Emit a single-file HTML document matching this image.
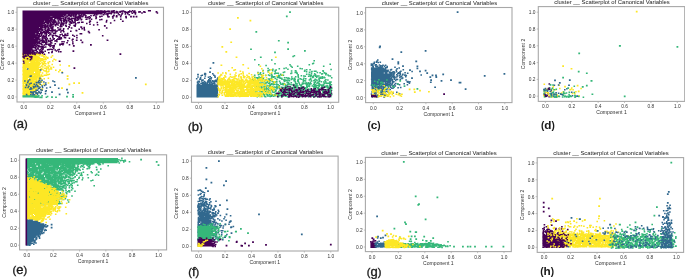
<!DOCTYPE html>
<html><head><meta charset="utf-8"><style>
html,body{margin:0;padding:0;background:#fff;width:685px;height:279px;overflow:hidden}
svg{display:block}
text{font-family:"Liberation Sans",sans-serif;fill:#333}
.wrap{will-change:transform;width:685px;height:279px}
.tk{font-size:4.8px}
.al{font-size:5.1px}
.tt{font-size:5.9px;fill:#222}
.lb{font-size:11px;fill:#1a1a1a;stroke:#1a1a1a;stroke-width:0.35px}
.lt{font-size:13px}
.lbb{font-size:10px;font-weight:bold;fill:#1a1a1a}
.lbb .lt{font-size:11.8px}
</style></head><body>
<div class="wrap"><svg width="685" height="279" viewBox="0 0 685 279">
<rect width="685" height="279" fill="#fff"/>
<defs><clipPath id="ca"><rect x="17" y="7.3" width="146.5" height="94.7"/></clipPath><clipPath id="cb"><rect x="191.5" y="7.2" width="147.2" height="95.1"/></clipPath><clipPath id="cc"><rect x="365.6" y="7.5" width="146.39999999999998" height="95.1"/></clipPath><clipPath id="cd"><rect x="538.3" y="6.6" width="146.4000000000001" height="94.80000000000001"/></clipPath><clipPath id="ce"><rect x="19.6" y="154.8" width="147.0" height="95.1"/></clipPath><clipPath id="cf"><rect x="191.5" y="156.1" width="146.60000000000002" height="94.9"/></clipPath><clipPath id="cg"><rect x="365.4" y="157.4" width="145.90000000000003" height="94.19999999999999"/></clipPath><clipPath id="ch"><rect x="537.2" y="157.6" width="146.39999999999998" height="94.80000000000001"/></clipPath></defs>
<g clip-path="url(#ca)"><path fill="#fde725" d="M22.4 52.8h1.6v1.5h-1.6zM23.7 52.6h1.6v1.5h-1.6zM25.1 52.8h1.6v1.5h-1.6zM26.1 52.6h1.6v1.5h-1.6zM27.5 52.6h1.6v1.5h-1.6zM28.6 52.6h1.6v1.5h-1.6zM30.2 52.8h1.6v1.5h-1.6zM31.3 52.6h1.6v1.5h-1.6zM32.5 52.6h1.6v1.5h-1.6zM33.7 52.6h1.6v1.5h-1.6zM34.8 53.0h1.6v1.5h-1.6zM36.3 52.6h1.6v1.5h-1.6zM38.4 53.1h1.6v1.5h-1.6zM22.4 54.2h1.6v1.5h-1.6zM23.8 53.8h1.6v1.5h-1.6zM25.1 54.1h1.6v1.5h-1.6zM26.3 54.0h1.6v1.5h-1.6zM27.6 53.9h1.6v1.5h-1.6zM28.7 54.1h1.6v1.5h-1.6zM30.1 54.2h1.6v1.5h-1.6zM31.3 54.1h1.6v1.5h-1.6zM32.5 53.9h1.6v1.5h-1.6zM33.9 54.2h1.6v1.5h-1.6zM34.8 53.8h1.6v1.5h-1.6zM36.2 53.8h1.6v1.5h-1.6zM37.7 53.6h1.6v1.5h-1.6zM38.5 54.0h1.6v1.5h-1.6zM39.6 53.6h1.6v1.5h-1.6zM41.5 54.1h1.6v1.5h-1.6zM44.5 54.3h1.6v1.5h-1.6zM22.7 55.4h1.6v1.5h-1.6zM23.9 55.3h1.6v1.5h-1.6zM25.1 55.3h1.6v1.5h-1.6zM26.4 55.2h1.6v1.5h-1.6zM28.6 55.2h1.6v1.5h-1.6zM30.0 55.1h1.6v1.5h-1.6zM31.1 55.2h1.6v1.5h-1.6zM32.6 55.2h1.6v1.5h-1.6zM33.9 55.3h1.6v1.5h-1.6zM34.9 55.3h1.6v1.5h-1.6zM36.1 55.5h1.6v1.5h-1.6zM37.3 55.5h1.6v1.5h-1.6zM39.0 54.9h1.6v1.5h-1.6zM41.2 55.2h1.6v1.5h-1.6zM42.2 54.8h1.6v1.5h-1.6zM51.7 55.1h1.6v1.5h-1.6zM22.4 56.3h1.6v1.5h-1.6zM23.8 56.5h1.6v1.5h-1.6zM25.1 56.5h1.6v1.5h-1.6zM26.4 56.4h1.6v1.5h-1.6zM27.4 56.5h1.6v1.5h-1.6zM28.6 56.6h1.6v1.5h-1.6zM29.9 56.6h1.6v1.5h-1.6zM31.4 56.6h1.6v1.5h-1.6zM32.6 56.7h1.6v1.5h-1.6zM33.9 56.7h1.6v1.5h-1.6zM35.2 56.7h1.6v1.5h-1.6zM36.0 56.4h1.6v1.5h-1.6zM37.6 56.7h1.6v1.5h-1.6zM38.4 56.9h1.6v1.5h-1.6zM43.0 56.3h1.6v1.5h-1.6zM43.6 56.1h1.6v1.5h-1.6zM45.4 56.3h1.6v1.5h-1.6zM46.9 56.7h1.6v1.5h-1.6zM50.5 56.5h1.6v1.5h-1.6zM22.6 57.9h1.6v1.5h-1.6zM23.6 57.9h1.6v1.5h-1.6zM24.8 57.7h1.6v1.5h-1.6zM26.1 57.9h1.6v1.5h-1.6zM27.6 57.7h1.6v1.5h-1.6zM28.6 57.7h1.6v1.5h-1.6zM29.9 57.8h1.6v1.5h-1.6zM31.3 57.7h1.6v1.5h-1.6zM32.4 57.6h1.6v1.5h-1.6zM33.7 57.6h1.6v1.5h-1.6zM35.1 57.6h1.6v1.5h-1.6zM36.3 57.7h1.6v1.5h-1.6zM37.8 57.7h1.6v1.5h-1.6zM38.9 57.6h1.6v1.5h-1.6zM40.3 57.9h1.6v1.5h-1.6zM41.9 57.9h1.6v1.5h-1.6zM44.5 57.7h1.6v1.5h-1.6zM46.6 57.5h1.6v1.5h-1.6zM47.1 57.2h1.6v1.5h-1.6zM22.4 58.9h1.6v1.5h-1.6zM23.8 59.0h1.6v1.5h-1.6zM24.9 59.1h1.6v1.5h-1.6zM26.3 59.1h1.6v1.5h-1.6zM27.5 58.9h1.6v1.5h-1.6zM28.7 58.9h1.6v1.5h-1.6zM29.9 59.2h1.6v1.5h-1.6zM31.1 58.8h1.6v1.5h-1.6zM32.6 58.9h1.6v1.5h-1.6zM33.6 59.1h1.6v1.5h-1.6zM35.1 59.0h1.6v1.5h-1.6zM36.2 59.0h1.6v1.5h-1.6zM37.6 59.0h1.6v1.5h-1.6zM39.1 59.3h1.6v1.5h-1.6zM40.2 59.3h1.6v1.5h-1.6zM41.8 59.5h1.6v1.5h-1.6zM43.1 58.8h1.6v1.5h-1.6zM44.3 58.6h1.6v1.5h-1.6zM45.2 58.7h1.6v1.5h-1.6zM53.3 58.4h1.6v1.5h-1.6zM54.9 59.3h1.6v1.5h-1.6zM22.6 60.1h1.6v1.5h-1.6zM23.8 60.4h1.6v1.5h-1.6zM25.0 60.1h1.6v1.5h-1.6zM26.1 60.4h1.6v1.5h-1.6zM27.4 60.1h1.6v1.5h-1.6zM28.9 60.4h1.6v1.5h-1.6zM30.1 60.1h1.6v1.5h-1.6zM31.2 60.2h1.6v1.5h-1.6zM32.7 60.1h1.6v1.5h-1.6zM33.9 60.2h1.6v1.5h-1.6zM35.1 60.1h1.6v1.5h-1.6zM36.4 60.4h1.6v1.5h-1.6zM37.3 60.4h1.6v1.5h-1.6zM39.1 60.0h1.6v1.5h-1.6zM39.5 60.6h1.6v1.5h-1.6zM40.7 60.0h1.6v1.5h-1.6zM42.7 60.4h1.6v1.5h-1.6zM44.3 60.8h1.6v1.5h-1.6zM52.0 60.3h1.6v1.5h-1.6zM23.9 61.4h1.6v1.5h-1.6zM25.0 61.6h1.6v1.5h-1.6zM26.2 61.6h1.6v1.5h-1.6zM27.3 61.4h1.6v1.5h-1.6zM30.2 61.6h1.6v1.5h-1.6zM31.2 61.5h1.6v1.5h-1.6zM32.3 61.4h1.6v1.5h-1.6zM33.7 61.5h1.6v1.5h-1.6zM35.1 61.7h1.6v1.5h-1.6zM36.1 61.4h1.6v1.5h-1.6zM37.3 61.7h1.6v1.5h-1.6zM38.8 61.7h1.6v1.5h-1.6zM41.2 61.9h1.6v1.5h-1.6zM43.7 60.9h1.6v1.5h-1.6zM47.3 61.7h1.6v1.5h-1.6zM48.8 61.1h1.6v1.5h-1.6zM22.3 62.7h1.6v1.5h-1.6zM23.9 62.9h1.6v1.5h-1.6zM25.1 62.9h1.6v1.5h-1.6zM26.1 62.7h1.6v1.5h-1.6zM27.4 62.8h1.6v1.5h-1.6zM28.6 62.8h1.6v1.5h-1.6zM30.2 62.8h1.6v1.5h-1.6zM31.4 62.9h1.6v1.5h-1.6zM32.6 62.7h1.6v1.5h-1.6zM33.9 62.7h1.6v1.5h-1.6zM34.9 62.7h1.6v1.5h-1.6zM36.1 62.8h1.6v1.5h-1.6zM37.6 62.8h1.6v1.5h-1.6zM38.8 63.1h1.6v1.5h-1.6zM39.5 62.9h1.6v1.5h-1.6zM41.9 63.3h1.6v1.5h-1.6zM42.9 62.4h1.6v1.5h-1.6zM43.6 62.6h1.6v1.5h-1.6zM45.0 62.9h1.6v1.5h-1.6zM47.6 62.9h1.6v1.5h-1.6zM22.6 63.9h1.6v1.5h-1.6zM23.9 63.9h1.6v1.5h-1.6zM24.9 63.9h1.6v1.5h-1.6zM26.4 63.9h1.6v1.5h-1.6zM27.4 64.1h1.6v1.5h-1.6zM28.9 63.9h1.6v1.5h-1.6zM30.2 63.9h1.6v1.5h-1.6zM31.3 64.0h1.6v1.5h-1.6zM32.6 63.9h1.6v1.5h-1.6zM33.6 64.0h1.6v1.5h-1.6zM35.1 63.9h1.6v1.5h-1.6zM36.2 64.0h1.6v1.5h-1.6zM37.5 64.0h1.6v1.5h-1.6zM38.4 64.3h1.6v1.5h-1.6zM41.8 63.9h1.6v1.5h-1.6zM43.0 63.7h1.6v1.5h-1.6zM51.4 63.8h1.6v1.5h-1.6zM59.4 64.2h1.6v1.5h-1.6zM22.7 65.1h1.6v1.5h-1.6zM23.9 65.4h1.6v1.5h-1.6zM25.1 65.2h1.6v1.5h-1.6zM26.2 65.3h1.6v1.5h-1.6zM27.7 65.4h1.6v1.5h-1.6zM28.6 65.2h1.6v1.5h-1.6zM30.1 65.2h1.6v1.5h-1.6zM31.2 65.2h1.6v1.5h-1.6zM32.5 65.4h1.6v1.5h-1.6zM33.9 65.3h1.6v1.5h-1.6zM34.8 65.3h1.6v1.5h-1.6zM36.2 65.3h1.6v1.5h-1.6zM37.3 65.5h1.6v1.5h-1.6zM40.8 65.3h1.6v1.5h-1.6zM44.1 65.1h1.6v1.5h-1.6zM44.5 65.1h1.6v1.5h-1.6zM47.6 65.2h1.6v1.5h-1.6zM48.7 65.3h1.6v1.5h-1.6zM22.3 66.6h1.6v1.5h-1.6zM23.8 66.7h1.6v1.5h-1.6zM24.9 66.6h1.6v1.5h-1.6zM26.2 66.4h1.6v1.5h-1.6zM27.7 66.7h1.6v1.5h-1.6zM28.9 66.4h1.6v1.5h-1.6zM30.1 66.4h1.6v1.5h-1.6zM31.2 66.7h1.6v1.5h-1.6zM32.4 66.4h1.6v1.5h-1.6zM33.9 66.4h1.6v1.5h-1.6zM34.9 66.6h1.6v1.5h-1.6zM36.4 66.5h1.6v1.5h-1.6zM37.5 66.7h1.6v1.5h-1.6zM39.0 66.5h1.6v1.5h-1.6zM39.8 66.2h1.6v1.5h-1.6zM42.1 66.3h1.6v1.5h-1.6zM46.0 66.2h1.6v1.5h-1.6zM47.6 67.1h1.6v1.5h-1.6zM50.2 66.8h1.6v1.5h-1.6zM52.7 66.5h1.6v1.5h-1.6zM22.5 67.7h1.6v1.5h-1.6zM23.6 67.8h1.6v1.5h-1.6zM25.0 67.6h1.6v1.5h-1.6zM27.7 67.7h1.6v1.5h-1.6zM28.7 67.9h1.6v1.5h-1.6zM30.1 67.9h1.6v1.5h-1.6zM31.3 67.6h1.6v1.5h-1.6zM32.5 67.7h1.6v1.5h-1.6zM33.8 67.6h1.6v1.5h-1.6zM34.8 67.9h1.6v1.5h-1.6zM36.4 67.8h1.6v1.5h-1.6zM37.3 68.0h1.6v1.5h-1.6zM40.5 68.0h1.6v1.5h-1.6zM44.1 67.4h1.6v1.5h-1.6zM44.5 67.5h1.6v1.5h-1.6zM46.0 68.1h1.6v1.5h-1.6zM50.1 68.3h1.6v1.5h-1.6zM50.7 68.2h1.6v1.5h-1.6zM22.5 68.8h1.6v1.5h-1.6zM23.6 69.2h1.6v1.5h-1.6zM25.0 69.1h1.6v1.5h-1.6zM26.2 69.1h1.6v1.5h-1.6zM28.9 69.2h1.6v1.5h-1.6zM29.8 69.0h1.6v1.5h-1.6zM31.4 68.9h1.6v1.5h-1.6zM32.7 69.0h1.6v1.5h-1.6zM33.6 69.0h1.6v1.5h-1.6zM35.0 68.9h1.6v1.5h-1.6zM36.2 69.2h1.6v1.5h-1.6zM37.7 68.8h1.6v1.5h-1.6zM39.2 69.1h1.6v1.5h-1.6zM40.9 68.5h1.6v1.5h-1.6zM42.0 68.5h1.6v1.5h-1.6zM45.6 69.6h1.6v1.5h-1.6zM48.2 68.5h1.6v1.5h-1.6zM55.0 69.4h1.6v1.5h-1.6zM22.3 70.2h1.6v1.5h-1.6zM23.9 70.3h1.6v1.5h-1.6zM24.9 70.2h1.6v1.5h-1.6zM26.1 70.3h1.6v1.5h-1.6zM27.3 70.1h1.6v1.5h-1.6zM28.6 70.3h1.6v1.5h-1.6zM30.0 70.4h1.6v1.5h-1.6zM31.4 70.4h1.6v1.5h-1.6zM32.3 70.2h1.6v1.5h-1.6zM33.7 70.3h1.6v1.5h-1.6zM35.1 70.3h1.6v1.5h-1.6zM36.3 70.1h1.6v1.5h-1.6zM37.5 70.5h1.6v1.5h-1.6zM38.6 70.2h1.6v1.5h-1.6zM42.8 69.8h1.6v1.5h-1.6zM44.2 70.3h1.6v1.5h-1.6zM45.5 70.5h1.6v1.5h-1.6zM48.1 70.3h1.6v1.5h-1.6zM22.6 71.4h1.6v1.5h-1.6zM23.8 71.4h1.6v1.5h-1.6zM25.1 71.5h1.6v1.5h-1.6zM26.3 71.7h1.6v1.5h-1.6zM27.4 71.5h1.6v1.5h-1.6zM28.6 71.5h1.6v1.5h-1.6zM30.0 71.6h1.6v1.5h-1.6zM31.4 71.4h1.6v1.5h-1.6zM32.3 71.6h1.6v1.5h-1.6zM35.1 71.7h1.6v1.5h-1.6zM36.3 71.4h1.6v1.5h-1.6zM37.3 71.2h1.6v1.5h-1.6zM39.0 71.6h1.6v1.5h-1.6zM39.5 71.1h1.6v1.5h-1.6zM47.3 71.0h1.6v1.5h-1.6zM58.0 71.0h1.6v1.5h-1.6zM61.4 71.3h1.6v1.5h-1.6zM22.5 72.9h1.6v1.5h-1.6zM23.7 72.7h1.6v1.5h-1.6zM25.1 72.7h1.6v1.5h-1.6zM26.3 72.9h1.6v1.5h-1.6zM27.4 72.8h1.6v1.5h-1.6zM28.6 72.7h1.6v1.5h-1.6zM29.8 72.7h1.6v1.5h-1.6zM31.3 72.7h1.6v1.5h-1.6zM32.5 72.8h1.6v1.5h-1.6zM33.9 72.9h1.6v1.5h-1.6zM35.0 72.7h1.6v1.5h-1.6zM36.4 73.0h1.6v1.5h-1.6zM37.8 72.5h1.6v1.5h-1.6zM38.6 72.9h1.6v1.5h-1.6zM41.7 72.3h1.6v1.5h-1.6zM45.8 72.2h1.6v1.5h-1.6zM22.3 74.0h1.6v1.5h-1.6zM23.7 74.0h1.6v1.5h-1.6zM25.2 73.8h1.6v1.5h-1.6zM26.4 73.9h1.6v1.5h-1.6zM27.5 73.8h1.6v1.5h-1.6zM28.8 73.9h1.6v1.5h-1.6zM29.9 74.1h1.6v1.5h-1.6zM31.1 74.1h1.6v1.5h-1.6zM32.7 73.8h1.6v1.5h-1.6zM33.7 74.0h1.6v1.5h-1.6zM34.8 74.1h1.6v1.5h-1.6zM36.4 73.8h1.6v1.5h-1.6zM37.5 73.6h1.6v1.5h-1.6zM38.7 73.9h1.6v1.5h-1.6zM40.8 74.3h1.6v1.5h-1.6zM43.6 74.6h1.6v1.5h-1.6zM45.2 74.4h1.6v1.5h-1.6zM45.7 74.2h1.6v1.5h-1.6zM47.1 74.0h1.6v1.5h-1.6zM48.5 73.6h1.6v1.5h-1.6zM22.7 75.3h1.6v1.5h-1.6zM23.6 75.2h1.6v1.5h-1.6zM25.1 75.2h1.6v1.5h-1.6zM26.2 75.2h1.6v1.5h-1.6zM27.5 75.3h1.6v1.5h-1.6zM28.6 75.3h1.6v1.5h-1.6zM30.0 75.3h1.6v1.5h-1.6zM31.4 75.4h1.6v1.5h-1.6zM32.5 75.4h1.6v1.5h-1.6zM33.7 75.2h1.6v1.5h-1.6zM34.8 75.3h1.6v1.5h-1.6zM36.5 75.3h1.6v1.5h-1.6zM37.4 74.8h1.6v1.5h-1.6zM38.8 75.4h1.6v1.5h-1.6zM40.6 75.0h1.6v1.5h-1.6zM41.9 75.6h1.6v1.5h-1.6zM22.5 76.4h1.6v1.5h-1.6zM23.8 76.5h1.6v1.5h-1.6zM25.1 76.7h1.6v1.5h-1.6zM26.1 76.6h1.6v1.5h-1.6zM27.5 76.5h1.6v1.5h-1.6zM28.8 76.5h1.6v1.5h-1.6zM30.2 76.6h1.6v1.5h-1.6zM31.3 76.4h1.6v1.5h-1.6zM32.3 76.5h1.6v1.5h-1.6zM33.9 76.5h1.6v1.5h-1.6zM35.0 76.6h1.6v1.5h-1.6zM36.3 76.3h1.6v1.5h-1.6zM37.1 76.2h1.6v1.5h-1.6zM38.3 76.9h1.6v1.5h-1.6zM39.9 76.1h1.6v1.5h-1.6zM22.5 77.6h1.6v1.5h-1.6zM23.7 77.7h1.6v1.5h-1.6zM24.8 77.6h1.6v1.5h-1.6zM26.3 77.6h1.6v1.5h-1.6zM28.9 77.9h1.6v1.5h-1.6zM30.1 77.7h1.6v1.5h-1.6zM31.1 77.6h1.6v1.5h-1.6zM32.6 77.7h1.6v1.5h-1.6zM33.6 77.9h1.6v1.5h-1.6zM34.8 77.9h1.6v1.5h-1.6zM36.2 77.7h1.6v1.5h-1.6zM38.0 78.1h1.6v1.5h-1.6zM38.7 77.3h1.6v1.5h-1.6zM40.5 77.9h1.6v1.5h-1.6zM43.4 77.9h1.6v1.5h-1.6zM47.6 77.5h1.6v1.5h-1.6zM22.5 79.0h1.6v1.5h-1.6zM23.7 78.9h1.6v1.5h-1.6zM24.9 78.9h1.6v1.5h-1.6zM26.1 79.1h1.6v1.5h-1.6zM27.7 78.9h1.6v1.5h-1.6zM28.9 79.0h1.6v1.5h-1.6zM30.1 79.0h1.6v1.5h-1.6zM31.1 79.1h1.6v1.5h-1.6zM32.6 79.2h1.6v1.5h-1.6zM33.8 78.8h1.6v1.5h-1.6zM35.0 78.8h1.6v1.5h-1.6zM36.1 78.9h1.6v1.5h-1.6zM38.1 79.5h1.6v1.5h-1.6zM39.2 78.9h1.6v1.5h-1.6zM22.3 80.3h1.6v1.5h-1.6zM23.7 80.3h1.6v1.5h-1.6zM25.1 80.1h1.6v1.5h-1.6zM26.4 80.2h1.6v1.5h-1.6zM27.5 80.4h1.6v1.5h-1.6zM28.9 80.2h1.6v1.5h-1.6zM30.2 80.1h1.6v1.5h-1.6zM31.2 80.2h1.6v1.5h-1.6zM32.6 80.4h1.6v1.5h-1.6zM33.9 80.4h1.6v1.5h-1.6zM35.1 80.5h1.6v1.5h-1.6zM35.8 80.2h1.6v1.5h-1.6zM22.5 81.6h1.6v1.5h-1.6zM23.9 81.6h1.6v1.5h-1.6zM24.9 81.7h1.6v1.5h-1.6zM26.1 81.6h1.6v1.5h-1.6zM27.6 81.5h1.6v1.5h-1.6zM28.7 81.4h1.6v1.5h-1.6zM30.0 81.4h1.6v1.5h-1.6zM31.3 81.6h1.6v1.5h-1.6zM32.5 81.3h1.6v1.5h-1.6zM33.7 81.7h1.6v1.5h-1.6zM35.2 81.6h1.6v1.5h-1.6zM36.4 81.0h1.6v1.5h-1.6zM37.8 80.9h1.6v1.5h-1.6zM40.4 81.3h1.6v1.5h-1.6zM41.0 81.0h1.6v1.5h-1.6zM22.4 82.7h1.6v1.5h-1.6zM23.8 82.7h1.6v1.5h-1.6zM25.0 82.8h1.6v1.5h-1.6zM26.2 82.6h1.6v1.5h-1.6zM27.4 82.7h1.6v1.5h-1.6zM28.7 82.6h1.6v1.5h-1.6zM30.0 82.7h1.6v1.5h-1.6zM31.3 82.9h1.6v1.5h-1.6zM32.6 82.9h1.6v1.5h-1.6zM33.5 82.6h1.6v1.5h-1.6zM35.3 82.7h1.6v1.5h-1.6zM37.6 82.4h1.6v1.5h-1.6zM38.8 82.4h1.6v1.5h-1.6zM43.2 83.2h1.6v1.5h-1.6zM47.7 82.3h1.6v1.5h-1.6zM22.6 83.9h1.6v1.5h-1.6zM24.9 84.1h1.6v1.5h-1.6zM26.3 84.1h1.6v1.5h-1.6zM27.4 84.0h1.6v1.5h-1.6zM28.6 83.9h1.6v1.5h-1.6zM30.0 84.0h1.6v1.5h-1.6zM31.4 84.1h1.6v1.5h-1.6zM32.3 83.9h1.6v1.5h-1.6zM33.7 84.1h1.6v1.5h-1.6zM34.7 84.2h1.6v1.5h-1.6zM36.0 84.1h1.6v1.5h-1.6zM37.2 84.0h1.6v1.5h-1.6zM40.5 83.9h1.6v1.5h-1.6zM41.0 84.5h1.6v1.5h-1.6zM22.4 85.2h1.6v1.5h-1.6zM23.8 85.3h1.6v1.5h-1.6zM24.9 85.3h1.6v1.5h-1.6zM26.2 85.4h1.6v1.5h-1.6zM27.6 85.1h1.6v1.5h-1.6zM28.9 85.1h1.6v1.5h-1.6zM30.0 85.3h1.6v1.5h-1.6zM31.1 85.1h1.6v1.5h-1.6zM32.4 85.3h1.6v1.5h-1.6zM34.0 85.3h1.6v1.5h-1.6zM34.8 84.9h1.6v1.5h-1.6zM37.9 84.7h1.6v1.5h-1.6zM22.6 86.5h1.6v1.5h-1.6zM23.9 86.6h1.6v1.5h-1.6zM24.8 86.7h1.6v1.5h-1.6zM26.4 86.6h1.6v1.5h-1.6zM27.7 86.6h1.6v1.5h-1.6zM28.7 86.5h1.6v1.5h-1.6zM30.1 86.6h1.6v1.5h-1.6zM31.4 86.3h1.6v1.5h-1.6zM32.4 86.4h1.6v1.5h-1.6zM33.7 86.4h1.6v1.5h-1.6zM35.3 86.5h1.6v1.5h-1.6zM37.7 86.3h1.6v1.5h-1.6zM38.5 86.1h1.6v1.5h-1.6zM22.4 87.7h1.6v1.5h-1.6zM23.9 87.7h1.6v1.5h-1.6zM24.9 87.6h1.6v1.5h-1.6zM26.2 87.9h1.6v1.5h-1.6zM27.5 87.9h1.6v1.5h-1.6zM28.8 87.6h1.6v1.5h-1.6zM30.0 87.6h1.6v1.5h-1.6zM31.2 87.7h1.6v1.5h-1.6zM32.6 87.7h1.6v1.5h-1.6zM34.2 87.8h1.6v1.5h-1.6zM35.3 87.2h1.6v1.5h-1.6zM35.9 87.8h1.6v1.5h-1.6zM41.5 88.2h1.6v1.5h-1.6zM22.4 88.8h1.6v1.5h-1.6zM23.6 89.0h1.6v1.5h-1.6zM25.1 89.1h1.6v1.5h-1.6zM26.2 88.9h1.6v1.5h-1.6zM27.5 88.8h1.6v1.5h-1.6zM28.7 89.1h1.6v1.5h-1.6zM29.9 88.9h1.6v1.5h-1.6zM31.4 88.8h1.6v1.5h-1.6zM32.6 89.3h1.6v1.5h-1.6zM34.4 89.6h1.6v1.5h-1.6zM35.0 88.5h1.6v1.5h-1.6zM35.7 89.1h1.6v1.5h-1.6zM40.5 88.7h1.6v1.5h-1.6zM41.5 88.8h1.6v1.5h-1.6zM22.6 90.3h1.6v1.5h-1.6zM23.6 90.4h1.6v1.5h-1.6zM25.1 90.4h1.6v1.5h-1.6zM26.1 90.4h1.6v1.5h-1.6zM27.5 90.1h1.6v1.5h-1.6zM28.6 90.4h1.6v1.5h-1.6zM29.9 90.2h1.6v1.5h-1.6zM31.0 90.1h1.6v1.5h-1.6zM32.3 90.4h1.6v1.5h-1.6zM34.0 89.9h1.6v1.5h-1.6zM34.8 90.8h1.6v1.5h-1.6zM22.5 91.5h1.6v1.5h-1.6zM23.7 91.6h1.6v1.5h-1.6zM25.0 91.3h1.6v1.5h-1.6zM26.3 91.6h1.6v1.5h-1.6zM27.7 91.5h1.6v1.5h-1.6zM28.7 91.6h1.6v1.5h-1.6zM29.9 91.6h1.6v1.5h-1.6zM32.8 91.2h1.6v1.5h-1.6zM35.0 91.5h1.6v1.5h-1.6zM22.3 92.8h1.6v1.5h-1.6zM23.9 92.7h1.6v1.5h-1.6zM25.1 92.9h1.6v1.5h-1.6zM26.1 92.6h1.6v1.5h-1.6zM27.4 92.7h1.6v1.5h-1.6zM28.7 92.8h1.6v1.5h-1.6zM29.9 92.5h1.6v1.5h-1.6zM31.4 92.5h1.6v1.5h-1.6zM32.7 92.3h1.6v1.5h-1.6zM36.8 92.2h1.6v1.5h-1.6zM22.6 93.9h1.6v1.5h-1.6zM23.6 94.0h1.6v1.5h-1.6zM25.0 94.1h1.6v1.5h-1.6zM26.1 93.8h1.6v1.5h-1.6zM27.4 93.9h1.6v1.5h-1.6zM28.9 93.9h1.6v1.5h-1.6zM29.7 94.3h1.6v1.5h-1.6zM31.3 94.3h1.6v1.5h-1.6zM33.9 94.4h1.6v1.5h-1.6zM22.6 95.3h1.6v1.5h-1.6zM23.6 95.1h1.6v1.5h-1.6zM24.8 95.4h1.6v1.5h-1.6zM26.4 95.2h1.6v1.5h-1.6zM27.3 95.1h1.6v1.5h-1.6zM28.8 95.1h1.6v1.5h-1.6zM30.5 95.3h1.6v1.5h-1.6zM31.3 95.7h1.6v1.5h-1.6zM33.4 95.0h1.6v1.5h-1.6zM35.3 94.6h1.6v1.5h-1.6z"/>
<path fill="#440154" d="M22.5 10.4h72.8v1.35h-72.8zM22.5 11.6h72.8v1.35h-72.8zM22.5 12.9h72.8v1.35h-72.8zM22.5 14.1h40.4v1.35h-40.4zM22.5 15.4h30.3v1.35h-30.3zM22.5 16.6h22.8v1.35h-22.8zM22.5 17.9h21.6v1.35h-21.6zM22.5 19.1h20.3v1.35h-20.3zM22.5 20.4h17.8v1.35h-17.8zM22.5 21.6h16.6v1.35h-16.6zM22.5 22.9h14.1v1.35h-14.1zM22.5 24.1h12.8v1.35h-12.8zM22.5 25.4h11.6v1.35h-11.6zM22.5 26.6h11.6v1.35h-11.6zM22.5 27.9h10.3v1.35h-10.3zM22.5 29.1h10.3v1.35h-10.3zM22.5 30.4h10.3v1.35h-10.3zM22.5 31.7h10.3v1.35h-10.3zM22.5 32.9h9.1v1.35h-9.1zM22.5 34.2h9.1v1.35h-9.1zM22.5 35.4h9.1v1.35h-9.1zM22.5 36.7h9.1v1.35h-9.1zM22.5 37.9h7.8v1.35h-7.8zM22.5 39.2h7.8v1.35h-7.8zM22.5 40.4h7.8v1.35h-7.8zM22.5 41.7h6.6v1.35h-6.6zM22.5 42.9h6.6v1.35h-6.6zM22.5 44.2h6.6v1.35h-6.6zM22.5 45.4h6.6v1.35h-6.6zM22.5 46.7h5.3v1.35h-5.3zM22.5 47.9h5.3v1.35h-5.3zM22.5 49.2h5.3v1.35h-5.3zM22.5 50.4h5.3v1.35h-5.3zM22.5 51.7h4.1v1.35h-4.1zM22.5 52.9h4.1v1.35h-4.1zM95.1 10.5h1.6v1.5h-1.6zM96.2 10.3h1.6v1.5h-1.6zM97.5 10.3h1.6v1.5h-1.6zM98.7 10.4h1.6v1.5h-1.6zM100.2 10.2h1.6v1.5h-1.6zM101.1 10.3h1.6v1.5h-1.6zM102.3 10.7h1.6v1.5h-1.6zM103.9 10.2h1.6v1.5h-1.6zM105.1 10.7h1.6v1.5h-1.6zM106.2 10.8h1.6v1.5h-1.6zM107.2 10.5h1.6v1.5h-1.6zM108.6 10.6h1.6v1.5h-1.6zM110.6 10.5h1.6v1.5h-1.6zM111.1 10.7h1.6v1.5h-1.6zM112.5 10.3h1.6v1.5h-1.6zM113.3 10.1h1.6v1.5h-1.6zM116.0 11.0h1.6v1.5h-1.6zM121.1 10.6h1.6v1.5h-1.6zM122.4 10.3h1.6v1.5h-1.6zM123.6 10.8h1.6v1.5h-1.6zM128.0 10.9h1.6v1.5h-1.6zM129.0 10.2h1.6v1.5h-1.6zM130.5 10.9h1.6v1.5h-1.6zM131.7 9.9h1.6v1.5h-1.6zM131.9 10.0h1.6v1.5h-1.6zM134.0 10.2h1.6v1.5h-1.6zM147.9 10.0h1.6v1.5h-1.6zM148.3 9.9h1.6v1.5h-1.6zM149.4 10.1h1.6v1.5h-1.6zM95.1 11.7h1.6v1.5h-1.6zM96.3 11.8h1.6v1.5h-1.6zM97.4 11.7h1.6v1.5h-1.6zM98.7 11.7h1.6v1.5h-1.6zM100.1 11.8h1.6v1.5h-1.6zM101.1 11.8h1.6v1.5h-1.6zM102.3 11.4h1.6v1.5h-1.6zM103.6 11.4h1.6v1.5h-1.6zM104.9 11.6h1.6v1.5h-1.6zM108.5 12.2h1.6v1.5h-1.6zM109.8 12.2h1.6v1.5h-1.6zM111.5 11.3h1.6v1.5h-1.6zM113.1 11.2h1.6v1.5h-1.6zM113.7 12.1h1.6v1.5h-1.6zM115.6 12.0h1.6v1.5h-1.6zM116.8 11.5h1.6v1.5h-1.6zM118.7 11.3h1.6v1.5h-1.6zM119.5 11.2h1.6v1.5h-1.6zM121.7 12.2h1.6v1.5h-1.6zM125.2 11.8h1.6v1.5h-1.6zM126.2 11.6h1.6v1.5h-1.6zM127.1 11.6h1.6v1.5h-1.6zM133.3 11.8h1.6v1.5h-1.6zM134.8 11.8h1.6v1.5h-1.6zM138.0 11.3h1.6v1.5h-1.6zM141.2 12.2h1.6v1.5h-1.6zM144.2 11.4h1.6v1.5h-1.6zM156.6 12.2h1.6v1.5h-1.6zM94.9 13.1h1.6v1.5h-1.6zM96.2 13.0h1.6v1.5h-1.6zM97.5 13.0h1.6v1.5h-1.6zM98.6 12.8h1.6v1.5h-1.6zM99.8 13.0h1.6v1.5h-1.6zM101.1 13.0h1.6v1.5h-1.6zM103.5 12.9h1.6v1.5h-1.6zM105.2 13.3h1.6v1.5h-1.6zM106.4 13.0h1.6v1.5h-1.6zM107.6 12.9h1.6v1.5h-1.6zM108.6 12.5h1.6v1.5h-1.6zM110.4 12.9h1.6v1.5h-1.6zM110.7 12.6h1.6v1.5h-1.6zM113.5 12.3h1.6v1.5h-1.6zM117.5 13.1h1.6v1.5h-1.6zM121.2 13.2h1.6v1.5h-1.6zM124.6 13.3h1.6v1.5h-1.6zM127.0 12.9h1.6v1.5h-1.6zM131.5 12.5h1.6v1.5h-1.6zM134.6 13.2h1.6v1.5h-1.6zM62.5 14.1h1.6v1.5h-1.6zM63.8 14.2h1.6v1.5h-1.6zM65.0 14.3h1.6v1.5h-1.6zM67.5 14.3h1.6v1.5h-1.6zM68.9 14.1h1.6v1.5h-1.6zM70.3 14.5h1.6v1.5h-1.6zM71.1 14.1h1.6v1.5h-1.6zM72.8 14.3h1.6v1.5h-1.6zM73.3 14.3h1.6v1.5h-1.6zM75.0 13.9h1.6v1.5h-1.6zM75.8 14.0h1.6v1.5h-1.6zM78.2 14.1h1.6v1.5h-1.6zM80.7 14.2h1.6v1.5h-1.6zM82.6 14.2h1.6v1.5h-1.6zM84.1 14.2h1.6v1.5h-1.6zM92.8 14.7h1.6v1.5h-1.6zM94.0 14.3h1.6v1.5h-1.6zM96.0 14.0h1.6v1.5h-1.6zM102.8 14.0h1.6v1.5h-1.6zM106.8 14.5h1.6v1.5h-1.6zM113.2 14.6h1.6v1.5h-1.6zM118.4 13.9h1.6v1.5h-1.6zM120.3 14.6h1.6v1.5h-1.6zM128.5 14.0h1.6v1.5h-1.6zM52.6 15.4h1.6v1.5h-1.6zM53.7 15.3h1.6v1.5h-1.6zM55.0 15.5h1.6v1.5h-1.6zM56.1 15.4h1.6v1.5h-1.6zM57.5 15.6h1.6v1.5h-1.6zM58.7 15.2h1.6v1.5h-1.6zM60.2 15.6h1.6v1.5h-1.6zM61.3 15.6h1.6v1.5h-1.6zM62.4 15.7h1.6v1.5h-1.6zM63.8 15.1h1.6v1.5h-1.6zM66.3 15.4h1.6v1.5h-1.6zM67.6 15.0h1.6v1.5h-1.6zM68.5 15.1h1.6v1.5h-1.6zM70.1 15.6h1.6v1.5h-1.6zM71.1 15.0h1.6v1.5h-1.6zM73.1 15.7h1.6v1.5h-1.6zM75.0 15.0h1.6v1.5h-1.6zM77.8 15.7h1.6v1.5h-1.6zM78.8 14.8h1.6v1.5h-1.6zM80.1 14.8h1.6v1.5h-1.6zM81.1 15.9h1.6v1.5h-1.6zM82.1 15.7h1.6v1.5h-1.6zM85.1 15.1h1.6v1.5h-1.6zM88.5 15.9h1.6v1.5h-1.6zM90.2 14.9h1.6v1.5h-1.6zM95.2 15.7h1.6v1.5h-1.6zM101.1 15.5h1.6v1.5h-1.6zM108.2 16.0h1.6v1.5h-1.6zM113.0 14.9h1.6v1.5h-1.6zM115.9 14.9h1.6v1.5h-1.6zM119.9 15.9h1.6v1.5h-1.6zM45.1 16.7h1.6v1.5h-1.6zM46.4 16.7h1.6v1.5h-1.6zM47.6 16.6h1.6v1.5h-1.6zM48.6 16.6h1.6v1.5h-1.6zM49.8 16.9h1.6v1.5h-1.6zM51.4 16.9h1.6v1.5h-1.6zM52.4 16.5h1.6v1.5h-1.6zM53.9 16.6h1.6v1.5h-1.6zM55.3 16.6h1.6v1.5h-1.6zM56.0 16.9h1.6v1.5h-1.6zM57.3 16.9h1.6v1.5h-1.6zM58.9 16.4h1.6v1.5h-1.6zM59.6 16.3h1.6v1.5h-1.6zM64.3 17.1h1.6v1.5h-1.6zM64.7 16.6h1.6v1.5h-1.6zM66.2 17.2h1.6v1.5h-1.6zM68.0 17.3h1.6v1.5h-1.6zM68.5 17.3h1.6v1.5h-1.6zM74.4 16.6h1.6v1.5h-1.6zM75.6 16.8h1.6v1.5h-1.6zM76.3 16.2h1.6v1.5h-1.6zM78.0 17.0h1.6v1.5h-1.6zM79.3 16.3h1.6v1.5h-1.6zM79.4 16.7h1.6v1.5h-1.6zM84.8 16.6h1.6v1.5h-1.6zM86.5 16.7h1.6v1.5h-1.6zM87.2 16.5h1.6v1.5h-1.6zM89.4 16.9h1.6v1.5h-1.6zM95.5 17.0h1.6v1.5h-1.6zM112.1 17.2h1.6v1.5h-1.6zM125.4 16.9h1.6v1.5h-1.6zM43.7 17.8h1.6v1.5h-1.6zM44.9 17.9h1.6v1.5h-1.6zM46.3 18.0h1.6v1.5h-1.6zM47.5 17.8h1.6v1.5h-1.6zM48.8 17.8h1.6v1.5h-1.6zM50.2 18.0h1.6v1.5h-1.6zM51.1 17.8h1.6v1.5h-1.6zM53.9 18.2h1.6v1.5h-1.6zM54.7 17.6h1.6v1.5h-1.6zM56.6 18.3h1.6v1.5h-1.6zM57.5 17.5h1.6v1.5h-1.6zM59.1 17.9h1.6v1.5h-1.6zM59.6 18.3h1.6v1.5h-1.6zM60.7 17.6h1.6v1.5h-1.6zM62.4 17.5h1.6v1.5h-1.6zM64.4 18.2h1.6v1.5h-1.6zM67.4 18.2h1.6v1.5h-1.6zM69.0 17.7h1.6v1.5h-1.6zM70.9 17.6h1.6v1.5h-1.6zM72.4 17.8h1.6v1.5h-1.6zM73.9 17.9h1.6v1.5h-1.6zM74.5 18.1h1.6v1.5h-1.6zM76.4 17.5h1.6v1.5h-1.6zM77.3 18.4h1.6v1.5h-1.6zM79.2 17.7h1.6v1.5h-1.6zM80.8 18.5h1.6v1.5h-1.6zM85.4 18.4h1.6v1.5h-1.6zM88.4 18.1h1.6v1.5h-1.6zM90.7 18.5h1.6v1.5h-1.6zM95.2 17.7h1.6v1.5h-1.6zM42.5 19.2h1.6v1.5h-1.6zM43.8 19.3h1.6v1.5h-1.6zM45.1 19.2h1.6v1.5h-1.6zM46.3 19.4h1.6v1.5h-1.6zM47.7 19.1h1.6v1.5h-1.6zM48.8 19.4h1.6v1.5h-1.6zM49.9 19.0h1.6v1.5h-1.6zM51.2 19.1h1.6v1.5h-1.6zM52.6 19.3h1.6v1.5h-1.6zM53.4 19.4h1.6v1.5h-1.6zM58.3 18.9h1.6v1.5h-1.6zM59.7 19.5h1.6v1.5h-1.6zM60.8 19.3h1.6v1.5h-1.6zM62.8 19.4h1.6v1.5h-1.6zM63.2 19.1h1.6v1.5h-1.6zM64.9 19.0h1.6v1.5h-1.6zM66.0 19.8h1.6v1.5h-1.6zM68.6 19.1h1.6v1.5h-1.6zM70.2 18.9h1.6v1.5h-1.6zM71.0 19.2h1.6v1.5h-1.6zM74.1 19.5h1.6v1.5h-1.6zM75.6 19.3h1.6v1.5h-1.6zM76.4 19.5h1.6v1.5h-1.6zM77.7 19.0h1.6v1.5h-1.6zM80.5 19.1h1.6v1.5h-1.6zM86.0 18.6h1.6v1.5h-1.6zM99.2 19.0h1.6v1.5h-1.6zM101.0 18.7h1.6v1.5h-1.6zM105.9 19.8h1.6v1.5h-1.6zM113.7 19.8h1.6v1.5h-1.6zM120.0 18.6h1.6v1.5h-1.6zM40.0 20.3h1.6v1.5h-1.6zM41.1 20.4h1.6v1.5h-1.6zM42.6 20.4h1.6v1.5h-1.6zM44.8 20.3h1.6v1.5h-1.6zM46.3 20.3h1.6v1.5h-1.6zM47.6 20.3h1.6v1.5h-1.6zM48.5 20.7h1.6v1.5h-1.6zM50.3 20.4h1.6v1.5h-1.6zM52.2 20.8h1.6v1.5h-1.6zM53.4 20.9h1.6v1.5h-1.6zM54.7 20.2h1.6v1.5h-1.6zM57.4 20.3h1.6v1.5h-1.6zM60.5 19.9h1.6v1.5h-1.6zM60.7 20.2h1.6v1.5h-1.6zM63.0 20.4h1.6v1.5h-1.6zM63.5 20.6h1.6v1.5h-1.6zM64.5 20.0h1.6v1.5h-1.6zM66.0 20.3h1.6v1.5h-1.6zM67.9 20.1h1.6v1.5h-1.6zM69.7 20.9h1.6v1.5h-1.6zM71.5 20.1h1.6v1.5h-1.6zM72.0 21.0h1.6v1.5h-1.6zM74.3 21.0h1.6v1.5h-1.6zM89.2 20.3h1.6v1.5h-1.6zM89.6 20.5h1.6v1.5h-1.6zM38.8 21.7h1.6v1.5h-1.6zM39.9 21.8h1.6v1.5h-1.6zM41.2 21.7h1.6v1.5h-1.6zM42.3 21.8h1.6v1.5h-1.6zM44.0 21.8h1.6v1.5h-1.6zM44.9 21.6h1.6v1.5h-1.6zM46.3 21.7h1.6v1.5h-1.6zM47.7 21.7h1.6v1.5h-1.6zM48.5 21.3h1.6v1.5h-1.6zM49.7 21.5h1.6v1.5h-1.6zM51.6 21.6h1.6v1.5h-1.6zM53.0 22.1h1.6v1.5h-1.6zM54.3 21.4h1.6v1.5h-1.6zM55.0 21.1h1.6v1.5h-1.6zM56.3 22.2h1.6v1.5h-1.6zM58.2 21.4h1.6v1.5h-1.6zM60.5 21.7h1.6v1.5h-1.6zM62.2 22.2h1.6v1.5h-1.6zM63.3 22.2h1.6v1.5h-1.6zM65.2 22.0h1.6v1.5h-1.6zM65.8 21.5h1.6v1.5h-1.6zM68.8 21.2h1.6v1.5h-1.6zM70.0 22.2h1.6v1.5h-1.6zM70.7 21.7h1.6v1.5h-1.6zM73.0 22.0h1.6v1.5h-1.6zM74.2 21.6h1.6v1.5h-1.6zM77.2 21.9h1.6v1.5h-1.6zM78.4 21.7h1.6v1.5h-1.6zM80.9 21.4h1.6v1.5h-1.6zM82.0 21.4h1.6v1.5h-1.6zM88.8 21.6h1.6v1.5h-1.6zM96.5 21.7h1.6v1.5h-1.6zM105.6 21.3h1.6v1.5h-1.6zM109.9 22.2h1.6v1.5h-1.6zM36.3 22.9h1.6v1.5h-1.6zM37.4 23.0h1.6v1.5h-1.6zM38.7 22.8h1.6v1.5h-1.6zM40.0 23.0h1.6v1.5h-1.6zM41.2 22.9h1.6v1.5h-1.6zM42.5 22.8h1.6v1.5h-1.6zM43.7 22.7h1.6v1.5h-1.6zM46.3 22.8h1.6v1.5h-1.6zM47.8 23.2h1.6v1.5h-1.6zM49.8 22.9h1.6v1.5h-1.6zM51.6 23.2h1.6v1.5h-1.6zM53.2 22.8h1.6v1.5h-1.6zM55.5 22.9h1.6v1.5h-1.6zM56.1 22.5h1.6v1.5h-1.6zM58.1 22.5h1.6v1.5h-1.6zM60.2 23.3h1.6v1.5h-1.6zM61.4 23.1h1.6v1.5h-1.6zM62.7 23.5h1.6v1.5h-1.6zM65.3 22.7h1.6v1.5h-1.6zM68.6 23.4h1.6v1.5h-1.6zM71.0 22.4h1.6v1.5h-1.6zM74.9 22.9h1.6v1.5h-1.6zM86.0 22.8h1.6v1.5h-1.6zM89.2 23.4h1.6v1.5h-1.6zM35.0 24.2h1.6v1.5h-1.6zM36.3 24.2h1.6v1.5h-1.6zM37.5 24.1h1.6v1.5h-1.6zM38.8 24.3h1.6v1.5h-1.6zM39.8 24.2h1.6v1.5h-1.6zM41.2 24.0h1.6v1.5h-1.6zM42.4 24.5h1.6v1.5h-1.6zM43.5 24.4h1.6v1.5h-1.6zM44.6 24.1h1.6v1.5h-1.6zM46.5 24.6h1.6v1.5h-1.6zM49.3 24.5h1.6v1.5h-1.6zM50.1 23.6h1.6v1.5h-1.6zM50.8 23.6h1.6v1.5h-1.6zM52.3 23.9h1.6v1.5h-1.6zM54.3 23.9h1.6v1.5h-1.6zM55.4 23.8h1.6v1.5h-1.6zM56.0 23.6h1.6v1.5h-1.6zM57.3 24.3h1.6v1.5h-1.6zM59.9 24.3h1.6v1.5h-1.6zM60.8 24.0h1.6v1.5h-1.6zM62.6 24.3h1.6v1.5h-1.6zM65.0 24.7h1.6v1.5h-1.6zM69.2 24.3h1.6v1.5h-1.6zM73.3 24.8h1.6v1.5h-1.6zM74.5 24.5h1.6v1.5h-1.6zM92.9 24.3h1.6v1.5h-1.6zM96.8 24.0h1.6v1.5h-1.6zM33.6 25.3h1.6v1.5h-1.6zM35.1 25.5h1.6v1.5h-1.6zM36.2 25.6h1.6v1.5h-1.6zM37.6 25.4h1.6v1.5h-1.6zM39.0 25.4h1.6v1.5h-1.6zM40.1 25.4h1.6v1.5h-1.6zM41.6 25.5h1.6v1.5h-1.6zM42.7 25.2h1.6v1.5h-1.6zM44.0 25.2h1.6v1.5h-1.6zM45.3 25.5h1.6v1.5h-1.6zM46.7 25.0h1.6v1.5h-1.6zM48.1 25.2h1.6v1.5h-1.6zM49.4 26.0h1.6v1.5h-1.6zM50.9 25.0h1.6v1.5h-1.6zM52.2 25.9h1.6v1.5h-1.6zM54.8 25.0h1.6v1.5h-1.6zM59.4 25.7h1.6v1.5h-1.6zM59.8 25.9h1.6v1.5h-1.6zM61.0 25.8h1.6v1.5h-1.6zM65.5 25.4h1.6v1.5h-1.6zM68.2 26.1h1.6v1.5h-1.6zM74.3 25.6h1.6v1.5h-1.6zM33.8 26.8h1.6v1.5h-1.6zM35.1 26.6h1.6v1.5h-1.6zM36.2 26.6h1.6v1.5h-1.6zM37.5 26.6h1.6v1.5h-1.6zM39.8 26.7h1.6v1.5h-1.6zM41.1 27.1h1.6v1.5h-1.6zM42.2 27.1h1.6v1.5h-1.6zM43.9 26.4h1.6v1.5h-1.6zM44.9 26.7h1.6v1.5h-1.6zM46.6 26.3h1.6v1.5h-1.6zM47.6 27.0h1.6v1.5h-1.6zM50.1 26.2h1.6v1.5h-1.6zM51.8 27.1h1.6v1.5h-1.6zM57.1 26.9h1.6v1.5h-1.6zM68.5 26.5h1.6v1.5h-1.6zM70.8 27.2h1.6v1.5h-1.6zM80.2 26.3h1.6v1.5h-1.6zM80.7 26.4h1.6v1.5h-1.6zM83.4 26.7h1.6v1.5h-1.6zM105.9 27.2h1.6v1.5h-1.6zM32.5 27.9h1.6v1.5h-1.6zM33.9 27.9h1.6v1.5h-1.6zM35.0 27.9h1.6v1.5h-1.6zM36.2 28.1h1.6v1.5h-1.6zM37.3 27.8h1.6v1.5h-1.6zM38.9 27.7h1.6v1.5h-1.6zM40.1 27.8h1.6v1.5h-1.6zM40.9 27.9h1.6v1.5h-1.6zM44.1 28.3h1.6v1.5h-1.6zM44.9 27.8h1.6v1.5h-1.6zM47.3 28.3h1.6v1.5h-1.6zM48.2 28.1h1.6v1.5h-1.6zM50.3 27.4h1.6v1.5h-1.6zM51.0 27.8h1.6v1.5h-1.6zM52.0 28.4h1.6v1.5h-1.6zM58.6 28.4h1.6v1.5h-1.6zM59.8 28.2h1.6v1.5h-1.6zM62.9 28.1h1.6v1.5h-1.6zM67.3 28.1h1.6v1.5h-1.6zM78.4 28.4h1.6v1.5h-1.6zM81.3 28.1h1.6v1.5h-1.6zM83.4 28.0h1.6v1.5h-1.6zM32.4 29.2h1.6v1.5h-1.6zM33.8 29.3h1.6v1.5h-1.6zM35.0 29.3h1.6v1.5h-1.6zM36.4 29.3h1.6v1.5h-1.6zM37.8 29.1h1.6v1.5h-1.6zM38.9 29.0h1.6v1.5h-1.6zM40.3 29.0h1.6v1.5h-1.6zM41.4 29.6h1.6v1.5h-1.6zM42.0 29.1h1.6v1.5h-1.6zM44.5 29.7h1.6v1.5h-1.6zM46.3 29.4h1.6v1.5h-1.6zM47.0 28.7h1.6v1.5h-1.6zM48.3 29.4h1.6v1.5h-1.6zM50.5 29.5h1.6v1.5h-1.6zM51.7 28.9h1.6v1.5h-1.6zM52.5 29.4h1.6v1.5h-1.6zM54.3 29.2h1.6v1.5h-1.6zM57.7 29.3h1.6v1.5h-1.6zM59.3 29.2h1.6v1.5h-1.6zM62.5 29.4h1.6v1.5h-1.6zM75.4 29.7h1.6v1.5h-1.6zM83.7 29.2h1.6v1.5h-1.6zM98.3 28.9h1.6v1.5h-1.6zM32.6 30.4h1.6v1.5h-1.6zM33.7 30.5h1.6v1.5h-1.6zM35.0 30.4h1.6v1.5h-1.6zM36.4 30.2h1.6v1.5h-1.6zM37.6 30.7h1.6v1.5h-1.6zM38.5 30.2h1.6v1.5h-1.6zM40.2 30.7h1.6v1.5h-1.6zM42.6 30.7h1.6v1.5h-1.6zM43.5 31.0h1.6v1.5h-1.6zM45.6 30.4h1.6v1.5h-1.6zM46.5 30.2h1.6v1.5h-1.6zM47.6 30.5h1.6v1.5h-1.6zM49.7 30.1h1.6v1.5h-1.6zM51.9 30.1h1.6v1.5h-1.6zM52.7 30.1h1.6v1.5h-1.6zM54.3 30.0h1.6v1.5h-1.6zM55.1 30.7h1.6v1.5h-1.6zM56.2 30.3h1.6v1.5h-1.6zM61.1 30.0h1.6v1.5h-1.6zM63.0 30.9h1.6v1.5h-1.6zM70.0 30.6h1.6v1.5h-1.6zM75.8 30.0h1.6v1.5h-1.6zM32.6 31.6h1.6v1.5h-1.6zM33.9 31.7h1.6v1.5h-1.6zM34.9 31.8h1.6v1.5h-1.6zM36.4 31.8h1.6v1.5h-1.6zM37.3 31.7h1.6v1.5h-1.6zM40.0 31.5h1.6v1.5h-1.6zM41.3 31.8h1.6v1.5h-1.6zM42.0 32.0h1.6v1.5h-1.6zM43.5 31.5h1.6v1.5h-1.6zM44.8 31.4h1.6v1.5h-1.6zM45.7 31.2h1.6v1.5h-1.6zM47.2 31.6h1.6v1.5h-1.6zM49.0 32.0h1.6v1.5h-1.6zM51.2 31.2h1.6v1.5h-1.6zM54.7 32.3h1.6v1.5h-1.6zM60.0 31.3h1.6v1.5h-1.6zM88.6 32.0h1.6v1.5h-1.6zM31.2 32.9h1.6v1.5h-1.6zM32.6 32.8h1.6v1.5h-1.6zM33.9 33.0h1.6v1.5h-1.6zM36.2 33.2h1.6v1.5h-1.6zM37.3 32.6h1.6v1.5h-1.6zM38.8 33.1h1.6v1.5h-1.6zM39.9 32.8h1.6v1.5h-1.6zM41.2 33.1h1.6v1.5h-1.6zM44.1 32.9h1.6v1.5h-1.6zM45.7 32.6h1.6v1.5h-1.6zM47.9 32.4h1.6v1.5h-1.6zM50.0 33.3h1.6v1.5h-1.6zM52.8 32.6h1.6v1.5h-1.6zM53.9 32.5h1.6v1.5h-1.6zM61.3 33.6h1.6v1.5h-1.6zM64.2 33.5h1.6v1.5h-1.6zM64.8 33.4h1.6v1.5h-1.6zM66.9 32.8h1.6v1.5h-1.6zM79.5 33.1h1.6v1.5h-1.6zM80.7 33.0h1.6v1.5h-1.6zM31.2 34.2h1.6v1.5h-1.6zM32.5 34.1h1.6v1.5h-1.6zM33.6 34.4h1.6v1.5h-1.6zM35.0 34.2h1.6v1.5h-1.6zM36.5 34.0h1.6v1.5h-1.6zM37.8 34.4h1.6v1.5h-1.6zM38.5 34.4h1.6v1.5h-1.6zM40.7 33.7h1.6v1.5h-1.6zM42.9 34.8h1.6v1.5h-1.6zM45.4 34.6h1.6v1.5h-1.6zM45.8 33.6h1.6v1.5h-1.6zM49.1 33.9h1.6v1.5h-1.6zM51.5 34.8h1.6v1.5h-1.6zM52.5 34.5h1.6v1.5h-1.6zM54.5 34.6h1.6v1.5h-1.6zM59.5 34.0h1.6v1.5h-1.6zM64.4 34.8h1.6v1.5h-1.6zM65.8 34.8h1.6v1.5h-1.6zM66.9 34.5h1.6v1.5h-1.6zM72.0 34.4h1.6v1.5h-1.6zM76.1 34.7h1.6v1.5h-1.6zM31.4 35.4h1.6v1.5h-1.6zM32.6 35.5h1.6v1.5h-1.6zM33.8 35.5h1.6v1.5h-1.6zM35.2 35.4h1.6v1.5h-1.6zM36.1 35.2h1.6v1.5h-1.6zM37.5 35.6h1.6v1.5h-1.6zM38.6 35.6h1.6v1.5h-1.6zM39.7 35.5h1.6v1.5h-1.6zM40.8 34.9h1.6v1.5h-1.6zM42.1 35.8h1.6v1.5h-1.6zM43.7 35.7h1.6v1.5h-1.6zM45.2 35.2h1.6v1.5h-1.6zM47.9 35.1h1.6v1.5h-1.6zM51.8 35.2h1.6v1.5h-1.6zM55.3 35.0h1.6v1.5h-1.6zM56.5 35.6h1.6v1.5h-1.6zM58.8 35.7h1.6v1.5h-1.6zM62.1 35.0h1.6v1.5h-1.6zM63.5 35.0h1.6v1.5h-1.6zM73.6 35.5h1.6v1.5h-1.6zM101.9 35.1h1.6v1.5h-1.6zM31.3 36.8h1.6v1.5h-1.6zM32.6 36.8h1.6v1.5h-1.6zM33.8 36.6h1.6v1.5h-1.6zM35.2 36.5h1.6v1.5h-1.6zM36.1 37.0h1.6v1.5h-1.6zM37.4 36.9h1.6v1.5h-1.6zM38.4 36.3h1.6v1.5h-1.6zM41.4 37.2h1.6v1.5h-1.6zM44.2 36.2h1.6v1.5h-1.6zM45.6 36.9h1.6v1.5h-1.6zM45.7 36.7h1.6v1.5h-1.6zM52.1 36.8h1.6v1.5h-1.6zM58.0 36.3h1.6v1.5h-1.6zM58.7 37.2h1.6v1.5h-1.6zM60.4 37.0h1.6v1.5h-1.6zM63.7 36.8h1.6v1.5h-1.6zM64.7 37.0h1.6v1.5h-1.6zM76.1 37.1h1.6v1.5h-1.6zM30.1 37.9h1.6v1.5h-1.6zM31.1 37.9h1.6v1.5h-1.6zM32.6 38.0h1.6v1.5h-1.6zM33.7 38.2h1.6v1.5h-1.6zM35.1 38.0h1.6v1.5h-1.6zM36.1 37.9h1.6v1.5h-1.6zM37.5 37.7h1.6v1.5h-1.6zM39.0 38.3h1.6v1.5h-1.6zM41.7 38.1h1.6v1.5h-1.6zM43.1 37.3h1.6v1.5h-1.6zM44.4 37.9h1.6v1.5h-1.6zM46.5 38.1h1.6v1.5h-1.6zM49.5 37.7h1.6v1.5h-1.6zM52.6 38.5h1.6v1.5h-1.6zM53.4 38.1h1.6v1.5h-1.6zM57.0 38.2h1.6v1.5h-1.6zM59.8 38.2h1.6v1.5h-1.6zM60.6 37.8h1.6v1.5h-1.6zM68.6 37.4h1.6v1.5h-1.6zM30.0 39.1h1.6v1.5h-1.6zM31.4 39.4h1.6v1.5h-1.6zM32.7 39.2h1.6v1.5h-1.6zM34.0 39.0h1.6v1.5h-1.6zM35.1 39.1h1.6v1.5h-1.6zM36.5 38.9h1.6v1.5h-1.6zM37.3 38.8h1.6v1.5h-1.6zM39.0 38.8h1.6v1.5h-1.6zM40.9 39.4h1.6v1.5h-1.6zM42.4 39.4h1.6v1.5h-1.6zM44.9 39.0h1.6v1.5h-1.6zM45.8 39.3h1.6v1.5h-1.6zM47.9 39.7h1.6v1.5h-1.6zM50.2 39.5h1.6v1.5h-1.6zM51.3 39.8h1.6v1.5h-1.6zM52.5 38.6h1.6v1.5h-1.6zM56.1 39.1h1.6v1.5h-1.6zM58.2 38.6h1.6v1.5h-1.6zM71.5 39.3h1.6v1.5h-1.6zM80.2 39.6h1.6v1.5h-1.6zM30.1 40.3h1.6v1.5h-1.6zM31.3 40.4h1.6v1.5h-1.6zM32.4 40.5h1.6v1.5h-1.6zM33.7 40.6h1.6v1.5h-1.6zM34.9 40.4h1.6v1.5h-1.6zM36.3 40.5h1.6v1.5h-1.6zM38.3 40.4h1.6v1.5h-1.6zM39.9 40.2h1.6v1.5h-1.6zM41.8 40.5h1.6v1.5h-1.6zM42.9 40.2h1.6v1.5h-1.6zM44.0 40.6h1.6v1.5h-1.6zM45.9 40.4h1.6v1.5h-1.6zM48.1 40.8h1.6v1.5h-1.6zM49.8 40.4h1.6v1.5h-1.6zM54.2 40.2h1.6v1.5h-1.6zM55.2 40.0h1.6v1.5h-1.6zM56.1 40.8h1.6v1.5h-1.6zM61.3 41.0h1.6v1.5h-1.6zM63.2 41.1h1.6v1.5h-1.6zM67.0 39.9h1.6v1.5h-1.6zM28.7 41.6h1.6v1.5h-1.6zM30.0 41.6h1.6v1.5h-1.6zM31.1 41.5h1.6v1.5h-1.6zM32.4 41.8h1.6v1.5h-1.6zM33.9 41.5h1.6v1.5h-1.6zM35.3 41.5h1.6v1.5h-1.6zM35.9 41.7h1.6v1.5h-1.6zM37.3 41.5h1.6v1.5h-1.6zM38.4 41.3h1.6v1.5h-1.6zM41.6 41.6h1.6v1.5h-1.6zM42.7 41.8h1.6v1.5h-1.6zM44.0 41.6h1.6v1.5h-1.6zM45.6 41.7h1.6v1.5h-1.6zM46.0 41.4h1.6v1.5h-1.6zM50.1 42.1h1.6v1.5h-1.6zM50.9 42.3h1.6v1.5h-1.6zM66.3 42.1h1.6v1.5h-1.6zM72.0 41.3h1.6v1.5h-1.6zM28.8 43.0h1.6v1.5h-1.6zM29.9 42.9h1.6v1.5h-1.6zM31.1 43.0h1.6v1.5h-1.6zM32.4 43.0h1.6v1.5h-1.6zM33.8 43.0h1.6v1.5h-1.6zM34.8 42.6h1.6v1.5h-1.6zM36.0 43.4h1.6v1.5h-1.6zM37.0 42.8h1.6v1.5h-1.6zM38.7 42.7h1.6v1.5h-1.6zM40.3 42.6h1.6v1.5h-1.6zM45.0 42.4h1.6v1.5h-1.6zM45.7 43.4h1.6v1.5h-1.6zM47.5 43.5h1.6v1.5h-1.6zM49.2 43.3h1.6v1.5h-1.6zM54.5 42.9h1.6v1.5h-1.6zM59.1 43.5h1.6v1.5h-1.6zM61.3 43.1h1.6v1.5h-1.6zM62.6 43.1h1.6v1.5h-1.6zM72.1 43.0h1.6v1.5h-1.6zM28.6 44.1h1.6v1.5h-1.6zM30.0 44.2h1.6v1.5h-1.6zM31.1 44.4h1.6v1.5h-1.6zM32.3 44.0h1.6v1.5h-1.6zM34.0 44.1h1.6v1.5h-1.6zM34.8 44.3h1.6v1.5h-1.6zM37.0 44.8h1.6v1.5h-1.6zM38.2 44.7h1.6v1.5h-1.6zM40.6 44.1h1.6v1.5h-1.6zM41.2 43.7h1.6v1.5h-1.6zM43.6 44.2h1.6v1.5h-1.6zM45.3 43.8h1.6v1.5h-1.6zM48.0 44.2h1.6v1.5h-1.6zM48.9 44.7h1.6v1.5h-1.6zM49.9 44.0h1.6v1.5h-1.6zM53.4 44.7h1.6v1.5h-1.6zM59.2 44.2h1.6v1.5h-1.6zM60.5 43.6h1.6v1.5h-1.6zM62.1 43.9h1.6v1.5h-1.6zM68.7 44.0h1.6v1.5h-1.6zM28.7 45.5h1.6v1.5h-1.6zM30.0 45.3h1.6v1.5h-1.6zM31.5 45.6h1.6v1.5h-1.6zM32.4 45.4h1.6v1.5h-1.6zM33.6 45.1h1.6v1.5h-1.6zM35.2 45.5h1.6v1.5h-1.6zM36.1 45.3h1.6v1.5h-1.6zM37.9 46.0h1.6v1.5h-1.6zM39.1 46.0h1.6v1.5h-1.6zM40.9 45.9h1.6v1.5h-1.6zM42.2 45.5h1.6v1.5h-1.6zM49.5 45.7h1.6v1.5h-1.6zM51.2 45.1h1.6v1.5h-1.6zM52.9 45.1h1.6v1.5h-1.6zM53.2 45.9h1.6v1.5h-1.6zM27.5 46.6h1.6v1.5h-1.6zM28.7 46.7h1.6v1.5h-1.6zM29.9 46.7h1.6v1.5h-1.6zM31.3 46.7h1.6v1.5h-1.6zM32.7 46.7h1.6v1.5h-1.6zM33.9 46.7h1.6v1.5h-1.6zM35.1 46.8h1.6v1.5h-1.6zM37.0 47.3h1.6v1.5h-1.6zM40.6 46.2h1.6v1.5h-1.6zM41.4 46.7h1.6v1.5h-1.6zM42.4 47.2h1.6v1.5h-1.6zM43.2 46.4h1.6v1.5h-1.6zM44.9 46.2h1.6v1.5h-1.6zM52.1 46.7h1.6v1.5h-1.6zM27.6 48.0h1.6v1.5h-1.6zM28.9 48.0h1.6v1.5h-1.6zM30.2 48.1h1.6v1.5h-1.6zM31.0 48.1h1.6v1.5h-1.6zM34.7 47.6h1.6v1.5h-1.6zM37.4 48.3h1.6v1.5h-1.6zM40.6 48.0h1.6v1.5h-1.6zM50.1 48.4h1.6v1.5h-1.6zM52.9 47.7h1.6v1.5h-1.6zM27.5 49.3h1.6v1.5h-1.6zM28.7 49.1h1.6v1.5h-1.6zM29.8 49.4h1.6v1.5h-1.6zM31.1 49.1h1.6v1.5h-1.6zM32.3 49.5h1.6v1.5h-1.6zM34.2 49.5h1.6v1.5h-1.6zM35.5 48.7h1.6v1.5h-1.6zM35.6 48.8h1.6v1.5h-1.6zM39.3 48.9h1.6v1.5h-1.6zM41.1 49.7h1.6v1.5h-1.6zM42.1 48.7h1.6v1.5h-1.6zM46.9 49.0h1.6v1.5h-1.6zM48.4 48.7h1.6v1.5h-1.6zM51.7 49.1h1.6v1.5h-1.6zM54.4 49.3h1.6v1.5h-1.6zM57.1 49.3h1.6v1.5h-1.6zM58.5 48.7h1.6v1.5h-1.6zM27.4 50.5h1.6v1.5h-1.6zM28.9 50.4h1.6v1.5h-1.6zM29.8 50.4h1.6v1.5h-1.6zM31.6 50.5h1.6v1.5h-1.6zM32.9 50.8h1.6v1.5h-1.6zM35.5 50.0h1.6v1.5h-1.6zM38.8 50.2h1.6v1.5h-1.6zM40.0 50.8h1.6v1.5h-1.6zM44.4 50.5h1.6v1.5h-1.6zM51.4 50.9h1.6v1.5h-1.6zM55.6 50.3h1.6v1.5h-1.6zM58.0 50.9h1.6v1.5h-1.6zM60.0 50.9h1.6v1.5h-1.6zM26.2 51.8h1.6v1.5h-1.6zM27.4 51.8h1.6v1.5h-1.6zM28.6 51.8h1.6v1.5h-1.6zM29.7 51.8h1.6v1.5h-1.6zM30.9 51.7h1.6v1.5h-1.6zM32.1 51.5h1.6v1.5h-1.6zM33.8 51.8h1.6v1.5h-1.6zM35.3 52.2h1.6v1.5h-1.6zM36.4 51.1h1.6v1.5h-1.6zM37.4 52.2h1.6v1.5h-1.6zM38.5 51.9h1.6v1.5h-1.6zM40.3 51.4h1.6v1.5h-1.6zM41.7 51.3h1.6v1.5h-1.6zM42.5 51.6h1.6v1.5h-1.6zM48.0 52.0h1.6v1.5h-1.6zM51.1 51.7h1.6v1.5h-1.6zM26.3 53.0h1.6v1.5h-1.6zM27.5 53.0h1.6v1.5h-1.6zM28.8 53.1h1.6v1.5h-1.6zM29.7 53.3h1.6v1.5h-1.6zM31.5 52.6h1.6v1.5h-1.6zM31.9 53.2h1.6v1.5h-1.6zM33.4 53.1h1.6v1.5h-1.6zM39.3 52.7h1.6v1.5h-1.6zM41.6 52.6h1.6v1.5h-1.6zM43.5 53.6h1.6v1.5h-1.6zM22.5 53.9h1.6v1.5h-1.6zM24.7 54.6h1.6v1.5h-1.6zM27.1 53.8h1.6v1.5h-1.6zM34.3 53.7h1.6v1.5h-1.6zM22.4 56.0h1.6v1.5h-1.6zM23.4 55.4h1.6v1.5h-1.6zM24.9 55.4h1.6v1.5h-1.6zM25.7 55.3h1.6v1.5h-1.6zM27.6 55.1h1.6v1.5h-1.6zM29.0 55.9h1.6v1.5h-1.6zM30.5 55.7h1.6v1.5h-1.6zM31.1 56.1h1.6v1.5h-1.6zM22.8 56.4h1.6v1.5h-1.6zM23.5 57.2h1.6v1.5h-1.6zM30.1 56.8h1.6v1.5h-1.6zM30.8 57.1h1.6v1.5h-1.6zM26.7 58.1h1.6v1.5h-1.6zM30.7 58.0h1.6v1.5h-1.6zM29.6 59.1h1.6v1.5h-1.6zM22.8 60.5h1.6v1.5h-1.6zM23.1 62.3h1.6v1.5h-1.6z"/>
<path fill="#440154" d="M99.1 10.8h1.8v1.7h-1.8zM103.2 10.8h1.8v1.7h-1.8zM107.3 10.8h1.8v1.7h-1.8zM111.4 10.8h1.8v1.7h-1.8zM115.5 10.8h1.8v1.7h-1.8zM119.6 10.8h1.8v1.7h-1.8zM124.1 11.0h1.8v1.7h-1.8zM128.1 11.0h1.8v1.7h-1.8zM133.1 11.0h1.8v1.7h-1.8zM139.1 11.0h1.8v1.7h-1.8zM143.1 11.0h1.8v1.7h-1.8zM155.6 11.0h1.8v1.7h-1.8zM99.1 15.7h1.8v1.7h-1.8zM107.1 15.7h1.8v1.7h-1.8zM111.9 15.7h1.8v1.7h-1.8zM115.7 15.7h1.8v1.7h-1.8zM125.1 15.7h1.8v1.7h-1.8zM130.1 15.7h1.8v1.7h-1.8zM132.8 15.7h1.8v1.7h-1.8zM135.6 15.7h1.8v1.7h-1.8zM103.9 25.1h1.8v1.7h-1.8zM121.9 20.4h1.8v1.7h-1.8zM106.6 39.4h1.8v1.7h-1.8zM119.5 53.2h1.8v1.7h-1.8zM87.7 30.8h1.8v1.7h-1.8zM90.0 44.1h1.8v1.7h-1.8zM81.5 41.6h1.8v1.7h-1.8zM75.8 39.4h1.8v1.7h-1.8zM72.9 45.1h1.8v1.7h-1.8zM72.5 50.2h1.8v1.7h-1.8zM72.0 38.4h1.8v1.7h-1.8zM73.5 67.2h1.8v1.7h-1.8zM58.7 60.4h1.8v1.7h-1.8z"/>
<path fill="#fde725" d="M144.9 83.6h1.8v1.7h-1.8zM68.3 65.0h1.8v1.7h-1.8zM66.7 75.2h1.8v1.7h-1.8zM66.7 78.1h1.8v1.7h-1.8zM68.5 83.6h1.8v1.7h-1.8zM73.2 82.2h1.8v1.7h-1.8zM78.2 82.2h1.8v1.7h-1.8zM81.6 92.0h1.8v1.7h-1.8zM59.1 69.2h1.8v1.7h-1.8zM61.1 87.2h1.8v1.7h-1.8z"/>
<path fill="#31688e" d="M26.9 68.3h1.6v1.5h-1.6zM39.9 69.3h1.6v1.5h-1.6zM30.3 75.2h1.6v1.5h-1.6zM29.5 75.5h1.6v1.5h-1.6zM39.2 77.6h1.6v1.5h-1.6zM28.9 79.1h1.6v1.5h-1.6zM24.1 80.3h1.6v1.5h-1.6zM27.4 80.2h1.6v1.5h-1.6zM38.9 79.4h1.6v1.5h-1.6zM41.2 79.4h1.6v1.5h-1.6zM52.1 80.2h1.6v1.5h-1.6zM37.8 80.6h1.6v1.5h-1.6zM39.9 81.3h1.6v1.5h-1.6zM43.1 81.3h1.6v1.5h-1.6zM53.7 81.0h1.6v1.5h-1.6zM26.9 81.7h1.6v1.5h-1.6zM30.3 82.6h1.6v1.5h-1.6zM35.6 81.7h1.6v1.5h-1.6zM37.3 82.1h1.6v1.5h-1.6zM38.4 81.8h1.6v1.5h-1.6zM45.0 82.3h1.6v1.5h-1.6zM25.7 83.7h1.6v1.5h-1.6zM28.8 83.2h1.6v1.5h-1.6zM33.5 83.4h1.6v1.5h-1.6zM35.7 83.8h1.6v1.5h-1.6zM39.4 83.5h1.6v1.5h-1.6zM45.1 83.9h1.6v1.5h-1.6zM25.8 84.7h1.6v1.5h-1.6zM34.7 85.2h1.6v1.5h-1.6zM36.7 85.0h1.6v1.5h-1.6zM41.4 85.3h1.6v1.5h-1.6zM43.7 84.8h1.6v1.5h-1.6zM28.0 85.4h1.6v1.5h-1.6zM32.6 85.7h1.6v1.5h-1.6zM34.3 86.0h1.6v1.5h-1.6zM34.7 85.7h1.6v1.5h-1.6zM36.6 86.1h1.6v1.5h-1.6zM37.3 86.1h1.6v1.5h-1.6zM39.2 86.6h1.6v1.5h-1.6zM49.5 86.5h1.6v1.5h-1.6zM24.8 86.8h1.6v1.5h-1.6zM27.3 86.7h1.6v1.5h-1.6zM30.1 87.1h1.6v1.5h-1.6zM33.0 86.9h1.6v1.5h-1.6zM38.7 87.4h1.6v1.5h-1.6zM41.8 86.8h1.6v1.5h-1.6zM45.9 87.3h1.6v1.5h-1.6zM57.9 87.5h1.6v1.5h-1.6zM29.2 88.6h1.6v1.5h-1.6zM30.6 88.3h1.6v1.5h-1.6zM30.9 88.0h1.6v1.5h-1.6zM37.7 88.0h1.6v1.5h-1.6zM40.0 88.9h1.6v1.5h-1.6zM35.4 89.6h1.6v1.5h-1.6zM36.6 89.5h1.6v1.5h-1.6zM41.3 89.6h1.6v1.5h-1.6zM45.4 90.1h1.6v1.5h-1.6zM30.2 91.0h1.6v1.5h-1.6zM32.2 91.3h1.6v1.5h-1.6zM33.8 91.1h1.6v1.5h-1.6zM35.1 91.2h1.6v1.5h-1.6zM38.1 90.8h1.6v1.5h-1.6zM40.4 91.5h1.6v1.5h-1.6zM44.8 90.7h1.6v1.5h-1.6zM30.1 91.7h1.6v1.5h-1.6zM30.9 92.1h1.6v1.5h-1.6zM32.5 92.6h1.6v1.5h-1.6zM35.2 92.6h1.6v1.5h-1.6zM36.1 92.3h1.6v1.5h-1.6zM36.9 92.2h1.6v1.5h-1.6zM38.6 91.8h1.6v1.5h-1.6zM39.7 92.8h1.6v1.5h-1.6zM44.7 92.9h1.6v1.5h-1.6zM25.8 93.8h1.6v1.5h-1.6zM30.0 93.9h1.6v1.5h-1.6zM32.2 93.8h1.6v1.5h-1.6zM33.8 93.9h1.6v1.5h-1.6zM36.7 93.7h1.6v1.5h-1.6zM26.2 95.3h1.6v1.5h-1.6zM31.7 94.4h1.6v1.5h-1.6zM32.9 95.2h1.6v1.5h-1.6z"/>
<path fill="#31688e" d="M135.0 77.1h1.8v1.7h-1.8zM61.4 71.9h1.8v1.7h-1.8zM66.1 88.7h1.8v1.7h-1.8zM67.0 91.7h1.8v1.7h-1.8zM58.7 93.5h1.8v1.7h-1.8zM54.1 84.2h1.8v1.7h-1.8zM51.1 91.2h1.8v1.7h-1.8z"/>
<path fill="#35b779" d="M22.5 95.3h11.6v1.10h-11.6zM22.5 96.3h11.6v1.10h-11.6zM33.6 95.3h1.6v1.5h-1.6zM34.5 95.4h1.6v1.5h-1.6zM35.7 95.5h1.6v1.5h-1.6zM36.2 95.5h1.6v1.5h-1.6zM37.7 95.3h1.6v1.5h-1.6zM38.0 95.0h1.6v1.5h-1.6zM41.3 95.0h1.6v1.5h-1.6zM46.8 95.8h1.6v1.5h-1.6zM33.4 96.3h1.6v1.5h-1.6zM34.5 96.5h1.6v1.5h-1.6zM35.3 96.5h1.6v1.5h-1.6zM36.6 96.0h1.6v1.5h-1.6zM37.2 96.6h1.6v1.5h-1.6zM39.2 96.7h1.6v1.5h-1.6zM40.1 96.5h1.6v1.5h-1.6zM41.0 96.7h1.6v1.5h-1.6zM45.6 96.6h1.6v1.5h-1.6z"/>
<path fill="#35b779" d="M66.1 95.8h1.8v1.7h-1.8zM72.2 93.9h1.8v1.7h-1.8zM72.2 96.1h1.8v1.7h-1.8zM51.1 96.2h1.8v1.7h-1.8zM55.1 96.4h1.8v1.7h-1.8z"/></g><rect x="17" y="7.3" width="146.50" height="94.70" fill="none" stroke="#a8a8a8" stroke-width="1.1"/>
<line x1="23.80" y1="102" x2="23.80" y2="103.60" stroke="#a8a8a8" stroke-width="0.7"/>
<line x1="17" y1="97.00" x2="15.40" y2="97.00" stroke="#a8a8a8" stroke-width="0.7"/>
<text x="23.80" y="109.00" class="tk" text-anchor="middle">0.0</text>
<text x="14.20" y="98.90" class="tk" text-anchor="end">0.0</text>
<line x1="50.30" y1="102" x2="50.30" y2="103.60" stroke="#a8a8a8" stroke-width="0.7"/>
<line x1="17" y1="80.06" x2="15.40" y2="80.06" stroke="#a8a8a8" stroke-width="0.7"/>
<text x="50.30" y="109.00" class="tk" text-anchor="middle">0.2</text>
<text x="14.20" y="81.96" class="tk" text-anchor="end">0.2</text>
<line x1="76.80" y1="102" x2="76.80" y2="103.60" stroke="#a8a8a8" stroke-width="0.7"/>
<line x1="17" y1="63.12" x2="15.40" y2="63.12" stroke="#a8a8a8" stroke-width="0.7"/>
<text x="76.80" y="109.00" class="tk" text-anchor="middle">0.4</text>
<text x="14.20" y="65.02" class="tk" text-anchor="end">0.4</text>
<line x1="103.30" y1="102" x2="103.30" y2="103.60" stroke="#a8a8a8" stroke-width="0.7"/>
<line x1="17" y1="46.18" x2="15.40" y2="46.18" stroke="#a8a8a8" stroke-width="0.7"/>
<text x="103.30" y="109.00" class="tk" text-anchor="middle">0.6</text>
<text x="14.20" y="48.08" class="tk" text-anchor="end">0.6</text>
<line x1="129.80" y1="102" x2="129.80" y2="103.60" stroke="#a8a8a8" stroke-width="0.7"/>
<line x1="17" y1="29.24" x2="15.40" y2="29.24" stroke="#a8a8a8" stroke-width="0.7"/>
<text x="129.80" y="109.00" class="tk" text-anchor="middle">0.8</text>
<text x="14.20" y="31.14" class="tk" text-anchor="end">0.8</text>
<line x1="156.30" y1="102" x2="156.30" y2="103.60" stroke="#a8a8a8" stroke-width="0.7"/>
<line x1="17" y1="12.30" x2="15.40" y2="12.30" stroke="#a8a8a8" stroke-width="0.7"/>
<text x="156.30" y="109.00" class="tk" text-anchor="middle">1.0</text>
<text x="14.20" y="14.20" class="tk" text-anchor="end">1.0</text>
<text x="90.25" y="114.90" class="al" text-anchor="middle">Component  1</text>
<text transform="translate(3.80,54.65) rotate(-90)" class="al" text-anchor="middle">Component  2</text>
<text x="90.85" y="4.70" class="tt" text-anchor="middle">cluster __ Scatterplot of Canonical Variables</text>
<text x="13.2" y="128" class="lb">(<tspan class="lt">a</tspan>)</text><g clip-path="url(#cb)"><path fill="#31688e" d="M196.5 85.0h21.6v1.35h-21.6zM196.5 86.2h21.6v1.35h-21.6zM196.5 87.5h21.6v1.35h-21.6zM196.5 88.7h21.6v1.35h-21.6zM196.5 90.0h21.6v1.35h-21.6zM196.5 91.2h21.6v1.35h-21.6zM196.5 92.5h21.6v1.35h-21.6zM196.5 93.7h21.6v1.35h-21.6zM196.5 95.0h21.6v1.35h-21.6zM196.5 96.2h21.6v1.35h-21.6zM209.7 67.5h1.6v1.5h-1.6zM212.0 72.9h1.6v1.5h-1.6zM203.9 73.6h1.6v1.5h-1.6zM204.8 73.3h1.6v1.5h-1.6zM200.4 74.9h1.6v1.5h-1.6zM201.5 74.4h1.6v1.5h-1.6zM204.5 75.3h1.6v1.5h-1.6zM213.1 74.4h1.6v1.5h-1.6zM214.1 75.3h1.6v1.5h-1.6zM197.2 76.3h1.6v1.5h-1.6zM207.7 76.6h1.6v1.5h-1.6zM209.4 76.0h1.6v1.5h-1.6zM214.3 76.6h1.6v1.5h-1.6zM195.9 78.0h1.6v1.5h-1.6zM199.8 76.9h1.6v1.5h-1.6zM204.0 77.5h1.6v1.5h-1.6zM210.6 77.0h1.6v1.5h-1.6zM217.0 77.2h1.6v1.5h-1.6zM199.1 78.4h1.6v1.5h-1.6zM199.8 78.4h1.6v1.5h-1.6zM202.3 79.2h1.6v1.5h-1.6zM208.0 79.1h1.6v1.5h-1.6zM208.9 78.1h1.6v1.5h-1.6zM210.2 78.3h1.6v1.5h-1.6zM216.6 78.2h1.6v1.5h-1.6zM197.4 80.6h1.6v1.5h-1.6zM198.5 80.4h1.6v1.5h-1.6zM200.9 80.2h1.6v1.5h-1.6zM201.4 79.5h1.6v1.5h-1.6zM207.1 80.2h1.6v1.5h-1.6zM208.2 79.6h1.6v1.5h-1.6zM209.8 79.9h1.6v1.5h-1.6zM211.9 79.9h1.6v1.5h-1.6zM213.7 80.3h1.6v1.5h-1.6zM214.8 79.5h1.6v1.5h-1.6zM216.3 79.7h1.6v1.5h-1.6zM196.7 81.5h1.6v1.5h-1.6zM198.5 81.3h1.6v1.5h-1.6zM202.5 81.8h1.6v1.5h-1.6zM203.6 80.7h1.6v1.5h-1.6zM204.6 81.6h1.6v1.5h-1.6zM206.9 81.6h1.6v1.5h-1.6zM208.3 81.1h1.6v1.5h-1.6zM210.1 80.9h1.6v1.5h-1.6zM212.1 81.1h1.6v1.5h-1.6zM213.4 81.7h1.6v1.5h-1.6zM214.1 80.7h1.6v1.5h-1.6zM215.3 80.9h1.6v1.5h-1.6zM216.1 80.7h1.6v1.5h-1.6zM197.3 82.8h1.6v1.5h-1.6zM200.3 82.7h1.6v1.5h-1.6zM201.5 81.9h1.6v1.5h-1.6zM203.2 82.5h1.6v1.5h-1.6zM204.4 82.9h1.6v1.5h-1.6zM205.1 82.3h1.6v1.5h-1.6zM206.4 82.7h1.6v1.5h-1.6zM208.7 82.5h1.6v1.5h-1.6zM210.4 82.1h1.6v1.5h-1.6zM211.5 82.8h1.6v1.5h-1.6zM212.7 83.1h1.6v1.5h-1.6zM213.9 82.9h1.6v1.5h-1.6zM217.0 82.4h1.6v1.5h-1.6zM196.7 83.6h1.6v1.5h-1.6zM197.9 83.6h1.6v1.5h-1.6zM198.9 83.7h1.6v1.5h-1.6zM201.6 83.5h1.6v1.5h-1.6zM202.6 83.9h1.6v1.5h-1.6zM204.1 83.8h1.6v1.5h-1.6zM205.3 83.9h1.6v1.5h-1.6zM206.7 84.0h1.6v1.5h-1.6zM207.7 83.8h1.6v1.5h-1.6zM209.0 83.5h1.6v1.5h-1.6zM210.3 83.7h1.6v1.5h-1.6zM211.7 83.6h1.6v1.5h-1.6zM214.2 83.8h1.6v1.5h-1.6zM216.3 83.8h1.6v1.5h-1.6z"/>
<path fill="#31688e" d="M212.5 62.0h1.8v1.7h-1.8zM197.1 73.7h1.8v1.7h-1.8zM209.1 71.2h1.8v1.7h-1.8zM204.1 72.7h1.8v1.7h-1.8z"/>
<path fill="#35b779" d="M292.3 55.8h1.6v1.5h-1.6zM293.6 54.9h1.6v1.5h-1.6zM254.0 58.9h1.6v1.5h-1.6zM271.0 59.3h1.6v1.5h-1.6zM313.4 59.9h1.6v1.5h-1.6zM274.2 63.1h1.6v1.5h-1.6zM311.9 63.0h1.6v1.5h-1.6zM312.7 62.6h1.6v1.5h-1.6zM329.4 63.4h1.6v1.5h-1.6zM258.0 64.1h1.6v1.5h-1.6zM265.3 64.8h1.6v1.5h-1.6zM289.2 64.0h1.6v1.5h-1.6zM308.5 64.1h1.6v1.5h-1.6zM290.3 65.5h1.6v1.5h-1.6zM296.9 65.6h1.6v1.5h-1.6zM322.9 65.5h1.6v1.5h-1.6zM285.3 67.2h1.6v1.5h-1.6zM291.4 66.5h1.6v1.5h-1.6zM267.3 67.7h1.6v1.5h-1.6zM272.1 68.6h1.6v1.5h-1.6zM278.5 68.0h1.6v1.5h-1.6zM283.3 67.7h1.6v1.5h-1.6zM287.1 68.5h1.6v1.5h-1.6zM299.4 67.7h1.6v1.5h-1.6zM301.3 68.0h1.6v1.5h-1.6zM262.3 69.7h1.6v1.5h-1.6zM268.7 69.3h1.6v1.5h-1.6zM274.5 69.8h1.6v1.5h-1.6zM275.4 69.3h1.6v1.5h-1.6zM304.1 69.4h1.6v1.5h-1.6zM305.9 68.9h1.6v1.5h-1.6zM309.3 69.1h1.6v1.5h-1.6zM330.3 68.8h1.6v1.5h-1.6zM267.3 70.1h1.6v1.5h-1.6zM271.9 70.0h1.6v1.5h-1.6zM274.3 70.9h1.6v1.5h-1.6zM290.8 70.2h1.6v1.5h-1.6zM294.6 70.0h1.6v1.5h-1.6zM295.0 70.0h1.6v1.5h-1.6zM303.8 70.5h1.6v1.5h-1.6zM305.8 71.1h1.6v1.5h-1.6zM311.2 70.7h1.6v1.5h-1.6zM313.6 70.6h1.6v1.5h-1.6zM315.1 70.6h1.6v1.5h-1.6zM322.2 69.9h1.6v1.5h-1.6zM322.5 70.6h1.6v1.5h-1.6zM257.2 71.8h1.6v1.5h-1.6zM259.7 72.0h1.6v1.5h-1.6zM267.5 71.3h1.6v1.5h-1.6zM276.2 72.4h1.6v1.5h-1.6zM282.6 71.8h1.6v1.5h-1.6zM283.8 71.3h1.6v1.5h-1.6zM290.9 72.3h1.6v1.5h-1.6zM294.5 71.7h1.6v1.5h-1.6zM295.6 71.4h1.6v1.5h-1.6zM296.1 72.3h1.6v1.5h-1.6zM308.7 71.5h1.6v1.5h-1.6zM310.7 71.2h1.6v1.5h-1.6zM316.6 71.8h1.6v1.5h-1.6zM319.3 72.0h1.6v1.5h-1.6zM323.5 72.0h1.6v1.5h-1.6zM259.3 73.3h1.6v1.5h-1.6zM262.6 72.6h1.6v1.5h-1.6zM270.6 73.3h1.6v1.5h-1.6zM273.9 73.0h1.6v1.5h-1.6zM275.1 72.5h1.6v1.5h-1.6zM277.5 72.5h1.6v1.5h-1.6zM279.9 73.5h1.6v1.5h-1.6zM290.1 72.7h1.6v1.5h-1.6zM296.4 72.7h1.6v1.5h-1.6zM305.9 73.5h1.6v1.5h-1.6zM308.3 73.5h1.6v1.5h-1.6zM310.7 72.9h1.6v1.5h-1.6zM313.9 73.1h1.6v1.5h-1.6zM321.0 73.3h1.6v1.5h-1.6zM321.6 72.9h1.6v1.5h-1.6zM324.4 72.6h1.6v1.5h-1.6zM325.5 72.8h1.6v1.5h-1.6zM253.9 74.6h1.6v1.5h-1.6zM257.7 73.9h1.6v1.5h-1.6zM260.6 73.9h1.6v1.5h-1.6zM264.9 74.7h1.6v1.5h-1.6zM267.8 74.2h1.6v1.5h-1.6zM268.9 74.7h1.6v1.5h-1.6zM271.2 74.6h1.6v1.5h-1.6zM277.9 74.6h1.6v1.5h-1.6zM281.0 74.5h1.6v1.5h-1.6zM282.6 74.4h1.6v1.5h-1.6zM297.3 74.0h1.6v1.5h-1.6zM309.5 74.5h1.6v1.5h-1.6zM310.5 74.8h1.6v1.5h-1.6zM313.2 74.7h1.6v1.5h-1.6zM314.7 73.9h1.6v1.5h-1.6zM325.1 74.1h1.6v1.5h-1.6zM327.2 74.3h1.6v1.5h-1.6zM327.9 74.9h1.6v1.5h-1.6zM261.4 75.4h1.6v1.5h-1.6zM270.9 75.4h1.6v1.5h-1.6zM271.4 75.7h1.6v1.5h-1.6zM272.8 76.1h1.6v1.5h-1.6zM273.9 76.0h1.6v1.5h-1.6zM276.6 75.9h1.6v1.5h-1.6zM278.2 75.6h1.6v1.5h-1.6zM279.0 74.9h1.6v1.5h-1.6zM294.9 76.0h1.6v1.5h-1.6zM297.4 75.4h1.6v1.5h-1.6zM300.6 74.9h1.6v1.5h-1.6zM303.0 75.3h1.6v1.5h-1.6zM304.5 75.6h1.6v1.5h-1.6zM307.9 75.4h1.6v1.5h-1.6zM309.7 75.4h1.6v1.5h-1.6zM311.7 75.7h1.6v1.5h-1.6zM312.3 75.8h1.6v1.5h-1.6zM315.0 75.4h1.6v1.5h-1.6zM316.5 75.2h1.6v1.5h-1.6zM318.1 75.2h1.6v1.5h-1.6zM321.6 76.0h1.6v1.5h-1.6zM329.6 75.2h1.6v1.5h-1.6zM254.0 76.5h1.6v1.5h-1.6zM255.4 77.0h1.6v1.5h-1.6zM256.5 77.0h1.6v1.5h-1.6zM258.3 76.2h1.6v1.5h-1.6zM259.8 76.9h1.6v1.5h-1.6zM260.6 76.8h1.6v1.5h-1.6zM261.9 76.9h1.6v1.5h-1.6zM262.7 76.9h1.6v1.5h-1.6zM270.8 77.2h1.6v1.5h-1.6zM272.6 76.5h1.6v1.5h-1.6zM276.8 76.4h1.6v1.5h-1.6zM278.0 76.7h1.6v1.5h-1.6zM279.0 76.9h1.6v1.5h-1.6zM283.8 77.1h1.6v1.5h-1.6zM285.7 76.9h1.6v1.5h-1.6zM287.9 77.3h1.6v1.5h-1.6zM291.0 76.3h1.6v1.5h-1.6zM293.7 77.4h1.6v1.5h-1.6zM297.6 76.7h1.6v1.5h-1.6zM312.0 76.7h1.6v1.5h-1.6zM312.6 76.2h1.6v1.5h-1.6zM315.9 76.5h1.6v1.5h-1.6zM318.3 77.2h1.6v1.5h-1.6zM319.6 77.1h1.6v1.5h-1.6zM319.9 76.6h1.6v1.5h-1.6zM323.4 76.6h1.6v1.5h-1.6zM324.0 77.0h1.6v1.5h-1.6zM330.9 77.0h1.6v1.5h-1.6zM251.8 78.6h1.6v1.5h-1.6zM256.9 78.3h1.6v1.5h-1.6zM257.9 77.7h1.6v1.5h-1.6zM259.0 78.3h1.6v1.5h-1.6zM260.4 77.5h1.6v1.5h-1.6zM262.4 78.3h1.6v1.5h-1.6zM267.6 78.3h1.6v1.5h-1.6zM269.1 78.2h1.6v1.5h-1.6zM270.7 78.3h1.6v1.5h-1.6zM274.4 77.7h1.6v1.5h-1.6zM276.1 78.4h1.6v1.5h-1.6zM279.5 77.4h1.6v1.5h-1.6zM280.9 77.5h1.6v1.5h-1.6zM281.2 78.6h1.6v1.5h-1.6zM287.2 77.5h1.6v1.5h-1.6zM287.3 78.3h1.6v1.5h-1.6zM288.6 77.9h1.6v1.5h-1.6zM290.8 78.2h1.6v1.5h-1.6zM291.7 77.9h1.6v1.5h-1.6zM294.3 78.5h1.6v1.5h-1.6zM299.4 78.1h1.6v1.5h-1.6zM300.6 78.4h1.6v1.5h-1.6zM303.1 77.6h1.6v1.5h-1.6zM305.0 78.0h1.6v1.5h-1.6zM309.5 78.6h1.6v1.5h-1.6zM309.9 77.5h1.6v1.5h-1.6zM314.4 78.4h1.6v1.5h-1.6zM318.2 78.5h1.6v1.5h-1.6zM319.5 77.6h1.6v1.5h-1.6zM320.2 77.4h1.6v1.5h-1.6zM321.9 77.4h1.6v1.5h-1.6zM254.2 79.2h1.6v1.5h-1.6zM258.0 79.4h1.6v1.5h-1.6zM258.9 78.8h1.6v1.5h-1.6zM260.0 79.7h1.6v1.5h-1.6zM261.3 79.6h1.6v1.5h-1.6zM264.2 79.5h1.6v1.5h-1.6zM265.4 79.3h1.6v1.5h-1.6zM268.6 78.9h1.6v1.5h-1.6zM269.5 79.8h1.6v1.5h-1.6zM283.2 78.9h1.6v1.5h-1.6zM284.4 79.3h1.6v1.5h-1.6zM285.8 79.4h1.6v1.5h-1.6zM286.3 79.9h1.6v1.5h-1.6zM288.6 79.9h1.6v1.5h-1.6zM290.6 78.7h1.6v1.5h-1.6zM293.4 78.8h1.6v1.5h-1.6zM293.9 78.7h1.6v1.5h-1.6zM297.0 79.5h1.6v1.5h-1.6zM297.6 78.8h1.6v1.5h-1.6zM302.5 79.0h1.6v1.5h-1.6zM304.1 79.8h1.6v1.5h-1.6zM308.6 79.2h1.6v1.5h-1.6zM310.1 78.8h1.6v1.5h-1.6zM313.8 79.4h1.6v1.5h-1.6zM315.0 78.7h1.6v1.5h-1.6zM316.2 79.5h1.6v1.5h-1.6zM318.5 79.6h1.6v1.5h-1.6zM324.2 79.7h1.6v1.5h-1.6zM325.1 78.9h1.6v1.5h-1.6zM327.1 79.2h1.6v1.5h-1.6zM252.7 80.0h1.6v1.5h-1.6zM253.7 80.9h1.6v1.5h-1.6zM255.0 81.1h1.6v1.5h-1.6zM261.4 80.0h1.6v1.5h-1.6zM263.6 80.4h1.6v1.5h-1.6zM266.8 80.5h1.6v1.5h-1.6zM268.7 80.8h1.6v1.5h-1.6zM271.5 80.8h1.6v1.5h-1.6zM276.0 80.6h1.6v1.5h-1.6zM278.8 80.4h1.6v1.5h-1.6zM283.3 79.9h1.6v1.5h-1.6zM284.0 80.6h1.6v1.5h-1.6zM288.1 80.0h1.6v1.5h-1.6zM293.3 79.9h1.6v1.5h-1.6zM294.4 80.5h1.6v1.5h-1.6zM297.1 80.4h1.6v1.5h-1.6zM297.3 80.1h1.6v1.5h-1.6zM302.6 80.6h1.6v1.5h-1.6zM304.7 80.3h1.6v1.5h-1.6zM310.8 80.2h1.6v1.5h-1.6zM313.1 80.1h1.6v1.5h-1.6zM314.8 80.7h1.6v1.5h-1.6zM318.4 80.4h1.6v1.5h-1.6zM318.8 80.0h1.6v1.5h-1.6zM320.6 81.0h1.6v1.5h-1.6zM324.9 80.9h1.6v1.5h-1.6zM251.0 81.8h1.6v1.5h-1.6zM253.0 81.9h1.6v1.5h-1.6zM255.7 82.0h1.6v1.5h-1.6zM256.7 81.7h1.6v1.5h-1.6zM258.5 82.2h1.6v1.5h-1.6zM260.7 81.3h1.6v1.5h-1.6zM262.2 82.2h1.6v1.5h-1.6zM264.4 81.8h1.6v1.5h-1.6zM265.6 82.3h1.6v1.5h-1.6zM266.3 81.4h1.6v1.5h-1.6zM268.9 82.3h1.6v1.5h-1.6zM272.8 81.3h1.6v1.5h-1.6zM274.4 81.3h1.6v1.5h-1.6zM276.0 82.2h1.6v1.5h-1.6zM279.5 81.9h1.6v1.5h-1.6zM286.4 81.8h1.6v1.5h-1.6zM287.7 81.9h1.6v1.5h-1.6zM290.5 82.0h1.6v1.5h-1.6zM294.6 81.3h1.6v1.5h-1.6zM297.7 81.2h1.6v1.5h-1.6zM301.7 82.3h1.6v1.5h-1.6zM303.0 82.3h1.6v1.5h-1.6zM305.3 81.9h1.6v1.5h-1.6zM307.4 82.0h1.6v1.5h-1.6zM309.6 81.6h1.6v1.5h-1.6zM313.5 82.1h1.6v1.5h-1.6zM314.3 81.7h1.6v1.5h-1.6zM317.0 81.4h1.6v1.5h-1.6zM318.0 82.3h1.6v1.5h-1.6zM323.0 81.3h1.6v1.5h-1.6zM328.9 81.2h1.6v1.5h-1.6zM330.2 81.3h1.6v1.5h-1.6zM254.6 83.1h1.6v1.5h-1.6zM256.4 82.7h1.6v1.5h-1.6zM258.2 82.8h1.6v1.5h-1.6zM259.3 82.5h1.6v1.5h-1.6zM260.5 83.3h1.6v1.5h-1.6zM261.7 82.9h1.6v1.5h-1.6zM264.3 82.5h1.6v1.5h-1.6zM267.8 82.6h1.6v1.5h-1.6zM268.8 83.1h1.6v1.5h-1.6zM270.9 82.9h1.6v1.5h-1.6zM272.7 82.7h1.6v1.5h-1.6zM274.0 83.5h1.6v1.5h-1.6zM279.8 82.7h1.6v1.5h-1.6zM280.2 83.4h1.6v1.5h-1.6zM282.0 82.7h1.6v1.5h-1.6zM283.3 82.8h1.6v1.5h-1.6zM287.2 83.5h1.6v1.5h-1.6zM288.7 83.2h1.6v1.5h-1.6zM294.9 82.4h1.6v1.5h-1.6zM296.2 82.9h1.6v1.5h-1.6zM298.5 82.4h1.6v1.5h-1.6zM302.4 83.1h1.6v1.5h-1.6zM304.6 83.1h1.6v1.5h-1.6zM305.6 83.0h1.6v1.5h-1.6zM307.3 83.0h1.6v1.5h-1.6zM307.6 83.2h1.6v1.5h-1.6zM308.9 82.7h1.6v1.5h-1.6zM310.2 83.0h1.6v1.5h-1.6zM313.6 83.5h1.6v1.5h-1.6zM316.2 82.4h1.6v1.5h-1.6zM318.3 83.3h1.6v1.5h-1.6zM318.6 83.0h1.6v1.5h-1.6zM323.5 83.1h1.6v1.5h-1.6zM323.9 82.4h1.6v1.5h-1.6zM325.7 82.5h1.6v1.5h-1.6zM327.2 82.6h1.6v1.5h-1.6zM327.9 82.5h1.6v1.5h-1.6zM329.3 82.9h1.6v1.5h-1.6zM254.5 84.0h1.6v1.5h-1.6zM255.7 84.5h1.6v1.5h-1.6zM257.5 84.5h1.6v1.5h-1.6zM260.3 84.2h1.6v1.5h-1.6zM261.2 84.6h1.6v1.5h-1.6zM263.4 84.0h1.6v1.5h-1.6zM264.8 84.2h1.6v1.5h-1.6zM266.7 84.8h1.6v1.5h-1.6zM269.5 83.9h1.6v1.5h-1.6zM271.0 83.8h1.6v1.5h-1.6zM272.7 84.0h1.6v1.5h-1.6zM275.8 83.9h1.6v1.5h-1.6zM277.3 83.9h1.6v1.5h-1.6zM281.8 83.8h1.6v1.5h-1.6zM282.7 84.1h1.6v1.5h-1.6zM284.6 83.7h1.6v1.5h-1.6zM286.0 84.7h1.6v1.5h-1.6zM286.9 84.1h1.6v1.5h-1.6zM289.3 84.0h1.6v1.5h-1.6zM291.1 83.9h1.6v1.5h-1.6zM292.9 83.7h1.6v1.5h-1.6zM294.2 84.3h1.6v1.5h-1.6zM295.0 84.4h1.6v1.5h-1.6zM296.1 84.5h1.6v1.5h-1.6zM298.9 83.9h1.6v1.5h-1.6zM300.1 84.4h1.6v1.5h-1.6zM301.2 83.7h1.6v1.5h-1.6zM305.9 84.5h1.6v1.5h-1.6zM306.3 83.8h1.6v1.5h-1.6zM308.9 84.1h1.6v1.5h-1.6zM312.8 84.1h1.6v1.5h-1.6zM314.5 83.9h1.6v1.5h-1.6zM315.3 84.5h1.6v1.5h-1.6zM316.3 84.8h1.6v1.5h-1.6zM317.4 84.7h1.6v1.5h-1.6zM318.9 84.0h1.6v1.5h-1.6zM320.3 84.2h1.6v1.5h-1.6zM321.2 84.6h1.6v1.5h-1.6zM322.5 83.7h1.6v1.5h-1.6zM326.3 84.8h1.6v1.5h-1.6zM328.9 84.2h1.6v1.5h-1.6zM330.6 84.0h1.6v1.5h-1.6zM255.7 85.3h1.6v1.5h-1.6zM257.7 85.7h1.6v1.5h-1.6zM260.6 85.7h1.6v1.5h-1.6zM263.4 85.7h1.6v1.5h-1.6zM264.7 84.9h1.6v1.5h-1.6zM266.8 85.2h1.6v1.5h-1.6zM268.0 85.2h1.6v1.5h-1.6zM269.4 85.0h1.6v1.5h-1.6zM270.2 86.0h1.6v1.5h-1.6zM271.8 86.1h1.6v1.5h-1.6zM276.0 85.8h1.6v1.5h-1.6zM277.9 86.1h1.6v1.5h-1.6zM278.6 84.9h1.6v1.5h-1.6zM284.7 85.5h1.6v1.5h-1.6zM285.0 85.1h1.6v1.5h-1.6zM293.1 85.6h1.6v1.5h-1.6zM294.4 85.7h1.6v1.5h-1.6zM295.8 86.0h1.6v1.5h-1.6zM297.0 85.3h1.6v1.5h-1.6zM300.4 85.3h1.6v1.5h-1.6zM302.7 86.1h1.6v1.5h-1.6zM307.0 85.4h1.6v1.5h-1.6zM308.2 85.1h1.6v1.5h-1.6zM308.7 85.8h1.6v1.5h-1.6zM311.5 85.2h1.6v1.5h-1.6zM313.1 85.9h1.6v1.5h-1.6zM313.8 85.1h1.6v1.5h-1.6zM315.3 84.9h1.6v1.5h-1.6zM318.4 85.6h1.6v1.5h-1.6zM321.1 85.5h1.6v1.5h-1.6zM322.2 85.0h1.6v1.5h-1.6zM322.4 84.9h1.6v1.5h-1.6zM323.9 85.5h1.6v1.5h-1.6zM325.4 85.6h1.6v1.5h-1.6zM327.0 85.5h1.6v1.5h-1.6zM329.3 85.1h1.6v1.5h-1.6zM251.3 86.3h1.6v1.5h-1.6zM255.5 86.6h1.6v1.5h-1.6zM257.5 86.8h1.6v1.5h-1.6zM258.8 86.6h1.6v1.5h-1.6zM261.0 86.2h1.6v1.5h-1.6zM262.4 86.8h1.6v1.5h-1.6zM264.0 87.1h1.6v1.5h-1.6zM265.3 86.6h1.6v1.5h-1.6zM268.2 86.7h1.6v1.5h-1.6zM269.1 87.2h1.6v1.5h-1.6zM272.5 86.7h1.6v1.5h-1.6zM274.1 86.3h1.6v1.5h-1.6zM275.3 86.9h1.6v1.5h-1.6zM276.3 87.1h1.6v1.5h-1.6zM277.5 86.4h1.6v1.5h-1.6zM278.7 86.6h1.6v1.5h-1.6zM280.9 86.4h1.6v1.5h-1.6zM282.5 86.8h1.6v1.5h-1.6zM283.8 86.7h1.6v1.5h-1.6zM285.2 86.8h1.6v1.5h-1.6zM286.5 86.2h1.6v1.5h-1.6zM287.5 87.2h1.6v1.5h-1.6zM289.4 86.9h1.6v1.5h-1.6zM289.9 86.5h1.6v1.5h-1.6zM291.7 86.9h1.6v1.5h-1.6zM292.7 86.5h1.6v1.5h-1.6zM294.2 87.3h1.6v1.5h-1.6zM295.3 86.5h1.6v1.5h-1.6zM297.1 87.3h1.6v1.5h-1.6zM297.9 86.9h1.6v1.5h-1.6zM299.1 86.9h1.6v1.5h-1.6zM300.5 86.8h1.6v1.5h-1.6zM301.2 86.3h1.6v1.5h-1.6zM303.4 86.7h1.6v1.5h-1.6zM304.7 86.9h1.6v1.5h-1.6zM306.0 86.1h1.6v1.5h-1.6zM306.4 86.5h1.6v1.5h-1.6zM313.3 86.5h1.6v1.5h-1.6zM314.6 86.5h1.6v1.5h-1.6zM315.2 86.6h1.6v1.5h-1.6zM316.4 86.9h1.6v1.5h-1.6zM317.7 86.8h1.6v1.5h-1.6zM320.6 86.9h1.6v1.5h-1.6zM321.7 86.3h1.6v1.5h-1.6zM324.0 86.4h1.6v1.5h-1.6zM324.9 86.1h1.6v1.5h-1.6zM326.6 87.0h1.6v1.5h-1.6zM328.2 86.7h1.6v1.5h-1.6zM329.3 87.3h1.6v1.5h-1.6zM330.7 86.7h1.6v1.5h-1.6zM255.4 88.4h1.6v1.5h-1.6zM258.5 88.4h1.6v1.5h-1.6zM258.9 87.9h1.6v1.5h-1.6zM260.2 87.7h1.6v1.5h-1.6zM262.2 88.4h1.6v1.5h-1.6zM262.9 88.3h1.6v1.5h-1.6zM264.6 87.8h1.6v1.5h-1.6zM265.2 88.6h1.6v1.5h-1.6zM266.2 87.6h1.6v1.5h-1.6zM267.3 88.5h1.6v1.5h-1.6zM269.6 87.6h1.6v1.5h-1.6zM271.4 88.5h1.6v1.5h-1.6zM276.2 88.1h1.6v1.5h-1.6zM278.5 87.7h1.6v1.5h-1.6zM278.8 87.7h1.6v1.5h-1.6zM282.0 88.0h1.6v1.5h-1.6zM284.5 87.8h1.6v1.5h-1.6zM285.3 88.4h1.6v1.5h-1.6zM286.6 88.0h1.6v1.5h-1.6zM288.0 88.2h1.6v1.5h-1.6zM289.0 87.9h1.6v1.5h-1.6zM291.1 88.4h1.6v1.5h-1.6zM293.2 88.6h1.6v1.5h-1.6zM293.6 88.1h1.6v1.5h-1.6zM297.6 87.6h1.6v1.5h-1.6zM298.7 88.0h1.6v1.5h-1.6zM300.3 87.9h1.6v1.5h-1.6zM301.6 87.5h1.6v1.5h-1.6zM303.9 88.0h1.6v1.5h-1.6zM305.3 88.3h1.6v1.5h-1.6zM307.5 88.5h1.6v1.5h-1.6zM308.7 88.5h1.6v1.5h-1.6zM309.9 88.5h1.6v1.5h-1.6zM313.2 87.6h1.6v1.5h-1.6zM314.2 88.3h1.6v1.5h-1.6zM317.1 88.3h1.6v1.5h-1.6zM317.7 88.1h1.6v1.5h-1.6zM319.1 88.4h1.6v1.5h-1.6zM321.0 87.9h1.6v1.5h-1.6zM322.0 87.4h1.6v1.5h-1.6zM323.1 88.6h1.6v1.5h-1.6zM327.6 88.3h1.6v1.5h-1.6zM329.3 88.0h1.6v1.5h-1.6zM330.9 87.4h1.6v1.5h-1.6zM254.8 89.3h1.6v1.5h-1.6zM256.8 89.2h1.6v1.5h-1.6zM257.3 89.1h1.6v1.5h-1.6zM259.2 89.6h1.6v1.5h-1.6zM260.5 88.6h1.6v1.5h-1.6zM263.1 89.8h1.6v1.5h-1.6zM263.9 88.9h1.6v1.5h-1.6zM265.4 88.9h1.6v1.5h-1.6zM268.0 89.5h1.6v1.5h-1.6zM268.7 89.8h1.6v1.5h-1.6zM270.9 89.0h1.6v1.5h-1.6zM271.9 89.3h1.6v1.5h-1.6zM273.3 88.6h1.6v1.5h-1.6zM274.7 89.3h1.6v1.5h-1.6zM275.1 89.7h1.6v1.5h-1.6zM280.8 89.3h1.6v1.5h-1.6zM281.8 88.8h1.6v1.5h-1.6zM282.3 89.0h1.6v1.5h-1.6zM283.8 89.6h1.6v1.5h-1.6zM286.1 89.7h1.6v1.5h-1.6zM287.0 88.7h1.6v1.5h-1.6zM287.6 89.2h1.6v1.5h-1.6zM289.7 89.2h1.6v1.5h-1.6zM293.1 88.7h1.6v1.5h-1.6zM296.2 88.9h1.6v1.5h-1.6zM298.5 89.3h1.6v1.5h-1.6zM299.6 89.6h1.6v1.5h-1.6zM300.1 89.6h1.6v1.5h-1.6zM301.6 89.6h1.6v1.5h-1.6zM304.3 89.7h1.6v1.5h-1.6zM306.0 89.4h1.6v1.5h-1.6zM307.2 89.5h1.6v1.5h-1.6zM307.5 89.3h1.6v1.5h-1.6zM309.6 89.5h1.6v1.5h-1.6zM310.1 89.4h1.6v1.5h-1.6zM312.9 89.8h1.6v1.5h-1.6zM315.0 88.9h1.6v1.5h-1.6zM318.7 89.1h1.6v1.5h-1.6zM322.0 88.7h1.6v1.5h-1.6zM325.2 89.6h1.6v1.5h-1.6zM326.1 89.5h1.6v1.5h-1.6zM328.1 88.9h1.6v1.5h-1.6zM330.8 89.5h1.6v1.5h-1.6zM253.1 90.3h1.6v1.5h-1.6zM256.0 90.5h1.6v1.5h-1.6zM259.7 90.8h1.6v1.5h-1.6zM260.8 90.9h1.6v1.5h-1.6zM262.3 90.8h1.6v1.5h-1.6zM264.4 90.0h1.6v1.5h-1.6zM266.5 90.5h1.6v1.5h-1.6zM269.3 90.3h1.6v1.5h-1.6zM271.7 90.5h1.6v1.5h-1.6zM274.6 90.7h1.6v1.5h-1.6zM275.3 90.1h1.6v1.5h-1.6zM278.1 90.8h1.6v1.5h-1.6zM278.9 89.9h1.6v1.5h-1.6zM280.5 89.9h1.6v1.5h-1.6zM282.2 90.2h1.6v1.5h-1.6zM286.8 90.1h1.6v1.5h-1.6zM287.6 90.1h1.6v1.5h-1.6zM288.9 90.5h1.6v1.5h-1.6zM291.8 91.0h1.6v1.5h-1.6zM292.6 90.3h1.6v1.5h-1.6zM293.7 90.3h1.6v1.5h-1.6zM298.0 90.1h1.6v1.5h-1.6zM298.7 90.6h1.6v1.5h-1.6zM300.5 89.9h1.6v1.5h-1.6zM301.9 90.1h1.6v1.5h-1.6zM302.5 90.7h1.6v1.5h-1.6zM304.5 90.1h1.6v1.5h-1.6zM305.8 91.0h1.6v1.5h-1.6zM306.9 90.7h1.6v1.5h-1.6zM307.6 90.9h1.6v1.5h-1.6zM310.1 90.5h1.6v1.5h-1.6zM314.0 90.6h1.6v1.5h-1.6zM316.0 90.1h1.6v1.5h-1.6zM316.4 89.9h1.6v1.5h-1.6zM317.4 90.3h1.6v1.5h-1.6zM318.7 89.9h1.6v1.5h-1.6zM322.0 90.0h1.6v1.5h-1.6zM322.9 90.6h1.6v1.5h-1.6zM324.8 90.5h1.6v1.5h-1.6zM326.3 89.9h1.6v1.5h-1.6zM328.4 89.9h1.6v1.5h-1.6zM328.8 90.5h1.6v1.5h-1.6zM252.3 91.2h1.6v1.5h-1.6zM254.8 91.3h1.6v1.5h-1.6zM255.1 92.0h1.6v1.5h-1.6zM257.3 92.3h1.6v1.5h-1.6zM258.4 91.5h1.6v1.5h-1.6zM258.8 92.1h1.6v1.5h-1.6zM265.0 91.4h1.6v1.5h-1.6zM266.6 91.3h1.6v1.5h-1.6zM267.6 91.2h1.6v1.5h-1.6zM269.5 92.0h1.6v1.5h-1.6zM271.6 91.3h1.6v1.5h-1.6zM273.2 91.5h1.6v1.5h-1.6zM277.9 91.1h1.6v1.5h-1.6zM279.5 92.1h1.6v1.5h-1.6zM280.3 92.3h1.6v1.5h-1.6zM281.5 91.3h1.6v1.5h-1.6zM282.6 92.0h1.6v1.5h-1.6zM284.4 92.2h1.6v1.5h-1.6zM285.2 91.9h1.6v1.5h-1.6zM286.9 91.9h1.6v1.5h-1.6zM288.3 91.6h1.6v1.5h-1.6zM289.4 91.7h1.6v1.5h-1.6zM290.7 91.2h1.6v1.5h-1.6zM294.0 91.9h1.6v1.5h-1.6zM295.4 91.9h1.6v1.5h-1.6zM296.9 91.6h1.6v1.5h-1.6zM297.9 91.3h1.6v1.5h-1.6zM299.8 91.2h1.6v1.5h-1.6zM302.6 91.2h1.6v1.5h-1.6zM304.7 92.2h1.6v1.5h-1.6zM305.1 91.3h1.6v1.5h-1.6zM306.1 91.5h1.6v1.5h-1.6zM308.1 92.2h1.6v1.5h-1.6zM314.3 92.4h1.6v1.5h-1.6zM317.1 92.3h1.6v1.5h-1.6zM318.0 92.1h1.6v1.5h-1.6zM319.1 92.2h1.6v1.5h-1.6zM321.8 91.2h1.6v1.5h-1.6zM322.4 91.9h1.6v1.5h-1.6zM324.7 91.9h1.6v1.5h-1.6zM326.8 91.9h1.6v1.5h-1.6zM327.8 91.6h1.6v1.5h-1.6zM254.1 92.8h1.6v1.5h-1.6zM255.3 92.4h1.6v1.5h-1.6zM258.1 92.9h1.6v1.5h-1.6zM261.6 92.8h1.6v1.5h-1.6zM262.4 93.1h1.6v1.5h-1.6zM264.8 93.1h1.6v1.5h-1.6zM265.1 92.5h1.6v1.5h-1.6zM268.8 93.4h1.6v1.5h-1.6zM270.6 93.3h1.6v1.5h-1.6zM274.7 92.8h1.6v1.5h-1.6zM275.1 92.7h1.6v1.5h-1.6zM276.4 92.9h1.6v1.5h-1.6zM277.5 93.1h1.6v1.5h-1.6zM278.8 92.8h1.6v1.5h-1.6zM280.6 93.6h1.6v1.5h-1.6zM283.3 92.6h1.6v1.5h-1.6zM284.1 93.4h1.6v1.5h-1.6zM285.2 92.8h1.6v1.5h-1.6zM287.3 92.5h1.6v1.5h-1.6zM288.4 92.9h1.6v1.5h-1.6zM288.9 92.6h1.6v1.5h-1.6zM290.5 93.1h1.6v1.5h-1.6zM293.3 92.7h1.6v1.5h-1.6zM296.0 92.8h1.6v1.5h-1.6zM297.5 92.7h1.6v1.5h-1.6zM299.3 92.8h1.6v1.5h-1.6zM301.1 93.3h1.6v1.5h-1.6zM303.3 92.8h1.6v1.5h-1.6zM308.2 93.2h1.6v1.5h-1.6zM309.0 93.5h1.6v1.5h-1.6zM315.4 92.7h1.6v1.5h-1.6zM317.4 92.5h1.6v1.5h-1.6zM321.5 93.4h1.6v1.5h-1.6zM323.5 93.4h1.6v1.5h-1.6zM323.9 93.5h1.6v1.5h-1.6zM326.0 93.0h1.6v1.5h-1.6zM327.1 92.7h1.6v1.5h-1.6zM327.6 93.4h1.6v1.5h-1.6zM328.9 92.8h1.6v1.5h-1.6zM330.2 93.2h1.6v1.5h-1.6zM250.0 93.7h1.6v1.5h-1.6zM251.4 94.3h1.6v1.5h-1.6zM256.4 94.0h1.6v1.5h-1.6zM258.4 94.3h1.6v1.5h-1.6zM259.8 94.7h1.6v1.5h-1.6zM259.8 94.0h1.6v1.5h-1.6zM262.6 93.7h1.6v1.5h-1.6zM263.6 93.9h1.6v1.5h-1.6zM265.9 94.0h1.6v1.5h-1.6zM266.8 93.7h1.6v1.5h-1.6zM269.5 93.9h1.6v1.5h-1.6zM270.2 94.1h1.6v1.5h-1.6zM271.4 94.3h1.6v1.5h-1.6zM272.4 94.6h1.6v1.5h-1.6zM274.1 94.0h1.6v1.5h-1.6zM275.5 94.7h1.6v1.5h-1.6zM277.2 94.8h1.6v1.5h-1.6zM278.1 94.4h1.6v1.5h-1.6zM279.5 94.7h1.6v1.5h-1.6zM281.1 94.1h1.6v1.5h-1.6zM283.2 93.7h1.6v1.5h-1.6zM285.1 94.3h1.6v1.5h-1.6zM287.2 93.7h1.6v1.5h-1.6zM290.2 94.7h1.6v1.5h-1.6zM291.2 93.8h1.6v1.5h-1.6zM292.8 94.1h1.6v1.5h-1.6zM294.3 94.1h1.6v1.5h-1.6zM297.2 94.1h1.6v1.5h-1.6zM297.4 94.8h1.6v1.5h-1.6zM299.7 94.4h1.6v1.5h-1.6zM300.9 94.6h1.6v1.5h-1.6zM301.9 94.0h1.6v1.5h-1.6zM302.5 94.4h1.6v1.5h-1.6zM307.5 94.2h1.6v1.5h-1.6zM309.8 94.5h1.6v1.5h-1.6zM310.8 93.6h1.6v1.5h-1.6zM312.5 93.8h1.6v1.5h-1.6zM313.8 94.0h1.6v1.5h-1.6zM315.4 93.9h1.6v1.5h-1.6zM316.3 94.0h1.6v1.5h-1.6zM317.7 93.8h1.6v1.5h-1.6zM323.4 94.1h1.6v1.5h-1.6zM327.3 93.8h1.6v1.5h-1.6zM328.1 93.9h1.6v1.5h-1.6zM329.8 93.7h1.6v1.5h-1.6zM330.9 93.7h1.6v1.5h-1.6zM250.4 95.2h1.6v1.5h-1.6zM256.5 95.9h1.6v1.5h-1.6zM257.9 95.2h1.6v1.5h-1.6zM261.1 95.7h1.6v1.5h-1.6zM263.6 95.2h1.6v1.5h-1.6zM264.0 95.8h1.6v1.5h-1.6zM264.9 96.1h1.6v1.5h-1.6zM267.0 95.2h1.6v1.5h-1.6zM267.9 95.3h1.6v1.5h-1.6zM269.5 95.7h1.6v1.5h-1.6zM270.8 95.6h1.6v1.5h-1.6zM272.8 95.4h1.6v1.5h-1.6zM274.3 94.9h1.6v1.5h-1.6zM276.9 96.0h1.6v1.5h-1.6zM277.7 96.1h1.6v1.5h-1.6zM278.6 95.1h1.6v1.5h-1.6zM280.7 95.9h1.6v1.5h-1.6zM282.2 95.4h1.6v1.5h-1.6zM282.4 95.5h1.6v1.5h-1.6zM284.3 95.2h1.6v1.5h-1.6zM285.0 95.5h1.6v1.5h-1.6zM286.8 95.9h1.6v1.5h-1.6zM290.6 95.1h1.6v1.5h-1.6zM293.1 95.5h1.6v1.5h-1.6zM294.9 95.0h1.6v1.5h-1.6zM296.8 95.0h1.6v1.5h-1.6zM298.1 95.9h1.6v1.5h-1.6zM299.5 95.8h1.6v1.5h-1.6zM300.9 95.0h1.6v1.5h-1.6zM302.0 95.2h1.6v1.5h-1.6zM303.1 95.8h1.6v1.5h-1.6zM304.9 95.4h1.6v1.5h-1.6zM306.5 95.0h1.6v1.5h-1.6zM307.6 95.9h1.6v1.5h-1.6zM308.7 95.1h1.6v1.5h-1.6zM310.9 95.2h1.6v1.5h-1.6zM312.3 95.4h1.6v1.5h-1.6zM313.2 96.0h1.6v1.5h-1.6zM314.1 95.9h1.6v1.5h-1.6zM315.3 94.9h1.6v1.5h-1.6zM316.7 96.0h1.6v1.5h-1.6zM321.1 95.8h1.6v1.5h-1.6zM323.1 95.8h1.6v1.5h-1.6zM324.2 95.5h1.6v1.5h-1.6zM324.9 95.6h1.6v1.5h-1.6zM327.2 94.9h1.6v1.5h-1.6zM328.4 95.9h1.6v1.5h-1.6zM328.7 95.5h1.6v1.5h-1.6zM329.9 95.9h1.6v1.5h-1.6z"/>
<path fill="#fde725" d="M259.6 65.4h1.6v1.5h-1.6zM231.4 67.0h1.6v1.5h-1.6zM247.5 67.6h1.6v1.5h-1.6zM261.0 67.9h1.6v1.5h-1.6zM233.2 69.6h1.6v1.5h-1.6zM234.5 68.9h1.6v1.5h-1.6zM270.3 69.0h1.6v1.5h-1.6zM228.0 69.9h1.6v1.5h-1.6zM239.6 70.6h1.6v1.5h-1.6zM262.0 70.6h1.6v1.5h-1.6zM217.3 72.2h1.6v1.5h-1.6zM222.0 72.2h1.6v1.5h-1.6zM225.0 72.0h1.6v1.5h-1.6zM235.1 72.3h1.6v1.5h-1.6zM242.1 71.2h1.6v1.5h-1.6zM257.2 72.4h1.6v1.5h-1.6zM267.8 71.3h1.6v1.5h-1.6zM271.1 72.0h1.6v1.5h-1.6zM225.3 73.1h1.6v1.5h-1.6zM229.5 73.6h1.6v1.5h-1.6zM240.4 73.0h1.6v1.5h-1.6zM242.4 72.7h1.6v1.5h-1.6zM248.3 72.7h1.6v1.5h-1.6zM269.0 72.7h1.6v1.5h-1.6zM220.2 73.8h1.6v1.5h-1.6zM220.8 74.3h1.6v1.5h-1.6zM234.3 74.3h1.6v1.5h-1.6zM238.0 74.8h1.6v1.5h-1.6zM238.6 73.7h1.6v1.5h-1.6zM242.5 74.5h1.6v1.5h-1.6zM246.2 74.6h1.6v1.5h-1.6zM250.8 74.0h1.6v1.5h-1.6zM260.8 74.5h1.6v1.5h-1.6zM262.5 74.6h1.6v1.5h-1.6zM264.9 74.3h1.6v1.5h-1.6zM281.5 74.3h1.6v1.5h-1.6zM218.4 76.1h1.6v1.5h-1.6zM219.5 75.1h1.6v1.5h-1.6zM224.1 74.9h1.6v1.5h-1.6zM224.5 76.0h1.6v1.5h-1.6zM229.6 75.7h1.6v1.5h-1.6zM235.3 75.1h1.6v1.5h-1.6zM238.0 75.9h1.6v1.5h-1.6zM240.2 76.0h1.6v1.5h-1.6zM242.8 75.2h1.6v1.5h-1.6zM244.1 75.9h1.6v1.5h-1.6zM247.2 75.8h1.6v1.5h-1.6zM248.3 76.1h1.6v1.5h-1.6zM252.7 75.8h1.6v1.5h-1.6zM261.4 75.7h1.6v1.5h-1.6zM276.3 74.9h1.6v1.5h-1.6zM217.8 77.2h1.6v1.5h-1.6zM218.8 76.6h1.6v1.5h-1.6zM222.9 77.0h1.6v1.5h-1.6zM224.9 76.3h1.6v1.5h-1.6zM228.7 77.2h1.6v1.5h-1.6zM231.1 76.4h1.6v1.5h-1.6zM232.7 76.2h1.6v1.5h-1.6zM234.2 76.1h1.6v1.5h-1.6zM240.1 76.7h1.6v1.5h-1.6zM240.7 77.3h1.6v1.5h-1.6zM242.9 76.5h1.6v1.5h-1.6zM243.3 77.0h1.6v1.5h-1.6zM246.2 76.8h1.6v1.5h-1.6zM248.4 77.4h1.6v1.5h-1.6zM251.3 76.2h1.6v1.5h-1.6zM262.4 76.4h1.6v1.5h-1.6zM265.7 77.0h1.6v1.5h-1.6zM217.8 78.0h1.6v1.5h-1.6zM219.0 78.6h1.6v1.5h-1.6zM220.5 77.8h1.6v1.5h-1.6zM221.5 77.9h1.6v1.5h-1.6zM223.3 77.7h1.6v1.5h-1.6zM227.6 78.4h1.6v1.5h-1.6zM228.1 77.8h1.6v1.5h-1.6zM232.8 78.3h1.6v1.5h-1.6zM234.0 77.7h1.6v1.5h-1.6zM235.3 78.1h1.6v1.5h-1.6zM236.5 78.4h1.6v1.5h-1.6zM237.9 78.2h1.6v1.5h-1.6zM240.5 78.0h1.6v1.5h-1.6zM245.3 78.5h1.6v1.5h-1.6zM249.2 77.6h1.6v1.5h-1.6zM249.4 78.3h1.6v1.5h-1.6zM251.7 77.6h1.6v1.5h-1.6zM252.8 78.2h1.6v1.5h-1.6zM254.4 77.5h1.6v1.5h-1.6zM257.8 78.5h1.6v1.5h-1.6zM259.4 77.8h1.6v1.5h-1.6zM261.0 77.4h1.6v1.5h-1.6zM270.1 78.6h1.6v1.5h-1.6zM217.7 79.5h1.6v1.5h-1.6zM218.9 79.7h1.6v1.5h-1.6zM219.8 79.6h1.6v1.5h-1.6zM221.2 79.4h1.6v1.5h-1.6zM222.3 78.7h1.6v1.5h-1.6zM224.1 78.9h1.6v1.5h-1.6zM224.4 79.7h1.6v1.5h-1.6zM227.0 79.3h1.6v1.5h-1.6zM228.9 79.0h1.6v1.5h-1.6zM229.6 79.6h1.6v1.5h-1.6zM231.5 79.0h1.6v1.5h-1.6zM231.9 79.6h1.6v1.5h-1.6zM233.3 79.8h1.6v1.5h-1.6zM236.3 79.0h1.6v1.5h-1.6zM238.9 79.7h1.6v1.5h-1.6zM240.4 79.7h1.6v1.5h-1.6zM241.0 79.6h1.6v1.5h-1.6zM241.9 78.9h1.6v1.5h-1.6zM244.8 79.4h1.6v1.5h-1.6zM246.4 79.4h1.6v1.5h-1.6zM246.9 79.7h1.6v1.5h-1.6zM249.0 79.7h1.6v1.5h-1.6zM250.3 79.1h1.6v1.5h-1.6zM250.7 79.4h1.6v1.5h-1.6zM252.0 79.4h1.6v1.5h-1.6zM253.9 79.7h1.6v1.5h-1.6zM254.6 79.0h1.6v1.5h-1.6zM255.8 79.8h1.6v1.5h-1.6zM256.9 79.3h1.6v1.5h-1.6zM259.0 79.2h1.6v1.5h-1.6zM260.3 79.0h1.6v1.5h-1.6zM262.2 79.1h1.6v1.5h-1.6zM263.9 79.5h1.6v1.5h-1.6zM265.7 79.4h1.6v1.5h-1.6zM267.1 79.7h1.6v1.5h-1.6zM270.9 79.8h1.6v1.5h-1.6zM272.0 78.8h1.6v1.5h-1.6zM217.4 80.2h1.6v1.5h-1.6zM218.4 80.7h1.6v1.5h-1.6zM220.0 80.3h1.6v1.5h-1.6zM221.0 80.5h1.6v1.5h-1.6zM222.3 80.4h1.6v1.5h-1.6zM223.6 80.5h1.6v1.5h-1.6zM224.9 80.6h1.6v1.5h-1.6zM226.0 80.3h1.6v1.5h-1.6zM227.3 80.6h1.6v1.5h-1.6zM228.8 80.7h1.6v1.5h-1.6zM230.1 80.3h1.6v1.5h-1.6zM231.3 80.7h1.6v1.5h-1.6zM232.2 80.3h1.6v1.5h-1.6zM233.6 80.4h1.6v1.5h-1.6zM234.7 80.4h1.6v1.5h-1.6zM236.2 80.7h1.6v1.5h-1.6zM237.4 80.3h1.6v1.5h-1.6zM238.4 80.5h1.6v1.5h-1.6zM240.1 80.5h1.6v1.5h-1.6zM241.2 80.3h1.6v1.5h-1.6zM242.2 80.3h1.6v1.5h-1.6zM243.5 80.5h1.6v1.5h-1.6zM245.2 80.2h1.6v1.5h-1.6zM246.3 80.3h1.6v1.5h-1.6zM247.4 80.4h1.6v1.5h-1.6zM248.6 80.6h1.6v1.5h-1.6zM250.1 80.6h1.6v1.5h-1.6zM251.2 80.6h1.6v1.5h-1.6zM252.3 80.7h1.6v1.5h-1.6zM253.9 80.3h1.6v1.5h-1.6zM254.8 80.7h1.6v1.5h-1.6zM256.2 80.6h1.6v1.5h-1.6zM257.7 80.3h1.6v1.5h-1.6zM258.1 80.9h1.6v1.5h-1.6zM260.4 80.1h1.6v1.5h-1.6zM260.7 80.6h1.6v1.5h-1.6zM262.0 80.6h1.6v1.5h-1.6zM268.1 80.8h1.6v1.5h-1.6zM273.9 81.1h1.6v1.5h-1.6zM217.4 81.9h1.6v1.5h-1.6zM218.7 81.7h1.6v1.5h-1.6zM220.0 81.8h1.6v1.5h-1.6zM221.1 81.9h1.6v1.5h-1.6zM222.3 81.8h1.6v1.5h-1.6zM223.7 81.9h1.6v1.5h-1.6zM224.9 81.5h1.6v1.5h-1.6zM226.3 81.8h1.6v1.5h-1.6zM227.5 81.7h1.6v1.5h-1.6zM228.7 81.7h1.6v1.5h-1.6zM229.8 81.7h1.6v1.5h-1.6zM231.4 81.9h1.6v1.5h-1.6zM232.2 81.8h1.6v1.5h-1.6zM233.9 81.6h1.6v1.5h-1.6zM234.7 81.5h1.6v1.5h-1.6zM236.0 82.0h1.6v1.5h-1.6zM237.5 81.9h1.6v1.5h-1.6zM238.4 82.0h1.6v1.5h-1.6zM240.0 82.0h1.6v1.5h-1.6zM240.9 81.5h1.6v1.5h-1.6zM242.7 81.6h1.6v1.5h-1.6zM244.6 82.0h1.6v1.5h-1.6zM246.3 81.6h1.6v1.5h-1.6zM247.4 81.6h1.6v1.5h-1.6zM248.6 81.8h1.6v1.5h-1.6zM249.9 81.9h1.6v1.5h-1.6zM251.1 81.6h1.6v1.5h-1.6zM252.2 81.6h1.6v1.5h-1.6zM253.8 81.5h1.6v1.5h-1.6zM254.9 81.9h1.6v1.5h-1.6zM256.0 81.9h1.6v1.5h-1.6zM257.5 81.5h1.6v1.5h-1.6zM264.0 81.3h1.6v1.5h-1.6zM273.4 82.2h1.6v1.5h-1.6zM217.2 82.9h1.6v1.5h-1.6zM218.7 82.8h1.6v1.5h-1.6zM220.0 82.8h1.6v1.5h-1.6zM221.1 83.2h1.6v1.5h-1.6zM222.5 83.2h1.6v1.5h-1.6zM223.7 82.8h1.6v1.5h-1.6zM225.1 82.9h1.6v1.5h-1.6zM226.1 83.2h1.6v1.5h-1.6zM227.1 83.2h1.6v1.5h-1.6zM228.7 82.9h1.6v1.5h-1.6zM231.0 83.3h1.6v1.5h-1.6zM232.3 82.9h1.6v1.5h-1.6zM233.8 82.9h1.6v1.5h-1.6zM234.9 83.2h1.6v1.5h-1.6zM236.4 82.8h1.6v1.5h-1.6zM237.4 83.0h1.6v1.5h-1.6zM238.7 82.8h1.6v1.5h-1.6zM240.0 83.2h1.6v1.5h-1.6zM240.9 83.1h1.6v1.5h-1.6zM242.3 83.3h1.6v1.5h-1.6zM243.5 83.0h1.6v1.5h-1.6zM244.7 82.8h1.6v1.5h-1.6zM247.2 83.1h1.6v1.5h-1.6zM248.6 83.0h1.6v1.5h-1.6zM249.9 83.1h1.6v1.5h-1.6zM251.2 82.7h1.6v1.5h-1.6zM252.5 82.7h1.6v1.5h-1.6zM253.4 83.1h1.6v1.5h-1.6zM254.7 83.1h1.6v1.5h-1.6zM256.3 83.3h1.6v1.5h-1.6zM257.6 82.8h1.6v1.5h-1.6zM259.0 83.2h1.6v1.5h-1.6zM259.7 83.2h1.6v1.5h-1.6zM261.4 83.0h1.6v1.5h-1.6zM262.6 83.5h1.6v1.5h-1.6zM283.8 83.6h1.6v1.5h-1.6zM217.5 84.1h1.6v1.5h-1.6zM218.7 84.0h1.6v1.5h-1.6zM220.0 84.0h1.6v1.5h-1.6zM221.2 84.1h1.6v1.5h-1.6zM222.5 84.2h1.6v1.5h-1.6zM223.8 84.1h1.6v1.5h-1.6zM225.2 84.3h1.6v1.5h-1.6zM226.1 84.1h1.6v1.5h-1.6zM227.7 84.0h1.6v1.5h-1.6zM228.6 84.3h1.6v1.5h-1.6zM229.9 84.3h1.6v1.5h-1.6zM231.2 84.0h1.6v1.5h-1.6zM232.6 84.2h1.6v1.5h-1.6zM233.6 84.4h1.6v1.5h-1.6zM235.1 84.5h1.6v1.5h-1.6zM236.0 84.0h1.6v1.5h-1.6zM237.3 84.4h1.6v1.5h-1.6zM238.4 84.2h1.6v1.5h-1.6zM240.0 84.3h1.6v1.5h-1.6zM241.2 84.1h1.6v1.5h-1.6zM242.6 84.4h1.6v1.5h-1.6zM243.4 84.1h1.6v1.5h-1.6zM246.4 84.2h1.6v1.5h-1.6zM247.3 84.0h1.6v1.5h-1.6zM248.7 84.0h1.6v1.5h-1.6zM249.7 84.0h1.6v1.5h-1.6zM251.4 84.5h1.6v1.5h-1.6zM252.2 84.4h1.6v1.5h-1.6zM253.8 84.1h1.6v1.5h-1.6zM254.8 84.1h1.6v1.5h-1.6zM256.3 84.3h1.6v1.5h-1.6zM257.4 84.3h1.6v1.5h-1.6zM258.8 84.3h1.6v1.5h-1.6zM260.2 84.5h1.6v1.5h-1.6zM261.3 84.3h1.6v1.5h-1.6zM264.0 84.4h1.6v1.5h-1.6zM264.7 83.7h1.6v1.5h-1.6zM220.2 85.2h1.6v1.5h-1.6zM220.7 85.1h1.6v1.5h-1.6zM221.8 85.0h1.6v1.5h-1.6zM224.9 85.3h1.6v1.5h-1.6zM226.1 85.7h1.6v1.5h-1.6zM227.2 85.6h1.6v1.5h-1.6zM228.4 85.4h1.6v1.5h-1.6zM230.0 85.7h1.6v1.5h-1.6zM231.0 85.3h1.6v1.5h-1.6zM232.2 85.7h1.6v1.5h-1.6zM233.4 85.6h1.6v1.5h-1.6zM234.9 85.4h1.6v1.5h-1.6zM236.1 85.7h1.6v1.5h-1.6zM237.2 85.7h1.6v1.5h-1.6zM238.8 85.7h1.6v1.5h-1.6zM240.0 85.8h1.6v1.5h-1.6zM241.3 85.5h1.6v1.5h-1.6zM242.4 85.7h1.6v1.5h-1.6zM243.5 85.4h1.6v1.5h-1.6zM244.6 85.5h1.6v1.5h-1.6zM246.1 85.4h1.6v1.5h-1.6zM247.6 85.5h1.6v1.5h-1.6zM248.4 85.3h1.6v1.5h-1.6zM250.1 85.5h1.6v1.5h-1.6zM251.0 85.7h1.6v1.5h-1.6zM252.3 85.4h1.6v1.5h-1.6zM253.7 85.2h1.6v1.5h-1.6zM254.7 85.3h1.6v1.5h-1.6zM256.0 85.2h1.6v1.5h-1.6zM257.6 85.2h1.6v1.5h-1.6zM258.8 85.3h1.6v1.5h-1.6zM261.4 85.0h1.6v1.5h-1.6zM264.5 84.9h1.6v1.5h-1.6zM267.2 85.5h1.6v1.5h-1.6zM270.3 86.1h1.6v1.5h-1.6zM217.4 86.7h1.6v1.5h-1.6zM220.5 87.3h1.6v1.5h-1.6zM220.7 87.0h1.6v1.5h-1.6zM222.7 86.3h1.6v1.5h-1.6zM223.7 86.9h1.6v1.5h-1.6zM224.9 86.5h1.6v1.5h-1.6zM225.9 86.5h1.6v1.5h-1.6zM227.1 86.8h1.6v1.5h-1.6zM228.6 86.7h1.6v1.5h-1.6zM229.7 86.7h1.6v1.5h-1.6zM231.0 87.0h1.6v1.5h-1.6zM232.3 86.9h1.6v1.5h-1.6zM233.9 86.5h1.6v1.5h-1.6zM235.1 86.7h1.6v1.5h-1.6zM235.9 86.9h1.6v1.5h-1.6zM238.6 86.7h1.6v1.5h-1.6zM239.9 86.9h1.6v1.5h-1.6zM241.0 86.5h1.6v1.5h-1.6zM242.6 87.0h1.6v1.5h-1.6zM243.4 86.8h1.6v1.5h-1.6zM244.6 86.6h1.6v1.5h-1.6zM246.2 86.8h1.6v1.5h-1.6zM247.4 86.6h1.6v1.5h-1.6zM248.7 86.5h1.6v1.5h-1.6zM250.1 87.0h1.6v1.5h-1.6zM251.3 86.6h1.6v1.5h-1.6zM253.7 86.6h1.6v1.5h-1.6zM255.1 86.9h1.6v1.5h-1.6zM256.3 87.0h1.6v1.5h-1.6zM257.0 86.4h1.6v1.5h-1.6zM258.1 87.1h1.6v1.5h-1.6zM259.4 87.4h1.6v1.5h-1.6zM262.5 87.3h1.6v1.5h-1.6zM264.5 87.0h1.6v1.5h-1.6zM269.0 86.9h1.6v1.5h-1.6zM271.1 86.9h1.6v1.5h-1.6zM272.0 86.4h1.6v1.5h-1.6zM278.2 86.3h1.6v1.5h-1.6zM217.9 88.6h1.6v1.5h-1.6zM218.1 88.1h1.6v1.5h-1.6zM220.3 88.0h1.6v1.5h-1.6zM222.6 87.8h1.6v1.5h-1.6zM225.0 87.9h1.6v1.5h-1.6zM226.1 87.8h1.6v1.5h-1.6zM228.6 88.0h1.6v1.5h-1.6zM230.1 88.1h1.6v1.5h-1.6zM231.3 88.2h1.6v1.5h-1.6zM232.6 88.2h1.6v1.5h-1.6zM233.4 87.8h1.6v1.5h-1.6zM235.0 87.8h1.6v1.5h-1.6zM237.4 87.8h1.6v1.5h-1.6zM238.8 87.9h1.6v1.5h-1.6zM239.9 88.1h1.6v1.5h-1.6zM241.1 88.1h1.6v1.5h-1.6zM242.3 87.8h1.6v1.5h-1.6zM246.0 88.2h1.6v1.5h-1.6zM247.3 88.3h1.6v1.5h-1.6zM248.4 88.3h1.6v1.5h-1.6zM250.0 88.2h1.6v1.5h-1.6zM251.4 88.0h1.6v1.5h-1.6zM252.4 88.1h1.6v1.5h-1.6zM253.5 88.2h1.6v1.5h-1.6zM254.7 88.1h1.6v1.5h-1.6zM256.0 88.1h1.6v1.5h-1.6zM257.6 88.0h1.6v1.5h-1.6zM258.9 88.5h1.6v1.5h-1.6zM260.4 88.4h1.6v1.5h-1.6zM262.2 88.5h1.6v1.5h-1.6zM270.5 87.6h1.6v1.5h-1.6zM272.2 87.9h1.6v1.5h-1.6zM273.6 88.1h1.6v1.5h-1.6zM280.4 88.0h1.6v1.5h-1.6zM218.1 89.6h1.6v1.5h-1.6zM219.4 89.4h1.6v1.5h-1.6zM221.6 89.7h1.6v1.5h-1.6zM222.2 89.5h1.6v1.5h-1.6zM224.0 89.2h1.6v1.5h-1.6zM225.1 89.1h1.6v1.5h-1.6zM226.0 89.1h1.6v1.5h-1.6zM227.7 89.1h1.6v1.5h-1.6zM228.7 89.4h1.6v1.5h-1.6zM229.8 89.4h1.6v1.5h-1.6zM231.4 89.3h1.6v1.5h-1.6zM232.1 89.4h1.6v1.5h-1.6zM233.5 89.4h1.6v1.5h-1.6zM235.1 89.1h1.6v1.5h-1.6zM236.0 89.4h1.6v1.5h-1.6zM237.3 89.4h1.6v1.5h-1.6zM239.9 89.1h1.6v1.5h-1.6zM240.9 89.1h1.6v1.5h-1.6zM242.6 89.2h1.6v1.5h-1.6zM243.9 89.3h1.6v1.5h-1.6zM245.0 89.1h1.6v1.5h-1.6zM246.2 89.1h1.6v1.5h-1.6zM247.6 89.2h1.6v1.5h-1.6zM248.7 89.1h1.6v1.5h-1.6zM250.1 89.4h1.6v1.5h-1.6zM251.2 89.5h1.6v1.5h-1.6zM252.3 89.0h1.6v1.5h-1.6zM253.5 89.2h1.6v1.5h-1.6zM255.1 89.5h1.6v1.5h-1.6zM256.3 89.5h1.6v1.5h-1.6zM257.6 89.3h1.6v1.5h-1.6zM258.9 88.9h1.6v1.5h-1.6zM259.4 89.8h1.6v1.5h-1.6zM261.4 89.4h1.6v1.5h-1.6zM262.6 89.7h1.6v1.5h-1.6zM264.8 89.5h1.6v1.5h-1.6zM269.8 88.8h1.6v1.5h-1.6zM272.0 88.8h1.6v1.5h-1.6zM278.9 89.7h1.6v1.5h-1.6zM218.9 91.0h1.6v1.5h-1.6zM221.5 90.6h1.6v1.5h-1.6zM225.1 90.5h1.6v1.5h-1.6zM226.4 90.4h1.6v1.5h-1.6zM227.3 90.5h1.6v1.5h-1.6zM228.6 90.5h1.6v1.5h-1.6zM230.1 90.3h1.6v1.5h-1.6zM231.3 90.6h1.6v1.5h-1.6zM232.7 90.5h1.6v1.5h-1.6zM233.5 90.3h1.6v1.5h-1.6zM236.3 90.5h1.6v1.5h-1.6zM237.5 90.3h1.6v1.5h-1.6zM238.8 90.7h1.6v1.5h-1.6zM240.2 90.5h1.6v1.5h-1.6zM241.3 90.6h1.6v1.5h-1.6zM242.3 90.7h1.6v1.5h-1.6zM243.4 90.4h1.6v1.5h-1.6zM246.4 90.4h1.6v1.5h-1.6zM247.5 90.4h1.6v1.5h-1.6zM248.7 90.7h1.6v1.5h-1.6zM249.7 90.4h1.6v1.5h-1.6zM251.3 90.7h1.6v1.5h-1.6zM252.1 90.8h1.6v1.5h-1.6zM253.7 90.4h1.6v1.5h-1.6zM256.1 90.3h1.6v1.5h-1.6zM259.6 90.1h1.6v1.5h-1.6zM262.7 90.7h1.6v1.5h-1.6zM263.1 90.6h1.6v1.5h-1.6zM267.2 90.3h1.6v1.5h-1.6zM269.3 90.4h1.6v1.5h-1.6zM272.8 90.1h1.6v1.5h-1.6zM219.0 91.4h1.6v1.5h-1.6zM221.3 91.3h1.6v1.5h-1.6zM221.9 91.9h1.6v1.5h-1.6zM223.9 91.5h1.6v1.5h-1.6zM225.1 91.5h1.6v1.5h-1.6zM226.3 91.6h1.6v1.5h-1.6zM227.3 91.9h1.6v1.5h-1.6zM228.8 91.6h1.6v1.5h-1.6zM230.0 91.8h1.6v1.5h-1.6zM231.1 91.9h1.6v1.5h-1.6zM232.4 91.5h1.6v1.5h-1.6zM233.6 92.0h1.6v1.5h-1.6zM234.9 91.7h1.6v1.5h-1.6zM236.4 91.7h1.6v1.5h-1.6zM237.6 92.0h1.6v1.5h-1.6zM238.8 92.0h1.6v1.5h-1.6zM240.0 91.8h1.6v1.5h-1.6zM240.9 91.7h1.6v1.5h-1.6zM242.2 92.0h1.6v1.5h-1.6zM243.9 91.6h1.6v1.5h-1.6zM244.6 91.9h1.6v1.5h-1.6zM246.0 91.9h1.6v1.5h-1.6zM247.6 91.5h1.6v1.5h-1.6zM248.9 91.5h1.6v1.5h-1.6zM249.7 91.6h1.6v1.5h-1.6zM251.2 91.6h1.6v1.5h-1.6zM252.3 91.6h1.6v1.5h-1.6zM253.4 91.9h1.6v1.5h-1.6zM255.1 91.9h1.6v1.5h-1.6zM256.4 91.9h1.6v1.5h-1.6zM257.6 91.9h1.6v1.5h-1.6zM258.3 92.2h1.6v1.5h-1.6zM259.5 92.0h1.6v1.5h-1.6zM263.0 91.3h1.6v1.5h-1.6zM264.1 91.9h1.6v1.5h-1.6zM264.4 92.2h1.6v1.5h-1.6zM265.8 91.4h1.6v1.5h-1.6zM269.1 91.2h1.6v1.5h-1.6zM218.5 93.4h1.6v1.5h-1.6zM220.5 92.8h1.6v1.5h-1.6zM223.8 92.9h1.6v1.5h-1.6zM226.0 92.9h1.6v1.5h-1.6zM227.5 93.3h1.6v1.5h-1.6zM228.7 93.1h1.6v1.5h-1.6zM229.9 93.0h1.6v1.5h-1.6zM231.0 93.2h1.6v1.5h-1.6zM232.3 93.3h1.6v1.5h-1.6zM233.9 93.1h1.6v1.5h-1.6zM235.0 93.2h1.6v1.5h-1.6zM236.2 93.0h1.6v1.5h-1.6zM237.5 93.2h1.6v1.5h-1.6zM238.6 93.1h1.6v1.5h-1.6zM239.8 92.7h1.6v1.5h-1.6zM241.4 93.0h1.6v1.5h-1.6zM242.5 93.2h1.6v1.5h-1.6zM243.5 93.1h1.6v1.5h-1.6zM244.7 93.2h1.6v1.5h-1.6zM246.0 92.8h1.6v1.5h-1.6zM247.2 93.2h1.6v1.5h-1.6zM248.8 93.0h1.6v1.5h-1.6zM249.9 93.0h1.6v1.5h-1.6zM251.1 93.1h1.6v1.5h-1.6zM252.1 92.7h1.6v1.5h-1.6zM253.6 93.1h1.6v1.5h-1.6zM255.0 93.1h1.6v1.5h-1.6zM255.9 93.0h1.6v1.5h-1.6zM257.3 92.8h1.6v1.5h-1.6zM258.1 92.7h1.6v1.5h-1.6zM259.3 92.9h1.6v1.5h-1.6zM260.9 92.7h1.6v1.5h-1.6zM261.8 93.0h1.6v1.5h-1.6zM264.8 93.3h1.6v1.5h-1.6zM267.2 92.6h1.6v1.5h-1.6zM269.1 92.5h1.6v1.5h-1.6zM270.2 93.3h1.6v1.5h-1.6zM217.7 93.7h1.6v1.5h-1.6zM218.4 94.2h1.6v1.5h-1.6zM221.5 94.4h1.6v1.5h-1.6zM223.7 94.1h1.6v1.5h-1.6zM224.9 94.5h1.6v1.5h-1.6zM226.3 94.4h1.6v1.5h-1.6zM227.5 94.1h1.6v1.5h-1.6zM228.9 94.5h1.6v1.5h-1.6zM229.7 94.1h1.6v1.5h-1.6zM231.1 94.1h1.6v1.5h-1.6zM232.4 94.4h1.6v1.5h-1.6zM233.6 94.2h1.6v1.5h-1.6zM235.1 94.1h1.6v1.5h-1.6zM237.2 94.5h1.6v1.5h-1.6zM238.9 94.0h1.6v1.5h-1.6zM239.7 94.3h1.6v1.5h-1.6zM241.2 94.0h1.6v1.5h-1.6zM242.4 94.1h1.6v1.5h-1.6zM243.5 94.5h1.6v1.5h-1.6zM244.8 94.5h1.6v1.5h-1.6zM245.9 94.3h1.6v1.5h-1.6zM247.5 94.4h1.6v1.5h-1.6zM248.5 94.2h1.6v1.5h-1.6zM249.9 94.4h1.6v1.5h-1.6zM251.3 94.5h1.6v1.5h-1.6zM252.4 94.0h1.6v1.5h-1.6zM253.9 94.2h1.6v1.5h-1.6zM255.1 94.4h1.6v1.5h-1.6zM256.4 94.4h1.6v1.5h-1.6zM257.3 94.4h1.6v1.5h-1.6zM259.2 94.3h1.6v1.5h-1.6zM259.3 94.0h1.6v1.5h-1.6zM260.9 93.7h1.6v1.5h-1.6zM272.8 94.3h1.6v1.5h-1.6zM275.6 94.6h1.6v1.5h-1.6zM217.4 95.9h1.6v1.5h-1.6zM224.7 95.4h1.6v1.5h-1.6zM226.2 95.4h1.6v1.5h-1.6zM227.5 95.6h1.6v1.5h-1.6zM228.6 95.3h1.6v1.5h-1.6zM229.9 95.4h1.6v1.5h-1.6zM231.2 95.6h1.6v1.5h-1.6zM232.5 95.4h1.6v1.5h-1.6zM233.4 95.3h1.6v1.5h-1.6zM234.9 95.3h1.6v1.5h-1.6zM235.9 95.6h1.6v1.5h-1.6zM237.7 95.3h1.6v1.5h-1.6zM238.9 95.7h1.6v1.5h-1.6zM239.7 95.5h1.6v1.5h-1.6zM240.9 95.4h1.6v1.5h-1.6zM242.3 95.5h1.6v1.5h-1.6zM243.8 95.4h1.6v1.5h-1.6zM245.1 95.6h1.6v1.5h-1.6zM246.4 95.5h1.6v1.5h-1.6zM247.5 95.6h1.6v1.5h-1.6zM249.9 95.6h1.6v1.5h-1.6zM250.9 95.3h1.6v1.5h-1.6zM252.5 95.4h1.6v1.5h-1.6zM253.8 95.5h1.6v1.5h-1.6zM254.7 95.6h1.6v1.5h-1.6zM256.3 95.5h1.6v1.5h-1.6zM257.2 95.3h1.6v1.5h-1.6zM259.2 95.9h1.6v1.5h-1.6zM259.6 95.5h1.6v1.5h-1.6zM261.7 95.5h1.6v1.5h-1.6z"/>
<path fill="#440154" d="M292.8 84.4h1.6v1.5h-1.6zM287.2 85.8h1.6v1.5h-1.6zM289.2 85.9h1.6v1.5h-1.6zM329.6 85.7h1.6v1.5h-1.6zM281.6 87.4h1.6v1.5h-1.6zM285.0 86.8h1.6v1.5h-1.6zM291.3 87.5h1.6v1.5h-1.6zM294.3 86.4h1.6v1.5h-1.6zM298.1 87.1h1.6v1.5h-1.6zM301.0 87.3h1.6v1.5h-1.6zM302.3 86.5h1.6v1.5h-1.6zM320.9 87.5h1.6v1.5h-1.6zM321.9 87.3h1.6v1.5h-1.6zM323.5 86.4h1.6v1.5h-1.6zM330.0 86.7h1.6v1.5h-1.6zM279.7 88.8h1.6v1.5h-1.6zM283.2 88.7h1.6v1.5h-1.6zM284.3 88.2h1.6v1.5h-1.6zM286.4 88.7h1.6v1.5h-1.6zM288.3 88.1h1.6v1.5h-1.6zM289.4 88.2h1.6v1.5h-1.6zM291.5 87.8h1.6v1.5h-1.6zM295.6 88.6h1.6v1.5h-1.6zM298.5 88.3h1.6v1.5h-1.6zM298.9 88.6h1.6v1.5h-1.6zM300.4 87.8h1.6v1.5h-1.6zM303.4 87.8h1.6v1.5h-1.6zM307.0 88.8h1.6v1.5h-1.6zM310.6 87.9h1.6v1.5h-1.6zM313.1 88.5h1.6v1.5h-1.6zM314.5 88.1h1.6v1.5h-1.6zM318.2 88.8h1.6v1.5h-1.6zM319.7 88.7h1.6v1.5h-1.6zM321.7 88.5h1.6v1.5h-1.6zM328.8 87.7h1.6v1.5h-1.6zM279.6 89.6h1.6v1.5h-1.6zM280.6 89.3h1.6v1.5h-1.6zM283.7 90.0h1.6v1.5h-1.6zM285.8 89.1h1.6v1.5h-1.6zM288.3 89.4h1.6v1.5h-1.6zM288.6 89.3h1.6v1.5h-1.6zM289.8 89.3h1.6v1.5h-1.6zM291.1 89.8h1.6v1.5h-1.6zM294.5 89.2h1.6v1.5h-1.6zM296.0 89.7h1.6v1.5h-1.6zM296.9 89.2h1.6v1.5h-1.6zM299.8 89.9h1.6v1.5h-1.6zM302.5 89.1h1.6v1.5h-1.6zM304.9 89.9h1.6v1.5h-1.6zM310.8 89.1h1.6v1.5h-1.6zM312.2 89.4h1.6v1.5h-1.6zM312.6 90.1h1.6v1.5h-1.6zM313.7 89.9h1.6v1.5h-1.6zM318.3 89.6h1.6v1.5h-1.6zM318.9 89.0h1.6v1.5h-1.6zM320.8 89.2h1.6v1.5h-1.6zM323.2 88.9h1.6v1.5h-1.6zM324.9 89.1h1.6v1.5h-1.6zM327.4 89.1h1.6v1.5h-1.6zM329.5 89.6h1.6v1.5h-1.6zM330.2 89.9h1.6v1.5h-1.6zM280.5 90.6h1.6v1.5h-1.6zM282.8 91.0h1.6v1.5h-1.6zM284.3 90.2h1.6v1.5h-1.6zM291.0 90.4h1.6v1.5h-1.6zM291.9 91.2h1.6v1.5h-1.6zM293.2 90.5h1.6v1.5h-1.6zM294.0 90.4h1.6v1.5h-1.6zM296.2 90.8h1.6v1.5h-1.6zM299.3 91.2h1.6v1.5h-1.6zM299.9 90.3h1.6v1.5h-1.6zM302.0 90.9h1.6v1.5h-1.6zM303.2 91.0h1.6v1.5h-1.6zM305.6 90.5h1.6v1.5h-1.6zM307.0 90.3h1.6v1.5h-1.6zM308.4 90.8h1.6v1.5h-1.6zM309.8 91.2h1.6v1.5h-1.6zM310.9 90.6h1.6v1.5h-1.6zM313.3 91.0h1.6v1.5h-1.6zM314.7 90.4h1.6v1.5h-1.6zM315.9 90.9h1.6v1.5h-1.6zM317.4 90.7h1.6v1.5h-1.6zM318.9 91.1h1.6v1.5h-1.6zM324.2 90.8h1.6v1.5h-1.6zM325.3 90.9h1.6v1.5h-1.6zM326.1 91.2h1.6v1.5h-1.6zM327.9 90.4h1.6v1.5h-1.6zM328.6 90.4h1.6v1.5h-1.6zM329.9 91.1h1.6v1.5h-1.6zM276.7 92.5h1.6v1.5h-1.6zM278.0 92.5h1.6v1.5h-1.6zM281.9 92.1h1.6v1.5h-1.6zM282.6 92.0h1.6v1.5h-1.6zM284.5 91.7h1.6v1.5h-1.6zM286.1 91.4h1.6v1.5h-1.6zM288.4 91.5h1.6v1.5h-1.6zM288.9 92.5h1.6v1.5h-1.6zM291.1 92.2h1.6v1.5h-1.6zM293.4 92.4h1.6v1.5h-1.6zM295.0 92.0h1.6v1.5h-1.6zM297.2 91.8h1.6v1.5h-1.6zM298.9 92.2h1.6v1.5h-1.6zM300.5 91.6h1.6v1.5h-1.6zM301.3 91.5h1.6v1.5h-1.6zM302.4 91.4h1.6v1.5h-1.6zM305.8 91.5h1.6v1.5h-1.6zM307.9 92.4h1.6v1.5h-1.6zM309.8 91.9h1.6v1.5h-1.6zM310.8 91.5h1.6v1.5h-1.6zM312.2 91.8h1.6v1.5h-1.6zM313.0 92.1h1.6v1.5h-1.6zM314.2 91.9h1.6v1.5h-1.6zM315.9 92.1h1.6v1.5h-1.6zM318.3 92.3h1.6v1.5h-1.6zM319.4 91.5h1.6v1.5h-1.6zM323.0 91.5h1.6v1.5h-1.6zM323.9 92.2h1.6v1.5h-1.6zM325.9 92.5h1.6v1.5h-1.6zM327.2 91.9h1.6v1.5h-1.6zM328.7 91.6h1.6v1.5h-1.6zM330.6 92.5h1.6v1.5h-1.6zM276.1 92.7h1.6v1.5h-1.6zM277.9 92.8h1.6v1.5h-1.6zM283.4 93.6h1.6v1.5h-1.6zM287.0 93.8h1.6v1.5h-1.6zM289.0 93.8h1.6v1.5h-1.6zM290.2 93.3h1.6v1.5h-1.6zM292.3 93.6h1.6v1.5h-1.6zM297.3 93.7h1.6v1.5h-1.6zM297.5 93.2h1.6v1.5h-1.6zM298.7 93.8h1.6v1.5h-1.6zM300.7 93.8h1.6v1.5h-1.6zM302.0 93.6h1.6v1.5h-1.6zM302.4 93.4h1.6v1.5h-1.6zM304.5 93.5h1.6v1.5h-1.6zM305.8 93.1h1.6v1.5h-1.6zM306.7 93.1h1.6v1.5h-1.6zM307.8 93.1h1.6v1.5h-1.6zM309.5 92.9h1.6v1.5h-1.6zM311.8 93.9h1.6v1.5h-1.6zM312.7 93.8h1.6v1.5h-1.6zM315.0 93.1h1.6v1.5h-1.6zM316.2 93.8h1.6v1.5h-1.6zM318.3 93.2h1.6v1.5h-1.6zM318.9 93.6h1.6v1.5h-1.6zM320.1 92.9h1.6v1.5h-1.6zM322.0 93.8h1.6v1.5h-1.6zM322.5 93.6h1.6v1.5h-1.6zM324.5 93.1h1.6v1.5h-1.6zM326.6 92.7h1.6v1.5h-1.6zM329.3 93.8h1.6v1.5h-1.6zM280.9 94.7h1.6v1.5h-1.6zM282.1 94.2h1.6v1.5h-1.6zM283.5 94.2h1.6v1.5h-1.6zM283.8 94.2h1.6v1.5h-1.6zM285.1 94.4h1.6v1.5h-1.6zM288.2 94.7h1.6v1.5h-1.6zM289.4 95.1h1.6v1.5h-1.6zM290.5 94.8h1.6v1.5h-1.6zM293.0 93.9h1.6v1.5h-1.6zM294.7 95.1h1.6v1.5h-1.6zM296.4 94.1h1.6v1.5h-1.6zM299.3 94.0h1.6v1.5h-1.6zM300.8 94.9h1.6v1.5h-1.6zM301.5 95.0h1.6v1.5h-1.6zM303.5 94.9h1.6v1.5h-1.6zM304.3 95.0h1.6v1.5h-1.6zM305.8 94.9h1.6v1.5h-1.6zM306.3 95.0h1.6v1.5h-1.6zM307.5 94.0h1.6v1.5h-1.6zM309.1 94.7h1.6v1.5h-1.6zM310.7 94.4h1.6v1.5h-1.6zM312.1 94.2h1.6v1.5h-1.6zM315.6 94.8h1.6v1.5h-1.6zM318.5 94.3h1.6v1.5h-1.6zM319.3 94.4h1.6v1.5h-1.6zM321.3 94.4h1.6v1.5h-1.6zM323.2 94.3h1.6v1.5h-1.6zM327.3 94.2h1.6v1.5h-1.6zM328.7 94.1h1.6v1.5h-1.6zM330.0 94.8h1.6v1.5h-1.6zM276.9 95.8h1.6v1.5h-1.6zM281.1 96.0h1.6v1.5h-1.6zM288.0 96.3h1.6v1.5h-1.6zM288.9 96.1h1.6v1.5h-1.6zM290.9 95.8h1.6v1.5h-1.6zM291.5 95.6h1.6v1.5h-1.6zM292.8 96.1h1.6v1.5h-1.6zM294.5 95.6h1.6v1.5h-1.6zM295.8 96.3h1.6v1.5h-1.6zM296.1 96.1h1.6v1.5h-1.6zM297.9 96.4h1.6v1.5h-1.6zM298.6 95.4h1.6v1.5h-1.6zM301.6 96.0h1.6v1.5h-1.6zM302.7 95.5h1.6v1.5h-1.6zM304.7 96.0h1.6v1.5h-1.6zM306.1 95.3h1.6v1.5h-1.6zM308.3 95.8h1.6v1.5h-1.6zM309.9 95.9h1.6v1.5h-1.6zM313.1 96.3h1.6v1.5h-1.6zM314.7 95.3h1.6v1.5h-1.6zM315.0 95.2h1.6v1.5h-1.6zM317.1 96.1h1.6v1.5h-1.6zM318.4 95.3h1.6v1.5h-1.6zM318.8 96.2h1.6v1.5h-1.6zM320.3 96.1h1.6v1.5h-1.6zM322.2 95.5h1.6v1.5h-1.6zM323.1 95.8h1.6v1.5h-1.6zM323.8 95.8h1.6v1.5h-1.6zM325.1 96.1h1.6v1.5h-1.6zM327.3 95.9h1.6v1.5h-1.6zM328.5 96.0h1.6v1.5h-1.6zM329.4 95.5h1.6v1.5h-1.6z"/>
<path fill="#35b779" d="M329.5 82.1h1.6v1.5h-1.6zM329.8 88.7h1.6v1.5h-1.6zM329.6 89.9h1.6v1.5h-1.6zM329.6 91.2h1.6v1.5h-1.6zM329.9 92.1h1.6v1.5h-1.6z"/>
<path fill="#fde725" d="M237.0 17.0h1.8v1.7h-1.8zM249.5 19.8h1.8v1.7h-1.8zM229.2 28.2h1.8v1.7h-1.8zM230.3 41.4h1.8v1.7h-1.8zM221.4 46.0h1.8v1.7h-1.8zM225.4 51.0h1.8v1.7h-1.8zM235.6 56.4h1.8v1.7h-1.8zM274.9 56.4h1.8v1.7h-1.8zM242.3 63.9h1.8v1.7h-1.8zM220.5 64.4h1.8v1.7h-1.8z"/>
<path fill="#35b779" d="M255.4 31.0h1.8v1.7h-1.8zM250.1 48.4h1.8v1.7h-1.8zM259.9 56.4h1.8v1.7h-1.8zM289.1 11.2h1.8v1.7h-1.8zM285.9 15.5h1.8v1.7h-1.8zM277.9 39.9h1.8v1.7h-1.8zM287.2 41.8h1.8v1.7h-1.8zM287.2 48.2h1.8v1.7h-1.8zM304.0 50.1h1.8v1.7h-1.8zM274.1 51.6h1.8v1.7h-1.8z"/></g><rect x="191.5" y="7.2" width="147.20" height="95.10" fill="none" stroke="#a8a8a8" stroke-width="1.1"/>
<line x1="198.50" y1="102.3" x2="198.50" y2="103.90" stroke="#a8a8a8" stroke-width="0.7"/>
<line x1="191.5" y1="97.30" x2="189.90" y2="97.30" stroke="#a8a8a8" stroke-width="0.7"/>
<text x="198.50" y="109.30" class="tk" text-anchor="middle">0.0</text>
<text x="188.70" y="99.20" class="tk" text-anchor="end">0.0</text>
<line x1="224.94" y1="102.3" x2="224.94" y2="103.90" stroke="#a8a8a8" stroke-width="0.7"/>
<line x1="191.5" y1="80.34" x2="189.90" y2="80.34" stroke="#a8a8a8" stroke-width="0.7"/>
<text x="224.94" y="109.30" class="tk" text-anchor="middle">0.2</text>
<text x="188.70" y="82.24" class="tk" text-anchor="end">0.2</text>
<line x1="251.38" y1="102.3" x2="251.38" y2="103.90" stroke="#a8a8a8" stroke-width="0.7"/>
<line x1="191.5" y1="63.38" x2="189.90" y2="63.38" stroke="#a8a8a8" stroke-width="0.7"/>
<text x="251.38" y="109.30" class="tk" text-anchor="middle">0.4</text>
<text x="188.70" y="65.28" class="tk" text-anchor="end">0.4</text>
<line x1="277.82" y1="102.3" x2="277.82" y2="103.90" stroke="#a8a8a8" stroke-width="0.7"/>
<line x1="191.5" y1="46.42" x2="189.90" y2="46.42" stroke="#a8a8a8" stroke-width="0.7"/>
<text x="277.82" y="109.30" class="tk" text-anchor="middle">0.6</text>
<text x="188.70" y="48.32" class="tk" text-anchor="end">0.6</text>
<line x1="304.26" y1="102.3" x2="304.26" y2="103.90" stroke="#a8a8a8" stroke-width="0.7"/>
<line x1="191.5" y1="29.46" x2="189.90" y2="29.46" stroke="#a8a8a8" stroke-width="0.7"/>
<text x="304.26" y="109.30" class="tk" text-anchor="middle">0.8</text>
<text x="188.70" y="31.36" class="tk" text-anchor="end">0.8</text>
<line x1="330.70" y1="102.3" x2="330.70" y2="103.90" stroke="#a8a8a8" stroke-width="0.7"/>
<line x1="191.5" y1="12.50" x2="189.90" y2="12.50" stroke="#a8a8a8" stroke-width="0.7"/>
<text x="330.70" y="109.30" class="tk" text-anchor="middle">1.0</text>
<text x="188.70" y="14.40" class="tk" text-anchor="end">1.0</text>
<text x="265.10" y="115.20" class="al" text-anchor="middle">Component  1</text>
<text transform="translate(178.30,54.75) rotate(-90)" class="al" text-anchor="middle">Component  2</text>
<text x="265.70" y="4.60" class="tt" text-anchor="middle">cluster __ Scatterplot of Canonical Variables</text>
<text x="188.0" y="130.8" class="lb">(<tspan class="lt">b</tspan>)</text><g clip-path="url(#cc)"><path fill="#31688e" d="M377.0 59.3h1.6v1.5h-1.6zM373.6 61.5h1.6v1.5h-1.6zM376.0 60.4h1.6v1.5h-1.6zM379.5 61.4h1.6v1.5h-1.6zM372.6 62.8h1.6v1.5h-1.6zM373.4 62.8h1.6v1.5h-1.6zM377.4 61.7h1.6v1.5h-1.6zM370.6 63.2h1.6v1.5h-1.6zM372.0 63.7h1.6v1.5h-1.6zM374.8 63.9h1.6v1.5h-1.6zM375.5 64.1h1.6v1.5h-1.6zM370.6 64.8h1.6v1.5h-1.6zM372.0 65.3h1.6v1.5h-1.6zM374.5 64.4h1.6v1.5h-1.6zM378.7 64.2h1.6v1.5h-1.6zM379.9 65.0h1.6v1.5h-1.6zM381.4 65.2h1.6v1.5h-1.6zM382.2 64.5h1.6v1.5h-1.6zM384.8 64.4h1.6v1.5h-1.6zM372.4 65.8h1.6v1.5h-1.6zM375.1 65.7h1.6v1.5h-1.6zM376.7 65.6h1.6v1.5h-1.6zM378.7 66.3h1.6v1.5h-1.6zM379.6 66.5h1.6v1.5h-1.6zM381.5 65.5h1.6v1.5h-1.6zM383.8 65.5h1.6v1.5h-1.6zM386.4 65.7h1.6v1.5h-1.6zM394.2 66.6h1.6v1.5h-1.6zM370.9 67.2h1.6v1.5h-1.6zM372.3 67.3h1.6v1.5h-1.6zM373.6 67.4h1.6v1.5h-1.6zM374.8 67.4h1.6v1.5h-1.6zM376.2 67.2h1.6v1.5h-1.6zM377.4 67.1h1.6v1.5h-1.6zM378.4 67.1h1.6v1.5h-1.6zM379.9 67.3h1.6v1.5h-1.6zM381.2 67.1h1.6v1.5h-1.6zM382.6 67.4h1.6v1.5h-1.6zM384.7 67.0h1.6v1.5h-1.6zM386.3 66.8h1.6v1.5h-1.6zM398.4 67.2h1.6v1.5h-1.6zM370.9 68.5h1.6v1.5h-1.6zM372.2 68.4h1.6v1.5h-1.6zM373.4 68.7h1.6v1.5h-1.6zM374.8 68.6h1.6v1.5h-1.6zM375.9 68.6h1.6v1.5h-1.6zM377.2 68.5h1.6v1.5h-1.6zM378.6 68.6h1.6v1.5h-1.6zM379.8 68.6h1.6v1.5h-1.6zM381.2 68.5h1.6v1.5h-1.6zM382.2 68.4h1.6v1.5h-1.6zM383.5 68.6h1.6v1.5h-1.6zM384.9 68.6h1.6v1.5h-1.6zM390.7 68.8h1.6v1.5h-1.6zM396.3 68.1h1.6v1.5h-1.6zM402.5 68.9h1.6v1.5h-1.6zM371.1 69.8h1.6v1.5h-1.6zM372.2 69.8h1.6v1.5h-1.6zM373.4 69.9h1.6v1.5h-1.6zM374.7 69.8h1.6v1.5h-1.6zM376.0 69.8h1.6v1.5h-1.6zM377.4 69.8h1.6v1.5h-1.6zM378.5 69.6h1.6v1.5h-1.6zM379.6 69.9h1.6v1.5h-1.6zM381.1 69.9h1.6v1.5h-1.6zM382.4 69.6h1.6v1.5h-1.6zM383.6 69.7h1.6v1.5h-1.6zM384.8 69.8h1.6v1.5h-1.6zM385.7 69.8h1.6v1.5h-1.6zM387.3 69.6h1.6v1.5h-1.6zM389.7 69.2h1.6v1.5h-1.6zM390.5 69.1h1.6v1.5h-1.6zM395.5 69.5h1.6v1.5h-1.6zM371.1 71.1h1.6v1.5h-1.6zM372.3 71.0h1.6v1.5h-1.6zM373.6 71.1h1.6v1.5h-1.6zM374.8 71.1h1.6v1.5h-1.6zM375.8 71.0h1.6v1.5h-1.6zM377.4 71.0h1.6v1.5h-1.6zM378.6 71.0h1.6v1.5h-1.6zM379.7 70.8h1.6v1.5h-1.6zM381.1 71.1h1.6v1.5h-1.6zM382.2 70.9h1.6v1.5h-1.6zM383.6 71.1h1.6v1.5h-1.6zM384.9 70.9h1.6v1.5h-1.6zM385.9 71.1h1.6v1.5h-1.6zM387.1 70.8h1.6v1.5h-1.6zM388.8 71.3h1.6v1.5h-1.6zM389.4 71.6h1.6v1.5h-1.6zM391.6 71.6h1.6v1.5h-1.6zM392.6 70.9h1.6v1.5h-1.6zM393.5 71.2h1.6v1.5h-1.6zM395.8 70.9h1.6v1.5h-1.6zM400.1 70.6h1.6v1.5h-1.6zM411.3 70.8h1.6v1.5h-1.6zM371.0 72.3h1.6v1.5h-1.6zM372.1 72.2h1.6v1.5h-1.6zM373.4 72.3h1.6v1.5h-1.6zM374.8 72.2h1.6v1.5h-1.6zM375.9 72.1h1.6v1.5h-1.6zM377.3 72.2h1.6v1.5h-1.6zM378.3 72.4h1.6v1.5h-1.6zM379.7 72.2h1.6v1.5h-1.6zM380.9 72.2h1.6v1.5h-1.6zM382.2 72.4h1.6v1.5h-1.6zM384.7 72.1h1.6v1.5h-1.6zM385.9 72.4h1.6v1.5h-1.6zM388.8 71.9h1.6v1.5h-1.6zM389.6 72.2h1.6v1.5h-1.6zM390.5 72.0h1.6v1.5h-1.6zM392.4 72.8h1.6v1.5h-1.6zM393.8 72.0h1.6v1.5h-1.6zM397.8 72.0h1.6v1.5h-1.6zM398.5 72.4h1.6v1.5h-1.6zM399.5 72.8h1.6v1.5h-1.6zM404.3 72.1h1.6v1.5h-1.6zM406.9 72.4h1.6v1.5h-1.6zM371.0 73.4h1.6v1.5h-1.6zM372.1 73.5h1.6v1.5h-1.6zM373.4 73.4h1.6v1.5h-1.6zM374.6 73.5h1.6v1.5h-1.6zM376.2 73.6h1.6v1.5h-1.6zM377.4 73.6h1.6v1.5h-1.6zM378.4 73.6h1.6v1.5h-1.6zM379.8 73.6h1.6v1.5h-1.6zM381.0 73.4h1.6v1.5h-1.6zM382.2 73.5h1.6v1.5h-1.6zM383.6 73.6h1.6v1.5h-1.6zM384.9 73.6h1.6v1.5h-1.6zM385.9 73.4h1.6v1.5h-1.6zM387.3 73.5h1.6v1.5h-1.6zM388.4 73.7h1.6v1.5h-1.6zM389.8 73.8h1.6v1.5h-1.6zM390.9 73.4h1.6v1.5h-1.6zM392.3 73.0h1.6v1.5h-1.6zM393.3 73.3h1.6v1.5h-1.6zM396.0 73.9h1.6v1.5h-1.6zM397.0 73.0h1.6v1.5h-1.6zM399.5 73.6h1.6v1.5h-1.6zM402.1 73.5h1.6v1.5h-1.6zM371.0 74.8h1.6v1.5h-1.6zM372.2 74.6h1.6v1.5h-1.6zM373.6 74.9h1.6v1.5h-1.6zM374.8 74.7h1.6v1.5h-1.6zM375.8 74.6h1.6v1.5h-1.6zM377.3 74.9h1.6v1.5h-1.6zM378.6 74.8h1.6v1.5h-1.6zM379.7 74.7h1.6v1.5h-1.6zM380.9 74.7h1.6v1.5h-1.6zM382.3 74.7h1.6v1.5h-1.6zM383.4 74.7h1.6v1.5h-1.6zM384.7 74.6h1.6v1.5h-1.6zM385.9 74.7h1.6v1.5h-1.6zM387.3 74.9h1.6v1.5h-1.6zM388.7 74.7h1.6v1.5h-1.6zM389.9 74.5h1.6v1.5h-1.6zM390.9 74.4h1.6v1.5h-1.6zM392.7 74.6h1.6v1.5h-1.6zM396.8 75.2h1.6v1.5h-1.6zM398.8 74.7h1.6v1.5h-1.6zM401.8 74.3h1.6v1.5h-1.6zM405.5 74.7h1.6v1.5h-1.6zM420.4 74.2h1.6v1.5h-1.6zM371.0 76.0h1.6v1.5h-1.6zM372.3 75.9h1.6v1.5h-1.6zM373.4 76.0h1.6v1.5h-1.6zM374.7 75.9h1.6v1.5h-1.6zM375.8 76.1h1.6v1.5h-1.6zM377.2 75.9h1.6v1.5h-1.6zM378.6 76.1h1.6v1.5h-1.6zM379.6 76.2h1.6v1.5h-1.6zM381.2 75.9h1.6v1.5h-1.6zM382.2 76.1h1.6v1.5h-1.6zM383.5 75.9h1.6v1.5h-1.6zM384.6 76.0h1.6v1.5h-1.6zM386.0 76.0h1.6v1.5h-1.6zM387.1 76.1h1.6v1.5h-1.6zM388.3 76.0h1.6v1.5h-1.6zM389.7 75.8h1.6v1.5h-1.6zM391.4 76.0h1.6v1.5h-1.6zM392.4 75.5h1.6v1.5h-1.6zM393.7 75.5h1.6v1.5h-1.6zM395.9 76.2h1.6v1.5h-1.6zM399.1 76.6h1.6v1.5h-1.6zM400.3 75.4h1.6v1.5h-1.6zM400.8 76.0h1.6v1.5h-1.6zM404.9 76.1h1.6v1.5h-1.6zM371.1 77.4h1.6v1.5h-1.6zM372.4 77.3h1.6v1.5h-1.6zM373.5 77.1h1.6v1.5h-1.6zM374.6 77.2h1.6v1.5h-1.6zM376.0 77.1h1.6v1.5h-1.6zM377.2 77.2h1.6v1.5h-1.6zM378.5 77.3h1.6v1.5h-1.6zM379.6 77.4h1.6v1.5h-1.6zM381.0 77.2h1.6v1.5h-1.6zM382.3 77.3h1.6v1.5h-1.6zM383.5 77.4h1.6v1.5h-1.6zM384.7 77.4h1.6v1.5h-1.6zM386.1 77.2h1.6v1.5h-1.6zM387.3 77.3h1.6v1.5h-1.6zM388.6 77.4h1.6v1.5h-1.6zM390.0 77.4h1.6v1.5h-1.6zM390.6 77.2h1.6v1.5h-1.6zM392.7 77.0h1.6v1.5h-1.6zM393.4 76.9h1.6v1.5h-1.6zM394.2 76.7h1.6v1.5h-1.6zM401.2 77.8h1.6v1.5h-1.6zM401.9 77.2h1.6v1.5h-1.6zM370.9 78.4h1.6v1.5h-1.6zM372.3 78.4h1.6v1.5h-1.6zM373.4 78.4h1.6v1.5h-1.6zM374.6 78.6h1.6v1.5h-1.6zM376.1 78.4h1.6v1.5h-1.6zM377.3 78.6h1.6v1.5h-1.6zM378.5 78.4h1.6v1.5h-1.6zM379.9 78.5h1.6v1.5h-1.6zM381.1 78.4h1.6v1.5h-1.6zM382.3 78.5h1.6v1.5h-1.6zM383.6 78.4h1.6v1.5h-1.6zM384.6 78.4h1.6v1.5h-1.6zM386.0 78.5h1.6v1.5h-1.6zM387.2 78.6h1.6v1.5h-1.6zM388.7 78.6h1.6v1.5h-1.6zM389.9 78.6h1.6v1.5h-1.6zM390.7 78.2h1.6v1.5h-1.6zM391.7 78.9h1.6v1.5h-1.6zM393.8 78.4h1.6v1.5h-1.6zM395.8 78.6h1.6v1.5h-1.6zM396.7 78.7h1.6v1.5h-1.6zM399.5 78.6h1.6v1.5h-1.6zM371.1 79.9h1.6v1.5h-1.6zM372.4 79.6h1.6v1.5h-1.6zM373.6 79.7h1.6v1.5h-1.6zM374.6 79.8h1.6v1.5h-1.6zM376.1 79.9h1.6v1.5h-1.6zM377.2 79.7h1.6v1.5h-1.6zM378.4 79.7h1.6v1.5h-1.6zM379.9 79.8h1.6v1.5h-1.6zM381.0 79.7h1.6v1.5h-1.6zM382.3 79.9h1.6v1.5h-1.6zM383.6 79.8h1.6v1.5h-1.6zM384.8 79.7h1.6v1.5h-1.6zM385.9 79.9h1.6v1.5h-1.6zM387.4 79.6h1.6v1.5h-1.6zM388.5 79.7h1.6v1.5h-1.6zM389.7 79.4h1.6v1.5h-1.6zM391.4 80.1h1.6v1.5h-1.6zM391.7 80.3h1.6v1.5h-1.6zM394.9 79.7h1.6v1.5h-1.6zM405.3 79.2h1.6v1.5h-1.6zM371.1 80.9h1.6v1.5h-1.6zM372.2 81.1h1.6v1.5h-1.6zM373.6 81.0h1.6v1.5h-1.6zM374.8 80.9h1.6v1.5h-1.6zM376.1 81.1h1.6v1.5h-1.6zM377.2 81.0h1.6v1.5h-1.6zM378.4 81.0h1.6v1.5h-1.6zM379.8 81.1h1.6v1.5h-1.6zM381.1 80.9h1.6v1.5h-1.6zM382.1 80.8h1.6v1.5h-1.6zM383.5 80.9h1.6v1.5h-1.6zM384.7 80.9h1.6v1.5h-1.6zM385.9 80.8h1.6v1.5h-1.6zM387.3 81.0h1.6v1.5h-1.6zM388.5 81.2h1.6v1.5h-1.6zM389.5 80.7h1.6v1.5h-1.6zM392.1 81.4h1.6v1.5h-1.6zM393.1 81.0h1.6v1.5h-1.6zM406.4 80.9h1.6v1.5h-1.6zM407.1 80.7h1.6v1.5h-1.6zM409.1 80.9h1.6v1.5h-1.6zM371.1 82.3h1.6v1.5h-1.6zM372.4 82.1h1.6v1.5h-1.6zM373.6 82.1h1.6v1.5h-1.6zM374.8 82.2h1.6v1.5h-1.6zM376.0 82.3h1.6v1.5h-1.6zM377.4 82.1h1.6v1.5h-1.6zM378.6 82.3h1.6v1.5h-1.6zM379.6 82.1h1.6v1.5h-1.6zM381.0 82.4h1.6v1.5h-1.6zM382.2 82.4h1.6v1.5h-1.6zM384.8 82.4h1.6v1.5h-1.6zM386.0 82.4h1.6v1.5h-1.6zM387.1 82.2h1.6v1.5h-1.6zM388.8 81.9h1.6v1.5h-1.6zM389.5 82.6h1.6v1.5h-1.6zM391.4 82.6h1.6v1.5h-1.6zM391.8 81.9h1.6v1.5h-1.6zM394.9 82.7h1.6v1.5h-1.6zM408.6 82.4h1.6v1.5h-1.6zM371.0 83.7h1.6v1.5h-1.6zM372.3 83.5h1.6v1.5h-1.6zM373.6 83.6h1.6v1.5h-1.6zM374.8 83.5h1.6v1.5h-1.6zM376.0 83.7h1.6v1.5h-1.6zM377.4 83.4h1.6v1.5h-1.6zM378.4 83.4h1.6v1.5h-1.6zM379.6 83.5h1.6v1.5h-1.6zM380.9 83.4h1.6v1.5h-1.6zM382.2 83.5h1.6v1.5h-1.6zM383.3 83.4h1.6v1.5h-1.6zM384.6 83.6h1.6v1.5h-1.6zM386.0 83.6h1.6v1.5h-1.6zM387.0 83.7h1.6v1.5h-1.6zM388.6 83.7h1.6v1.5h-1.6zM389.4 83.3h1.6v1.5h-1.6zM391.2 83.8h1.6v1.5h-1.6zM393.8 83.7h1.6v1.5h-1.6zM396.8 83.2h1.6v1.5h-1.6zM398.8 83.9h1.6v1.5h-1.6zM403.4 83.0h1.6v1.5h-1.6zM406.6 83.9h1.6v1.5h-1.6zM370.7 84.4h1.6v1.5h-1.6zM372.2 84.5h1.6v1.5h-1.6zM373.6 84.8h1.6v1.5h-1.6zM375.1 84.9h1.6v1.5h-1.6zM375.9 84.8h1.6v1.5h-1.6zM378.7 84.9h1.6v1.5h-1.6zM379.6 84.9h1.6v1.5h-1.6zM380.9 84.8h1.6v1.5h-1.6zM383.5 84.6h1.6v1.5h-1.6zM384.6 85.0h1.6v1.5h-1.6zM385.8 84.5h1.6v1.5h-1.6zM387.0 85.0h1.6v1.5h-1.6zM388.1 84.8h1.6v1.5h-1.6zM389.3 85.1h1.6v1.5h-1.6zM390.9 84.2h1.6v1.5h-1.6zM392.6 84.9h1.6v1.5h-1.6zM394.5 85.3h1.6v1.5h-1.6zM371.4 86.0h1.6v1.5h-1.6zM371.9 86.0h1.6v1.5h-1.6zM373.9 85.6h1.6v1.5h-1.6zM374.6 85.5h1.6v1.5h-1.6zM375.6 85.8h1.6v1.5h-1.6zM377.1 85.6h1.6v1.5h-1.6zM378.2 86.0h1.6v1.5h-1.6zM380.1 85.7h1.6v1.5h-1.6zM380.5 86.2h1.6v1.5h-1.6zM382.3 85.7h1.6v1.5h-1.6zM383.5 86.2h1.6v1.5h-1.6zM384.8 85.6h1.6v1.5h-1.6zM387.6 86.5h1.6v1.5h-1.6zM390.0 86.4h1.6v1.5h-1.6zM392.9 86.4h1.6v1.5h-1.6zM371.5 87.4h1.6v1.5h-1.6zM372.1 87.3h1.6v1.5h-1.6zM373.0 86.8h1.6v1.5h-1.6zM374.9 87.3h1.6v1.5h-1.6zM377.0 87.1h1.6v1.5h-1.6zM378.5 87.2h1.6v1.5h-1.6zM379.6 87.4h1.6v1.5h-1.6zM382.7 86.8h1.6v1.5h-1.6zM383.0 87.3h1.6v1.5h-1.6zM384.3 87.2h1.6v1.5h-1.6zM387.7 86.7h1.6v1.5h-1.6zM387.9 87.8h1.6v1.5h-1.6zM391.1 87.5h1.6v1.5h-1.6zM392.5 87.2h1.6v1.5h-1.6zM397.3 87.0h1.6v1.5h-1.6zM399.9 86.8h1.6v1.5h-1.6zM371.6 88.3h1.6v1.5h-1.6zM372.1 89.0h1.6v1.5h-1.6zM374.7 88.3h1.6v1.5h-1.6zM377.6 87.9h1.6v1.5h-1.6zM378.7 88.2h1.6v1.5h-1.6zM379.4 88.4h1.6v1.5h-1.6zM381.3 88.5h1.6v1.5h-1.6zM382.8 88.8h1.6v1.5h-1.6zM383.9 88.9h1.6v1.5h-1.6zM385.0 88.6h1.6v1.5h-1.6zM385.8 88.5h1.6v1.5h-1.6zM387.4 88.0h1.6v1.5h-1.6zM389.4 88.7h1.6v1.5h-1.6zM372.6 90.0h1.6v1.5h-1.6zM373.1 90.3h1.6v1.5h-1.6zM375.2 89.8h1.6v1.5h-1.6zM376.4 89.7h1.6v1.5h-1.6zM376.8 89.2h1.6v1.5h-1.6zM380.3 89.4h1.6v1.5h-1.6zM381.0 89.6h1.6v1.5h-1.6zM385.9 90.4h1.6v1.5h-1.6zM387.7 90.3h1.6v1.5h-1.6zM371.2 91.3h1.6v1.5h-1.6zM374.2 91.1h1.6v1.5h-1.6zM376.6 90.6h1.6v1.5h-1.6zM380.3 91.4h1.6v1.5h-1.6zM380.6 90.4h1.6v1.5h-1.6zM383.1 91.6h1.6v1.5h-1.6zM384.6 91.6h1.6v1.5h-1.6zM385.7 90.6h1.6v1.5h-1.6zM387.0 90.9h1.6v1.5h-1.6zM396.0 91.6h1.6v1.5h-1.6zM380.2 92.1h1.6v1.5h-1.6zM384.6 92.4h1.6v1.5h-1.6zM392.3 92.2h1.6v1.5h-1.6zM370.7 93.3h1.6v1.5h-1.6zM373.0 93.7h1.6v1.5h-1.6zM375.1 94.1h1.6v1.5h-1.6zM377.0 94.0h1.6v1.5h-1.6zM380.7 93.1h1.6v1.5h-1.6zM381.9 93.6h1.6v1.5h-1.6zM398.8 93.1h1.6v1.5h-1.6zM371.1 94.8h1.6v1.5h-1.6zM375.4 95.3h1.6v1.5h-1.6zM376.9 94.6h1.6v1.5h-1.6zM378.1 94.9h1.6v1.5h-1.6zM385.9 94.2h1.6v1.5h-1.6zM386.8 95.3h1.6v1.5h-1.6zM371.6 96.3h1.6v1.5h-1.6zM376.2 96.3h1.6v1.5h-1.6zM377.6 95.7h1.6v1.5h-1.6zM379.9 95.4h1.6v1.5h-1.6zM383.4 96.5h1.6v1.5h-1.6z"/>
<path fill="#35b779" d="M378.1 78.9h1.6v1.5h-1.6zM386.1 79.3h1.6v1.5h-1.6zM373.9 80.4h1.6v1.5h-1.6zM376.8 80.9h1.6v1.5h-1.6zM377.0 82.1h1.6v1.5h-1.6zM380.0 81.8h1.6v1.5h-1.6zM381.0 81.4h1.6v1.5h-1.6zM382.2 82.5h1.6v1.5h-1.6zM371.4 84.3h1.6v1.5h-1.6zM373.7 84.3h1.6v1.5h-1.6zM379.6 84.6h1.6v1.5h-1.6zM380.7 83.7h1.6v1.5h-1.6zM373.2 85.0h1.6v1.5h-1.6zM376.1 85.2h1.6v1.5h-1.6zM384.5 86.1h1.6v1.5h-1.6zM388.2 85.2h1.6v1.5h-1.6zM392.0 85.4h1.6v1.5h-1.6zM375.3 86.3h1.6v1.5h-1.6zM375.5 86.8h1.6v1.5h-1.6zM393.4 86.6h1.6v1.5h-1.6zM373.2 88.1h1.6v1.5h-1.6zM384.4 88.6h1.6v1.5h-1.6zM385.6 87.7h1.6v1.5h-1.6zM378.2 88.9h1.6v1.5h-1.6zM377.6 90.2h1.6v1.5h-1.6zM380.6 90.3h1.6v1.5h-1.6zM383.5 90.3h1.6v1.5h-1.6zM387.8 91.9h1.6v1.5h-1.6z"/>
<path fill="#fde725" d="M383.4 85.1h1.6v1.5h-1.6zM373.5 87.2h1.6v1.5h-1.6zM375.3 87.5h1.6v1.5h-1.6zM379.7 88.4h1.6v1.5h-1.6zM383.7 87.9h1.6v1.5h-1.6zM385.0 87.4h1.6v1.5h-1.6zM388.1 87.8h1.6v1.5h-1.6zM370.9 89.1h1.6v1.5h-1.6zM372.8 89.0h1.6v1.5h-1.6zM376.5 89.2h1.6v1.5h-1.6zM378.4 89.8h1.6v1.5h-1.6zM380.1 89.0h1.6v1.5h-1.6zM382.8 89.4h1.6v1.5h-1.6zM383.6 89.3h1.6v1.5h-1.6zM371.9 90.3h1.6v1.5h-1.6zM373.1 90.3h1.6v1.5h-1.6zM374.3 90.2h1.6v1.5h-1.6zM376.6 90.2h1.6v1.5h-1.6zM377.3 90.6h1.6v1.5h-1.6zM381.4 90.2h1.6v1.5h-1.6zM383.3 90.1h1.6v1.5h-1.6zM387.5 90.1h1.6v1.5h-1.6zM390.4 90.8h1.6v1.5h-1.6zM372.0 91.5h1.6v1.5h-1.6zM373.5 91.9h1.6v1.5h-1.6zM374.4 91.7h1.6v1.5h-1.6zM376.9 91.7h1.6v1.5h-1.6zM378.4 92.3h1.6v1.5h-1.6zM381.9 91.7h1.6v1.5h-1.6zM383.2 92.0h1.6v1.5h-1.6zM384.3 92.2h1.6v1.5h-1.6zM387.5 91.1h1.6v1.5h-1.6zM388.3 92.3h1.6v1.5h-1.6zM389.5 92.2h1.6v1.5h-1.6zM391.5 92.2h1.6v1.5h-1.6zM392.3 91.2h1.6v1.5h-1.6zM375.3 92.7h1.6v1.5h-1.6zM379.5 92.5h1.6v1.5h-1.6zM381.0 93.3h1.6v1.5h-1.6zM382.7 93.0h1.6v1.5h-1.6zM385.1 93.2h1.6v1.5h-1.6zM389.1 92.8h1.6v1.5h-1.6zM397.9 92.6h1.6v1.5h-1.6zM371.9 94.0h1.6v1.5h-1.6zM373.0 93.9h1.6v1.5h-1.6zM377.4 93.7h1.6v1.5h-1.6zM378.3 94.8h1.6v1.5h-1.6zM380.0 94.5h1.6v1.5h-1.6zM381.4 94.1h1.6v1.5h-1.6zM382.7 94.9h1.6v1.5h-1.6zM383.5 93.6h1.6v1.5h-1.6zM385.9 94.7h1.6v1.5h-1.6zM386.9 93.9h1.6v1.5h-1.6zM388.6 93.9h1.6v1.5h-1.6zM391.4 93.7h1.6v1.5h-1.6zM397.6 94.0h1.6v1.5h-1.6zM371.3 95.0h1.6v1.5h-1.6zM372.1 95.2h1.6v1.5h-1.6zM373.8 95.9h1.6v1.5h-1.6zM377.6 95.9h1.6v1.5h-1.6zM378.7 95.5h1.6v1.5h-1.6zM379.4 95.4h1.6v1.5h-1.6zM380.6 95.1h1.6v1.5h-1.6zM384.1 96.1h1.6v1.5h-1.6zM385.0 95.0h1.6v1.5h-1.6zM386.6 95.1h1.6v1.5h-1.6zM387.4 95.3h1.6v1.5h-1.6zM389.5 96.0h1.6v1.5h-1.6zM392.8 95.3h1.6v1.5h-1.6zM400.6 95.6h1.6v1.5h-1.6z"/>
<path fill="#31688e" d="M375.0 86.7h1.6v1.5h-1.6zM377.7 87.0h1.6v1.5h-1.6zM382.3 86.4h1.6v1.5h-1.6zM372.9 87.6h1.6v1.5h-1.6zM380.4 87.5h1.6v1.5h-1.6zM382.5 88.1h1.6v1.5h-1.6zM381.4 89.6h1.6v1.5h-1.6zM380.5 91.4h1.6v1.5h-1.6zM381.7 91.1h1.6v1.5h-1.6zM373.9 92.4h1.6v1.5h-1.6zM375.2 92.2h1.6v1.5h-1.6zM380.2 93.6h1.6v1.5h-1.6zM381.9 93.6h1.6v1.5h-1.6zM384.1 94.5h1.6v1.5h-1.6z"/>
<path fill="#440154" d="M371.0 94.8h4.1v1.35h-4.1zM371.0 96.0h4.1v1.35h-4.1zM374.5 94.7h1.6v1.5h-1.6zM374.5 95.9h1.6v1.5h-1.6zM375.5 95.9h1.6v1.5h-1.6z"/>
<path fill="#31688e" d="M378.8 46.5h1.8v1.7h-1.8zM379.2 45.6h1.8v1.7h-1.8zM400.4 51.2h1.8v1.7h-1.8zM424.7 50.0h1.8v1.7h-1.8zM375.7 61.2h1.8v1.7h-1.8zM391.6 58.2h1.8v1.7h-1.8zM397.4 61.2h1.8v1.7h-1.8zM397.4 62.9h1.8v1.7h-1.8zM415.4 60.5h1.8v1.7h-1.8zM415.3 60.6h1.8v1.7h-1.8zM416.5 65.4h1.8v1.7h-1.8zM416.5 67.6h1.8v1.7h-1.8zM419.1 70.6h1.8v1.7h-1.8zM424.7 69.7h1.8v1.7h-1.8zM426.3 72.2h1.8v1.7h-1.8zM429.4 76.2h1.8v1.7h-1.8zM431.6 74.5h1.8v1.7h-1.8zM435.1 74.5h1.8v1.7h-1.8zM435.4 76.2h1.8v1.7h-1.8zM442.3 73.5h1.8v1.7h-1.8zM430.2 79.2h1.8v1.7h-1.8zM429.9 81.4h1.8v1.7h-1.8zM440.6 80.0h1.8v1.7h-1.8zM450.1 79.2h1.8v1.7h-1.8zM458.6 81.7h1.8v1.7h-1.8zM434.2 86.4h1.8v1.7h-1.8zM464.7 88.2h1.8v1.7h-1.8zM483.8 75.1h1.8v1.7h-1.8zM503.5 73.1h1.8v1.7h-1.8zM459.6 81.7h1.8v1.7h-1.8zM456.7 11.2h1.8v1.7h-1.8zM409.1 69.2h1.8v1.7h-1.8zM404.1 74.2h1.8v1.7h-1.8zM411.1 77.2h1.8v1.7h-1.8zM407.1 81.2h1.8v1.7h-1.8zM402.1 65.2h1.8v1.7h-1.8zM399.1 71.2h1.8v1.7h-1.8z"/>
<path fill="#35b779" d="M416.5 88.1h1.8v1.7h-1.8zM399.3 80.0h1.8v1.7h-1.8zM403.6 85.2h1.8v1.7h-1.8zM397.1 83.2h1.8v1.7h-1.8z"/>
<path fill="#fde725" d="M408.7 88.6h1.8v1.7h-1.8zM413.4 88.6h1.8v1.7h-1.8zM413.9 91.2h1.8v1.7h-1.8zM419.1 89.8h1.8v1.7h-1.8zM428.0 90.9h1.8v1.7h-1.8zM399.3 94.6h1.8v1.7h-1.8zM401.0 93.4h1.8v1.7h-1.8zM395.5 93.4h1.8v1.7h-1.8z"/>
<path fill="#440154" d="M443.2 93.2h1.8v1.7h-1.8z"/></g><rect x="365.6" y="7.5" width="146.40" height="95.10" fill="none" stroke="#a8a8a8" stroke-width="1.1"/>
<line x1="373.30" y1="102.6" x2="373.30" y2="104.20" stroke="#a8a8a8" stroke-width="0.7"/>
<line x1="365.6" y1="97.60" x2="364.00" y2="97.60" stroke="#a8a8a8" stroke-width="0.7"/>
<text x="373.30" y="109.60" class="tk" text-anchor="middle">0.0</text>
<text x="362.80" y="99.50" class="tk" text-anchor="end">0.0</text>
<line x1="399.60" y1="102.6" x2="399.60" y2="104.20" stroke="#a8a8a8" stroke-width="0.7"/>
<line x1="365.6" y1="80.66" x2="364.00" y2="80.66" stroke="#a8a8a8" stroke-width="0.7"/>
<text x="399.60" y="109.60" class="tk" text-anchor="middle">0.2</text>
<text x="362.80" y="82.56" class="tk" text-anchor="end">0.2</text>
<line x1="425.90" y1="102.6" x2="425.90" y2="104.20" stroke="#a8a8a8" stroke-width="0.7"/>
<line x1="365.6" y1="63.72" x2="364.00" y2="63.72" stroke="#a8a8a8" stroke-width="0.7"/>
<text x="425.90" y="109.60" class="tk" text-anchor="middle">0.4</text>
<text x="362.80" y="65.62" class="tk" text-anchor="end">0.4</text>
<line x1="452.20" y1="102.6" x2="452.20" y2="104.20" stroke="#a8a8a8" stroke-width="0.7"/>
<line x1="365.6" y1="46.78" x2="364.00" y2="46.78" stroke="#a8a8a8" stroke-width="0.7"/>
<text x="452.20" y="109.60" class="tk" text-anchor="middle">0.6</text>
<text x="362.80" y="48.68" class="tk" text-anchor="end">0.6</text>
<line x1="478.50" y1="102.6" x2="478.50" y2="104.20" stroke="#a8a8a8" stroke-width="0.7"/>
<line x1="365.6" y1="29.84" x2="364.00" y2="29.84" stroke="#a8a8a8" stroke-width="0.7"/>
<text x="478.50" y="109.60" class="tk" text-anchor="middle">0.8</text>
<text x="362.80" y="31.74" class="tk" text-anchor="end">0.8</text>
<line x1="504.80" y1="102.6" x2="504.80" y2="104.20" stroke="#a8a8a8" stroke-width="0.7"/>
<line x1="365.6" y1="12.90" x2="364.00" y2="12.90" stroke="#a8a8a8" stroke-width="0.7"/>
<text x="504.80" y="109.60" class="tk" text-anchor="middle">1.0</text>
<text x="362.80" y="14.80" class="tk" text-anchor="end">1.0</text>
<text x="438.80" y="115.50" class="al" text-anchor="middle">Component  1</text>
<text transform="translate(352.40,55.05) rotate(-90)" class="al" text-anchor="middle">Component  2</text>
<text x="439.40" y="4.90" class="tt" text-anchor="middle">cluster __ Scatterplot of Canonical Variables</text>
<text x="367.4" y="129.0" class="lbb">(<tspan class="lt">c</tspan>)</text><g clip-path="url(#cd)"><path fill="#440154" d="M548.5 83.3h1.6v1.5h-1.6zM544.9 89.0h1.6v1.5h-1.6zM546.7 89.0h1.6v1.5h-1.6zM543.7 90.3h1.6v1.5h-1.6zM544.4 92.5h1.6v1.5h-1.6zM547.1 92.2h1.6v1.5h-1.6zM547.8 93.1h1.6v1.5h-1.6zM543.4 94.1h1.6v1.5h-1.6zM545.0 95.0h1.6v1.5h-1.6zM546.4 94.6h1.6v1.5h-1.6zM544.7 95.6h1.6v1.5h-1.6zM545.9 95.6h1.6v1.5h-1.6zM548.3 96.0h1.6v1.5h-1.6z"/>
<path fill="#fde725" d="M543.5 83.4h1.6v1.5h-1.6zM558.3 84.4h1.6v1.5h-1.6zM552.6 85.4h1.6v1.5h-1.6zM548.6 87.1h1.6v1.5h-1.6zM552.1 87.0h1.6v1.5h-1.6zM571.0 87.2h1.6v1.5h-1.6zM546.3 88.6h1.6v1.5h-1.6zM559.0 87.8h1.6v1.5h-1.6zM570.1 88.8h1.6v1.5h-1.6zM580.3 87.8h1.6v1.5h-1.6zM544.6 89.3h1.6v1.5h-1.6zM552.5 89.1h1.6v1.5h-1.6zM554.9 89.1h1.6v1.5h-1.6zM569.2 89.1h1.6v1.5h-1.6zM572.3 89.0h1.6v1.5h-1.6zM543.6 90.6h1.6v1.5h-1.6zM550.7 90.8h1.6v1.5h-1.6zM562.5 91.0h1.6v1.5h-1.6zM575.1 90.9h1.6v1.5h-1.6zM544.3 92.6h1.6v1.5h-1.6zM545.9 91.7h1.6v1.5h-1.6zM547.2 92.0h1.6v1.5h-1.6zM560.7 92.2h1.6v1.5h-1.6zM543.3 92.7h1.6v1.5h-1.6zM547.5 93.2h1.6v1.5h-1.6zM550.0 93.2h1.6v1.5h-1.6zM550.9 93.7h1.6v1.5h-1.6zM555.0 93.5h1.6v1.5h-1.6zM563.6 92.7h1.6v1.5h-1.6zM571.7 92.8h1.6v1.5h-1.6zM574.0 93.0h1.6v1.5h-1.6zM543.2 94.5h1.6v1.5h-1.6zM551.2 94.3h1.6v1.5h-1.6zM556.5 94.2h1.6v1.5h-1.6zM578.2 95.0h1.6v1.5h-1.6zM543.7 96.1h1.6v1.5h-1.6zM548.3 95.1h1.6v1.5h-1.6zM549.9 95.3h1.6v1.5h-1.6zM551.5 96.2h1.6v1.5h-1.6zM554.5 96.1h1.6v1.5h-1.6zM556.4 95.4h1.6v1.5h-1.6zM557.9 95.7h1.6v1.5h-1.6z"/>
<path fill="#35b779" d="M552.2 84.3h1.6v1.5h-1.6zM573.5 85.4h1.6v1.5h-1.6zM551.7 87.4h1.6v1.5h-1.6zM543.7 88.7h1.6v1.5h-1.6zM550.6 88.6h1.6v1.5h-1.6zM555.5 88.5h1.6v1.5h-1.6zM544.9 89.9h1.6v1.5h-1.6zM548.0 89.1h1.6v1.5h-1.6zM553.4 89.1h1.6v1.5h-1.6zM543.5 90.3h1.6v1.5h-1.6zM552.7 91.2h1.6v1.5h-1.6zM562.9 91.3h1.6v1.5h-1.6zM543.4 92.5h1.6v1.5h-1.6zM551.5 92.1h1.6v1.5h-1.6zM552.6 92.3h1.6v1.5h-1.6zM565.7 92.2h1.6v1.5h-1.6zM568.5 91.5h1.6v1.5h-1.6zM573.5 91.8h1.6v1.5h-1.6zM543.5 92.6h1.6v1.5h-1.6zM549.7 92.9h1.6v1.5h-1.6zM554.0 93.4h1.6v1.5h-1.6zM555.3 93.4h1.6v1.5h-1.6zM559.8 92.9h1.6v1.5h-1.6zM562.7 92.7h1.6v1.5h-1.6zM564.0 92.8h1.6v1.5h-1.6zM568.3 93.8h1.6v1.5h-1.6zM544.3 94.1h1.6v1.5h-1.6zM550.2 94.1h1.6v1.5h-1.6zM553.0 94.3h1.6v1.5h-1.6zM554.0 94.2h1.6v1.5h-1.6zM562.4 94.5h1.6v1.5h-1.6zM543.8 95.9h1.6v1.5h-1.6zM550.2 96.3h1.6v1.5h-1.6zM550.8 95.3h1.6v1.5h-1.6zM554.2 95.9h1.6v1.5h-1.6zM554.7 96.3h1.6v1.5h-1.6zM558.0 95.4h1.6v1.5h-1.6zM561.8 96.3h1.6v1.5h-1.6zM567.3 95.4h1.6v1.5h-1.6zM568.1 96.2h1.6v1.5h-1.6z"/>
<path fill="#31688e" d="M553.6 84.4h1.6v1.5h-1.6zM557.8 84.3h1.6v1.5h-1.6zM548.7 87.0h1.6v1.5h-1.6zM543.1 88.8h1.6v1.5h-1.6zM544.7 87.7h1.6v1.5h-1.6zM548.4 88.6h1.6v1.5h-1.6zM566.1 88.0h1.6v1.5h-1.6zM543.9 89.4h1.6v1.5h-1.6zM546.3 89.3h1.6v1.5h-1.6zM550.4 89.7h1.6v1.5h-1.6zM564.0 89.1h1.6v1.5h-1.6zM546.7 90.4h1.6v1.5h-1.6zM549.5 90.7h1.6v1.5h-1.6zM570.9 91.4h1.6v1.5h-1.6zM555.3 91.9h1.6v1.5h-1.6zM543.8 93.4h1.6v1.5h-1.6zM550.7 92.8h1.6v1.5h-1.6zM553.3 93.4h1.6v1.5h-1.6zM557.8 92.6h1.6v1.5h-1.6zM560.1 93.5h1.6v1.5h-1.6zM561.4 93.7h1.6v1.5h-1.6zM545.6 94.7h1.6v1.5h-1.6zM550.8 94.3h1.6v1.5h-1.6zM555.5 94.2h1.6v1.5h-1.6zM561.7 94.0h1.6v1.5h-1.6zM571.7 94.9h1.6v1.5h-1.6zM544.9 95.8h1.6v1.5h-1.6zM552.7 95.5h1.6v1.5h-1.6zM553.5 96.1h1.6v1.5h-1.6zM555.7 96.1h1.6v1.5h-1.6z"/>
<path fill="#440154" d="M544.6 94.2h1.8v1.7h-1.8zM545.1 95.4h1.8v1.7h-1.8zM547.6 87.7h1.8v1.7h-1.8zM548.6 88.4h1.8v1.7h-1.8z"/>
<path fill="#35b779" d="M553.6 96.0h1.6v1.5h-1.6zM554.5 95.9h1.6v1.5h-1.6zM554.9 96.0h1.6v1.5h-1.6zM555.9 96.5h1.6v1.5h-1.6zM558.6 95.8h1.6v1.5h-1.6zM563.6 95.9h1.6v1.5h-1.6zM565.5 95.7h1.6v1.5h-1.6zM565.7 96.3h1.6v1.5h-1.6zM567.6 96.3h1.6v1.5h-1.6zM568.9 95.7h1.6v1.5h-1.6zM570.4 95.7h1.6v1.5h-1.6zM574.2 96.4h1.6v1.5h-1.6zM574.7 96.1h1.6v1.5h-1.6zM578.0 95.8h1.6v1.5h-1.6zM582.6 96.4h1.6v1.5h-1.6z"/>
<path fill="#35b779" d="M577.8 70.7h1.8v1.7h-1.8zM585.9 72.4h1.8v1.7h-1.8zM562.2 76.8h1.8v1.7h-1.8zM590.7 80.0h1.8v1.7h-1.8zM549.6 84.0h1.8v1.7h-1.8zM585.9 84.8h1.8v1.7h-1.8zM581.8 86.0h1.8v1.7h-1.8zM567.3 87.2h1.8v1.7h-1.8zM591.5 93.4h1.8v1.7h-1.8zM618.9 45.1h1.8v1.7h-1.8zM676.5 46.0h1.8v1.7h-1.8zM590.5 80.1h1.8v1.7h-1.8zM581.9 85.9h1.8v1.7h-1.8zM623.8 95.5h1.8v1.7h-1.8zM619.1 45.1h1.8v1.7h-1.8zM578.3 52.6h1.8v1.7h-1.8zM574.1 94.7h1.8v1.7h-1.8zM569.1 95.0h1.8v1.7h-1.8zM564.1 95.2h1.8v1.7h-1.8z"/>
<path fill="#fde725" d="M562.2 65.2h1.8v1.7h-1.8zM570.6 67.9h1.8v1.7h-1.8zM576.7 84.8h1.8v1.7h-1.8zM564.1 85.7h1.8v1.7h-1.8zM577.8 90.5h1.8v1.7h-1.8zM635.8 10.7h1.8v1.7h-1.8z"/>
<path fill="#31688e" d="M554.1 79.5h1.8v1.7h-1.8zM568.9 79.2h1.8v1.7h-1.8zM558.9 82.1h1.8v1.7h-1.8zM568.1 84.4h1.8v1.7h-1.8zM576.2 95.2h1.8v1.7h-1.8z"/></g><rect x="538.3" y="6.6" width="146.40" height="94.80" fill="none" stroke="#a8a8a8" stroke-width="1.1"/>
<line x1="545.40" y1="101.4" x2="545.40" y2="103.00" stroke="#a8a8a8" stroke-width="0.7"/>
<line x1="538.3" y1="96.20" x2="536.70" y2="96.20" stroke="#a8a8a8" stroke-width="0.7"/>
<text x="545.40" y="108.40" class="tk" text-anchor="middle">0.0</text>
<text x="535.50" y="98.10" class="tk" text-anchor="end">0.0</text>
<line x1="571.78" y1="101.4" x2="571.78" y2="103.00" stroke="#a8a8a8" stroke-width="0.7"/>
<line x1="538.3" y1="79.40" x2="536.70" y2="79.40" stroke="#a8a8a8" stroke-width="0.7"/>
<text x="571.78" y="108.40" class="tk" text-anchor="middle">0.2</text>
<text x="535.50" y="81.30" class="tk" text-anchor="end">0.2</text>
<line x1="598.16" y1="101.4" x2="598.16" y2="103.00" stroke="#a8a8a8" stroke-width="0.7"/>
<line x1="538.3" y1="62.60" x2="536.70" y2="62.60" stroke="#a8a8a8" stroke-width="0.7"/>
<text x="598.16" y="108.40" class="tk" text-anchor="middle">0.4</text>
<text x="535.50" y="64.50" class="tk" text-anchor="end">0.4</text>
<line x1="624.54" y1="101.4" x2="624.54" y2="103.00" stroke="#a8a8a8" stroke-width="0.7"/>
<line x1="538.3" y1="45.80" x2="536.70" y2="45.80" stroke="#a8a8a8" stroke-width="0.7"/>
<text x="624.54" y="108.40" class="tk" text-anchor="middle">0.6</text>
<text x="535.50" y="47.70" class="tk" text-anchor="end">0.6</text>
<line x1="650.92" y1="101.4" x2="650.92" y2="103.00" stroke="#a8a8a8" stroke-width="0.7"/>
<line x1="538.3" y1="29.00" x2="536.70" y2="29.00" stroke="#a8a8a8" stroke-width="0.7"/>
<text x="650.92" y="108.40" class="tk" text-anchor="middle">0.8</text>
<text x="535.50" y="30.90" class="tk" text-anchor="end">0.8</text>
<line x1="677.30" y1="101.4" x2="677.30" y2="103.00" stroke="#a8a8a8" stroke-width="0.7"/>
<line x1="538.3" y1="12.20" x2="536.70" y2="12.20" stroke="#a8a8a8" stroke-width="0.7"/>
<text x="677.30" y="108.40" class="tk" text-anchor="middle">1.0</text>
<text x="535.50" y="14.10" class="tk" text-anchor="end">1.0</text>
<text x="611.50" y="114.30" class="al" text-anchor="middle">Component  1</text>
<text transform="translate(525.10,54.00) rotate(-90)" class="al" text-anchor="middle">Component  2</text>
<text x="612.10" y="4.00" class="tt" text-anchor="middle">cluster __ Scatterplot of Canonical Variables</text>
<text x="540.9" y="128.9" class="lbb">(<tspan class="lt">d</tspan>)</text><g clip-path="url(#ce)"><path fill="#35b779" d="M26.3 158.0h90.3v1.35h-90.3zM26.3 159.2h90.3v1.35h-90.3zM26.3 160.5h90.3v1.35h-90.3zM26.3 161.8h90.3v1.35h-90.3zM116.4 157.9h1.6v1.5h-1.6zM121.1 157.5h1.6v1.5h-1.6zM116.4 159.3h1.6v1.5h-1.6zM118.1 159.0h1.6v1.5h-1.6zM121.1 159.6h1.6v1.5h-1.6zM116.5 160.6h1.6v1.5h-1.6zM117.4 160.7h1.6v1.5h-1.6zM122.6 160.1h1.6v1.5h-1.6zM124.6 160.3h1.6v1.5h-1.6zM128.7 161.1h1.6v1.5h-1.6zM116.0 161.8h1.6v1.5h-1.6zM118.5 162.3h1.6v1.5h-1.6zM123.0 161.3h1.6v1.5h-1.6zM26.4 163.1h1.6v1.5h-1.6zM27.3 163.1h1.6v1.5h-1.6zM28.8 162.8h1.6v1.5h-1.6zM30.2 163.3h1.6v1.5h-1.6zM31.0 163.3h1.6v1.5h-1.6zM32.7 162.9h1.6v1.5h-1.6zM33.6 163.1h1.6v1.5h-1.6zM36.1 163.1h1.6v1.5h-1.6zM37.5 162.9h1.6v1.5h-1.6zM38.8 163.0h1.6v1.5h-1.6zM39.8 163.0h1.6v1.5h-1.6zM41.1 163.0h1.6v1.5h-1.6zM42.5 162.8h1.6v1.5h-1.6zM43.7 163.3h1.6v1.5h-1.6zM44.8 163.1h1.6v1.5h-1.6zM46.5 163.3h1.6v1.5h-1.6zM47.8 162.8h1.6v1.5h-1.6zM48.8 163.1h1.6v1.5h-1.6zM50.3 163.1h1.6v1.5h-1.6zM51.2 163.2h1.6v1.5h-1.6zM52.6 163.2h1.6v1.5h-1.6zM53.8 162.9h1.6v1.5h-1.6zM55.3 163.3h1.6v1.5h-1.6zM56.3 162.8h1.6v1.5h-1.6zM57.3 163.3h1.6v1.5h-1.6zM58.7 162.8h1.6v1.5h-1.6zM59.9 163.2h1.6v1.5h-1.6zM61.6 163.1h1.6v1.5h-1.6zM62.5 163.2h1.6v1.5h-1.6zM63.6 162.8h1.6v1.5h-1.6zM64.9 163.2h1.6v1.5h-1.6zM66.3 163.3h1.6v1.5h-1.6zM67.7 163.2h1.6v1.5h-1.6zM68.7 162.9h1.6v1.5h-1.6zM69.8 163.3h1.6v1.5h-1.6zM71.2 162.9h1.6v1.5h-1.6zM72.4 163.2h1.6v1.5h-1.6zM73.7 163.0h1.6v1.5h-1.6zM75.0 162.9h1.6v1.5h-1.6zM76.3 163.3h1.6v1.5h-1.6zM77.8 163.3h1.6v1.5h-1.6zM78.9 163.1h1.6v1.5h-1.6zM80.3 162.8h1.6v1.5h-1.6zM81.3 162.8h1.6v1.5h-1.6zM82.3 162.8h1.6v1.5h-1.6zM84.0 163.2h1.6v1.5h-1.6zM85.1 163.3h1.6v1.5h-1.6zM86.3 163.1h1.6v1.5h-1.6zM87.6 163.0h1.6v1.5h-1.6zM88.9 163.2h1.6v1.5h-1.6zM90.1 163.3h1.6v1.5h-1.6zM91.4 163.2h1.6v1.5h-1.6zM92.9 163.1h1.6v1.5h-1.6zM96.9 162.8h1.6v1.5h-1.6zM97.6 162.7h1.6v1.5h-1.6zM98.8 162.9h1.6v1.5h-1.6zM102.2 162.9h1.6v1.5h-1.6zM26.1 164.5h1.6v1.5h-1.6zM27.3 164.4h1.6v1.5h-1.6zM28.7 164.2h1.6v1.5h-1.6zM30.2 164.2h1.6v1.5h-1.6zM31.5 164.5h1.6v1.5h-1.6zM32.4 164.3h1.6v1.5h-1.6zM34.0 164.4h1.6v1.5h-1.6zM34.9 164.3h1.6v1.5h-1.6zM36.4 164.1h1.6v1.5h-1.6zM37.6 164.4h1.6v1.5h-1.6zM38.5 164.2h1.6v1.5h-1.6zM41.3 164.4h1.6v1.5h-1.6zM42.6 164.3h1.6v1.5h-1.6zM44.1 164.4h1.6v1.5h-1.6zM45.3 164.6h1.6v1.5h-1.6zM46.1 164.2h1.6v1.5h-1.6zM47.7 164.6h1.6v1.5h-1.6zM48.5 164.2h1.6v1.5h-1.6zM50.2 164.2h1.6v1.5h-1.6zM51.4 164.2h1.6v1.5h-1.6zM52.7 164.4h1.6v1.5h-1.6zM53.7 164.5h1.6v1.5h-1.6zM55.1 164.6h1.6v1.5h-1.6zM56.6 164.1h1.6v1.5h-1.6zM57.5 164.2h1.6v1.5h-1.6zM58.8 164.2h1.6v1.5h-1.6zM59.9 164.0h1.6v1.5h-1.6zM61.4 164.6h1.6v1.5h-1.6zM62.8 164.4h1.6v1.5h-1.6zM63.8 164.5h1.6v1.5h-1.6zM65.3 164.0h1.6v1.5h-1.6zM66.0 164.5h1.6v1.5h-1.6zM67.5 164.0h1.6v1.5h-1.6zM69.0 164.5h1.6v1.5h-1.6zM69.8 164.4h1.6v1.5h-1.6zM71.5 164.5h1.6v1.5h-1.6zM72.7 164.2h1.6v1.5h-1.6zM73.9 164.6h1.6v1.5h-1.6zM77.5 164.0h1.6v1.5h-1.6zM80.7 164.9h1.6v1.5h-1.6zM82.6 164.2h1.6v1.5h-1.6zM86.3 164.6h1.6v1.5h-1.6zM87.8 164.1h1.6v1.5h-1.6zM89.4 164.2h1.6v1.5h-1.6zM98.2 164.0h1.6v1.5h-1.6zM99.6 163.7h1.6v1.5h-1.6zM107.4 164.9h1.6v1.5h-1.6zM26.1 165.5h1.6v1.5h-1.6zM27.3 165.4h1.6v1.5h-1.6zM28.7 165.4h1.6v1.5h-1.6zM29.9 165.4h1.6v1.5h-1.6zM31.4 165.7h1.6v1.5h-1.6zM32.6 165.8h1.6v1.5h-1.6zM34.1 165.5h1.6v1.5h-1.6zM34.9 165.7h1.6v1.5h-1.6zM37.8 165.8h1.6v1.5h-1.6zM38.9 165.6h1.6v1.5h-1.6zM40.1 165.5h1.6v1.5h-1.6zM41.6 165.5h1.6v1.5h-1.6zM42.6 165.3h1.6v1.5h-1.6zM44.0 165.5h1.6v1.5h-1.6zM44.8 165.4h1.6v1.5h-1.6zM46.2 165.3h1.6v1.5h-1.6zM47.4 165.4h1.6v1.5h-1.6zM49.1 165.3h1.6v1.5h-1.6zM50.0 165.3h1.6v1.5h-1.6zM52.4 165.8h1.6v1.5h-1.6zM54.0 165.6h1.6v1.5h-1.6zM55.3 165.5h1.6v1.5h-1.6zM56.1 165.5h1.6v1.5h-1.6zM57.5 165.5h1.6v1.5h-1.6zM60.1 165.8h1.6v1.5h-1.6zM61.1 165.8h1.6v1.5h-1.6zM62.5 165.5h1.6v1.5h-1.6zM64.0 165.3h1.6v1.5h-1.6zM65.2 165.6h1.6v1.5h-1.6zM66.4 165.4h1.6v1.5h-1.6zM67.8 165.3h1.6v1.5h-1.6zM68.8 165.7h1.6v1.5h-1.6zM70.0 165.6h1.6v1.5h-1.6zM71.5 165.5h1.6v1.5h-1.6zM72.3 165.5h1.6v1.5h-1.6zM73.9 165.8h1.6v1.5h-1.6zM76.7 165.3h1.6v1.5h-1.6zM77.4 166.0h1.6v1.5h-1.6zM81.8 165.8h1.6v1.5h-1.6zM87.5 166.0h1.6v1.5h-1.6zM88.5 165.2h1.6v1.5h-1.6zM26.6 166.6h1.6v1.5h-1.6zM27.7 166.5h1.6v1.5h-1.6zM28.8 166.5h1.6v1.5h-1.6zM31.5 166.7h1.6v1.5h-1.6zM32.8 166.8h1.6v1.5h-1.6zM33.8 167.0h1.6v1.5h-1.6zM34.9 166.6h1.6v1.5h-1.6zM36.2 166.9h1.6v1.5h-1.6zM37.6 166.8h1.6v1.5h-1.6zM38.8 167.1h1.6v1.5h-1.6zM40.1 166.8h1.6v1.5h-1.6zM41.6 167.0h1.6v1.5h-1.6zM42.6 166.6h1.6v1.5h-1.6zM43.6 166.5h1.6v1.5h-1.6zM45.0 166.6h1.6v1.5h-1.6zM46.5 166.6h1.6v1.5h-1.6zM47.3 166.9h1.6v1.5h-1.6zM48.6 167.0h1.6v1.5h-1.6zM50.1 166.9h1.6v1.5h-1.6zM51.1 166.5h1.6v1.5h-1.6zM52.4 167.0h1.6v1.5h-1.6zM54.0 166.9h1.6v1.5h-1.6zM55.2 166.6h1.6v1.5h-1.6zM56.6 166.5h1.6v1.5h-1.6zM57.3 166.6h1.6v1.5h-1.6zM58.8 166.9h1.6v1.5h-1.6zM60.2 166.9h1.6v1.5h-1.6zM61.4 166.8h1.6v1.5h-1.6zM62.6 166.7h1.6v1.5h-1.6zM64.0 167.0h1.6v1.5h-1.6zM64.8 167.1h1.6v1.5h-1.6zM66.5 167.1h1.6v1.5h-1.6zM67.7 166.6h1.6v1.5h-1.6zM68.8 166.6h1.6v1.5h-1.6zM69.8 166.8h1.6v1.5h-1.6zM71.1 167.0h1.6v1.5h-1.6zM72.4 167.1h1.6v1.5h-1.6zM73.8 166.7h1.6v1.5h-1.6zM75.0 167.1h1.6v1.5h-1.6zM76.7 166.9h1.6v1.5h-1.6zM79.8 166.3h1.6v1.5h-1.6zM83.3 166.6h1.6v1.5h-1.6zM88.9 166.8h1.6v1.5h-1.6zM95.6 166.4h1.6v1.5h-1.6zM26.0 167.8h1.6v1.5h-1.6zM27.5 168.3h1.6v1.5h-1.6zM28.6 167.9h1.6v1.5h-1.6zM30.1 167.9h1.6v1.5h-1.6zM31.6 167.8h1.6v1.5h-1.6zM32.8 167.9h1.6v1.5h-1.6zM33.5 168.0h1.6v1.5h-1.6zM34.9 168.0h1.6v1.5h-1.6zM36.4 168.2h1.6v1.5h-1.6zM37.7 168.0h1.6v1.5h-1.6zM39.0 168.2h1.6v1.5h-1.6zM39.9 167.8h1.6v1.5h-1.6zM41.3 168.1h1.6v1.5h-1.6zM42.4 168.1h1.6v1.5h-1.6zM43.9 168.2h1.6v1.5h-1.6zM44.9 167.9h1.6v1.5h-1.6zM46.5 167.9h1.6v1.5h-1.6zM47.4 167.8h1.6v1.5h-1.6zM48.7 167.9h1.6v1.5h-1.6zM50.3 168.1h1.6v1.5h-1.6zM51.2 167.9h1.6v1.5h-1.6zM52.6 168.0h1.6v1.5h-1.6zM53.9 167.9h1.6v1.5h-1.6zM54.8 168.3h1.6v1.5h-1.6zM56.4 167.8h1.6v1.5h-1.6zM57.8 167.8h1.6v1.5h-1.6zM59.0 168.0h1.6v1.5h-1.6zM59.8 168.0h1.6v1.5h-1.6zM61.2 167.8h1.6v1.5h-1.6zM62.6 168.1h1.6v1.5h-1.6zM64.0 168.2h1.6v1.5h-1.6zM65.3 167.9h1.6v1.5h-1.6zM67.6 168.2h1.6v1.5h-1.6zM68.7 167.9h1.6v1.5h-1.6zM69.9 167.8h1.6v1.5h-1.6zM71.5 167.8h1.6v1.5h-1.6zM72.3 168.4h1.6v1.5h-1.6zM75.0 168.4h1.6v1.5h-1.6zM76.6 168.3h1.6v1.5h-1.6zM77.2 167.9h1.6v1.5h-1.6zM78.6 168.4h1.6v1.5h-1.6zM82.1 168.6h1.6v1.5h-1.6zM86.4 167.9h1.6v1.5h-1.6zM88.2 167.8h1.6v1.5h-1.6zM100.0 168.3h1.6v1.5h-1.6zM27.5 169.2h1.6v1.5h-1.6zM28.9 169.2h1.6v1.5h-1.6zM30.0 169.1h1.6v1.5h-1.6zM31.5 169.1h1.6v1.5h-1.6zM32.6 169.5h1.6v1.5h-1.6zM33.7 169.3h1.6v1.5h-1.6zM35.1 169.2h1.6v1.5h-1.6zM36.2 169.5h1.6v1.5h-1.6zM38.7 169.1h1.6v1.5h-1.6zM39.8 169.4h1.6v1.5h-1.6zM41.3 169.2h1.6v1.5h-1.6zM42.3 169.3h1.6v1.5h-1.6zM43.8 169.4h1.6v1.5h-1.6zM44.8 169.1h1.6v1.5h-1.6zM46.3 169.5h1.6v1.5h-1.6zM47.8 169.2h1.6v1.5h-1.6zM48.5 169.3h1.6v1.5h-1.6zM50.1 169.4h1.6v1.5h-1.6zM51.5 169.2h1.6v1.5h-1.6zM52.6 169.0h1.6v1.5h-1.6zM53.7 169.2h1.6v1.5h-1.6zM56.4 169.0h1.6v1.5h-1.6zM58.9 169.0h1.6v1.5h-1.6zM59.8 169.1h1.6v1.5h-1.6zM61.0 169.6h1.6v1.5h-1.6zM62.5 169.5h1.6v1.5h-1.6zM64.1 169.6h1.6v1.5h-1.6zM65.3 169.5h1.6v1.5h-1.6zM66.3 169.3h1.6v1.5h-1.6zM67.3 169.3h1.6v1.5h-1.6zM68.8 169.6h1.6v1.5h-1.6zM69.9 169.0h1.6v1.5h-1.6zM71.4 169.5h1.6v1.5h-1.6zM72.5 169.8h1.6v1.5h-1.6zM73.6 168.7h1.6v1.5h-1.6zM75.2 169.5h1.6v1.5h-1.6zM76.9 169.4h1.6v1.5h-1.6zM79.3 169.5h1.6v1.5h-1.6zM26.6 170.7h1.6v1.5h-1.6zM29.1 170.7h1.6v1.5h-1.6zM30.0 170.3h1.6v1.5h-1.6zM31.4 170.6h1.6v1.5h-1.6zM32.3 170.8h1.6v1.5h-1.6zM33.6 170.4h1.6v1.5h-1.6zM35.0 170.8h1.6v1.5h-1.6zM36.4 170.4h1.6v1.5h-1.6zM37.3 170.5h1.6v1.5h-1.6zM39.0 170.5h1.6v1.5h-1.6zM39.9 170.4h1.6v1.5h-1.6zM41.2 170.3h1.6v1.5h-1.6zM42.5 170.3h1.6v1.5h-1.6zM43.8 170.7h1.6v1.5h-1.6zM44.9 170.5h1.6v1.5h-1.6zM46.4 170.6h1.6v1.5h-1.6zM47.5 170.4h1.6v1.5h-1.6zM48.7 170.6h1.6v1.5h-1.6zM50.3 170.3h1.6v1.5h-1.6zM51.4 170.3h1.6v1.5h-1.6zM52.8 170.6h1.6v1.5h-1.6zM53.6 170.6h1.6v1.5h-1.6zM54.9 170.5h1.6v1.5h-1.6zM57.7 170.4h1.6v1.5h-1.6zM58.8 170.5h1.6v1.5h-1.6zM60.1 170.8h1.6v1.5h-1.6zM61.4 170.8h1.6v1.5h-1.6zM63.6 170.5h1.6v1.5h-1.6zM65.1 170.4h1.6v1.5h-1.6zM66.4 170.5h1.6v1.5h-1.6zM67.3 170.7h1.6v1.5h-1.6zM68.7 170.8h1.6v1.5h-1.6zM70.1 170.4h1.6v1.5h-1.6zM71.0 170.9h1.6v1.5h-1.6zM72.0 171.1h1.6v1.5h-1.6zM74.8 170.3h1.6v1.5h-1.6zM76.5 170.3h1.6v1.5h-1.6zM90.4 171.1h1.6v1.5h-1.6zM26.0 171.7h1.6v1.5h-1.6zM27.7 171.6h1.6v1.5h-1.6zM30.1 171.9h1.6v1.5h-1.6zM31.5 171.6h1.6v1.5h-1.6zM32.6 171.6h1.6v1.5h-1.6zM33.6 172.1h1.6v1.5h-1.6zM35.3 172.0h1.6v1.5h-1.6zM36.3 172.0h1.6v1.5h-1.6zM37.3 171.6h1.6v1.5h-1.6zM38.7 172.0h1.6v1.5h-1.6zM40.3 171.5h1.6v1.5h-1.6zM41.0 171.5h1.6v1.5h-1.6zM43.6 171.6h1.6v1.5h-1.6zM44.8 171.8h1.6v1.5h-1.6zM46.1 171.6h1.6v1.5h-1.6zM47.7 171.8h1.6v1.5h-1.6zM48.7 172.0h1.6v1.5h-1.6zM50.0 172.0h1.6v1.5h-1.6zM51.1 171.7h1.6v1.5h-1.6zM52.7 171.6h1.6v1.5h-1.6zM53.7 172.0h1.6v1.5h-1.6zM54.8 171.7h1.6v1.5h-1.6zM56.3 171.5h1.6v1.5h-1.6zM57.8 171.8h1.6v1.5h-1.6zM59.0 171.7h1.6v1.5h-1.6zM60.1 171.9h1.6v1.5h-1.6zM62.7 171.8h1.6v1.5h-1.6zM63.7 171.5h1.6v1.5h-1.6zM64.8 171.7h1.6v1.5h-1.6zM66.4 171.8h1.6v1.5h-1.6zM67.5 171.6h1.6v1.5h-1.6zM69.1 172.1h1.6v1.5h-1.6zM69.9 171.8h1.6v1.5h-1.6zM71.8 172.3h1.6v1.5h-1.6zM72.4 172.2h1.6v1.5h-1.6zM74.6 171.4h1.6v1.5h-1.6zM77.6 172.4h1.6v1.5h-1.6zM80.5 172.2h1.6v1.5h-1.6zM82.6 171.6h1.6v1.5h-1.6zM91.3 172.1h1.6v1.5h-1.6zM26.1 173.1h1.6v1.5h-1.6zM27.6 173.3h1.6v1.5h-1.6zM28.6 173.3h1.6v1.5h-1.6zM29.8 172.9h1.6v1.5h-1.6zM31.5 173.1h1.6v1.5h-1.6zM32.5 173.0h1.6v1.5h-1.6zM35.2 173.3h1.6v1.5h-1.6zM36.1 173.1h1.6v1.5h-1.6zM37.7 173.1h1.6v1.5h-1.6zM38.9 173.0h1.6v1.5h-1.6zM39.9 172.9h1.6v1.5h-1.6zM42.6 173.3h1.6v1.5h-1.6zM43.9 173.1h1.6v1.5h-1.6zM45.0 173.2h1.6v1.5h-1.6zM46.0 173.3h1.6v1.5h-1.6zM47.5 173.2h1.6v1.5h-1.6zM48.6 172.8h1.6v1.5h-1.6zM50.3 172.8h1.6v1.5h-1.6zM51.4 172.9h1.6v1.5h-1.6zM52.7 173.2h1.6v1.5h-1.6zM53.6 172.8h1.6v1.5h-1.6zM55.1 173.3h1.6v1.5h-1.6zM56.5 172.8h1.6v1.5h-1.6zM57.5 173.0h1.6v1.5h-1.6zM58.6 173.2h1.6v1.5h-1.6zM60.2 173.0h1.6v1.5h-1.6zM61.4 173.1h1.6v1.5h-1.6zM62.4 173.2h1.6v1.5h-1.6zM64.0 173.3h1.6v1.5h-1.6zM66.3 173.0h1.6v1.5h-1.6zM67.5 172.7h1.6v1.5h-1.6zM68.3 173.5h1.6v1.5h-1.6zM70.0 173.6h1.6v1.5h-1.6zM72.6 172.7h1.6v1.5h-1.6zM74.0 173.1h1.6v1.5h-1.6zM78.3 172.5h1.6v1.5h-1.6zM80.7 173.3h1.6v1.5h-1.6zM95.9 173.4h1.6v1.5h-1.6zM26.6 174.4h1.6v1.5h-1.6zM27.3 174.5h1.6v1.5h-1.6zM29.1 174.4h1.6v1.5h-1.6zM30.0 174.5h1.6v1.5h-1.6zM31.4 174.3h1.6v1.5h-1.6zM32.8 174.3h1.6v1.5h-1.6zM33.8 174.6h1.6v1.5h-1.6zM35.0 174.5h1.6v1.5h-1.6zM37.4 174.4h1.6v1.5h-1.6zM38.5 174.1h1.6v1.5h-1.6zM40.1 174.5h1.6v1.5h-1.6zM41.0 174.6h1.6v1.5h-1.6zM42.5 174.3h1.6v1.5h-1.6zM43.7 174.0h1.6v1.5h-1.6zM45.2 174.5h1.6v1.5h-1.6zM46.5 174.2h1.6v1.5h-1.6zM47.6 174.5h1.6v1.5h-1.6zM48.7 174.2h1.6v1.5h-1.6zM50.0 174.5h1.6v1.5h-1.6zM52.5 174.6h1.6v1.5h-1.6zM54.0 174.0h1.6v1.5h-1.6zM55.1 174.1h1.6v1.5h-1.6zM56.4 174.5h1.6v1.5h-1.6zM58.6 174.1h1.6v1.5h-1.6zM60.2 174.2h1.6v1.5h-1.6zM61.1 174.0h1.6v1.5h-1.6zM65.1 174.2h1.6v1.5h-1.6zM66.2 174.7h1.6v1.5h-1.6zM68.2 174.1h1.6v1.5h-1.6zM69.7 173.9h1.6v1.5h-1.6zM71.0 174.1h1.6v1.5h-1.6zM72.1 174.4h1.6v1.5h-1.6zM73.5 173.7h1.6v1.5h-1.6zM76.0 174.4h1.6v1.5h-1.6zM79.7 174.5h1.6v1.5h-1.6zM81.2 174.7h1.6v1.5h-1.6zM86.8 173.9h1.6v1.5h-1.6zM94.8 174.6h1.6v1.5h-1.6zM97.7 174.5h1.6v1.5h-1.6zM26.3 175.5h1.6v1.5h-1.6zM27.3 175.5h1.6v1.5h-1.6zM28.6 175.4h1.6v1.5h-1.6zM30.0 175.5h1.6v1.5h-1.6zM31.6 175.3h1.6v1.5h-1.6zM32.6 175.4h1.6v1.5h-1.6zM33.7 175.7h1.6v1.5h-1.6zM34.9 175.6h1.6v1.5h-1.6zM36.4 175.3h1.6v1.5h-1.6zM37.8 175.4h1.6v1.5h-1.6zM38.7 175.5h1.6v1.5h-1.6zM40.3 175.8h1.6v1.5h-1.6zM41.3 175.8h1.6v1.5h-1.6zM42.4 175.3h1.6v1.5h-1.6zM45.0 175.6h1.6v1.5h-1.6zM46.2 175.7h1.6v1.5h-1.6zM47.6 175.4h1.6v1.5h-1.6zM48.9 175.8h1.6v1.5h-1.6zM49.8 175.7h1.6v1.5h-1.6zM51.6 175.6h1.6v1.5h-1.6zM52.7 175.8h1.6v1.5h-1.6zM53.8 175.4h1.6v1.5h-1.6zM55.1 175.4h1.6v1.5h-1.6zM56.2 175.3h1.6v1.5h-1.6zM57.4 175.5h1.6v1.5h-1.6zM58.7 175.4h1.6v1.5h-1.6zM60.1 175.3h1.6v1.5h-1.6zM61.1 175.7h1.6v1.5h-1.6zM62.8 175.5h1.6v1.5h-1.6zM64.8 175.3h1.6v1.5h-1.6zM66.2 175.5h1.6v1.5h-1.6zM68.0 176.0h1.6v1.5h-1.6zM69.4 175.0h1.6v1.5h-1.6zM71.4 175.1h1.6v1.5h-1.6zM74.4 175.9h1.6v1.5h-1.6zM26.1 176.6h1.6v1.5h-1.6zM27.6 177.0h1.6v1.5h-1.6zM28.6 176.5h1.6v1.5h-1.6zM30.3 177.1h1.6v1.5h-1.6zM31.4 176.6h1.6v1.5h-1.6zM32.6 176.8h1.6v1.5h-1.6zM33.9 176.9h1.6v1.5h-1.6zM35.1 177.0h1.6v1.5h-1.6zM36.3 176.6h1.6v1.5h-1.6zM37.3 176.9h1.6v1.5h-1.6zM38.9 176.7h1.6v1.5h-1.6zM40.3 177.1h1.6v1.5h-1.6zM41.1 176.8h1.6v1.5h-1.6zM42.7 176.7h1.6v1.5h-1.6zM43.6 176.9h1.6v1.5h-1.6zM45.3 176.9h1.6v1.5h-1.6zM46.1 176.9h1.6v1.5h-1.6zM47.7 176.9h1.6v1.5h-1.6zM49.0 176.7h1.6v1.5h-1.6zM50.2 176.7h1.6v1.5h-1.6zM51.0 176.9h1.6v1.5h-1.6zM52.6 176.6h1.6v1.5h-1.6zM53.9 176.6h1.6v1.5h-1.6zM55.1 177.1h1.6v1.5h-1.6zM56.5 177.0h1.6v1.5h-1.6zM57.7 177.0h1.6v1.5h-1.6zM58.6 176.8h1.6v1.5h-1.6zM60.0 177.0h1.6v1.5h-1.6zM61.3 177.0h1.6v1.5h-1.6zM62.6 177.1h1.6v1.5h-1.6zM64.0 176.8h1.6v1.5h-1.6zM65.3 176.7h1.6v1.5h-1.6zM66.0 176.6h1.6v1.5h-1.6zM68.1 176.8h1.6v1.5h-1.6zM69.0 177.1h1.6v1.5h-1.6zM72.7 177.3h1.6v1.5h-1.6zM74.2 176.3h1.6v1.5h-1.6zM78.5 176.6h1.6v1.5h-1.6zM82.0 177.2h1.6v1.5h-1.6zM87.5 177.1h1.6v1.5h-1.6zM26.4 178.1h1.6v1.5h-1.6zM27.3 178.3h1.6v1.5h-1.6zM29.0 177.9h1.6v1.5h-1.6zM29.9 177.8h1.6v1.5h-1.6zM32.6 178.1h1.6v1.5h-1.6zM33.9 178.0h1.6v1.5h-1.6zM35.0 177.8h1.6v1.5h-1.6zM37.7 178.0h1.6v1.5h-1.6zM38.7 177.9h1.6v1.5h-1.6zM39.8 178.3h1.6v1.5h-1.6zM41.0 178.0h1.6v1.5h-1.6zM42.5 178.0h1.6v1.5h-1.6zM43.6 178.3h1.6v1.5h-1.6zM46.3 177.8h1.6v1.5h-1.6zM47.5 177.9h1.6v1.5h-1.6zM48.9 178.1h1.6v1.5h-1.6zM50.1 178.0h1.6v1.5h-1.6zM51.5 178.1h1.6v1.5h-1.6zM52.5 178.2h1.6v1.5h-1.6zM54.0 178.0h1.6v1.5h-1.6zM54.9 178.2h1.6v1.5h-1.6zM56.1 178.1h1.6v1.5h-1.6zM57.8 178.0h1.6v1.5h-1.6zM59.0 178.2h1.6v1.5h-1.6zM60.0 177.9h1.6v1.5h-1.6zM61.4 177.9h1.6v1.5h-1.6zM64.2 177.8h1.6v1.5h-1.6zM69.8 177.6h1.6v1.5h-1.6zM71.5 177.7h1.6v1.5h-1.6zM78.1 177.5h1.6v1.5h-1.6zM26.6 179.6h1.6v1.5h-1.6zM27.3 179.5h1.6v1.5h-1.6zM29.1 179.1h1.6v1.5h-1.6zM29.8 179.3h1.6v1.5h-1.6zM31.3 179.6h1.6v1.5h-1.6zM32.8 179.1h1.6v1.5h-1.6zM35.3 179.4h1.6v1.5h-1.6zM36.3 179.1h1.6v1.5h-1.6zM37.8 179.3h1.6v1.5h-1.6zM39.0 179.1h1.6v1.5h-1.6zM40.2 179.3h1.6v1.5h-1.6zM41.1 179.6h1.6v1.5h-1.6zM42.4 179.5h1.6v1.5h-1.6zM44.0 179.4h1.6v1.5h-1.6zM44.8 179.4h1.6v1.5h-1.6zM46.2 179.5h1.6v1.5h-1.6zM47.5 179.4h1.6v1.5h-1.6zM49.1 179.0h1.6v1.5h-1.6zM50.1 179.4h1.6v1.5h-1.6zM51.5 179.3h1.6v1.5h-1.6zM52.6 179.4h1.6v1.5h-1.6zM53.9 179.4h1.6v1.5h-1.6zM54.8 179.3h1.6v1.5h-1.6zM56.6 179.6h1.6v1.5h-1.6zM57.8 179.0h1.6v1.5h-1.6zM60.0 179.4h1.6v1.5h-1.6zM61.4 179.4h1.6v1.5h-1.6zM62.5 179.4h1.6v1.5h-1.6zM63.5 179.6h1.6v1.5h-1.6zM65.6 179.5h1.6v1.5h-1.6zM66.5 178.9h1.6v1.5h-1.6zM67.5 178.7h1.6v1.5h-1.6zM69.3 179.3h1.6v1.5h-1.6zM70.2 179.6h1.6v1.5h-1.6zM71.8 179.8h1.6v1.5h-1.6zM73.1 179.7h1.6v1.5h-1.6zM76.5 179.1h1.6v1.5h-1.6zM81.5 179.0h1.6v1.5h-1.6zM92.0 179.5h1.6v1.5h-1.6zM26.2 180.8h1.6v1.5h-1.6zM27.4 180.5h1.6v1.5h-1.6zM28.6 180.3h1.6v1.5h-1.6zM30.0 180.5h1.6v1.5h-1.6zM31.1 180.8h1.6v1.5h-1.6zM33.8 180.5h1.6v1.5h-1.6zM34.8 180.6h1.6v1.5h-1.6zM36.2 180.3h1.6v1.5h-1.6zM37.7 180.5h1.6v1.5h-1.6zM38.5 180.7h1.6v1.5h-1.6zM40.1 180.8h1.6v1.5h-1.6zM41.4 180.8h1.6v1.5h-1.6zM42.3 180.8h1.6v1.5h-1.6zM44.0 180.5h1.6v1.5h-1.6zM44.8 180.8h1.6v1.5h-1.6zM46.4 180.4h1.6v1.5h-1.6zM47.4 180.6h1.6v1.5h-1.6zM49.1 180.7h1.6v1.5h-1.6zM49.9 180.4h1.6v1.5h-1.6zM51.2 180.4h1.6v1.5h-1.6zM52.3 180.6h1.6v1.5h-1.6zM54.0 180.7h1.6v1.5h-1.6zM54.9 180.6h1.6v1.5h-1.6zM56.0 180.8h1.6v1.5h-1.6zM57.7 180.6h1.6v1.5h-1.6zM58.6 180.6h1.6v1.5h-1.6zM59.8 180.5h1.6v1.5h-1.6zM61.0 180.7h1.6v1.5h-1.6zM62.7 180.4h1.6v1.5h-1.6zM64.9 180.1h1.6v1.5h-1.6zM66.7 181.0h1.6v1.5h-1.6zM67.7 180.5h1.6v1.5h-1.6zM68.6 180.6h1.6v1.5h-1.6zM69.7 180.1h1.6v1.5h-1.6zM70.8 180.7h1.6v1.5h-1.6zM73.2 180.0h1.6v1.5h-1.6zM75.0 181.1h1.6v1.5h-1.6zM76.1 180.9h1.6v1.5h-1.6zM90.3 180.1h1.6v1.5h-1.6zM26.6 182.0h1.6v1.5h-1.6zM27.6 181.5h1.6v1.5h-1.6zM28.9 181.9h1.6v1.5h-1.6zM30.1 181.6h1.6v1.5h-1.6zM31.2 181.8h1.6v1.5h-1.6zM33.6 181.8h1.6v1.5h-1.6zM35.1 181.6h1.6v1.5h-1.6zM36.4 181.6h1.6v1.5h-1.6zM37.3 182.0h1.6v1.5h-1.6zM39.0 181.6h1.6v1.5h-1.6zM40.2 181.7h1.6v1.5h-1.6zM41.3 181.6h1.6v1.5h-1.6zM42.3 181.9h1.6v1.5h-1.6zM43.6 182.0h1.6v1.5h-1.6zM45.3 181.5h1.6v1.5h-1.6zM46.4 182.0h1.6v1.5h-1.6zM47.4 181.5h1.6v1.5h-1.6zM48.8 181.8h1.6v1.5h-1.6zM50.3 182.0h1.6v1.5h-1.6zM51.5 181.7h1.6v1.5h-1.6zM52.7 181.5h1.6v1.5h-1.6zM53.7 181.9h1.6v1.5h-1.6zM55.2 181.6h1.6v1.5h-1.6zM57.5 181.7h1.6v1.5h-1.6zM58.8 181.9h1.6v1.5h-1.6zM60.1 182.0h1.6v1.5h-1.6zM62.8 181.5h1.6v1.5h-1.6zM64.2 182.3h1.6v1.5h-1.6zM64.5 181.2h1.6v1.5h-1.6zM68.2 181.3h1.6v1.5h-1.6zM71.5 182.4h1.6v1.5h-1.6zM73.3 181.9h1.6v1.5h-1.6zM26.1 183.0h1.6v1.5h-1.6zM27.7 183.2h1.6v1.5h-1.6zM28.9 182.8h1.6v1.5h-1.6zM30.3 183.0h1.6v1.5h-1.6zM31.2 183.2h1.6v1.5h-1.6zM32.3 183.3h1.6v1.5h-1.6zM34.1 183.1h1.6v1.5h-1.6zM34.8 183.2h1.6v1.5h-1.6zM37.3 182.8h1.6v1.5h-1.6zM39.0 183.0h1.6v1.5h-1.6zM40.2 183.0h1.6v1.5h-1.6zM43.9 183.0h1.6v1.5h-1.6zM45.1 183.3h1.6v1.5h-1.6zM46.4 183.1h1.6v1.5h-1.6zM47.4 182.8h1.6v1.5h-1.6zM48.6 183.0h1.6v1.5h-1.6zM50.0 183.3h1.6v1.5h-1.6zM51.5 183.2h1.6v1.5h-1.6zM52.4 183.3h1.6v1.5h-1.6zM53.7 183.1h1.6v1.5h-1.6zM55.3 183.1h1.6v1.5h-1.6zM57.7 182.8h1.6v1.5h-1.6zM58.8 182.8h1.6v1.5h-1.6zM60.1 183.0h1.6v1.5h-1.6zM61.2 182.7h1.6v1.5h-1.6zM62.6 182.9h1.6v1.5h-1.6zM64.1 183.3h1.6v1.5h-1.6zM64.8 183.1h1.6v1.5h-1.6zM67.7 182.9h1.6v1.5h-1.6zM68.4 182.5h1.6v1.5h-1.6zM70.1 183.4h1.6v1.5h-1.6zM26.1 184.2h1.6v1.5h-1.6zM27.7 184.2h1.6v1.5h-1.6zM28.9 184.1h1.6v1.5h-1.6zM29.8 184.4h1.6v1.5h-1.6zM31.3 184.4h1.6v1.5h-1.6zM32.7 184.6h1.6v1.5h-1.6zM33.6 184.4h1.6v1.5h-1.6zM35.2 184.4h1.6v1.5h-1.6zM36.6 184.2h1.6v1.5h-1.6zM37.6 184.1h1.6v1.5h-1.6zM38.6 184.1h1.6v1.5h-1.6zM39.8 184.5h1.6v1.5h-1.6zM41.5 184.2h1.6v1.5h-1.6zM42.7 184.5h1.6v1.5h-1.6zM43.8 184.6h1.6v1.5h-1.6zM45.0 184.2h1.6v1.5h-1.6zM46.1 184.4h1.6v1.5h-1.6zM47.5 184.0h1.6v1.5h-1.6zM48.6 184.1h1.6v1.5h-1.6zM51.2 184.2h1.6v1.5h-1.6zM52.3 184.4h1.6v1.5h-1.6zM53.8 184.4h1.6v1.5h-1.6zM54.8 184.3h1.6v1.5h-1.6zM56.3 184.3h1.6v1.5h-1.6zM57.8 184.4h1.6v1.5h-1.6zM60.2 184.0h1.6v1.5h-1.6zM60.9 183.8h1.6v1.5h-1.6zM62.5 184.9h1.6v1.5h-1.6zM65.4 183.9h1.6v1.5h-1.6zM66.7 184.6h1.6v1.5h-1.6zM69.0 184.9h1.6v1.5h-1.6zM70.7 183.9h1.6v1.5h-1.6zM76.9 184.6h1.6v1.5h-1.6zM93.4 184.9h1.6v1.5h-1.6zM26.1 185.8h1.6v1.5h-1.6zM27.5 185.8h1.6v1.5h-1.6zM28.9 185.8h1.6v1.5h-1.6zM31.3 185.6h1.6v1.5h-1.6zM32.7 185.6h1.6v1.5h-1.6zM33.8 185.4h1.6v1.5h-1.6zM35.2 185.3h1.6v1.5h-1.6zM36.1 185.5h1.6v1.5h-1.6zM37.3 185.8h1.6v1.5h-1.6zM39.0 185.6h1.6v1.5h-1.6zM39.9 185.6h1.6v1.5h-1.6zM41.4 185.5h1.6v1.5h-1.6zM42.7 185.4h1.6v1.5h-1.6zM43.7 185.3h1.6v1.5h-1.6zM45.3 185.5h1.6v1.5h-1.6zM46.5 185.3h1.6v1.5h-1.6zM47.5 185.6h1.6v1.5h-1.6zM49.0 185.3h1.6v1.5h-1.6zM50.0 185.4h1.6v1.5h-1.6zM52.6 185.5h1.6v1.5h-1.6zM53.8 185.5h1.6v1.5h-1.6zM55.0 185.5h1.6v1.5h-1.6zM56.0 185.5h1.6v1.5h-1.6zM57.5 185.5h1.6v1.5h-1.6zM59.0 185.5h1.6v1.5h-1.6zM59.9 186.0h1.6v1.5h-1.6zM61.4 186.0h1.6v1.5h-1.6zM62.9 185.4h1.6v1.5h-1.6zM64.1 185.0h1.6v1.5h-1.6zM68.6 185.3h1.6v1.5h-1.6zM71.4 185.1h1.6v1.5h-1.6zM26.3 186.8h1.6v1.5h-1.6zM27.7 187.0h1.6v1.5h-1.6zM28.8 186.9h1.6v1.5h-1.6zM29.9 186.8h1.6v1.5h-1.6zM32.5 186.6h1.6v1.5h-1.6zM33.9 186.8h1.6v1.5h-1.6zM35.1 186.7h1.6v1.5h-1.6zM36.0 186.6h1.6v1.5h-1.6zM37.3 186.8h1.6v1.5h-1.6zM39.1 186.8h1.6v1.5h-1.6zM40.1 186.9h1.6v1.5h-1.6zM41.2 186.8h1.6v1.5h-1.6zM42.6 186.7h1.6v1.5h-1.6zM43.5 186.9h1.6v1.5h-1.6zM45.2 186.5h1.6v1.5h-1.6zM47.3 187.0h1.6v1.5h-1.6zM48.8 187.0h1.6v1.5h-1.6zM50.0 186.7h1.6v1.5h-1.6zM51.0 187.0h1.6v1.5h-1.6zM52.4 187.0h1.6v1.5h-1.6zM53.9 186.9h1.6v1.5h-1.6zM55.3 186.7h1.6v1.5h-1.6zM56.3 186.8h1.6v1.5h-1.6zM57.3 187.0h1.6v1.5h-1.6zM59.0 186.5h1.6v1.5h-1.6zM61.6 187.0h1.6v1.5h-1.6zM62.3 186.9h1.6v1.5h-1.6zM63.8 187.2h1.6v1.5h-1.6zM65.4 186.2h1.6v1.5h-1.6zM68.6 186.9h1.6v1.5h-1.6zM71.0 186.8h1.6v1.5h-1.6zM26.2 187.9h1.6v1.5h-1.6zM27.7 188.1h1.6v1.5h-1.6zM28.7 188.0h1.6v1.5h-1.6zM30.3 188.1h1.6v1.5h-1.6zM31.5 188.1h1.6v1.5h-1.6zM32.3 187.8h1.6v1.5h-1.6zM33.5 187.9h1.6v1.5h-1.6zM34.9 187.8h1.6v1.5h-1.6zM36.6 188.3h1.6v1.5h-1.6zM37.6 188.0h1.6v1.5h-1.6zM38.6 188.2h1.6v1.5h-1.6zM41.4 188.1h1.6v1.5h-1.6zM42.8 187.8h1.6v1.5h-1.6zM43.8 187.8h1.6v1.5h-1.6zM44.9 187.9h1.6v1.5h-1.6zM46.1 188.1h1.6v1.5h-1.6zM47.7 187.8h1.6v1.5h-1.6zM48.9 188.2h1.6v1.5h-1.6zM50.0 188.1h1.6v1.5h-1.6zM51.5 188.3h1.6v1.5h-1.6zM52.4 187.9h1.6v1.5h-1.6zM53.7 188.3h1.6v1.5h-1.6zM54.9 187.9h1.6v1.5h-1.6zM56.1 187.8h1.6v1.5h-1.6zM57.6 187.9h1.6v1.5h-1.6zM58.8 188.3h1.6v1.5h-1.6zM59.7 187.9h1.6v1.5h-1.6zM61.0 187.9h1.6v1.5h-1.6zM64.9 187.9h1.6v1.5h-1.6zM71.9 187.8h1.6v1.5h-1.6zM26.1 189.4h1.6v1.5h-1.6zM27.6 189.3h1.6v1.5h-1.6zM28.8 189.4h1.6v1.5h-1.6zM30.0 189.1h1.6v1.5h-1.6zM31.1 189.6h1.6v1.5h-1.6zM34.0 189.1h1.6v1.5h-1.6zM35.0 189.4h1.6v1.5h-1.6zM36.5 189.2h1.6v1.5h-1.6zM37.8 189.3h1.6v1.5h-1.6zM38.7 189.4h1.6v1.5h-1.6zM40.2 189.5h1.6v1.5h-1.6zM41.4 189.5h1.6v1.5h-1.6zM42.8 189.6h1.6v1.5h-1.6zM44.0 189.5h1.6v1.5h-1.6zM45.3 189.0h1.6v1.5h-1.6zM47.3 189.5h1.6v1.5h-1.6zM48.9 189.5h1.6v1.5h-1.6zM50.2 189.0h1.6v1.5h-1.6zM51.5 189.1h1.6v1.5h-1.6zM53.8 189.2h1.6v1.5h-1.6zM55.3 189.6h1.6v1.5h-1.6zM56.5 189.1h1.6v1.5h-1.6zM57.5 189.0h1.6v1.5h-1.6zM58.3 189.3h1.6v1.5h-1.6zM60.2 189.3h1.6v1.5h-1.6zM61.9 189.2h1.6v1.5h-1.6zM62.1 189.8h1.6v1.5h-1.6zM65.2 189.7h1.6v1.5h-1.6zM68.7 189.9h1.6v1.5h-1.6zM70.8 189.3h1.6v1.5h-1.6zM26.5 190.8h1.6v1.5h-1.6zM27.4 190.4h1.6v1.5h-1.6zM28.6 190.8h1.6v1.5h-1.6zM30.0 190.4h1.6v1.5h-1.6zM31.4 190.3h1.6v1.5h-1.6zM32.4 190.7h1.6v1.5h-1.6zM33.5 190.5h1.6v1.5h-1.6zM35.3 190.4h1.6v1.5h-1.6zM36.3 190.7h1.6v1.5h-1.6zM37.3 190.4h1.6v1.5h-1.6zM38.5 190.3h1.6v1.5h-1.6zM40.1 190.3h1.6v1.5h-1.6zM41.2 190.4h1.6v1.5h-1.6zM42.5 190.5h1.6v1.5h-1.6zM43.6 190.8h1.6v1.5h-1.6zM44.8 190.6h1.6v1.5h-1.6zM46.1 190.8h1.6v1.5h-1.6zM47.3 190.8h1.6v1.5h-1.6zM48.8 190.5h1.6v1.5h-1.6zM50.0 190.5h1.6v1.5h-1.6zM51.4 190.7h1.6v1.5h-1.6zM52.3 190.7h1.6v1.5h-1.6zM53.8 190.3h1.6v1.5h-1.6zM55.2 190.6h1.6v1.5h-1.6zM56.4 190.8h1.6v1.5h-1.6zM61.9 191.1h1.6v1.5h-1.6zM62.6 190.0h1.6v1.5h-1.6zM66.9 191.0h1.6v1.5h-1.6zM68.0 190.0h1.6v1.5h-1.6zM74.2 190.4h1.6v1.5h-1.6zM26.3 191.8h1.6v1.5h-1.6zM27.7 191.7h1.6v1.5h-1.6zM28.8 191.6h1.6v1.5h-1.6zM30.0 192.0h1.6v1.5h-1.6zM31.6 192.1h1.6v1.5h-1.6zM32.6 191.7h1.6v1.5h-1.6zM33.7 191.9h1.6v1.5h-1.6zM34.8 191.6h1.6v1.5h-1.6zM36.2 191.7h1.6v1.5h-1.6zM37.8 191.9h1.6v1.5h-1.6zM38.5 191.6h1.6v1.5h-1.6zM39.8 191.8h1.6v1.5h-1.6zM42.7 191.7h1.6v1.5h-1.6zM44.0 191.6h1.6v1.5h-1.6zM45.0 192.1h1.6v1.5h-1.6zM46.1 191.6h1.6v1.5h-1.6zM47.8 192.1h1.6v1.5h-1.6zM48.7 191.7h1.6v1.5h-1.6zM51.1 191.6h1.6v1.5h-1.6zM52.3 192.0h1.6v1.5h-1.6zM55.0 191.7h1.6v1.5h-1.6zM56.2 192.1h1.6v1.5h-1.6zM59.5 192.1h1.6v1.5h-1.6zM65.3 191.8h1.6v1.5h-1.6zM68.8 191.3h1.6v1.5h-1.6zM26.1 192.8h1.6v1.5h-1.6zM27.4 193.2h1.6v1.5h-1.6zM28.6 192.9h1.6v1.5h-1.6zM29.9 193.1h1.6v1.5h-1.6zM32.3 193.3h1.6v1.5h-1.6zM33.5 193.0h1.6v1.5h-1.6zM35.1 193.2h1.6v1.5h-1.6zM36.5 193.2h1.6v1.5h-1.6zM37.6 193.0h1.6v1.5h-1.6zM39.1 193.1h1.6v1.5h-1.6zM39.8 192.8h1.6v1.5h-1.6zM41.1 193.1h1.6v1.5h-1.6zM42.4 192.9h1.6v1.5h-1.6zM43.9 193.2h1.6v1.5h-1.6zM45.0 193.2h1.6v1.5h-1.6zM46.5 193.3h1.6v1.5h-1.6zM47.5 192.9h1.6v1.5h-1.6zM48.8 192.9h1.6v1.5h-1.6zM50.1 193.2h1.6v1.5h-1.6zM51.5 193.0h1.6v1.5h-1.6zM52.7 193.3h1.6v1.5h-1.6zM54.0 192.9h1.6v1.5h-1.6zM55.3 193.1h1.6v1.5h-1.6zM56.4 192.9h1.6v1.5h-1.6zM57.1 193.2h1.6v1.5h-1.6zM58.3 192.9h1.6v1.5h-1.6zM59.5 192.8h1.6v1.5h-1.6zM61.5 193.4h1.6v1.5h-1.6zM65.9 193.0h1.6v1.5h-1.6zM26.3 194.5h1.6v1.5h-1.6zM27.6 194.1h1.6v1.5h-1.6zM29.0 194.3h1.6v1.5h-1.6zM29.9 194.2h1.6v1.5h-1.6zM31.4 194.4h1.6v1.5h-1.6zM32.6 194.2h1.6v1.5h-1.6zM35.1 194.1h1.6v1.5h-1.6zM36.0 194.3h1.6v1.5h-1.6zM37.4 194.5h1.6v1.5h-1.6zM38.5 194.2h1.6v1.5h-1.6zM40.3 194.3h1.6v1.5h-1.6zM41.5 194.1h1.6v1.5h-1.6zM42.8 194.1h1.6v1.5h-1.6zM43.9 194.2h1.6v1.5h-1.6zM45.3 194.6h1.6v1.5h-1.6zM46.6 194.0h1.6v1.5h-1.6zM47.6 194.2h1.6v1.5h-1.6zM49.0 194.5h1.6v1.5h-1.6zM49.8 194.0h1.6v1.5h-1.6zM51.5 194.6h1.6v1.5h-1.6zM52.5 194.0h1.6v1.5h-1.6zM54.1 194.1h1.6v1.5h-1.6zM55.1 194.3h1.6v1.5h-1.6zM55.8 194.2h1.6v1.5h-1.6zM57.6 194.2h1.6v1.5h-1.6zM58.7 194.4h1.6v1.5h-1.6zM63.2 194.5h1.6v1.5h-1.6zM26.5 195.3h1.6v1.5h-1.6zM27.5 195.5h1.6v1.5h-1.6zM28.7 195.3h1.6v1.5h-1.6zM30.0 195.8h1.6v1.5h-1.6zM31.3 195.4h1.6v1.5h-1.6zM32.6 195.3h1.6v1.5h-1.6zM33.7 195.5h1.6v1.5h-1.6zM35.2 195.8h1.6v1.5h-1.6zM36.3 195.3h1.6v1.5h-1.6zM37.3 195.3h1.6v1.5h-1.6zM39.0 195.8h1.6v1.5h-1.6zM39.9 195.4h1.6v1.5h-1.6zM41.5 195.4h1.6v1.5h-1.6zM42.6 195.7h1.6v1.5h-1.6zM44.0 195.7h1.6v1.5h-1.6zM45.2 195.4h1.6v1.5h-1.6zM47.7 195.7h1.6v1.5h-1.6zM48.6 195.3h1.6v1.5h-1.6zM51.5 195.4h1.6v1.5h-1.6zM52.7 195.5h1.6v1.5h-1.6zM54.1 195.8h1.6v1.5h-1.6zM56.9 195.2h1.6v1.5h-1.6zM58.2 195.6h1.6v1.5h-1.6zM60.2 195.5h1.6v1.5h-1.6zM60.7 195.2h1.6v1.5h-1.6zM62.4 195.6h1.6v1.5h-1.6zM65.6 195.5h1.6v1.5h-1.6zM71.2 195.2h1.6v1.5h-1.6zM26.4 196.9h1.6v1.5h-1.6zM27.3 197.0h1.6v1.5h-1.6zM28.9 196.8h1.6v1.5h-1.6zM29.8 196.7h1.6v1.5h-1.6zM31.3 196.7h1.6v1.5h-1.6zM32.6 197.0h1.6v1.5h-1.6zM33.7 196.9h1.6v1.5h-1.6zM35.3 196.7h1.6v1.5h-1.6zM36.5 196.9h1.6v1.5h-1.6zM37.8 196.9h1.6v1.5h-1.6zM39.0 197.0h1.6v1.5h-1.6zM40.0 196.9h1.6v1.5h-1.6zM41.3 196.5h1.6v1.5h-1.6zM42.8 196.7h1.6v1.5h-1.6zM44.9 196.7h1.6v1.5h-1.6zM46.2 196.6h1.6v1.5h-1.6zM47.6 196.8h1.6v1.5h-1.6zM48.9 196.9h1.6v1.5h-1.6zM50.1 196.7h1.6v1.5h-1.6zM51.2 196.5h1.6v1.5h-1.6zM52.8 196.7h1.6v1.5h-1.6zM53.9 196.6h1.6v1.5h-1.6zM55.4 196.3h1.6v1.5h-1.6zM58.5 197.3h1.6v1.5h-1.6zM60.5 196.5h1.6v1.5h-1.6zM61.0 197.1h1.6v1.5h-1.6zM26.2 197.8h1.6v1.5h-1.6zM27.5 197.9h1.6v1.5h-1.6zM28.5 198.2h1.6v1.5h-1.6zM29.9 198.3h1.6v1.5h-1.6zM31.4 197.8h1.6v1.5h-1.6zM32.7 198.1h1.6v1.5h-1.6zM34.0 198.2h1.6v1.5h-1.6zM34.9 197.8h1.6v1.5h-1.6zM36.3 197.9h1.6v1.5h-1.6zM38.7 197.8h1.6v1.5h-1.6zM39.8 198.1h1.6v1.5h-1.6zM41.4 197.9h1.6v1.5h-1.6zM42.8 197.8h1.6v1.5h-1.6zM44.0 198.1h1.6v1.5h-1.6zM44.9 198.3h1.6v1.5h-1.6zM46.5 197.9h1.6v1.5h-1.6zM47.6 197.8h1.6v1.5h-1.6zM48.6 198.2h1.6v1.5h-1.6zM50.2 197.9h1.6v1.5h-1.6zM51.2 197.9h1.6v1.5h-1.6zM52.7 198.1h1.6v1.5h-1.6zM56.1 198.2h1.6v1.5h-1.6zM60.2 197.9h1.6v1.5h-1.6zM61.4 197.8h1.6v1.5h-1.6zM64.6 198.0h1.6v1.5h-1.6zM26.1 199.3h1.6v1.5h-1.6zM27.8 199.5h1.6v1.5h-1.6zM28.6 199.5h1.6v1.5h-1.6zM30.2 199.5h1.6v1.5h-1.6zM31.2 199.3h1.6v1.5h-1.6zM32.4 199.1h1.6v1.5h-1.6zM33.5 199.4h1.6v1.5h-1.6zM35.0 199.0h1.6v1.5h-1.6zM36.1 199.2h1.6v1.5h-1.6zM37.6 199.5h1.6v1.5h-1.6zM39.1 199.1h1.6v1.5h-1.6zM40.2 199.6h1.6v1.5h-1.6zM41.4 199.3h1.6v1.5h-1.6zM42.7 199.2h1.6v1.5h-1.6zM43.6 199.4h1.6v1.5h-1.6zM45.2 199.4h1.6v1.5h-1.6zM46.1 199.0h1.6v1.5h-1.6zM47.5 199.2h1.6v1.5h-1.6zM48.5 199.5h1.6v1.5h-1.6zM50.1 199.5h1.6v1.5h-1.6zM51.3 199.3h1.6v1.5h-1.6zM52.6 199.2h1.6v1.5h-1.6zM53.9 199.4h1.6v1.5h-1.6zM54.7 199.8h1.6v1.5h-1.6zM55.7 199.3h1.6v1.5h-1.6zM58.1 199.1h1.6v1.5h-1.6zM62.1 198.8h1.6v1.5h-1.6zM67.1 199.2h1.6v1.5h-1.6zM26.2 200.3h1.6v1.5h-1.6zM27.3 200.7h1.6v1.5h-1.6zM28.8 200.3h1.6v1.5h-1.6zM29.8 200.6h1.6v1.5h-1.6zM31.2 200.6h1.6v1.5h-1.6zM32.3 200.3h1.6v1.5h-1.6zM34.0 200.3h1.6v1.5h-1.6zM35.1 200.4h1.6v1.5h-1.6zM36.2 200.7h1.6v1.5h-1.6zM37.4 200.7h1.6v1.5h-1.6zM38.5 200.5h1.6v1.5h-1.6zM39.8 200.7h1.6v1.5h-1.6zM41.1 200.7h1.6v1.5h-1.6zM42.5 200.4h1.6v1.5h-1.6zM43.9 200.5h1.6v1.5h-1.6zM45.1 200.8h1.6v1.5h-1.6zM46.6 200.5h1.6v1.5h-1.6zM47.3 200.7h1.6v1.5h-1.6zM48.7 200.6h1.6v1.5h-1.6zM50.0 200.5h1.6v1.5h-1.6zM51.2 200.5h1.6v1.5h-1.6zM52.2 200.4h1.6v1.5h-1.6zM53.5 200.6h1.6v1.5h-1.6zM55.2 200.6h1.6v1.5h-1.6zM56.8 200.4h1.6v1.5h-1.6zM57.6 200.0h1.6v1.5h-1.6zM58.6 201.1h1.6v1.5h-1.6zM67.8 201.2h1.6v1.5h-1.6zM26.5 201.8h1.6v1.5h-1.6zM27.8 201.6h1.6v1.5h-1.6zM28.9 201.7h1.6v1.5h-1.6zM29.8 201.6h1.6v1.5h-1.6zM31.2 201.8h1.6v1.5h-1.6zM32.7 201.5h1.6v1.5h-1.6zM33.7 201.7h1.6v1.5h-1.6zM35.0 201.7h1.6v1.5h-1.6zM36.1 201.6h1.6v1.5h-1.6zM37.5 201.6h1.6v1.5h-1.6zM39.0 201.7h1.6v1.5h-1.6zM39.9 201.8h1.6v1.5h-1.6zM41.0 201.8h1.6v1.5h-1.6zM42.8 201.6h1.6v1.5h-1.6zM43.8 201.9h1.6v1.5h-1.6zM44.8 201.7h1.6v1.5h-1.6zM46.2 201.6h1.6v1.5h-1.6zM47.6 201.7h1.6v1.5h-1.6zM48.5 202.1h1.6v1.5h-1.6zM50.1 202.0h1.6v1.5h-1.6zM51.6 201.6h1.6v1.5h-1.6zM52.1 202.1h1.6v1.5h-1.6zM53.4 201.4h1.6v1.5h-1.6zM54.5 202.4h1.6v1.5h-1.6zM56.0 201.8h1.6v1.5h-1.6zM57.6 202.2h1.6v1.5h-1.6zM58.5 201.8h1.6v1.5h-1.6zM26.1 202.8h1.6v1.5h-1.6zM27.8 203.1h1.6v1.5h-1.6zM28.5 203.3h1.6v1.5h-1.6zM31.5 202.9h1.6v1.5h-1.6zM32.7 203.0h1.6v1.5h-1.6zM33.9 203.2h1.6v1.5h-1.6zM35.2 203.2h1.6v1.5h-1.6zM36.0 202.8h1.6v1.5h-1.6zM37.5 203.1h1.6v1.5h-1.6zM38.8 203.3h1.6v1.5h-1.6zM40.0 203.1h1.6v1.5h-1.6zM41.5 203.0h1.6v1.5h-1.6zM42.8 203.0h1.6v1.5h-1.6zM43.8 203.1h1.6v1.5h-1.6zM45.1 203.2h1.6v1.5h-1.6zM46.2 203.2h1.6v1.5h-1.6zM47.5 202.8h1.6v1.5h-1.6zM48.7 202.9h1.6v1.5h-1.6zM50.3 202.8h1.6v1.5h-1.6zM51.4 202.8h1.6v1.5h-1.6zM52.4 203.3h1.6v1.5h-1.6zM54.3 203.1h1.6v1.5h-1.6zM58.1 202.9h1.6v1.5h-1.6zM59.5 202.7h1.6v1.5h-1.6zM61.1 202.8h1.6v1.5h-1.6z"/>
<path fill="#fde725" d="M26.0 174.5h1.6v1.5h-1.6zM26.2 176.8h1.6v1.5h-1.6zM33.5 176.1h1.6v1.5h-1.6zM26.2 177.5h1.6v1.5h-1.6zM27.4 177.4h1.6v1.5h-1.6zM28.3 177.2h1.6v1.5h-1.6zM30.4 176.9h1.6v1.5h-1.6zM32.6 177.8h1.6v1.5h-1.6zM26.4 178.7h1.6v1.5h-1.6zM27.4 178.9h1.6v1.5h-1.6zM30.0 178.9h1.6v1.5h-1.6zM31.3 178.6h1.6v1.5h-1.6zM32.3 178.9h1.6v1.5h-1.6zM35.2 178.3h1.6v1.5h-1.6zM26.2 180.1h1.6v1.5h-1.6zM27.5 179.9h1.6v1.5h-1.6zM28.9 180.0h1.6v1.5h-1.6zM30.1 180.1h1.6v1.5h-1.6zM31.5 180.1h1.6v1.5h-1.6zM32.6 179.9h1.6v1.5h-1.6zM33.7 180.2h1.6v1.5h-1.6zM35.3 180.1h1.6v1.5h-1.6zM38.6 179.9h1.6v1.5h-1.6zM39.7 179.8h1.6v1.5h-1.6zM26.3 181.1h1.6v1.5h-1.6zM27.7 181.3h1.6v1.5h-1.6zM28.9 181.4h1.6v1.5h-1.6zM30.1 181.3h1.6v1.5h-1.6zM31.1 181.2h1.6v1.5h-1.6zM32.4 181.2h1.6v1.5h-1.6zM33.8 181.4h1.6v1.5h-1.6zM35.1 181.1h1.6v1.5h-1.6zM36.5 181.2h1.6v1.5h-1.6zM37.7 181.2h1.6v1.5h-1.6zM38.3 181.7h1.6v1.5h-1.6zM26.3 182.7h1.6v1.5h-1.6zM27.7 182.6h1.6v1.5h-1.6zM28.7 182.4h1.6v1.5h-1.6zM30.1 182.5h1.6v1.5h-1.6zM31.3 182.4h1.6v1.5h-1.6zM32.4 182.5h1.6v1.5h-1.6zM34.0 182.3h1.6v1.5h-1.6zM35.2 182.6h1.6v1.5h-1.6zM36.5 182.4h1.6v1.5h-1.6zM37.5 182.5h1.6v1.5h-1.6zM38.7 182.4h1.6v1.5h-1.6zM40.1 182.3h1.6v1.5h-1.6zM41.2 182.5h1.6v1.5h-1.6zM26.4 183.7h1.6v1.5h-1.6zM27.6 183.6h1.6v1.5h-1.6zM28.8 183.8h1.6v1.5h-1.6zM30.0 183.6h1.6v1.5h-1.6zM31.5 183.9h1.6v1.5h-1.6zM32.4 183.6h1.6v1.5h-1.6zM33.8 183.7h1.6v1.5h-1.6zM35.0 183.8h1.6v1.5h-1.6zM36.3 183.7h1.6v1.5h-1.6zM37.7 183.6h1.6v1.5h-1.6zM38.8 183.6h1.6v1.5h-1.6zM40.1 183.6h1.6v1.5h-1.6zM41.1 183.9h1.6v1.5h-1.6zM42.7 183.8h1.6v1.5h-1.6zM43.9 184.0h1.6v1.5h-1.6zM45.4 183.2h1.6v1.5h-1.6zM26.4 185.1h1.6v1.5h-1.6zM27.5 185.0h1.6v1.5h-1.6zM29.0 185.0h1.6v1.5h-1.6zM30.0 185.0h1.6v1.5h-1.6zM31.2 185.0h1.6v1.5h-1.6zM32.7 185.0h1.6v1.5h-1.6zM33.9 185.2h1.6v1.5h-1.6zM35.1 184.9h1.6v1.5h-1.6zM36.1 185.1h1.6v1.5h-1.6zM37.6 184.8h1.6v1.5h-1.6zM38.7 184.8h1.6v1.5h-1.6zM40.1 185.0h1.6v1.5h-1.6zM41.2 185.2h1.6v1.5h-1.6zM42.7 185.0h1.6v1.5h-1.6zM43.9 185.0h1.6v1.5h-1.6zM45.2 184.9h1.6v1.5h-1.6zM46.0 185.3h1.6v1.5h-1.6zM47.2 185.0h1.6v1.5h-1.6zM48.9 184.7h1.6v1.5h-1.6zM26.1 186.1h1.6v1.5h-1.6zM27.7 186.4h1.6v1.5h-1.6zM28.6 186.3h1.6v1.5h-1.6zM29.9 186.1h1.6v1.5h-1.6zM31.5 186.1h1.6v1.5h-1.6zM32.5 186.3h1.6v1.5h-1.6zM33.8 186.2h1.6v1.5h-1.6zM35.1 186.4h1.6v1.5h-1.6zM36.1 186.2h1.6v1.5h-1.6zM37.6 186.3h1.6v1.5h-1.6zM38.6 186.1h1.6v1.5h-1.6zM40.0 186.1h1.6v1.5h-1.6zM41.1 186.4h1.6v1.5h-1.6zM42.7 186.4h1.6v1.5h-1.6zM43.7 186.4h1.6v1.5h-1.6zM45.1 186.4h1.6v1.5h-1.6zM47.4 186.4h1.6v1.5h-1.6zM48.7 186.0h1.6v1.5h-1.6zM50.0 185.8h1.6v1.5h-1.6zM26.3 187.4h1.6v1.5h-1.6zM27.6 187.7h1.6v1.5h-1.6zM28.7 187.4h1.6v1.5h-1.6zM29.9 187.3h1.6v1.5h-1.6zM31.4 187.3h1.6v1.5h-1.6zM32.6 187.4h1.6v1.5h-1.6zM33.7 187.5h1.6v1.5h-1.6zM35.0 187.6h1.6v1.5h-1.6zM36.3 187.6h1.6v1.5h-1.6zM37.6 187.4h1.6v1.5h-1.6zM38.9 187.4h1.6v1.5h-1.6zM40.2 187.5h1.6v1.5h-1.6zM41.3 187.7h1.6v1.5h-1.6zM42.5 187.6h1.6v1.5h-1.6zM45.1 187.5h1.6v1.5h-1.6zM46.3 187.6h1.6v1.5h-1.6zM47.5 187.6h1.6v1.5h-1.6zM48.7 187.6h1.6v1.5h-1.6zM50.2 187.4h1.6v1.5h-1.6zM51.5 187.8h1.6v1.5h-1.6zM52.9 187.7h1.6v1.5h-1.6zM53.5 187.6h1.6v1.5h-1.6zM54.8 188.1h1.6v1.5h-1.6zM26.3 188.7h1.6v1.5h-1.6zM27.7 188.7h1.6v1.5h-1.6zM29.0 188.9h1.6v1.5h-1.6zM30.0 188.9h1.6v1.5h-1.6zM31.5 188.7h1.6v1.5h-1.6zM32.4 188.6h1.6v1.5h-1.6zM33.6 188.7h1.6v1.5h-1.6zM34.9 188.8h1.6v1.5h-1.6zM36.4 188.7h1.6v1.5h-1.6zM37.5 188.9h1.6v1.5h-1.6zM38.6 188.8h1.6v1.5h-1.6zM40.0 188.9h1.6v1.5h-1.6zM41.2 188.6h1.6v1.5h-1.6zM42.7 188.8h1.6v1.5h-1.6zM43.7 188.9h1.6v1.5h-1.6zM45.2 188.8h1.6v1.5h-1.6zM46.2 188.8h1.6v1.5h-1.6zM47.5 188.9h1.6v1.5h-1.6zM49.0 188.9h1.6v1.5h-1.6zM50.0 188.9h1.6v1.5h-1.6zM52.5 188.8h1.6v1.5h-1.6zM53.7 189.1h1.6v1.5h-1.6zM26.4 190.1h1.6v1.5h-1.6zM27.4 190.0h1.6v1.5h-1.6zM28.7 189.8h1.6v1.5h-1.6zM29.9 190.0h1.6v1.5h-1.6zM31.5 190.1h1.6v1.5h-1.6zM32.4 189.8h1.6v1.5h-1.6zM33.8 189.9h1.6v1.5h-1.6zM35.0 189.8h1.6v1.5h-1.6zM36.2 189.9h1.6v1.5h-1.6zM37.7 190.1h1.6v1.5h-1.6zM38.7 189.9h1.6v1.5h-1.6zM40.2 189.8h1.6v1.5h-1.6zM41.3 189.9h1.6v1.5h-1.6zM42.6 190.0h1.6v1.5h-1.6zM43.6 189.9h1.6v1.5h-1.6zM45.2 190.1h1.6v1.5h-1.6zM46.5 189.9h1.6v1.5h-1.6zM47.4 189.8h1.6v1.5h-1.6zM48.6 190.0h1.6v1.5h-1.6zM50.0 190.1h1.6v1.5h-1.6zM51.3 190.0h1.6v1.5h-1.6zM52.4 189.9h1.6v1.5h-1.6zM55.0 189.9h1.6v1.5h-1.6zM56.6 190.5h1.6v1.5h-1.6zM26.2 191.3h1.6v1.5h-1.6zM27.7 191.3h1.6v1.5h-1.6zM29.0 191.4h1.6v1.5h-1.6zM30.1 191.3h1.6v1.5h-1.6zM31.1 191.4h1.6v1.5h-1.6zM32.6 191.4h1.6v1.5h-1.6zM34.0 191.2h1.6v1.5h-1.6zM35.2 191.4h1.6v1.5h-1.6zM36.5 191.3h1.6v1.5h-1.6zM37.5 191.1h1.6v1.5h-1.6zM38.6 191.2h1.6v1.5h-1.6zM40.0 191.1h1.6v1.5h-1.6zM41.5 191.1h1.6v1.5h-1.6zM42.6 191.1h1.6v1.5h-1.6zM43.8 191.4h1.6v1.5h-1.6zM45.1 191.1h1.6v1.5h-1.6zM46.3 191.3h1.6v1.5h-1.6zM47.4 191.1h1.6v1.5h-1.6zM50.0 191.3h1.6v1.5h-1.6zM51.2 191.2h1.6v1.5h-1.6zM52.7 191.4h1.6v1.5h-1.6zM53.9 191.2h1.6v1.5h-1.6zM55.2 191.4h1.6v1.5h-1.6zM56.5 191.0h1.6v1.5h-1.6zM57.4 191.2h1.6v1.5h-1.6zM61.6 190.7h1.6v1.5h-1.6zM26.5 192.4h1.6v1.5h-1.6zM27.5 192.4h1.6v1.5h-1.6zM28.7 192.6h1.6v1.5h-1.6zM30.0 192.7h1.6v1.5h-1.6zM31.3 192.5h1.6v1.5h-1.6zM32.7 192.4h1.6v1.5h-1.6zM33.7 192.7h1.6v1.5h-1.6zM35.1 192.4h1.6v1.5h-1.6zM36.1 192.6h1.6v1.5h-1.6zM38.7 192.6h1.6v1.5h-1.6zM40.1 192.3h1.6v1.5h-1.6zM41.5 192.5h1.6v1.5h-1.6zM42.7 192.4h1.6v1.5h-1.6zM43.8 192.7h1.6v1.5h-1.6zM45.0 192.6h1.6v1.5h-1.6zM46.3 192.4h1.6v1.5h-1.6zM47.4 192.6h1.6v1.5h-1.6zM48.7 192.7h1.6v1.5h-1.6zM50.0 192.5h1.6v1.5h-1.6zM51.4 192.3h1.6v1.5h-1.6zM52.4 192.4h1.6v1.5h-1.6zM53.8 192.4h1.6v1.5h-1.6zM54.9 192.6h1.6v1.5h-1.6zM57.4 192.9h1.6v1.5h-1.6zM58.3 192.2h1.6v1.5h-1.6zM63.0 192.8h1.6v1.5h-1.6zM26.3 193.8h1.6v1.5h-1.6zM27.5 193.7h1.6v1.5h-1.6zM29.0 193.6h1.6v1.5h-1.6zM30.2 193.7h1.6v1.5h-1.6zM31.2 193.8h1.6v1.5h-1.6zM32.6 193.8h1.6v1.5h-1.6zM33.6 193.8h1.6v1.5h-1.6zM34.9 193.8h1.6v1.5h-1.6zM36.4 193.9h1.6v1.5h-1.6zM37.4 193.8h1.6v1.5h-1.6zM38.7 193.9h1.6v1.5h-1.6zM40.0 193.8h1.6v1.5h-1.6zM41.4 193.7h1.6v1.5h-1.6zM42.5 193.7h1.6v1.5h-1.6zM43.9 193.6h1.6v1.5h-1.6zM45.0 193.9h1.6v1.5h-1.6zM46.1 193.6h1.6v1.5h-1.6zM47.4 193.6h1.6v1.5h-1.6zM48.7 193.8h1.6v1.5h-1.6zM51.5 193.9h1.6v1.5h-1.6zM52.6 193.6h1.6v1.5h-1.6zM53.6 193.8h1.6v1.5h-1.6zM54.9 193.6h1.6v1.5h-1.6zM56.5 193.7h1.6v1.5h-1.6zM57.7 194.0h1.6v1.5h-1.6zM58.5 193.3h1.6v1.5h-1.6zM61.2 193.2h1.6v1.5h-1.6zM63.0 193.7h1.6v1.5h-1.6zM26.3 194.9h1.6v1.5h-1.6zM27.5 194.9h1.6v1.5h-1.6zM29.0 195.1h1.6v1.5h-1.6zM30.0 195.2h1.6v1.5h-1.6zM31.3 195.0h1.6v1.5h-1.6zM32.6 194.9h1.6v1.5h-1.6zM33.7 195.0h1.6v1.5h-1.6zM35.0 195.1h1.6v1.5h-1.6zM36.2 195.2h1.6v1.5h-1.6zM37.6 195.0h1.6v1.5h-1.6zM38.7 195.1h1.6v1.5h-1.6zM40.2 195.0h1.6v1.5h-1.6zM41.3 194.9h1.6v1.5h-1.6zM42.4 195.1h1.6v1.5h-1.6zM43.6 195.1h1.6v1.5h-1.6zM44.9 195.1h1.6v1.5h-1.6zM46.4 195.1h1.6v1.5h-1.6zM47.4 195.2h1.6v1.5h-1.6zM48.7 195.0h1.6v1.5h-1.6zM50.1 194.9h1.6v1.5h-1.6zM51.2 194.8h1.6v1.5h-1.6zM52.5 195.2h1.6v1.5h-1.6zM53.7 195.1h1.6v1.5h-1.6zM54.9 195.2h1.6v1.5h-1.6zM56.5 195.2h1.6v1.5h-1.6zM57.3 195.1h1.6v1.5h-1.6zM58.8 195.1h1.6v1.5h-1.6zM59.7 195.1h1.6v1.5h-1.6zM61.3 194.4h1.6v1.5h-1.6zM63.6 195.3h1.6v1.5h-1.6zM65.4 194.5h1.6v1.5h-1.6zM26.4 196.4h1.6v1.5h-1.6zM27.4 196.2h1.6v1.5h-1.6zM30.1 196.1h1.6v1.5h-1.6zM31.3 196.2h1.6v1.5h-1.6zM32.4 196.3h1.6v1.5h-1.6zM33.9 196.4h1.6v1.5h-1.6zM35.1 196.4h1.6v1.5h-1.6zM36.4 196.2h1.6v1.5h-1.6zM37.6 196.4h1.6v1.5h-1.6zM38.6 196.1h1.6v1.5h-1.6zM40.0 196.1h1.6v1.5h-1.6zM41.1 196.3h1.6v1.5h-1.6zM42.7 196.1h1.6v1.5h-1.6zM44.0 196.2h1.6v1.5h-1.6zM45.0 196.2h1.6v1.5h-1.6zM46.5 196.3h1.6v1.5h-1.6zM47.7 196.4h1.6v1.5h-1.6zM48.6 196.1h1.6v1.5h-1.6zM50.0 196.2h1.6v1.5h-1.6zM51.5 196.2h1.6v1.5h-1.6zM52.4 196.2h1.6v1.5h-1.6zM53.8 196.1h1.6v1.5h-1.6zM55.1 196.4h1.6v1.5h-1.6zM56.5 196.3h1.6v1.5h-1.6zM57.3 196.4h1.6v1.5h-1.6zM58.4 195.7h1.6v1.5h-1.6zM62.9 196.5h1.6v1.5h-1.6zM64.1 196.6h1.6v1.5h-1.6zM65.2 196.5h1.6v1.5h-1.6zM26.3 197.5h1.6v1.5h-1.6zM27.4 197.5h1.6v1.5h-1.6zM28.8 197.6h1.6v1.5h-1.6zM30.0 197.5h1.6v1.5h-1.6zM31.3 197.5h1.6v1.5h-1.6zM32.4 197.6h1.6v1.5h-1.6zM33.7 197.6h1.6v1.5h-1.6zM35.2 197.6h1.6v1.5h-1.6zM36.3 197.4h1.6v1.5h-1.6zM37.4 197.3h1.6v1.5h-1.6zM39.0 197.5h1.6v1.5h-1.6zM40.0 197.4h1.6v1.5h-1.6zM41.3 197.5h1.6v1.5h-1.6zM42.6 197.5h1.6v1.5h-1.6zM44.0 197.6h1.6v1.5h-1.6zM45.2 197.6h1.6v1.5h-1.6zM46.3 197.5h1.6v1.5h-1.6zM47.6 197.6h1.6v1.5h-1.6zM48.6 197.4h1.6v1.5h-1.6zM49.9 197.3h1.6v1.5h-1.6zM51.2 197.7h1.6v1.5h-1.6zM52.6 197.6h1.6v1.5h-1.6zM53.7 197.6h1.6v1.5h-1.6zM54.9 197.6h1.6v1.5h-1.6zM56.4 197.3h1.6v1.5h-1.6zM57.8 197.0h1.6v1.5h-1.6zM58.7 197.7h1.6v1.5h-1.6zM59.8 196.9h1.6v1.5h-1.6zM61.5 196.9h1.6v1.5h-1.6zM26.2 198.9h1.6v1.5h-1.6zM27.7 198.6h1.6v1.5h-1.6zM28.9 198.7h1.6v1.5h-1.6zM30.1 198.7h1.6v1.5h-1.6zM31.3 198.7h1.6v1.5h-1.6zM32.7 198.9h1.6v1.5h-1.6zM35.1 198.7h1.6v1.5h-1.6zM36.4 198.8h1.6v1.5h-1.6zM37.4 198.6h1.6v1.5h-1.6zM38.8 198.7h1.6v1.5h-1.6zM39.9 198.9h1.6v1.5h-1.6zM41.3 198.7h1.6v1.5h-1.6zM42.7 198.9h1.6v1.5h-1.6zM43.9 198.7h1.6v1.5h-1.6zM45.0 198.8h1.6v1.5h-1.6zM46.5 198.9h1.6v1.5h-1.6zM47.6 198.7h1.6v1.5h-1.6zM48.7 198.6h1.6v1.5h-1.6zM50.1 198.8h1.6v1.5h-1.6zM51.4 198.7h1.6v1.5h-1.6zM52.6 198.9h1.6v1.5h-1.6zM53.7 198.7h1.6v1.5h-1.6zM55.1 198.6h1.6v1.5h-1.6zM56.6 198.9h1.6v1.5h-1.6zM57.3 198.9h1.6v1.5h-1.6zM59.0 198.2h1.6v1.5h-1.6zM61.4 198.6h1.6v1.5h-1.6zM63.4 198.7h1.6v1.5h-1.6zM68.8 198.9h1.6v1.5h-1.6zM26.4 200.1h1.6v1.5h-1.6zM27.4 200.1h1.6v1.5h-1.6zM29.0 199.9h1.6v1.5h-1.6zM30.1 200.2h1.6v1.5h-1.6zM31.1 199.9h1.6v1.5h-1.6zM32.7 199.9h1.6v1.5h-1.6zM33.9 200.1h1.6v1.5h-1.6zM34.9 199.9h1.6v1.5h-1.6zM36.3 199.9h1.6v1.5h-1.6zM37.5 200.0h1.6v1.5h-1.6zM38.7 200.2h1.6v1.5h-1.6zM39.9 199.9h1.6v1.5h-1.6zM41.4 199.9h1.6v1.5h-1.6zM42.5 200.1h1.6v1.5h-1.6zM43.9 200.1h1.6v1.5h-1.6zM45.0 200.1h1.6v1.5h-1.6zM46.3 199.8h1.6v1.5h-1.6zM47.5 199.8h1.6v1.5h-1.6zM48.8 199.8h1.6v1.5h-1.6zM50.1 199.9h1.6v1.5h-1.6zM51.3 199.9h1.6v1.5h-1.6zM52.5 200.0h1.6v1.5h-1.6zM54.0 199.9h1.6v1.5h-1.6zM54.7 200.0h1.6v1.5h-1.6zM56.8 200.0h1.6v1.5h-1.6zM57.5 199.7h1.6v1.5h-1.6zM60.6 200.4h1.6v1.5h-1.6zM26.3 201.4h1.6v1.5h-1.6zM27.4 201.4h1.6v1.5h-1.6zM28.7 201.1h1.6v1.5h-1.6zM29.9 201.4h1.6v1.5h-1.6zM31.3 201.4h1.6v1.5h-1.6zM32.5 201.2h1.6v1.5h-1.6zM33.9 201.1h1.6v1.5h-1.6zM35.2 201.2h1.6v1.5h-1.6zM36.1 201.3h1.6v1.5h-1.6zM37.5 201.3h1.6v1.5h-1.6zM38.6 201.3h1.6v1.5h-1.6zM40.0 201.2h1.6v1.5h-1.6zM41.1 201.4h1.6v1.5h-1.6zM42.7 201.3h1.6v1.5h-1.6zM43.9 201.3h1.6v1.5h-1.6zM44.9 201.1h1.6v1.5h-1.6zM46.4 201.1h1.6v1.5h-1.6zM48.7 201.3h1.6v1.5h-1.6zM50.2 201.3h1.6v1.5h-1.6zM51.2 201.4h1.6v1.5h-1.6zM52.7 201.2h1.6v1.5h-1.6zM53.8 201.4h1.6v1.5h-1.6zM55.1 201.2h1.6v1.5h-1.6zM56.1 201.1h1.6v1.5h-1.6zM57.6 201.4h1.6v1.5h-1.6zM26.3 202.5h1.6v1.5h-1.6zM27.5 202.4h1.6v1.5h-1.6zM28.8 202.4h1.6v1.5h-1.6zM29.9 202.6h1.6v1.5h-1.6zM31.5 202.3h1.6v1.5h-1.6zM32.7 202.6h1.6v1.5h-1.6zM33.9 202.3h1.6v1.5h-1.6zM35.2 202.4h1.6v1.5h-1.6zM36.2 202.4h1.6v1.5h-1.6zM37.6 202.7h1.6v1.5h-1.6zM38.8 202.5h1.6v1.5h-1.6zM41.3 202.4h1.6v1.5h-1.6zM42.6 202.4h1.6v1.5h-1.6zM43.7 202.6h1.6v1.5h-1.6zM45.2 202.5h1.6v1.5h-1.6zM46.5 202.7h1.6v1.5h-1.6zM47.5 202.6h1.6v1.5h-1.6zM48.8 202.3h1.6v1.5h-1.6zM49.9 202.6h1.6v1.5h-1.6zM51.4 202.6h1.6v1.5h-1.6zM52.7 202.3h1.6v1.5h-1.6zM53.6 202.7h1.6v1.5h-1.6zM55.0 202.7h1.6v1.5h-1.6zM56.3 202.6h1.6v1.5h-1.6zM61.4 202.6h1.6v1.5h-1.6zM65.9 202.5h1.6v1.5h-1.6zM26.1 203.6h1.6v1.5h-1.6zM27.7 203.8h1.6v1.5h-1.6zM28.7 203.9h1.6v1.5h-1.6zM30.0 203.9h1.6v1.5h-1.6zM31.3 203.9h1.6v1.5h-1.6zM32.4 203.8h1.6v1.5h-1.6zM33.8 203.7h1.6v1.5h-1.6zM35.1 203.9h1.6v1.5h-1.6zM36.4 203.6h1.6v1.5h-1.6zM37.6 203.8h1.6v1.5h-1.6zM38.7 203.7h1.6v1.5h-1.6zM40.1 203.7h1.6v1.5h-1.6zM41.3 203.6h1.6v1.5h-1.6zM43.9 203.6h1.6v1.5h-1.6zM45.2 203.7h1.6v1.5h-1.6zM46.2 203.9h1.6v1.5h-1.6zM47.5 203.7h1.6v1.5h-1.6zM48.7 203.6h1.6v1.5h-1.6zM49.9 203.6h1.6v1.5h-1.6zM51.3 203.7h1.6v1.5h-1.6zM52.7 203.5h1.6v1.5h-1.6zM53.7 203.7h1.6v1.5h-1.6zM55.6 203.8h1.6v1.5h-1.6zM56.4 203.8h1.6v1.5h-1.6zM26.3 205.1h1.6v1.5h-1.6zM27.6 204.9h1.6v1.5h-1.6zM28.7 205.0h1.6v1.5h-1.6zM29.9 205.2h1.6v1.5h-1.6zM31.1 205.1h1.6v1.5h-1.6zM32.7 205.2h1.6v1.5h-1.6zM33.7 204.9h1.6v1.5h-1.6zM35.1 205.0h1.6v1.5h-1.6zM36.1 205.0h1.6v1.5h-1.6zM37.5 205.1h1.6v1.5h-1.6zM38.9 204.9h1.6v1.5h-1.6zM40.1 205.1h1.6v1.5h-1.6zM41.3 205.1h1.6v1.5h-1.6zM42.4 204.8h1.6v1.5h-1.6zM43.8 205.0h1.6v1.5h-1.6zM44.9 204.9h1.6v1.5h-1.6zM47.6 205.1h1.6v1.5h-1.6zM48.9 205.0h1.6v1.5h-1.6zM50.0 205.1h1.6v1.5h-1.6zM51.2 205.1h1.6v1.5h-1.6zM56.5 205.0h1.6v1.5h-1.6zM26.4 206.4h1.6v1.5h-1.6zM27.5 206.1h1.6v1.5h-1.6zM29.0 206.4h1.6v1.5h-1.6zM29.9 206.4h1.6v1.5h-1.6zM31.4 206.2h1.6v1.5h-1.6zM32.7 206.2h1.6v1.5h-1.6zM33.9 206.2h1.6v1.5h-1.6zM34.9 206.1h1.6v1.5h-1.6zM36.5 206.2h1.6v1.5h-1.6zM37.6 206.3h1.6v1.5h-1.6zM38.7 206.3h1.6v1.5h-1.6zM39.9 206.3h1.6v1.5h-1.6zM42.4 206.4h1.6v1.5h-1.6zM43.8 206.3h1.6v1.5h-1.6zM45.2 206.3h1.6v1.5h-1.6zM46.3 206.3h1.6v1.5h-1.6zM47.5 206.2h1.6v1.5h-1.6zM48.9 206.2h1.6v1.5h-1.6zM50.1 206.1h1.6v1.5h-1.6zM51.1 206.4h1.6v1.5h-1.6zM52.1 205.7h1.6v1.5h-1.6zM54.8 205.9h1.6v1.5h-1.6zM58.2 205.9h1.6v1.5h-1.6zM59.7 206.3h1.6v1.5h-1.6zM64.9 206.6h1.6v1.5h-1.6zM26.2 207.5h1.6v1.5h-1.6zM27.7 207.4h1.6v1.5h-1.6zM28.6 207.4h1.6v1.5h-1.6zM30.2 207.6h1.6v1.5h-1.6zM31.4 207.6h1.6v1.5h-1.6zM32.4 207.6h1.6v1.5h-1.6zM33.8 207.3h1.6v1.5h-1.6zM35.0 207.4h1.6v1.5h-1.6zM36.1 207.7h1.6v1.5h-1.6zM37.7 207.5h1.6v1.5h-1.6zM38.7 207.4h1.6v1.5h-1.6zM40.2 207.4h1.6v1.5h-1.6zM41.2 207.7h1.6v1.5h-1.6zM42.6 207.5h1.6v1.5h-1.6zM43.7 207.6h1.6v1.5h-1.6zM45.0 207.4h1.6v1.5h-1.6zM46.3 207.5h1.6v1.5h-1.6zM47.4 207.4h1.6v1.5h-1.6zM48.8 207.3h1.6v1.5h-1.6zM49.9 207.7h1.6v1.5h-1.6zM51.6 207.3h1.6v1.5h-1.6zM52.8 207.4h1.6v1.5h-1.6zM54.4 207.0h1.6v1.5h-1.6zM54.6 207.2h1.6v1.5h-1.6zM56.7 207.2h1.6v1.5h-1.6zM57.7 208.0h1.6v1.5h-1.6zM58.7 207.3h1.6v1.5h-1.6zM26.3 208.7h1.6v1.5h-1.6zM27.7 208.9h1.6v1.5h-1.6zM28.9 208.9h1.6v1.5h-1.6zM30.2 208.8h1.6v1.5h-1.6zM31.3 208.9h1.6v1.5h-1.6zM32.5 208.8h1.6v1.5h-1.6zM33.8 208.9h1.6v1.5h-1.6zM34.9 208.6h1.6v1.5h-1.6zM36.4 208.7h1.6v1.5h-1.6zM37.4 208.8h1.6v1.5h-1.6zM39.0 208.7h1.6v1.5h-1.6zM40.0 208.6h1.6v1.5h-1.6zM41.1 208.7h1.6v1.5h-1.6zM42.6 208.8h1.6v1.5h-1.6zM43.9 208.9h1.6v1.5h-1.6zM44.9 208.8h1.6v1.5h-1.6zM46.2 208.8h1.6v1.5h-1.6zM47.4 208.6h1.6v1.5h-1.6zM48.7 208.6h1.6v1.5h-1.6zM50.1 208.4h1.6v1.5h-1.6zM50.7 208.2h1.6v1.5h-1.6zM52.4 208.9h1.6v1.5h-1.6zM54.0 208.5h1.6v1.5h-1.6zM54.5 208.6h1.6v1.5h-1.6zM58.1 208.2h1.6v1.5h-1.6zM26.2 210.1h1.6v1.5h-1.6zM27.7 209.9h1.6v1.5h-1.6zM28.9 210.1h1.6v1.5h-1.6zM29.9 209.9h1.6v1.5h-1.6zM31.4 210.0h1.6v1.5h-1.6zM32.7 209.8h1.6v1.5h-1.6zM33.9 210.1h1.6v1.5h-1.6zM35.0 210.0h1.6v1.5h-1.6zM36.4 210.1h1.6v1.5h-1.6zM37.6 210.1h1.6v1.5h-1.6zM38.7 209.9h1.6v1.5h-1.6zM40.2 209.9h1.6v1.5h-1.6zM41.4 210.2h1.6v1.5h-1.6zM42.7 209.9h1.6v1.5h-1.6zM44.0 209.9h1.6v1.5h-1.6zM45.1 209.9h1.6v1.5h-1.6zM46.5 209.9h1.6v1.5h-1.6zM47.7 209.8h1.6v1.5h-1.6zM48.7 209.6h1.6v1.5h-1.6zM50.4 210.4h1.6v1.5h-1.6zM52.3 210.3h1.6v1.5h-1.6zM54.2 209.6h1.6v1.5h-1.6zM54.7 210.5h1.6v1.5h-1.6zM56.9 210.1h1.6v1.5h-1.6zM58.8 210.1h1.6v1.5h-1.6zM26.4 211.3h1.6v1.5h-1.6zM27.6 211.4h1.6v1.5h-1.6zM28.8 211.4h1.6v1.5h-1.6zM30.1 211.3h1.6v1.5h-1.6zM31.4 211.3h1.6v1.5h-1.6zM32.7 211.3h1.6v1.5h-1.6zM33.8 211.2h1.6v1.5h-1.6zM34.9 211.4h1.6v1.5h-1.6zM36.2 211.4h1.6v1.5h-1.6zM37.6 211.4h1.6v1.5h-1.6zM38.7 211.3h1.6v1.5h-1.6zM40.0 211.4h1.6v1.5h-1.6zM41.1 211.4h1.6v1.5h-1.6zM42.5 211.1h1.6v1.5h-1.6zM43.8 211.2h1.6v1.5h-1.6zM44.9 211.2h1.6v1.5h-1.6zM46.4 211.4h1.6v1.5h-1.6zM47.3 211.1h1.6v1.5h-1.6zM49.0 210.8h1.6v1.5h-1.6zM50.0 211.4h1.6v1.5h-1.6zM56.4 210.9h1.6v1.5h-1.6zM26.2 212.6h1.6v1.5h-1.6zM27.4 212.7h1.6v1.5h-1.6zM28.9 212.3h1.6v1.5h-1.6zM30.2 212.6h1.6v1.5h-1.6zM31.5 212.6h1.6v1.5h-1.6zM32.4 212.6h1.6v1.5h-1.6zM34.0 212.5h1.6v1.5h-1.6zM35.0 212.6h1.6v1.5h-1.6zM36.1 212.6h1.6v1.5h-1.6zM37.7 212.5h1.6v1.5h-1.6zM38.9 212.6h1.6v1.5h-1.6zM39.9 212.4h1.6v1.5h-1.6zM41.5 212.3h1.6v1.5h-1.6zM42.4 212.6h1.6v1.5h-1.6zM43.7 212.5h1.6v1.5h-1.6zM45.2 212.6h1.6v1.5h-1.6zM46.1 212.5h1.6v1.5h-1.6zM48.0 212.3h1.6v1.5h-1.6zM48.2 212.6h1.6v1.5h-1.6zM49.8 211.9h1.6v1.5h-1.6zM50.8 212.8h1.6v1.5h-1.6zM65.5 212.9h1.6v1.5h-1.6zM26.2 213.7h1.6v1.5h-1.6zM27.6 213.8h1.6v1.5h-1.6zM29.0 213.6h1.6v1.5h-1.6zM30.0 213.7h1.6v1.5h-1.6zM31.4 213.8h1.6v1.5h-1.6zM34.0 213.6h1.6v1.5h-1.6zM35.0 213.7h1.6v1.5h-1.6zM36.2 213.7h1.6v1.5h-1.6zM37.5 213.6h1.6v1.5h-1.6zM38.9 213.6h1.6v1.5h-1.6zM40.1 213.7h1.6v1.5h-1.6zM41.5 213.8h1.6v1.5h-1.6zM42.7 213.9h1.6v1.5h-1.6zM43.6 213.8h1.6v1.5h-1.6zM44.9 213.7h1.6v1.5h-1.6zM46.7 213.4h1.6v1.5h-1.6zM47.6 213.2h1.6v1.5h-1.6zM48.3 213.6h1.6v1.5h-1.6zM49.8 214.2h1.6v1.5h-1.6zM54.9 213.5h1.6v1.5h-1.6zM26.3 215.1h1.6v1.5h-1.6zM27.4 215.1h1.6v1.5h-1.6zM28.8 215.0h1.6v1.5h-1.6zM31.3 215.0h1.6v1.5h-1.6zM32.4 215.1h1.6v1.5h-1.6zM35.0 215.2h1.6v1.5h-1.6zM36.5 215.0h1.6v1.5h-1.6zM37.7 214.9h1.6v1.5h-1.6zM38.8 214.8h1.6v1.5h-1.6zM40.2 215.0h1.6v1.5h-1.6zM41.2 214.9h1.6v1.5h-1.6zM42.4 214.9h1.6v1.5h-1.6zM44.0 215.1h1.6v1.5h-1.6zM44.6 215.3h1.6v1.5h-1.6zM26.5 216.4h1.6v1.5h-1.6zM27.7 216.4h1.6v1.5h-1.6zM28.8 216.3h1.6v1.5h-1.6zM30.1 216.4h1.6v1.5h-1.6zM31.3 216.4h1.6v1.5h-1.6zM32.5 216.2h1.6v1.5h-1.6zM34.0 216.1h1.6v1.5h-1.6zM35.1 216.2h1.6v1.5h-1.6zM36.1 216.1h1.6v1.5h-1.6zM37.7 216.4h1.6v1.5h-1.6zM38.6 216.1h1.6v1.5h-1.6zM39.9 216.2h1.6v1.5h-1.6zM41.2 216.1h1.6v1.5h-1.6zM42.7 215.9h1.6v1.5h-1.6zM43.2 215.8h1.6v1.5h-1.6zM47.1 216.7h1.6v1.5h-1.6zM48.4 215.9h1.6v1.5h-1.6zM26.2 217.6h1.6v1.5h-1.6zM27.6 217.4h1.6v1.5h-1.6zM28.7 217.6h1.6v1.5h-1.6zM30.0 217.3h1.6v1.5h-1.6zM31.2 217.4h1.6v1.5h-1.6zM32.4 217.5h1.6v1.5h-1.6zM33.7 217.5h1.6v1.5h-1.6zM35.1 217.3h1.6v1.5h-1.6zM36.3 217.5h1.6v1.5h-1.6zM37.7 217.3h1.6v1.5h-1.6zM38.9 217.4h1.6v1.5h-1.6zM40.0 217.6h1.6v1.5h-1.6zM41.4 217.8h1.6v1.5h-1.6zM42.0 218.0h1.6v1.5h-1.6zM43.3 217.2h1.6v1.5h-1.6zM26.4 218.7h1.6v1.5h-1.6zM28.9 218.6h1.6v1.5h-1.6zM30.1 218.6h1.6v1.5h-1.6zM31.2 218.6h1.6v1.5h-1.6zM32.6 218.6h1.6v1.5h-1.6zM33.7 218.9h1.6v1.5h-1.6zM35.0 218.6h1.6v1.5h-1.6zM36.1 218.7h1.6v1.5h-1.6zM37.7 218.6h1.6v1.5h-1.6zM39.1 218.7h1.6v1.5h-1.6zM41.5 219.1h1.6v1.5h-1.6zM42.9 218.7h1.6v1.5h-1.6zM45.2 218.5h1.6v1.5h-1.6zM49.2 218.4h1.6v1.5h-1.6zM35.1 220.1h1.6v1.5h-1.6zM36.4 219.9h1.6v1.5h-1.6zM37.6 220.2h1.6v1.5h-1.6zM40.8 219.7h1.6v1.5h-1.6zM42.3 220.0h1.6v1.5h-1.6zM40.0 221.6h1.6v1.5h-1.6zM41.2 220.7h1.6v1.5h-1.6zM45.4 221.8h1.6v1.5h-1.6z"/>
<path fill="#31688e" d="M26.3 219.4h6.6v1.35h-6.6zM26.3 220.7h11.6v1.35h-11.6zM26.3 221.9h14.1v1.35h-14.1zM26.3 223.2h17.9v1.35h-17.9zM26.3 224.4h19.1v1.35h-19.1zM26.3 225.7h17.9v1.35h-17.9zM26.3 226.9h16.6v1.35h-16.6zM26.3 228.2h16.6v1.35h-16.6zM26.3 229.4h15.3v1.35h-15.3zM26.3 230.7h14.1v1.35h-14.1zM26.3 231.9h12.8v1.35h-12.8zM26.3 233.2h12.8v1.35h-12.8zM26.3 234.4h11.6v1.35h-11.6zM26.3 235.7h10.3v1.35h-10.3zM26.3 236.9h9.1v1.35h-9.1zM26.3 238.2h7.8v1.35h-7.8zM26.3 239.4h6.6v1.35h-6.6zM26.3 240.7h6.6v1.35h-6.6zM26.3 241.9h5.3v1.35h-5.3zM26.3 243.2h4.1v1.35h-4.1zM26.3 244.4h2.9v1.35h-2.9zM44.9 224.1h1.6v1.5h-1.6zM46.8 224.9h1.6v1.5h-1.6zM44.1 225.8h1.6v1.5h-1.6zM45.3 226.2h1.6v1.5h-1.6zM46.2 225.8h1.6v1.5h-1.6zM42.7 226.9h1.6v1.5h-1.6zM42.1 228.6h1.6v1.5h-1.6zM44.3 228.7h1.6v1.5h-1.6zM41.4 229.3h1.6v1.5h-1.6zM43.7 230.1h1.6v1.5h-1.6zM45.4 229.6h1.6v1.5h-1.6zM39.9 230.9h1.6v1.5h-1.6zM41.2 230.4h1.6v1.5h-1.6zM38.7 232.0h1.6v1.5h-1.6zM40.6 232.3h1.6v1.5h-1.6zM43.0 232.0h1.6v1.5h-1.6zM38.8 233.0h1.6v1.5h-1.6zM39.8 233.3h1.6v1.5h-1.6zM41.7 232.8h1.6v1.5h-1.6zM37.5 234.3h1.6v1.5h-1.6zM39.2 234.3h1.6v1.5h-1.6zM37.5 235.6h1.6v1.5h-1.6zM38.6 236.0h1.6v1.5h-1.6zM35.3 237.2h1.6v1.5h-1.6zM35.9 236.7h1.6v1.5h-1.6zM38.8 237.4h1.6v1.5h-1.6zM35.3 238.7h1.6v1.5h-1.6zM35.9 238.0h1.6v1.5h-1.6zM32.5 239.4h1.6v1.5h-1.6zM34.1 239.5h1.6v1.5h-1.6zM33.2 241.1h1.6v1.5h-1.6zM31.7 242.4h1.6v1.5h-1.6zM33.7 241.8h1.6v1.5h-1.6zM35.2 242.3h1.6v1.5h-1.6zM30.2 243.0h1.6v1.5h-1.6zM33.0 243.5h1.6v1.5h-1.6zM29.1 244.6h1.6v1.5h-1.6z"/>
<path fill="#31688e" d="M50.7 223.8h1.8v1.7h-1.8zM50.7 226.7h1.8v1.7h-1.8zM40.8 231.7h1.8v1.7h-1.8zM37.8 235.6h1.8v1.7h-1.8zM33.9 240.6h1.8v1.7h-1.8z"/>
<path fill="#440154" d="M25.5 158.6 L27.1 158.6 L27.1 245.6 L25.5 245.6 Z"/>
<path fill="#35b779" d="M119.6 159.8h1.8v1.7h-1.8zM124.1 159.6h1.8v1.7h-1.8zM140.2 158.7h1.8v1.7h-1.8zM155.8 161.0h1.8v1.7h-1.8zM157.6 164.3h1.8v1.7h-1.8zM95.9 168.8h1.8v1.7h-1.8zM97.7 171.2h1.8v1.7h-1.8z"/></g><rect x="19.6" y="154.8" width="147.00" height="95.10" fill="none" stroke="#a8a8a8" stroke-width="1.1"/>
<line x1="26.90" y1="249.9" x2="26.90" y2="251.50" stroke="#a8a8a8" stroke-width="0.7"/>
<line x1="19.6" y1="245.20" x2="18.00" y2="245.20" stroke="#a8a8a8" stroke-width="0.7"/>
<text x="26.90" y="256.90" class="tk" text-anchor="middle">0.0</text>
<text x="16.80" y="247.10" class="tk" text-anchor="end">0.0</text>
<line x1="53.22" y1="249.9" x2="53.22" y2="251.50" stroke="#a8a8a8" stroke-width="0.7"/>
<line x1="19.6" y1="228.22" x2="18.00" y2="228.22" stroke="#a8a8a8" stroke-width="0.7"/>
<text x="53.22" y="256.90" class="tk" text-anchor="middle">0.2</text>
<text x="16.80" y="230.12" class="tk" text-anchor="end">0.2</text>
<line x1="79.54" y1="249.9" x2="79.54" y2="251.50" stroke="#a8a8a8" stroke-width="0.7"/>
<line x1="19.6" y1="211.24" x2="18.00" y2="211.24" stroke="#a8a8a8" stroke-width="0.7"/>
<text x="79.54" y="256.90" class="tk" text-anchor="middle">0.4</text>
<text x="16.80" y="213.14" class="tk" text-anchor="end">0.4</text>
<line x1="105.86" y1="249.9" x2="105.86" y2="251.50" stroke="#a8a8a8" stroke-width="0.7"/>
<line x1="19.6" y1="194.26" x2="18.00" y2="194.26" stroke="#a8a8a8" stroke-width="0.7"/>
<text x="105.86" y="256.90" class="tk" text-anchor="middle">0.6</text>
<text x="16.80" y="196.16" class="tk" text-anchor="end">0.6</text>
<line x1="132.18" y1="249.9" x2="132.18" y2="251.50" stroke="#a8a8a8" stroke-width="0.7"/>
<line x1="19.6" y1="177.28" x2="18.00" y2="177.28" stroke="#a8a8a8" stroke-width="0.7"/>
<text x="132.18" y="256.90" class="tk" text-anchor="middle">0.8</text>
<text x="16.80" y="179.18" class="tk" text-anchor="end">0.8</text>
<line x1="158.50" y1="249.9" x2="158.50" y2="251.50" stroke="#a8a8a8" stroke-width="0.7"/>
<line x1="19.6" y1="160.30" x2="18.00" y2="160.30" stroke="#a8a8a8" stroke-width="0.7"/>
<text x="158.50" y="256.90" class="tk" text-anchor="middle">1.0</text>
<text x="16.80" y="162.20" class="tk" text-anchor="end">1.0</text>
<text x="93.10" y="262.80" class="al" text-anchor="middle">Component  1</text>
<text transform="translate(6.40,202.35) rotate(-90)" class="al" text-anchor="middle">Component  2</text>
<text x="93.70" y="152.20" class="tt" text-anchor="middle">cluster __ Scatterplot of Canonical Variables</text>
<text x="12.5" y="274.0" class="lb">(<tspan class="lt">e</tspan>)</text><g clip-path="url(#cf)"><path fill="#31688e" d="M197.4 189.7h1.6v1.5h-1.6zM199.9 189.8h1.6v1.5h-1.6zM200.9 190.5h1.6v1.5h-1.6zM203.7 191.9h1.6v1.5h-1.6zM200.3 192.7h1.6v1.5h-1.6zM197.6 194.2h1.6v1.5h-1.6zM199.4 193.6h1.6v1.5h-1.6zM203.4 193.9h1.6v1.5h-1.6zM200.5 195.8h1.6v1.5h-1.6zM203.3 195.3h1.6v1.5h-1.6zM199.2 197.1h1.6v1.5h-1.6zM202.3 196.1h1.6v1.5h-1.6zM198.6 197.9h1.6v1.5h-1.6zM200.0 197.2h1.6v1.5h-1.6zM201.5 198.0h1.6v1.5h-1.6zM203.4 197.7h1.6v1.5h-1.6zM204.8 197.8h1.6v1.5h-1.6zM209.3 197.9h1.6v1.5h-1.6zM199.2 199.4h1.6v1.5h-1.6zM202.6 198.5h1.6v1.5h-1.6zM205.1 198.8h1.6v1.5h-1.6zM206.5 198.5h1.6v1.5h-1.6zM208.7 199.2h1.6v1.5h-1.6zM197.4 200.7h1.6v1.5h-1.6zM198.9 200.6h1.6v1.5h-1.6zM199.8 199.7h1.6v1.5h-1.6zM201.2 199.9h1.6v1.5h-1.6zM202.9 200.2h1.6v1.5h-1.6zM205.0 200.8h1.6v1.5h-1.6zM215.2 200.6h1.6v1.5h-1.6zM201.7 201.7h1.6v1.5h-1.6zM202.4 201.1h1.6v1.5h-1.6zM204.0 201.9h1.6v1.5h-1.6zM205.8 201.0h1.6v1.5h-1.6zM208.8 201.9h1.6v1.5h-1.6zM210.1 201.1h1.6v1.5h-1.6zM197.9 202.9h1.6v1.5h-1.6zM199.0 203.2h1.6v1.5h-1.6zM200.0 202.6h1.6v1.5h-1.6zM200.9 203.1h1.6v1.5h-1.6zM202.7 203.3h1.6v1.5h-1.6zM203.6 203.0h1.6v1.5h-1.6zM205.4 202.3h1.6v1.5h-1.6zM205.9 202.7h1.6v1.5h-1.6zM197.2 204.4h1.6v1.5h-1.6zM198.2 204.2h1.6v1.5h-1.6zM200.2 204.2h1.6v1.5h-1.6zM201.2 204.0h1.6v1.5h-1.6zM202.5 203.7h1.6v1.5h-1.6zM204.3 204.2h1.6v1.5h-1.6zM205.1 204.5h1.6v1.5h-1.6zM206.4 203.6h1.6v1.5h-1.6zM208.1 203.9h1.6v1.5h-1.6zM208.8 203.8h1.6v1.5h-1.6zM197.5 205.1h1.6v1.5h-1.6zM198.9 205.7h1.6v1.5h-1.6zM200.3 205.5h1.6v1.5h-1.6zM201.4 204.9h1.6v1.5h-1.6zM202.6 205.2h1.6v1.5h-1.6zM204.1 204.7h1.6v1.5h-1.6zM207.6 205.6h1.6v1.5h-1.6zM210.5 204.8h1.6v1.5h-1.6zM210.7 205.6h1.6v1.5h-1.6zM214.3 205.0h1.6v1.5h-1.6zM215.1 205.4h1.6v1.5h-1.6zM197.0 206.3h1.6v1.5h-1.6zM198.3 206.0h1.6v1.5h-1.6zM200.2 207.0h1.6v1.5h-1.6zM203.5 206.6h1.6v1.5h-1.6zM205.4 206.1h1.6v1.5h-1.6zM206.7 206.2h1.6v1.5h-1.6zM207.5 205.9h1.6v1.5h-1.6zM210.1 206.7h1.6v1.5h-1.6zM214.6 206.1h1.6v1.5h-1.6zM197.8 207.5h1.6v1.5h-1.6zM198.4 207.5h1.6v1.5h-1.6zM199.7 208.0h1.6v1.5h-1.6zM202.6 208.2h1.6v1.5h-1.6zM204.1 208.1h1.6v1.5h-1.6zM204.8 208.0h1.6v1.5h-1.6zM206.0 208.2h1.6v1.5h-1.6zM207.3 207.8h1.6v1.5h-1.6zM208.4 207.6h1.6v1.5h-1.6zM209.8 208.3h1.6v1.5h-1.6zM213.2 207.5h1.6v1.5h-1.6zM197.6 208.8h1.6v1.5h-1.6zM198.7 208.8h1.6v1.5h-1.6zM200.1 209.1h1.6v1.5h-1.6zM202.7 209.0h1.6v1.5h-1.6zM203.7 208.7h1.6v1.5h-1.6zM204.8 209.1h1.6v1.5h-1.6zM206.9 209.2h1.6v1.5h-1.6zM211.8 209.1h1.6v1.5h-1.6zM212.2 209.6h1.6v1.5h-1.6zM213.5 209.1h1.6v1.5h-1.6zM217.5 209.5h1.6v1.5h-1.6zM197.2 210.0h1.6v1.5h-1.6zM198.6 210.4h1.6v1.5h-1.6zM199.9 210.1h1.6v1.5h-1.6zM201.4 210.5h1.6v1.5h-1.6zM202.2 210.0h1.6v1.5h-1.6zM203.5 210.0h1.6v1.5h-1.6zM204.8 210.2h1.6v1.5h-1.6zM205.9 210.5h1.6v1.5h-1.6zM207.1 210.3h1.6v1.5h-1.6zM208.9 210.5h1.6v1.5h-1.6zM218.0 210.8h1.6v1.5h-1.6zM197.6 211.7h1.6v1.5h-1.6zM198.5 211.4h1.6v1.5h-1.6zM199.7 211.7h1.6v1.5h-1.6zM201.2 211.5h1.6v1.5h-1.6zM202.5 211.7h1.6v1.5h-1.6zM204.0 211.5h1.6v1.5h-1.6zM204.8 211.3h1.6v1.5h-1.6zM206.2 211.8h1.6v1.5h-1.6zM207.3 211.3h1.6v1.5h-1.6zM209.0 211.5h1.6v1.5h-1.6zM209.4 211.1h1.6v1.5h-1.6zM211.3 211.8h1.6v1.5h-1.6zM212.4 212.1h1.6v1.5h-1.6zM215.0 210.9h1.6v1.5h-1.6zM197.5 212.7h1.6v1.5h-1.6zM198.8 212.6h1.6v1.5h-1.6zM200.1 212.9h1.6v1.5h-1.6zM201.2 212.6h1.6v1.5h-1.6zM202.7 212.7h1.6v1.5h-1.6zM203.7 212.6h1.6v1.5h-1.6zM204.7 212.9h1.6v1.5h-1.6zM206.3 212.7h1.6v1.5h-1.6zM207.6 212.5h1.6v1.5h-1.6zM208.3 213.2h1.6v1.5h-1.6zM211.5 213.1h1.6v1.5h-1.6zM212.7 212.8h1.6v1.5h-1.6zM214.3 212.4h1.6v1.5h-1.6zM197.7 214.1h1.6v1.5h-1.6zM198.6 214.1h1.6v1.5h-1.6zM200.0 214.1h1.6v1.5h-1.6zM201.1 214.0h1.6v1.5h-1.6zM202.6 214.2h1.6v1.5h-1.6zM203.8 214.0h1.6v1.5h-1.6zM205.0 213.8h1.6v1.5h-1.6zM206.2 214.0h1.6v1.5h-1.6zM207.3 214.0h1.6v1.5h-1.6zM209.5 214.3h1.6v1.5h-1.6zM212.5 214.6h1.6v1.5h-1.6zM213.9 214.4h1.6v1.5h-1.6zM214.9 213.5h1.6v1.5h-1.6zM215.9 214.3h1.6v1.5h-1.6zM198.9 215.2h1.6v1.5h-1.6zM199.8 215.1h1.6v1.5h-1.6zM201.2 215.2h1.6v1.5h-1.6zM202.4 215.4h1.6v1.5h-1.6zM203.6 215.1h1.6v1.5h-1.6zM205.2 215.3h1.6v1.5h-1.6zM206.3 215.4h1.6v1.5h-1.6zM207.7 215.2h1.6v1.5h-1.6zM208.7 215.1h1.6v1.5h-1.6zM209.4 215.5h1.6v1.5h-1.6zM211.5 215.4h1.6v1.5h-1.6zM214.9 215.3h1.6v1.5h-1.6zM219.6 214.8h1.6v1.5h-1.6zM229.8 215.0h1.6v1.5h-1.6zM197.7 216.7h1.6v1.5h-1.6zM198.7 216.3h1.6v1.5h-1.6zM200.1 216.5h1.6v1.5h-1.6zM201.1 216.4h1.6v1.5h-1.6zM202.4 216.6h1.6v1.5h-1.6zM203.9 216.7h1.6v1.5h-1.6zM204.9 216.5h1.6v1.5h-1.6zM206.2 216.5h1.6v1.5h-1.6zM207.4 216.6h1.6v1.5h-1.6zM208.5 216.7h1.6v1.5h-1.6zM210.1 216.0h1.6v1.5h-1.6zM211.2 216.4h1.6v1.5h-1.6zM212.1 216.0h1.6v1.5h-1.6zM213.7 215.9h1.6v1.5h-1.6zM224.0 216.2h1.6v1.5h-1.6zM197.6 217.7h1.6v1.5h-1.6zM198.7 217.9h1.6v1.5h-1.6zM199.9 217.6h1.6v1.5h-1.6zM201.3 217.9h1.6v1.5h-1.6zM202.4 217.8h1.6v1.5h-1.6zM203.7 217.9h1.6v1.5h-1.6zM204.9 217.9h1.6v1.5h-1.6zM206.3 217.9h1.6v1.5h-1.6zM207.3 217.8h1.6v1.5h-1.6zM208.8 217.5h1.6v1.5h-1.6zM210.3 217.8h1.6v1.5h-1.6zM211.7 217.2h1.6v1.5h-1.6zM212.6 218.2h1.6v1.5h-1.6zM217.1 217.9h1.6v1.5h-1.6zM223.2 218.1h1.6v1.5h-1.6zM197.6 219.1h1.6v1.5h-1.6zM198.6 218.9h1.6v1.5h-1.6zM199.9 218.8h1.6v1.5h-1.6zM201.1 219.1h1.6v1.5h-1.6zM202.6 219.2h1.6v1.5h-1.6zM203.9 219.1h1.6v1.5h-1.6zM204.8 218.9h1.6v1.5h-1.6zM206.3 219.2h1.6v1.5h-1.6zM207.6 219.0h1.6v1.5h-1.6zM208.7 219.3h1.6v1.5h-1.6zM209.5 219.4h1.6v1.5h-1.6zM212.6 218.6h1.6v1.5h-1.6zM214.1 219.2h1.6v1.5h-1.6zM218.9 219.3h1.6v1.5h-1.6zM225.3 219.4h1.6v1.5h-1.6zM197.7 220.1h1.6v1.5h-1.6zM198.7 220.2h1.6v1.5h-1.6zM200.0 220.1h1.6v1.5h-1.6zM201.1 220.3h1.6v1.5h-1.6zM202.5 220.1h1.6v1.5h-1.6zM203.8 220.2h1.6v1.5h-1.6zM205.2 220.1h1.6v1.5h-1.6zM206.2 220.4h1.6v1.5h-1.6zM207.6 220.2h1.6v1.5h-1.6zM209.0 220.3h1.6v1.5h-1.6zM209.9 220.0h1.6v1.5h-1.6zM212.6 220.4h1.6v1.5h-1.6zM213.7 220.7h1.6v1.5h-1.6zM221.1 220.2h1.6v1.5h-1.6zM197.4 221.6h1.6v1.5h-1.6zM198.9 221.5h1.6v1.5h-1.6zM201.2 221.5h1.6v1.5h-1.6zM202.4 221.4h1.6v1.5h-1.6zM203.8 221.6h1.6v1.5h-1.6zM204.8 221.4h1.6v1.5h-1.6zM206.4 221.6h1.6v1.5h-1.6zM207.6 221.3h1.6v1.5h-1.6zM208.8 221.4h1.6v1.5h-1.6zM209.5 221.1h1.6v1.5h-1.6zM211.7 221.1h1.6v1.5h-1.6zM213.0 221.7h1.6v1.5h-1.6zM213.6 221.6h1.6v1.5h-1.6zM215.3 221.8h1.6v1.5h-1.6zM228.7 221.5h1.6v1.5h-1.6zM197.5 222.6h1.6v1.5h-1.6zM200.2 222.8h1.6v1.5h-1.6zM201.2 222.7h1.6v1.5h-1.6zM202.3 222.7h1.6v1.5h-1.6zM203.7 222.9h1.6v1.5h-1.6zM205.1 222.8h1.6v1.5h-1.6zM206.1 222.8h1.6v1.5h-1.6zM207.6 222.6h1.6v1.5h-1.6zM209.0 222.7h1.6v1.5h-1.6zM210.3 222.5h1.6v1.5h-1.6zM211.2 223.2h1.6v1.5h-1.6zM212.1 223.0h1.6v1.5h-1.6zM214.6 223.3h1.6v1.5h-1.6zM216.6 222.8h1.6v1.5h-1.6zM217.2 223.2h1.6v1.5h-1.6zM197.4 223.9h1.6v1.5h-1.6zM198.9 224.1h1.6v1.5h-1.6zM200.0 224.0h1.6v1.5h-1.6zM201.1 224.0h1.6v1.5h-1.6zM202.5 224.1h1.6v1.5h-1.6zM203.9 224.0h1.6v1.5h-1.6zM205.2 224.1h1.6v1.5h-1.6zM206.4 224.1h1.6v1.5h-1.6zM207.4 224.0h1.6v1.5h-1.6zM208.9 223.8h1.6v1.5h-1.6zM210.2 223.9h1.6v1.5h-1.6zM211.5 224.4h1.6v1.5h-1.6zM212.1 223.6h1.6v1.5h-1.6zM214.1 224.2h1.6v1.5h-1.6zM219.0 224.6h1.6v1.5h-1.6zM228.2 223.4h1.6v1.5h-1.6zM197.5 225.3h1.6v1.5h-1.6zM198.9 225.2h1.6v1.5h-1.6zM200.1 225.3h1.6v1.5h-1.6zM201.4 225.4h1.6v1.5h-1.6zM202.4 225.4h1.6v1.5h-1.6zM203.7 225.3h1.6v1.5h-1.6zM204.8 225.3h1.6v1.5h-1.6zM206.2 225.1h1.6v1.5h-1.6zM207.5 225.2h1.6v1.5h-1.6zM209.7 225.3h1.6v1.5h-1.6zM211.7 224.9h1.6v1.5h-1.6zM212.7 225.6h1.6v1.5h-1.6zM213.9 225.9h1.6v1.5h-1.6zM215.6 225.8h1.6v1.5h-1.6zM220.5 224.7h1.6v1.5h-1.6zM222.6 225.2h1.6v1.5h-1.6zM232.6 225.8h1.6v1.5h-1.6zM197.3 226.6h1.6v1.5h-1.6zM198.9 226.4h1.6v1.5h-1.6zM200.2 226.5h1.6v1.5h-1.6zM201.4 226.7h1.6v1.5h-1.6zM202.3 226.4h1.6v1.5h-1.6zM203.6 226.3h1.6v1.5h-1.6zM204.9 226.4h1.6v1.5h-1.6zM206.4 226.6h1.6v1.5h-1.6zM207.5 226.5h1.6v1.5h-1.6zM208.9 226.5h1.6v1.5h-1.6zM210.2 226.8h1.6v1.5h-1.6zM211.6 225.9h1.6v1.5h-1.6zM212.7 226.9h1.6v1.5h-1.6zM215.2 226.9h1.6v1.5h-1.6zM216.3 226.7h1.6v1.5h-1.6zM219.6 226.3h1.6v1.5h-1.6zM197.6 227.8h1.6v1.5h-1.6zM198.6 227.9h1.6v1.5h-1.6zM200.1 227.9h1.6v1.5h-1.6zM201.3 227.8h1.6v1.5h-1.6zM202.6 227.7h1.6v1.5h-1.6zM203.8 227.6h1.6v1.5h-1.6zM204.8 227.9h1.6v1.5h-1.6zM206.1 227.8h1.6v1.5h-1.6zM207.3 227.7h1.6v1.5h-1.6zM208.5 227.6h1.6v1.5h-1.6zM210.3 228.0h1.6v1.5h-1.6zM211.3 227.6h1.6v1.5h-1.6zM212.4 227.4h1.6v1.5h-1.6zM222.3 227.3h1.6v1.5h-1.6zM197.5 229.1h1.6v1.5h-1.6zM198.6 229.0h1.6v1.5h-1.6zM200.2 229.2h1.6v1.5h-1.6zM201.2 228.9h1.6v1.5h-1.6zM202.4 228.9h1.6v1.5h-1.6zM203.9 228.8h1.6v1.5h-1.6zM205.1 229.2h1.6v1.5h-1.6zM206.2 229.0h1.6v1.5h-1.6zM207.3 228.8h1.6v1.5h-1.6zM208.8 228.9h1.6v1.5h-1.6zM210.5 228.9h1.6v1.5h-1.6zM211.1 229.0h1.6v1.5h-1.6zM214.3 229.1h1.6v1.5h-1.6zM214.9 228.6h1.6v1.5h-1.6zM197.5 230.1h1.6v1.5h-1.6zM198.9 230.1h1.6v1.5h-1.6zM199.9 230.4h1.6v1.5h-1.6zM201.4 230.1h1.6v1.5h-1.6zM202.7 230.3h1.6v1.5h-1.6zM203.7 230.2h1.6v1.5h-1.6zM205.0 230.1h1.6v1.5h-1.6zM206.3 230.4h1.6v1.5h-1.6zM207.4 230.3h1.6v1.5h-1.6zM209.0 230.0h1.6v1.5h-1.6zM210.4 230.5h1.6v1.5h-1.6zM212.2 230.5h1.6v1.5h-1.6zM215.1 230.8h1.6v1.5h-1.6zM217.4 229.7h1.6v1.5h-1.6zM220.4 229.9h1.6v1.5h-1.6zM221.9 230.1h1.6v1.5h-1.6zM197.3 231.4h1.6v1.5h-1.6zM198.6 231.4h1.6v1.5h-1.6zM200.1 231.3h1.6v1.5h-1.6zM201.1 231.3h1.6v1.5h-1.6zM202.3 231.5h1.6v1.5h-1.6zM203.6 231.5h1.6v1.5h-1.6zM206.4 231.4h1.6v1.5h-1.6zM207.5 231.6h1.6v1.5h-1.6zM208.8 231.6h1.6v1.5h-1.6zM210.0 231.7h1.6v1.5h-1.6zM211.2 231.1h1.6v1.5h-1.6zM214.8 231.5h1.6v1.5h-1.6zM216.5 231.8h1.6v1.5h-1.6zM217.5 232.0h1.6v1.5h-1.6zM221.0 232.0h1.6v1.5h-1.6zM197.6 232.6h1.6v1.5h-1.6zM198.7 232.7h1.6v1.5h-1.6zM200.2 232.7h1.6v1.5h-1.6zM201.1 232.9h1.6v1.5h-1.6zM202.6 232.8h1.6v1.5h-1.6zM203.7 232.9h1.6v1.5h-1.6zM204.8 232.7h1.6v1.5h-1.6zM206.2 232.7h1.6v1.5h-1.6zM207.4 232.6h1.6v1.5h-1.6zM209.0 232.5h1.6v1.5h-1.6zM210.5 232.9h1.6v1.5h-1.6zM210.9 233.2h1.6v1.5h-1.6zM213.3 233.1h1.6v1.5h-1.6zM215.2 233.3h1.6v1.5h-1.6zM197.6 234.1h1.6v1.5h-1.6zM198.7 234.0h1.6v1.5h-1.6zM200.1 234.1h1.6v1.5h-1.6zM201.2 233.9h1.6v1.5h-1.6zM202.6 233.9h1.6v1.5h-1.6zM203.8 234.0h1.6v1.5h-1.6zM205.0 234.2h1.6v1.5h-1.6zM206.3 234.0h1.6v1.5h-1.6zM207.6 234.1h1.6v1.5h-1.6zM208.9 234.2h1.6v1.5h-1.6zM209.8 234.4h1.6v1.5h-1.6zM211.6 234.4h1.6v1.5h-1.6zM213.2 233.5h1.6v1.5h-1.6zM215.7 233.7h1.6v1.5h-1.6zM220.9 234.0h1.6v1.5h-1.6zM226.1 233.8h1.6v1.5h-1.6zM197.5 235.3h1.6v1.5h-1.6zM198.6 235.2h1.6v1.5h-1.6zM200.0 235.3h1.6v1.5h-1.6zM201.2 235.4h1.6v1.5h-1.6zM202.6 235.4h1.6v1.5h-1.6zM203.7 235.4h1.6v1.5h-1.6zM205.0 235.2h1.6v1.5h-1.6zM206.2 235.4h1.6v1.5h-1.6zM207.3 235.3h1.6v1.5h-1.6zM208.8 235.1h1.6v1.5h-1.6zM213.0 234.8h1.6v1.5h-1.6zM214.5 235.3h1.6v1.5h-1.6zM198.9 236.4h1.6v1.5h-1.6zM200.1 236.6h1.6v1.5h-1.6zM201.2 236.4h1.6v1.5h-1.6zM202.6 236.5h1.6v1.5h-1.6zM203.7 236.6h1.6v1.5h-1.6zM205.1 236.6h1.6v1.5h-1.6zM206.3 236.4h1.6v1.5h-1.6zM208.9 236.6h1.6v1.5h-1.6zM209.9 236.5h1.6v1.5h-1.6zM211.1 237.1h1.6v1.5h-1.6zM215.1 236.3h1.6v1.5h-1.6zM223.8 236.5h1.6v1.5h-1.6zM224.4 236.6h1.6v1.5h-1.6zM197.4 237.9h1.6v1.5h-1.6zM198.9 237.8h1.6v1.5h-1.6zM199.8 237.8h1.6v1.5h-1.6zM201.3 237.9h1.6v1.5h-1.6zM202.4 237.9h1.6v1.5h-1.6zM203.9 237.9h1.6v1.5h-1.6zM205.0 237.6h1.6v1.5h-1.6zM206.4 237.9h1.6v1.5h-1.6zM207.5 237.9h1.6v1.5h-1.6zM208.7 237.7h1.6v1.5h-1.6zM209.5 237.5h1.6v1.5h-1.6zM210.9 237.8h1.6v1.5h-1.6zM214.8 238.3h1.6v1.5h-1.6zM216.4 237.3h1.6v1.5h-1.6zM217.9 237.9h1.6v1.5h-1.6zM197.5 239.0h1.6v1.5h-1.6zM198.9 239.1h1.6v1.5h-1.6zM200.1 239.2h1.6v1.5h-1.6zM201.3 238.9h1.6v1.5h-1.6zM202.7 238.8h1.6v1.5h-1.6zM203.6 239.1h1.6v1.5h-1.6zM204.9 239.2h1.6v1.5h-1.6zM206.3 239.0h1.6v1.5h-1.6zM207.4 239.2h1.6v1.5h-1.6zM208.6 238.8h1.6v1.5h-1.6zM211.9 238.5h1.6v1.5h-1.6zM213.7 239.5h1.6v1.5h-1.6zM218.1 239.2h1.6v1.5h-1.6zM222.0 238.9h1.6v1.5h-1.6z"/>
<path fill="#35b779" d="M197.5 225.7h12.8v1.35h-12.8zM197.5 226.9h12.8v1.35h-12.8zM197.5 228.2h12.8v1.35h-12.8zM197.5 229.4h12.8v1.35h-12.8zM197.5 230.7h12.8v1.35h-12.8zM197.5 231.9h12.8v1.35h-12.8zM197.5 233.2h12.8v1.35h-12.8zM197.5 234.4h12.8v1.35h-12.8zM197.5 235.7h12.8v1.35h-12.8zM197.5 236.9h12.8v1.35h-12.8zM197.5 238.2h12.8v1.35h-12.8zM197.5 239.4h12.8v1.35h-12.8zM202.6 223.4h1.6v1.5h-1.6zM209.3 223.6h1.6v1.5h-1.6zM211.5 222.9h1.6v1.5h-1.6zM219.3 223.0h1.6v1.5h-1.6zM224.6 223.8h1.6v1.5h-1.6zM200.1 224.9h1.6v1.5h-1.6zM204.2 223.9h1.6v1.5h-1.6zM207.3 224.5h1.6v1.5h-1.6zM209.8 224.1h1.6v1.5h-1.6zM211.0 225.1h1.6v1.5h-1.6zM210.2 225.8h1.6v1.5h-1.6zM211.4 226.0h1.6v1.5h-1.6zM211.9 225.9h1.6v1.5h-1.6zM213.3 226.0h1.6v1.5h-1.6zM216.8 225.5h1.6v1.5h-1.6zM209.8 226.9h1.6v1.5h-1.6zM211.3 227.0h1.6v1.5h-1.6zM212.8 226.9h1.6v1.5h-1.6zM214.2 226.8h1.6v1.5h-1.6zM214.6 226.8h1.6v1.5h-1.6zM215.9 227.2h1.6v1.5h-1.6zM218.4 226.7h1.6v1.5h-1.6zM209.9 228.2h1.6v1.5h-1.6zM212.9 228.0h1.6v1.5h-1.6zM214.1 227.7h1.6v1.5h-1.6zM214.5 228.1h1.6v1.5h-1.6zM216.7 227.8h1.6v1.5h-1.6zM217.8 228.2h1.6v1.5h-1.6zM210.1 229.6h1.6v1.5h-1.6zM211.3 229.4h1.6v1.5h-1.6zM211.9 229.5h1.6v1.5h-1.6zM213.9 229.4h1.6v1.5h-1.6zM214.8 229.3h1.6v1.5h-1.6zM217.9 229.8h1.6v1.5h-1.6zM210.0 230.9h1.6v1.5h-1.6zM212.3 230.4h1.6v1.5h-1.6zM214.2 230.4h1.6v1.5h-1.6zM215.3 231.0h1.6v1.5h-1.6zM218.1 230.4h1.6v1.5h-1.6zM226.9 230.5h1.6v1.5h-1.6zM209.9 231.8h1.6v1.5h-1.6zM211.6 231.7h1.6v1.5h-1.6zM216.6 231.8h1.6v1.5h-1.6zM210.1 233.4h1.6v1.5h-1.6zM211.4 233.1h1.6v1.5h-1.6zM212.7 233.0h1.6v1.5h-1.6zM214.1 233.0h1.6v1.5h-1.6zM214.9 232.7h1.6v1.5h-1.6zM218.5 233.8h1.6v1.5h-1.6zM209.8 234.4h1.6v1.5h-1.6zM211.3 234.1h1.6v1.5h-1.6zM212.0 234.3h1.6v1.5h-1.6zM213.9 234.6h1.6v1.5h-1.6zM215.3 234.6h1.6v1.5h-1.6zM225.2 235.0h1.6v1.5h-1.6zM209.9 235.8h1.6v1.5h-1.6zM212.3 236.2h1.6v1.5h-1.6zM216.0 235.5h1.6v1.5h-1.6zM218.6 235.8h1.6v1.5h-1.6zM220.6 235.3h1.6v1.5h-1.6zM210.9 236.8h1.6v1.5h-1.6zM213.0 236.6h1.6v1.5h-1.6zM217.3 236.8h1.6v1.5h-1.6zM218.9 236.5h1.6v1.5h-1.6zM222.1 237.3h1.6v1.5h-1.6zM210.1 238.2h1.6v1.5h-1.6zM211.6 237.9h1.6v1.5h-1.6zM215.1 237.7h1.6v1.5h-1.6zM217.0 238.9h1.6v1.5h-1.6zM218.6 238.2h1.6v1.5h-1.6zM219.8 237.7h1.6v1.5h-1.6zM210.0 239.7h1.6v1.5h-1.6zM211.5 239.3h1.6v1.5h-1.6zM212.9 239.8h1.6v1.5h-1.6zM217.8 240.0h1.6v1.5h-1.6zM228.1 240.0h1.6v1.5h-1.6z"/>
<path fill="#440154" d="M197.5 238.9h14.1v1.35h-14.1zM197.5 240.2h14.1v1.35h-14.1zM197.5 241.4h14.1v1.35h-14.1zM197.5 242.7h14.1v1.35h-14.1zM197.5 243.9h14.1v1.35h-14.1zM197.5 245.2h14.1v1.35h-14.1zM198.6 237.3h1.6v1.5h-1.6zM199.6 237.3h1.6v1.5h-1.6zM200.7 237.8h1.6v1.5h-1.6zM205.8 237.5h1.6v1.5h-1.6zM212.1 237.6h1.6v1.5h-1.6zM211.0 239.3h1.6v1.5h-1.6zM213.3 239.0h1.6v1.5h-1.6zM219.1 238.7h1.6v1.5h-1.6zM219.8 238.8h1.6v1.5h-1.6zM211.4 240.5h1.6v1.5h-1.6zM212.6 240.7h1.6v1.5h-1.6zM211.1 241.3h1.6v1.5h-1.6zM213.9 241.3h1.6v1.5h-1.6zM214.4 241.3h1.6v1.5h-1.6zM216.2 241.2h1.6v1.5h-1.6zM211.2 243.0h1.6v1.5h-1.6zM212.1 243.1h1.6v1.5h-1.6zM213.3 242.8h1.6v1.5h-1.6zM211.4 243.8h1.6v1.5h-1.6zM212.4 244.6h1.6v1.5h-1.6zM214.0 244.5h1.6v1.5h-1.6zM214.9 243.8h1.6v1.5h-1.6zM211.5 245.3h1.6v1.5h-1.6zM212.3 245.7h1.6v1.5h-1.6zM214.4 245.8h1.6v1.5h-1.6z"/>
<path fill="#fde725" d="M204.9 239.8h1.6v1.5h-1.6zM206.6 239.5h1.6v1.5h-1.6zM203.5 241.0h1.6v1.5h-1.6zM204.9 240.2h1.6v1.5h-1.6zM202.6 241.2h1.6v1.5h-1.6zM197.8 242.7h1.6v1.5h-1.6zM198.5 243.3h1.6v1.5h-1.6zM201.5 243.1h1.6v1.5h-1.6zM202.7 243.5h1.6v1.5h-1.6zM197.3 244.4h1.6v1.5h-1.6zM198.5 244.2h1.6v1.5h-1.6zM199.6 244.2h1.6v1.5h-1.6zM200.9 244.5h1.6v1.5h-1.6zM197.5 245.6h1.6v1.5h-1.6zM198.4 245.6h1.6v1.5h-1.6zM200.2 245.7h1.6v1.5h-1.6zM201.2 245.1h1.6v1.5h-1.6z"/>
<path fill="#31688e" d="M218.0 160.2h1.8v1.7h-1.8zM205.5 167.0h1.8v1.7h-1.8zM205.5 178.6h1.8v1.7h-1.8zM210.5 181.7h1.8v1.7h-1.8zM225.2 180.3h1.8v1.7h-1.8zM223.0 184.5h1.8v1.7h-1.8zM204.9 187.2h1.8v1.7h-1.8zM199.1 189.2h1.8v1.7h-1.8zM202.1 191.2h1.8v1.7h-1.8zM207.1 190.2h1.8v1.7h-1.8zM226.0 199.6h1.8v1.7h-1.8zM225.6 213.6h1.8v1.7h-1.8zM258.1 213.6h1.8v1.7h-1.8zM229.3 220.7h1.8v1.7h-1.8zM224.5 223.5h1.8v1.7h-1.8zM230.1 226.6h1.8v1.7h-1.8zM230.6 232.3h1.8v1.7h-1.8zM300.9 233.6h1.8v1.7h-1.8zM229.9 220.2h1.8v1.7h-1.8zM230.6 226.3h1.8v1.7h-1.8zM226.5 208.2h1.8v1.7h-1.8zM219.1 204.2h1.8v1.7h-1.8zM217.1 212.2h1.8v1.7h-1.8z"/>
<path fill="#35b779" d="M240.0 228.1h1.8v1.7h-1.8zM234.9 230.8h1.8v1.7h-1.8zM247.1 232.3h1.8v1.7h-1.8zM224.5 230.8h1.8v1.7h-1.8zM224.5 235.2h1.8v1.7h-1.8zM228.8 236.5h1.8v1.7h-1.8zM223.9 230.8h1.8v1.7h-1.8zM235.2 230.8h1.8v1.7h-1.8zM228.6 236.1h1.8v1.7h-1.8z"/>
<path fill="#440154" d="M235.7 241.2h1.8v1.7h-1.8zM244.2 242.5h1.8v1.7h-1.8zM252.1 241.2h1.8v1.7h-1.8zM265.1 244.0h1.8v1.7h-1.8zM225.6 244.8h1.8v1.7h-1.8zM240.5 244.8h1.8v1.7h-1.8zM248.0 244.8h1.8v1.7h-1.8zM329.9 243.8h1.8v1.7h-1.8zM235.9 240.7h1.8v1.7h-1.8zM241.2 245.0h1.8v1.7h-1.8z"/></g><rect x="191.5" y="156.1" width="146.60" height="94.90" fill="none" stroke="#a8a8a8" stroke-width="1.1"/>
<line x1="198.60" y1="251.0" x2="198.60" y2="252.60" stroke="#a8a8a8" stroke-width="0.7"/>
<line x1="191.5" y1="246.50" x2="189.90" y2="246.50" stroke="#a8a8a8" stroke-width="0.7"/>
<text x="198.60" y="258.00" class="tk" text-anchor="middle">0.0</text>
<text x="188.70" y="248.40" class="tk" text-anchor="end">0.0</text>
<line x1="225.04" y1="251.0" x2="225.04" y2="252.60" stroke="#a8a8a8" stroke-width="0.7"/>
<line x1="191.5" y1="229.42" x2="189.90" y2="229.42" stroke="#a8a8a8" stroke-width="0.7"/>
<text x="225.04" y="258.00" class="tk" text-anchor="middle">0.2</text>
<text x="188.70" y="231.32" class="tk" text-anchor="end">0.2</text>
<line x1="251.48" y1="251.0" x2="251.48" y2="252.60" stroke="#a8a8a8" stroke-width="0.7"/>
<line x1="191.5" y1="212.34" x2="189.90" y2="212.34" stroke="#a8a8a8" stroke-width="0.7"/>
<text x="251.48" y="258.00" class="tk" text-anchor="middle">0.4</text>
<text x="188.70" y="214.24" class="tk" text-anchor="end">0.4</text>
<line x1="277.92" y1="251.0" x2="277.92" y2="252.60" stroke="#a8a8a8" stroke-width="0.7"/>
<line x1="191.5" y1="195.26" x2="189.90" y2="195.26" stroke="#a8a8a8" stroke-width="0.7"/>
<text x="277.92" y="258.00" class="tk" text-anchor="middle">0.6</text>
<text x="188.70" y="197.16" class="tk" text-anchor="end">0.6</text>
<line x1="304.36" y1="251.0" x2="304.36" y2="252.60" stroke="#a8a8a8" stroke-width="0.7"/>
<line x1="191.5" y1="178.18" x2="189.90" y2="178.18" stroke="#a8a8a8" stroke-width="0.7"/>
<text x="304.36" y="258.00" class="tk" text-anchor="middle">0.8</text>
<text x="188.70" y="180.08" class="tk" text-anchor="end">0.8</text>
<line x1="330.80" y1="251.0" x2="330.80" y2="252.60" stroke="#a8a8a8" stroke-width="0.7"/>
<line x1="191.5" y1="161.10" x2="189.90" y2="161.10" stroke="#a8a8a8" stroke-width="0.7"/>
<text x="330.80" y="258.00" class="tk" text-anchor="middle">1.0</text>
<text x="188.70" y="163.00" class="tk" text-anchor="end">1.0</text>
<text x="264.80" y="263.90" class="al" text-anchor="middle">Component  1</text>
<text transform="translate(178.30,203.55) rotate(-90)" class="al" text-anchor="middle">Component  2</text>
<text x="265.40" y="153.50" class="tt" text-anchor="middle">cluster __ Scatterplot of Canonical Variables</text>
<text x="188.3" y="276.0" class="lb">(<tspan class="lt">f</tspan>)</text><g clip-path="url(#cg)"><path fill="#440154" d="M370.4 242.5h6.0v1.20h-6.0zM370.4 243.6h6.0v1.20h-6.0zM370.4 244.7h6.0v1.20h-6.0zM370.4 245.8h6.0v1.20h-6.0zM370.4 246.9h6.0v1.20h-6.0zM370.1 240.9h1.6v1.5h-1.6zM372.5 240.3h1.6v1.5h-1.6zM373.9 240.2h1.6v1.5h-1.6zM374.7 240.1h1.6v1.5h-1.6zM371.9 241.3h1.6v1.5h-1.6z"/>
<path fill="#31688e" d="M376.8 237.3h1.6v1.5h-1.6zM378.3 240.5h1.6v1.5h-1.6zM383.6 241.0h1.6v1.5h-1.6zM384.1 241.0h1.6v1.5h-1.6zM376.4 241.3h1.6v1.5h-1.6zM385.0 241.9h1.6v1.5h-1.6zM374.6 242.8h1.6v1.5h-1.6zM375.4 242.6h1.6v1.5h-1.6zM376.9 242.6h1.6v1.5h-1.6zM377.6 242.7h1.6v1.5h-1.6zM378.8 243.0h1.6v1.5h-1.6zM380.0 242.6h1.6v1.5h-1.6zM381.2 242.7h1.6v1.5h-1.6zM382.3 242.6h1.6v1.5h-1.6zM383.4 243.0h1.6v1.5h-1.6zM384.4 243.0h1.6v1.5h-1.6zM374.3 243.8h1.6v1.5h-1.6zM375.6 243.8h1.6v1.5h-1.6zM377.7 243.8h1.6v1.5h-1.6zM379.0 244.0h1.6v1.5h-1.6zM380.2 244.0h1.6v1.5h-1.6zM381.0 243.7h1.6v1.5h-1.6zM382.4 244.0h1.6v1.5h-1.6zM383.4 244.0h1.6v1.5h-1.6zM384.2 243.7h1.6v1.5h-1.6zM385.6 244.0h1.6v1.5h-1.6zM375.6 245.1h1.6v1.5h-1.6zM376.6 245.0h1.6v1.5h-1.6zM377.8 245.1h1.6v1.5h-1.6zM378.9 244.9h1.6v1.5h-1.6zM379.8 245.0h1.6v1.5h-1.6zM380.9 244.9h1.6v1.5h-1.6zM382.0 245.1h1.6v1.5h-1.6zM383.3 244.9h1.6v1.5h-1.6zM384.6 245.1h1.6v1.5h-1.6zM385.4 245.1h1.6v1.5h-1.6zM374.6 246.1h1.6v1.5h-1.6zM375.5 246.2h1.6v1.5h-1.6zM376.9 245.9h1.6v1.5h-1.6zM377.8 246.0h1.6v1.5h-1.6zM379.0 245.8h1.6v1.5h-1.6zM379.9 246.2h1.6v1.5h-1.6zM381.3 246.2h1.6v1.5h-1.6zM382.3 246.1h1.6v1.5h-1.6zM383.2 246.1h1.6v1.5h-1.6zM384.3 246.0h1.6v1.5h-1.6zM385.4 246.0h1.6v1.5h-1.6z"/>
<path fill="#35b779" d="M399.0 236.6h1.6v1.5h-1.6zM422.0 239.5h1.6v1.5h-1.6zM425.4 240.1h1.6v1.5h-1.6zM408.8 240.6h1.6v1.5h-1.6zM410.5 240.4h1.6v1.5h-1.6zM447.2 241.1h1.6v1.5h-1.6zM414.0 241.8h1.6v1.5h-1.6zM427.8 242.1h1.6v1.5h-1.6zM428.7 241.9h1.6v1.5h-1.6zM398.8 243.0h1.6v1.5h-1.6zM402.5 242.8h1.6v1.5h-1.6zM404.0 243.0h1.6v1.5h-1.6zM404.9 243.1h1.6v1.5h-1.6zM407.2 243.1h1.6v1.5h-1.6zM408.1 243.2h1.6v1.5h-1.6zM410.3 242.7h1.6v1.5h-1.6zM411.8 243.1h1.6v1.5h-1.6zM412.4 243.2h1.6v1.5h-1.6zM414.8 243.0h1.6v1.5h-1.6zM415.8 242.9h1.6v1.5h-1.6zM416.9 242.7h1.6v1.5h-1.6zM419.5 243.1h1.6v1.5h-1.6zM420.4 243.0h1.6v1.5h-1.6zM421.5 243.1h1.6v1.5h-1.6zM422.5 243.3h1.6v1.5h-1.6zM423.7 242.9h1.6v1.5h-1.6zM425.0 242.8h1.6v1.5h-1.6zM425.6 243.0h1.6v1.5h-1.6zM426.7 243.0h1.6v1.5h-1.6zM428.0 243.2h1.6v1.5h-1.6zM429.1 243.0h1.6v1.5h-1.6zM430.2 242.6h1.6v1.5h-1.6zM431.3 242.8h1.6v1.5h-1.6zM432.7 242.6h1.6v1.5h-1.6zM434.7 243.4h1.6v1.5h-1.6zM436.2 243.3h1.6v1.5h-1.6zM397.1 243.7h1.6v1.5h-1.6zM398.5 244.1h1.6v1.5h-1.6zM399.5 244.3h1.6v1.5h-1.6zM400.5 243.7h1.6v1.5h-1.6zM401.3 243.8h1.6v1.5h-1.6zM402.9 244.0h1.6v1.5h-1.6zM403.6 244.1h1.6v1.5h-1.6zM405.1 244.0h1.6v1.5h-1.6zM406.3 243.9h1.6v1.5h-1.6zM407.2 244.1h1.6v1.5h-1.6zM408.2 244.0h1.6v1.5h-1.6zM409.1 244.1h1.6v1.5h-1.6zM410.4 243.9h1.6v1.5h-1.6zM411.7 243.8h1.6v1.5h-1.6zM412.5 244.2h1.6v1.5h-1.6zM413.7 243.9h1.6v1.5h-1.6zM414.5 244.1h1.6v1.5h-1.6zM416.0 244.0h1.6v1.5h-1.6zM416.9 243.9h1.6v1.5h-1.6zM418.1 244.2h1.6v1.5h-1.6zM419.2 244.0h1.6v1.5h-1.6zM420.3 244.4h1.6v1.5h-1.6zM421.7 244.4h1.6v1.5h-1.6zM422.6 244.3h1.6v1.5h-1.6zM423.9 244.2h1.6v1.5h-1.6zM424.5 244.1h1.6v1.5h-1.6zM425.9 243.9h1.6v1.5h-1.6zM426.8 243.9h1.6v1.5h-1.6zM428.3 243.9h1.6v1.5h-1.6zM429.3 244.2h1.6v1.5h-1.6zM431.3 244.1h1.6v1.5h-1.6zM432.1 243.9h1.6v1.5h-1.6zM433.2 244.1h1.6v1.5h-1.6zM434.4 244.0h1.6v1.5h-1.6zM436.0 244.2h1.6v1.5h-1.6zM437.1 244.3h1.6v1.5h-1.6zM437.7 243.7h1.6v1.5h-1.6zM438.7 244.3h1.6v1.5h-1.6zM440.3 244.1h1.6v1.5h-1.6zM443.3 244.6h1.6v1.5h-1.6zM397.5 244.9h1.6v1.5h-1.6zM399.4 245.4h1.6v1.5h-1.6zM400.4 245.1h1.6v1.5h-1.6zM401.7 245.4h1.6v1.5h-1.6zM402.6 244.9h1.6v1.5h-1.6zM403.5 245.1h1.6v1.5h-1.6zM404.7 245.5h1.6v1.5h-1.6zM406.3 245.5h1.6v1.5h-1.6zM407.4 245.3h1.6v1.5h-1.6zM408.3 245.0h1.6v1.5h-1.6zM409.6 245.0h1.6v1.5h-1.6zM410.6 244.8h1.6v1.5h-1.6zM411.8 244.9h1.6v1.5h-1.6zM412.5 245.3h1.6v1.5h-1.6zM413.7 245.4h1.6v1.5h-1.6zM414.8 245.2h1.6v1.5h-1.6zM417.1 245.0h1.6v1.5h-1.6zM417.9 244.8h1.6v1.5h-1.6zM419.3 245.4h1.6v1.5h-1.6zM420.5 245.0h1.6v1.5h-1.6zM421.3 245.1h1.6v1.5h-1.6zM422.6 244.9h1.6v1.5h-1.6zM425.5 245.0h1.6v1.5h-1.6zM426.7 245.3h1.6v1.5h-1.6zM428.1 244.9h1.6v1.5h-1.6zM428.9 245.1h1.6v1.5h-1.6zM430.3 245.4h1.6v1.5h-1.6zM431.3 244.9h1.6v1.5h-1.6zM432.4 245.4h1.6v1.5h-1.6zM433.4 244.8h1.6v1.5h-1.6zM434.5 245.3h1.6v1.5h-1.6zM435.6 245.2h1.6v1.5h-1.6zM438.1 244.8h1.6v1.5h-1.6zM439.0 245.2h1.6v1.5h-1.6zM439.9 245.2h1.6v1.5h-1.6zM440.7 244.9h1.6v1.5h-1.6zM442.3 244.9h1.6v1.5h-1.6zM444.6 245.2h1.6v1.5h-1.6zM446.7 245.3h1.6v1.5h-1.6zM449.3 244.9h1.6v1.5h-1.6zM397.1 246.2h1.6v1.5h-1.6zM398.5 246.5h1.6v1.5h-1.6zM399.6 246.5h1.6v1.5h-1.6zM400.6 246.6h1.6v1.5h-1.6zM401.4 246.0h1.6v1.5h-1.6zM402.8 246.0h1.6v1.5h-1.6zM403.5 246.5h1.6v1.5h-1.6zM405.2 246.4h1.6v1.5h-1.6zM406.0 246.0h1.6v1.5h-1.6zM407.4 246.0h1.6v1.5h-1.6zM408.2 246.3h1.6v1.5h-1.6zM409.2 246.1h1.6v1.5h-1.6zM410.6 246.4h1.6v1.5h-1.6zM411.4 246.5h1.6v1.5h-1.6zM412.4 246.1h1.6v1.5h-1.6zM413.7 246.2h1.6v1.5h-1.6zM414.9 246.1h1.6v1.5h-1.6zM416.0 246.1h1.6v1.5h-1.6zM417.2 246.5h1.6v1.5h-1.6zM418.0 246.1h1.6v1.5h-1.6zM418.9 246.5h1.6v1.5h-1.6zM420.3 246.0h1.6v1.5h-1.6zM421.2 246.4h1.6v1.5h-1.6zM424.9 246.3h1.6v1.5h-1.6zM425.5 246.4h1.6v1.5h-1.6zM426.6 246.5h1.6v1.5h-1.6zM427.7 246.3h1.6v1.5h-1.6zM429.0 246.0h1.6v1.5h-1.6zM430.5 246.1h1.6v1.5h-1.6zM431.1 246.3h1.6v1.5h-1.6zM432.2 246.5h1.6v1.5h-1.6zM433.5 246.5h1.6v1.5h-1.6zM437.1 246.4h1.6v1.5h-1.6zM438.1 246.5h1.6v1.5h-1.6zM439.1 246.3h1.6v1.5h-1.6zM439.8 246.0h1.6v1.5h-1.6zM441.3 246.8h1.6v1.5h-1.6zM445.0 245.8h1.6v1.5h-1.6zM447.0 245.8h1.6v1.5h-1.6z"/>
<path fill="#fde725" d="M392.7 234.7h1.6v1.5h-1.6zM391.8 236.3h1.6v1.5h-1.6zM398.8 236.9h1.6v1.5h-1.6zM399.5 236.5h1.6v1.5h-1.6zM398.1 238.4h1.6v1.5h-1.6zM399.7 237.4h1.6v1.5h-1.6zM400.6 237.9h1.6v1.5h-1.6zM402.8 237.4h1.6v1.5h-1.6zM388.1 239.3h1.6v1.5h-1.6zM389.8 239.3h1.6v1.5h-1.6zM391.2 239.0h1.6v1.5h-1.6zM392.5 238.7h1.6v1.5h-1.6zM392.8 239.2h1.6v1.5h-1.6zM404.6 238.6h1.6v1.5h-1.6zM386.3 240.1h1.6v1.5h-1.6zM387.9 240.1h1.6v1.5h-1.6zM388.8 240.0h1.6v1.5h-1.6zM390.0 240.1h1.6v1.5h-1.6zM391.1 240.2h1.6v1.5h-1.6zM392.1 240.0h1.6v1.5h-1.6zM393.3 239.9h1.6v1.5h-1.6zM394.4 240.1h1.6v1.5h-1.6zM395.8 239.8h1.6v1.5h-1.6zM398.4 239.7h1.6v1.5h-1.6zM384.3 241.0h1.6v1.5h-1.6zM385.6 241.3h1.6v1.5h-1.6zM386.6 241.1h1.6v1.5h-1.6zM387.8 241.1h1.6v1.5h-1.6zM388.8 241.3h1.6v1.5h-1.6zM390.0 241.3h1.6v1.5h-1.6zM391.1 241.0h1.6v1.5h-1.6zM392.1 241.3h1.6v1.5h-1.6zM393.2 241.0h1.6v1.5h-1.6zM394.4 241.2h1.6v1.5h-1.6zM395.5 241.0h1.6v1.5h-1.6zM396.6 241.2h1.6v1.5h-1.6zM397.3 240.7h1.6v1.5h-1.6zM384.4 242.4h1.6v1.5h-1.6zM385.6 242.4h1.6v1.5h-1.6zM386.6 242.1h1.6v1.5h-1.6zM387.6 242.4h1.6v1.5h-1.6zM389.0 242.4h1.6v1.5h-1.6zM389.9 242.3h1.6v1.5h-1.6zM391.3 242.2h1.6v1.5h-1.6zM392.3 242.3h1.6v1.5h-1.6zM393.4 242.1h1.6v1.5h-1.6zM394.3 242.2h1.6v1.5h-1.6zM395.7 242.4h1.6v1.5h-1.6zM396.4 242.3h1.6v1.5h-1.6zM397.8 242.2h1.6v1.5h-1.6zM398.6 242.4h1.6v1.5h-1.6zM399.9 242.3h1.6v1.5h-1.6zM401.4 242.6h1.6v1.5h-1.6zM384.6 243.5h1.6v1.5h-1.6zM385.5 243.4h1.6v1.5h-1.6zM386.7 243.4h1.6v1.5h-1.6zM387.7 243.3h1.6v1.5h-1.6zM388.9 243.5h1.6v1.5h-1.6zM389.8 243.3h1.6v1.5h-1.6zM391.1 243.3h1.6v1.5h-1.6zM392.1 243.2h1.6v1.5h-1.6zM393.3 243.4h1.6v1.5h-1.6zM394.3 243.4h1.6v1.5h-1.6zM395.5 243.4h1.6v1.5h-1.6zM396.7 243.2h1.6v1.5h-1.6zM398.7 243.3h1.6v1.5h-1.6zM399.8 243.3h1.6v1.5h-1.6zM400.9 243.5h1.6v1.5h-1.6zM402.3 243.6h1.6v1.5h-1.6zM403.6 243.8h1.6v1.5h-1.6zM406.5 243.8h1.6v1.5h-1.6zM412.1 243.8h1.6v1.5h-1.6zM384.4 244.4h1.6v1.5h-1.6zM385.7 244.3h1.6v1.5h-1.6zM386.6 244.3h1.6v1.5h-1.6zM387.8 244.3h1.6v1.5h-1.6zM389.0 244.5h1.6v1.5h-1.6zM390.1 244.5h1.6v1.5h-1.6zM391.3 244.6h1.6v1.5h-1.6zM392.3 244.6h1.6v1.5h-1.6zM393.3 244.4h1.6v1.5h-1.6zM394.4 244.6h1.6v1.5h-1.6zM395.4 244.4h1.6v1.5h-1.6zM396.5 244.4h1.6v1.5h-1.6zM397.6 244.6h1.6v1.5h-1.6zM398.9 244.4h1.6v1.5h-1.6zM399.8 244.5h1.6v1.5h-1.6zM401.1 244.5h1.6v1.5h-1.6zM402.0 244.2h1.6v1.5h-1.6zM403.3 244.6h1.6v1.5h-1.6zM405.4 244.3h1.6v1.5h-1.6zM407.0 244.3h1.6v1.5h-1.6zM384.6 245.4h1.6v1.5h-1.6zM385.7 245.6h1.6v1.5h-1.6zM386.7 245.6h1.6v1.5h-1.6zM387.8 245.7h1.6v1.5h-1.6zM388.8 245.7h1.6v1.5h-1.6zM391.2 245.5h1.6v1.5h-1.6zM392.2 245.7h1.6v1.5h-1.6zM394.5 245.4h1.6v1.5h-1.6zM395.5 245.5h1.6v1.5h-1.6zM396.6 245.7h1.6v1.5h-1.6zM397.6 245.6h1.6v1.5h-1.6zM398.8 245.4h1.6v1.5h-1.6zM399.9 245.5h1.6v1.5h-1.6zM400.8 245.3h1.6v1.5h-1.6zM401.7 245.4h1.6v1.5h-1.6zM404.0 245.2h1.6v1.5h-1.6zM405.5 245.4h1.6v1.5h-1.6zM406.9 245.2h1.6v1.5h-1.6zM408.9 245.4h1.6v1.5h-1.6zM419.1 245.7h1.6v1.5h-1.6zM384.7 246.6h1.6v1.5h-1.6zM385.7 246.8h1.6v1.5h-1.6zM386.7 246.8h1.6v1.5h-1.6zM387.8 246.7h1.6v1.5h-1.6zM389.0 246.8h1.6v1.5h-1.6zM390.1 246.6h1.6v1.5h-1.6zM391.1 246.6h1.6v1.5h-1.6zM392.3 246.8h1.6v1.5h-1.6zM393.3 246.6h1.6v1.5h-1.6zM394.3 246.7h1.6v1.5h-1.6zM395.5 246.8h1.6v1.5h-1.6zM396.8 246.7h1.6v1.5h-1.6zM397.6 246.8h1.6v1.5h-1.6zM398.9 246.6h1.6v1.5h-1.6zM402.5 246.4h1.6v1.5h-1.6zM403.6 246.7h1.6v1.5h-1.6zM405.4 246.6h1.6v1.5h-1.6zM409.2 246.6h1.6v1.5h-1.6z"/>
<path fill="#440154" d="M371.4 237.3h1.8v1.7h-1.8zM372.7 238.5h1.8v1.7h-1.8z"/>
<path fill="#31688e" d="M376.2 215.6h1.8v1.7h-1.8zM379.9 237.3h1.8v1.7h-1.8zM384.6 234.6h1.8v1.7h-1.8zM377.1 235.7h1.8v1.7h-1.8zM382.1 236.7h1.8v1.7h-1.8z"/>
<path fill="#fde725" d="M381.8 229.8h1.8v1.7h-1.8zM386.1 233.1h1.8v1.7h-1.8zM407.9 235.5h1.8v1.7h-1.8zM402.8 237.7h1.8v1.7h-1.8zM387.4 235.5h1.8v1.7h-1.8zM375.3 236.3h1.8v1.7h-1.8zM390.1 233.2h1.8v1.7h-1.8zM395.1 235.2h1.8v1.7h-1.8z"/>
<path fill="#35b779" d="M418.1 203.2h1.8v1.7h-1.8zM404.1 221.5h1.8v1.7h-1.8zM405.1 223.3h1.8v1.7h-1.8zM393.5 227.7h1.8v1.7h-1.8zM409.4 230.8h1.8v1.7h-1.8zM415.3 231.2h1.8v1.7h-1.8zM410.7 235.5h1.8v1.7h-1.8zM414.0 235.5h1.8v1.7h-1.8zM409.7 238.2h1.8v1.7h-1.8zM415.3 238.2h1.8v1.7h-1.8zM436.5 196.5h1.8v1.7h-1.8zM414.8 195.5h1.8v1.7h-1.8zM424.7 218.6h1.8v1.7h-1.8zM414.8 231.2h1.8v1.7h-1.8zM423.3 235.8h1.8v1.7h-1.8zM425.7 240.1h1.8v1.7h-1.8zM429.9 240.1h1.8v1.7h-1.8zM432.3 237.3h1.8v1.7h-1.8zM453.1 245.7h1.8v1.7h-1.8zM462.0 245.7h1.8v1.7h-1.8zM466.9 245.7h1.8v1.7h-1.8zM469.5 245.7h1.8v1.7h-1.8zM474.1 245.7h1.8v1.7h-1.8zM485.1 245.7h1.8v1.7h-1.8zM490.7 245.7h1.8v1.7h-1.8zM502.5 245.7h1.8v1.7h-1.8zM402.9 161.1h1.8v1.7h-1.8zM417.4 204.0h1.8v1.7h-1.8z"/></g><rect x="365.4" y="157.4" width="145.90" height="94.20" fill="none" stroke="#a8a8a8" stroke-width="1.1"/>
<line x1="372.00" y1="251.6" x2="372.00" y2="253.20" stroke="#a8a8a8" stroke-width="0.7"/>
<line x1="365.4" y1="247.00" x2="363.80" y2="247.00" stroke="#a8a8a8" stroke-width="0.7"/>
<text x="372.00" y="258.60" class="tk" text-anchor="middle">0.0</text>
<text x="362.60" y="248.90" class="tk" text-anchor="end">0.0</text>
<line x1="398.40" y1="251.6" x2="398.40" y2="253.20" stroke="#a8a8a8" stroke-width="0.7"/>
<line x1="365.4" y1="230.08" x2="363.80" y2="230.08" stroke="#a8a8a8" stroke-width="0.7"/>
<text x="398.40" y="258.60" class="tk" text-anchor="middle">0.2</text>
<text x="362.60" y="231.98" class="tk" text-anchor="end">0.2</text>
<line x1="424.80" y1="251.6" x2="424.80" y2="253.20" stroke="#a8a8a8" stroke-width="0.7"/>
<line x1="365.4" y1="213.16" x2="363.80" y2="213.16" stroke="#a8a8a8" stroke-width="0.7"/>
<text x="424.80" y="258.60" class="tk" text-anchor="middle">0.4</text>
<text x="362.60" y="215.06" class="tk" text-anchor="end">0.4</text>
<line x1="451.20" y1="251.6" x2="451.20" y2="253.20" stroke="#a8a8a8" stroke-width="0.7"/>
<line x1="365.4" y1="196.24" x2="363.80" y2="196.24" stroke="#a8a8a8" stroke-width="0.7"/>
<text x="451.20" y="258.60" class="tk" text-anchor="middle">0.6</text>
<text x="362.60" y="198.14" class="tk" text-anchor="end">0.6</text>
<line x1="477.60" y1="251.6" x2="477.60" y2="253.20" stroke="#a8a8a8" stroke-width="0.7"/>
<line x1="365.4" y1="179.32" x2="363.80" y2="179.32" stroke="#a8a8a8" stroke-width="0.7"/>
<text x="477.60" y="258.60" class="tk" text-anchor="middle">0.8</text>
<text x="362.60" y="181.22" class="tk" text-anchor="end">0.8</text>
<line x1="504.00" y1="251.6" x2="504.00" y2="253.20" stroke="#a8a8a8" stroke-width="0.7"/>
<line x1="365.4" y1="162.40" x2="363.80" y2="162.40" stroke="#a8a8a8" stroke-width="0.7"/>
<text x="504.00" y="258.60" class="tk" text-anchor="middle">1.0</text>
<text x="362.60" y="164.30" class="tk" text-anchor="end">1.0</text>
<text x="438.35" y="264.50" class="al" text-anchor="middle">Component  1</text>
<text transform="translate(352.20,204.50) rotate(-90)" class="al" text-anchor="middle">Component  2</text>
<text x="438.95" y="154.80" class="tt" text-anchor="middle">cluster __ Scatterplot of Canonical Variables</text>
<text x="366.8" y="275.5" class="lb">(<tspan class="lt">g</tspan>)</text><g clip-path="url(#ch)"><path fill="#fde725" d="M598.0 217.7h1.6v1.5h-1.6zM551.9 217.9h1.6v1.5h-1.6zM576.1 218.1h1.6v1.5h-1.6zM556.5 219.3h1.6v1.5h-1.6zM581.7 220.3h1.6v1.5h-1.6zM603.6 220.1h1.6v1.5h-1.6zM553.1 220.7h1.6v1.5h-1.6zM566.7 221.3h1.6v1.5h-1.6zM569.4 220.7h1.6v1.5h-1.6zM596.4 220.8h1.6v1.5h-1.6zM550.2 221.6h1.6v1.5h-1.6zM575.8 221.7h1.6v1.5h-1.6zM550.1 223.9h1.6v1.5h-1.6zM569.9 222.9h1.6v1.5h-1.6zM615.2 223.3h1.6v1.5h-1.6zM547.1 225.1h1.6v1.5h-1.6zM564.4 225.3h1.6v1.5h-1.6zM567.5 224.9h1.6v1.5h-1.6zM573.9 225.3h1.6v1.5h-1.6zM578.4 224.9h1.6v1.5h-1.6zM580.6 224.9h1.6v1.5h-1.6zM583.1 225.4h1.6v1.5h-1.6zM590.2 224.7h1.6v1.5h-1.6zM613.1 225.3h1.6v1.5h-1.6zM568.6 225.9h1.6v1.5h-1.6zM569.8 226.1h1.6v1.5h-1.6zM573.0 226.4h1.6v1.5h-1.6zM576.5 226.2h1.6v1.5h-1.6zM589.4 226.5h1.6v1.5h-1.6zM595.6 225.9h1.6v1.5h-1.6zM598.8 226.4h1.6v1.5h-1.6zM547.5 226.7h1.6v1.5h-1.6zM552.6 227.4h1.6v1.5h-1.6zM553.5 226.8h1.6v1.5h-1.6zM558.8 227.1h1.6v1.5h-1.6zM560.9 227.6h1.6v1.5h-1.6zM564.2 227.5h1.6v1.5h-1.6zM586.6 227.1h1.6v1.5h-1.6zM592.4 226.6h1.6v1.5h-1.6zM547.5 228.3h1.6v1.5h-1.6zM553.2 227.9h1.6v1.5h-1.6zM562.4 228.1h1.6v1.5h-1.6zM563.7 227.9h1.6v1.5h-1.6zM575.2 228.5h1.6v1.5h-1.6zM595.0 228.7h1.6v1.5h-1.6zM547.3 229.9h1.6v1.5h-1.6zM557.7 230.2h1.6v1.5h-1.6zM558.0 230.2h1.6v1.5h-1.6zM565.4 230.3h1.6v1.5h-1.6zM567.0 229.2h1.6v1.5h-1.6zM574.2 230.0h1.6v1.5h-1.6zM578.7 229.8h1.6v1.5h-1.6zM580.9 230.2h1.6v1.5h-1.6zM587.8 230.1h1.6v1.5h-1.6zM594.1 229.7h1.6v1.5h-1.6zM596.3 229.9h1.6v1.5h-1.6zM610.5 229.8h1.6v1.5h-1.6zM612.4 230.3h1.6v1.5h-1.6zM615.0 229.2h1.6v1.5h-1.6zM546.6 231.3h1.6v1.5h-1.6zM550.8 230.6h1.6v1.5h-1.6zM554.8 231.5h1.6v1.5h-1.6zM557.8 230.6h1.6v1.5h-1.6zM559.9 230.9h1.6v1.5h-1.6zM562.2 231.5h1.6v1.5h-1.6zM564.2 231.6h1.6v1.5h-1.6zM569.2 231.1h1.6v1.5h-1.6zM571.0 231.3h1.6v1.5h-1.6zM579.1 230.6h1.6v1.5h-1.6zM581.1 231.3h1.6v1.5h-1.6zM582.7 231.4h1.6v1.5h-1.6zM586.0 230.5h1.6v1.5h-1.6zM588.1 231.2h1.6v1.5h-1.6zM595.4 230.5h1.6v1.5h-1.6zM604.5 230.5h1.6v1.5h-1.6zM606.2 230.6h1.6v1.5h-1.6zM607.4 231.4h1.6v1.5h-1.6zM608.7 231.6h1.6v1.5h-1.6zM610.0 231.2h1.6v1.5h-1.6zM617.7 231.5h1.6v1.5h-1.6zM547.2 232.9h1.6v1.5h-1.6zM549.0 232.5h1.6v1.5h-1.6zM549.3 232.3h1.6v1.5h-1.6zM550.5 232.4h1.6v1.5h-1.6zM552.3 231.7h1.6v1.5h-1.6zM553.7 232.1h1.6v1.5h-1.6zM558.1 232.7h1.6v1.5h-1.6zM559.8 232.4h1.6v1.5h-1.6zM561.3 232.4h1.6v1.5h-1.6zM562.5 232.3h1.6v1.5h-1.6zM563.3 232.3h1.6v1.5h-1.6zM565.3 231.8h1.6v1.5h-1.6zM567.4 232.6h1.6v1.5h-1.6zM568.0 232.7h1.6v1.5h-1.6zM573.2 231.7h1.6v1.5h-1.6zM576.6 232.6h1.6v1.5h-1.6zM578.9 232.5h1.6v1.5h-1.6zM580.8 232.6h1.6v1.5h-1.6zM582.2 232.9h1.6v1.5h-1.6zM587.8 232.8h1.6v1.5h-1.6zM589.9 232.6h1.6v1.5h-1.6zM590.9 232.8h1.6v1.5h-1.6zM599.2 232.2h1.6v1.5h-1.6zM605.1 232.0h1.6v1.5h-1.6zM608.9 232.8h1.6v1.5h-1.6zM612.6 232.5h1.6v1.5h-1.6zM613.0 232.6h1.6v1.5h-1.6zM547.5 233.5h1.6v1.5h-1.6zM548.3 233.4h1.6v1.5h-1.6zM549.7 233.7h1.6v1.5h-1.6zM550.7 233.3h1.6v1.5h-1.6zM552.3 233.5h1.6v1.5h-1.6zM553.6 233.5h1.6v1.5h-1.6zM554.5 233.5h1.6v1.5h-1.6zM556.1 233.8h1.6v1.5h-1.6zM557.3 233.6h1.6v1.5h-1.6zM558.3 233.3h1.6v1.5h-1.6zM560.0 233.8h1.6v1.5h-1.6zM560.7 233.5h1.6v1.5h-1.6zM562.0 233.8h1.6v1.5h-1.6zM563.6 233.2h1.6v1.5h-1.6zM564.9 233.7h1.6v1.5h-1.6zM567.4 233.8h1.6v1.5h-1.6zM568.3 233.7h1.6v1.5h-1.6zM569.6 233.3h1.6v1.5h-1.6zM571.1 233.2h1.6v1.5h-1.6zM572.2 233.3h1.6v1.5h-1.6zM573.2 233.3h1.6v1.5h-1.6zM574.6 233.3h1.6v1.5h-1.6zM575.9 233.8h1.6v1.5h-1.6zM577.0 233.7h1.6v1.5h-1.6zM578.6 233.6h1.6v1.5h-1.6zM579.9 233.5h1.6v1.5h-1.6zM580.7 233.7h1.6v1.5h-1.6zM582.5 233.4h1.6v1.5h-1.6zM583.4 233.7h1.6v1.5h-1.6zM584.4 233.5h1.6v1.5h-1.6zM585.8 233.3h1.6v1.5h-1.6zM587.1 233.7h1.6v1.5h-1.6zM588.7 233.7h1.6v1.5h-1.6zM589.8 233.6h1.6v1.5h-1.6zM591.0 233.8h1.6v1.5h-1.6zM592.5 233.3h1.6v1.5h-1.6zM594.7 233.3h1.6v1.5h-1.6zM596.0 233.5h1.6v1.5h-1.6zM597.1 233.5h1.6v1.5h-1.6zM598.3 233.6h1.6v1.5h-1.6zM599.7 233.6h1.6v1.5h-1.6zM603.3 233.6h1.6v1.5h-1.6zM610.1 233.1h1.6v1.5h-1.6zM610.7 233.7h1.6v1.5h-1.6zM611.8 234.1h1.6v1.5h-1.6zM547.2 234.6h1.6v1.5h-1.6zM548.6 235.0h1.6v1.5h-1.6zM549.5 234.9h1.6v1.5h-1.6zM551.2 234.6h1.6v1.5h-1.6zM552.5 235.0h1.6v1.5h-1.6zM554.7 234.7h1.6v1.5h-1.6zM557.0 234.9h1.6v1.5h-1.6zM558.2 234.5h1.6v1.5h-1.6zM561.0 234.7h1.6v1.5h-1.6zM562.3 234.5h1.6v1.5h-1.6zM563.4 235.0h1.6v1.5h-1.6zM565.8 234.7h1.6v1.5h-1.6zM567.4 235.0h1.6v1.5h-1.6zM568.7 234.5h1.6v1.5h-1.6zM569.9 234.5h1.6v1.5h-1.6zM571.1 234.9h1.6v1.5h-1.6zM572.0 234.8h1.6v1.5h-1.6zM573.7 234.5h1.6v1.5h-1.6zM576.2 234.9h1.6v1.5h-1.6zM577.1 234.9h1.6v1.5h-1.6zM579.8 234.6h1.6v1.5h-1.6zM580.9 234.5h1.6v1.5h-1.6zM582.0 234.8h1.6v1.5h-1.6zM583.2 234.9h1.6v1.5h-1.6zM584.7 234.7h1.6v1.5h-1.6zM586.1 234.9h1.6v1.5h-1.6zM587.3 234.9h1.6v1.5h-1.6zM588.2 234.8h1.6v1.5h-1.6zM589.5 234.5h1.6v1.5h-1.6zM591.1 234.9h1.6v1.5h-1.6zM592.0 234.9h1.6v1.5h-1.6zM593.6 235.0h1.6v1.5h-1.6zM594.8 234.9h1.6v1.5h-1.6zM595.7 234.7h1.6v1.5h-1.6zM597.1 235.0h1.6v1.5h-1.6zM598.4 234.9h1.6v1.5h-1.6zM599.6 234.5h1.6v1.5h-1.6zM601.0 234.7h1.6v1.5h-1.6zM602.4 235.0h1.6v1.5h-1.6zM603.4 234.9h1.6v1.5h-1.6zM604.6 234.7h1.6v1.5h-1.6zM605.7 234.8h1.6v1.5h-1.6zM607.3 234.7h1.6v1.5h-1.6zM609.0 234.5h1.6v1.5h-1.6zM613.7 234.7h1.6v1.5h-1.6zM627.3 235.1h1.6v1.5h-1.6zM547.3 236.3h1.6v1.5h-1.6zM548.5 235.8h1.6v1.5h-1.6zM549.8 236.2h1.6v1.5h-1.6zM550.9 235.7h1.6v1.5h-1.6zM552.5 235.8h1.6v1.5h-1.6zM553.6 236.0h1.6v1.5h-1.6zM554.9 235.7h1.6v1.5h-1.6zM558.2 236.2h1.6v1.5h-1.6zM560.9 236.1h1.6v1.5h-1.6zM562.2 236.3h1.6v1.5h-1.6zM563.7 236.1h1.6v1.5h-1.6zM564.4 235.8h1.6v1.5h-1.6zM566.1 236.1h1.6v1.5h-1.6zM567.3 235.9h1.6v1.5h-1.6zM568.4 235.9h1.6v1.5h-1.6zM569.6 236.1h1.6v1.5h-1.6zM572.4 236.3h1.6v1.5h-1.6zM573.4 235.7h1.6v1.5h-1.6zM574.6 236.0h1.6v1.5h-1.6zM575.8 235.7h1.6v1.5h-1.6zM577.2 236.0h1.6v1.5h-1.6zM578.2 235.8h1.6v1.5h-1.6zM579.5 235.8h1.6v1.5h-1.6zM580.8 236.2h1.6v1.5h-1.6zM582.5 236.3h1.6v1.5h-1.6zM583.5 236.2h1.6v1.5h-1.6zM584.8 235.7h1.6v1.5h-1.6zM586.1 236.1h1.6v1.5h-1.6zM587.3 235.9h1.6v1.5h-1.6zM588.6 236.1h1.6v1.5h-1.6zM589.9 236.0h1.6v1.5h-1.6zM591.0 236.0h1.6v1.5h-1.6zM592.3 236.2h1.6v1.5h-1.6zM593.2 235.9h1.6v1.5h-1.6zM594.8 236.3h1.6v1.5h-1.6zM596.1 236.3h1.6v1.5h-1.6zM597.0 236.2h1.6v1.5h-1.6zM598.2 236.1h1.6v1.5h-1.6zM599.7 235.8h1.6v1.5h-1.6zM600.7 235.8h1.6v1.5h-1.6zM601.9 236.3h1.6v1.5h-1.6zM603.7 236.0h1.6v1.5h-1.6zM604.7 235.9h1.6v1.5h-1.6zM606.2 235.8h1.6v1.5h-1.6zM607.0 235.7h1.6v1.5h-1.6zM608.2 235.8h1.6v1.5h-1.6zM609.9 236.1h1.6v1.5h-1.6zM611.1 236.0h1.6v1.5h-1.6zM612.3 236.3h1.6v1.5h-1.6zM615.4 235.4h1.6v1.5h-1.6zM547.1 237.2h1.6v1.5h-1.6zM549.4 237.3h1.6v1.5h-1.6zM550.8 237.4h1.6v1.5h-1.6zM552.2 237.4h1.6v1.5h-1.6zM553.4 237.0h1.6v1.5h-1.6zM554.7 237.4h1.6v1.5h-1.6zM555.9 237.1h1.6v1.5h-1.6zM557.1 237.0h1.6v1.5h-1.6zM558.7 237.3h1.6v1.5h-1.6zM559.5 237.5h1.6v1.5h-1.6zM560.9 237.0h1.6v1.5h-1.6zM563.7 237.1h1.6v1.5h-1.6zM564.8 237.4h1.6v1.5h-1.6zM565.8 237.1h1.6v1.5h-1.6zM567.3 237.0h1.6v1.5h-1.6zM568.5 237.2h1.6v1.5h-1.6zM569.9 237.5h1.6v1.5h-1.6zM571.1 237.1h1.6v1.5h-1.6zM572.4 237.3h1.6v1.5h-1.6zM573.7 237.3h1.6v1.5h-1.6zM574.7 237.3h1.6v1.5h-1.6zM576.0 237.0h1.6v1.5h-1.6zM576.9 237.1h1.6v1.5h-1.6zM578.3 237.5h1.6v1.5h-1.6zM579.4 237.2h1.6v1.5h-1.6zM580.9 237.5h1.6v1.5h-1.6zM582.4 237.3h1.6v1.5h-1.6zM583.3 237.1h1.6v1.5h-1.6zM585.8 237.0h1.6v1.5h-1.6zM587.3 237.4h1.6v1.5h-1.6zM588.4 237.4h1.6v1.5h-1.6zM589.9 237.5h1.6v1.5h-1.6zM592.4 237.3h1.6v1.5h-1.6zM593.4 237.5h1.6v1.5h-1.6zM594.8 237.3h1.6v1.5h-1.6zM595.7 237.0h1.6v1.5h-1.6zM597.5 237.1h1.6v1.5h-1.6zM598.5 237.2h1.6v1.5h-1.6zM599.9 237.2h1.6v1.5h-1.6zM600.8 237.4h1.6v1.5h-1.6zM602.0 237.0h1.6v1.5h-1.6zM603.6 237.3h1.6v1.5h-1.6zM604.8 237.5h1.6v1.5h-1.6zM606.1 237.4h1.6v1.5h-1.6zM607.5 237.3h1.6v1.5h-1.6zM608.5 237.5h1.6v1.5h-1.6zM609.6 237.3h1.6v1.5h-1.6zM611.2 237.1h1.6v1.5h-1.6zM613.4 237.0h1.6v1.5h-1.6zM615.1 237.3h1.6v1.5h-1.6zM618.5 237.5h1.6v1.5h-1.6zM621.1 236.9h1.6v1.5h-1.6zM547.3 238.4h1.6v1.5h-1.6zM548.3 238.4h1.6v1.5h-1.6zM549.4 238.7h1.6v1.5h-1.6zM551.2 238.5h1.6v1.5h-1.6zM552.4 238.5h1.6v1.5h-1.6zM553.7 238.6h1.6v1.5h-1.6zM554.6 238.5h1.6v1.5h-1.6zM556.1 238.2h1.6v1.5h-1.6zM557.0 238.5h1.6v1.5h-1.6zM558.7 238.3h1.6v1.5h-1.6zM561.1 238.3h1.6v1.5h-1.6zM562.1 238.4h1.6v1.5h-1.6zM563.4 238.8h1.6v1.5h-1.6zM565.0 238.6h1.6v1.5h-1.6zM566.0 238.2h1.6v1.5h-1.6zM567.3 238.5h1.6v1.5h-1.6zM568.2 238.7h1.6v1.5h-1.6zM570.0 238.6h1.6v1.5h-1.6zM571.1 238.4h1.6v1.5h-1.6zM572.1 238.7h1.6v1.5h-1.6zM573.2 238.2h1.6v1.5h-1.6zM574.4 238.4h1.6v1.5h-1.6zM576.2 238.3h1.6v1.5h-1.6zM577.2 238.4h1.6v1.5h-1.6zM578.5 238.7h1.6v1.5h-1.6zM579.5 238.8h1.6v1.5h-1.6zM581.2 238.8h1.6v1.5h-1.6zM582.0 238.3h1.6v1.5h-1.6zM583.5 238.4h1.6v1.5h-1.6zM585.0 238.2h1.6v1.5h-1.6zM586.0 238.5h1.6v1.5h-1.6zM587.1 238.6h1.6v1.5h-1.6zM588.2 238.3h1.6v1.5h-1.6zM589.6 238.3h1.6v1.5h-1.6zM591.2 238.4h1.6v1.5h-1.6zM592.1 238.8h1.6v1.5h-1.6zM594.6 238.5h1.6v1.5h-1.6zM595.9 238.5h1.6v1.5h-1.6zM597.4 238.8h1.6v1.5h-1.6zM598.6 238.5h1.6v1.5h-1.6zM599.7 238.5h1.6v1.5h-1.6zM600.8 238.3h1.6v1.5h-1.6zM602.1 238.5h1.6v1.5h-1.6zM603.2 238.4h1.6v1.5h-1.6zM604.8 238.2h1.6v1.5h-1.6zM606.2 238.6h1.6v1.5h-1.6zM607.1 238.6h1.6v1.5h-1.6zM608.2 238.6h1.6v1.5h-1.6zM611.2 238.8h1.6v1.5h-1.6zM613.8 238.9h1.6v1.5h-1.6zM618.1 238.6h1.6v1.5h-1.6zM621.2 238.6h1.6v1.5h-1.6zM547.3 239.7h1.6v1.5h-1.6zM548.7 239.8h1.6v1.5h-1.6zM549.5 239.9h1.6v1.5h-1.6zM550.9 239.9h1.6v1.5h-1.6zM552.0 239.9h1.6v1.5h-1.6zM553.6 239.5h1.6v1.5h-1.6zM554.5 239.7h1.6v1.5h-1.6zM555.8 239.7h1.6v1.5h-1.6zM557.2 239.9h1.6v1.5h-1.6zM558.3 239.5h1.6v1.5h-1.6zM559.6 239.5h1.6v1.5h-1.6zM560.8 239.8h1.6v1.5h-1.6zM563.4 239.5h1.6v1.5h-1.6zM564.7 239.7h1.6v1.5h-1.6zM565.8 240.0h1.6v1.5h-1.6zM567.4 239.7h1.6v1.5h-1.6zM568.4 239.9h1.6v1.5h-1.6zM569.6 239.8h1.6v1.5h-1.6zM570.8 239.6h1.6v1.5h-1.6zM572.0 240.0h1.6v1.5h-1.6zM573.7 239.7h1.6v1.5h-1.6zM574.7 240.0h1.6v1.5h-1.6zM576.1 239.9h1.6v1.5h-1.6zM577.4 239.8h1.6v1.5h-1.6zM578.2 240.0h1.6v1.5h-1.6zM579.8 239.9h1.6v1.5h-1.6zM581.2 239.8h1.6v1.5h-1.6zM582.1 240.0h1.6v1.5h-1.6zM583.4 240.0h1.6v1.5h-1.6zM584.5 239.9h1.6v1.5h-1.6zM585.9 239.9h1.6v1.5h-1.6zM587.1 239.8h1.6v1.5h-1.6zM588.3 239.9h1.6v1.5h-1.6zM589.5 239.9h1.6v1.5h-1.6zM590.7 239.8h1.6v1.5h-1.6zM592.2 240.0h1.6v1.5h-1.6zM593.7 239.7h1.6v1.5h-1.6zM594.4 239.9h1.6v1.5h-1.6zM596.1 239.9h1.6v1.5h-1.6zM597.2 239.7h1.6v1.5h-1.6zM598.5 239.5h1.6v1.5h-1.6zM599.9 239.9h1.6v1.5h-1.6zM600.7 239.6h1.6v1.5h-1.6zM602.1 239.6h1.6v1.5h-1.6zM604.6 239.9h1.6v1.5h-1.6zM606.0 240.0h1.6v1.5h-1.6zM607.0 239.7h1.6v1.5h-1.6zM608.2 239.9h1.6v1.5h-1.6zM610.0 239.7h1.6v1.5h-1.6zM611.2 240.0h1.6v1.5h-1.6zM612.3 240.2h1.6v1.5h-1.6zM613.1 239.2h1.6v1.5h-1.6zM547.2 241.0h1.6v1.5h-1.6zM550.0 241.2h1.6v1.5h-1.6zM551.1 241.1h1.6v1.5h-1.6zM552.0 241.3h1.6v1.5h-1.6zM553.5 240.9h1.6v1.5h-1.6zM554.5 241.0h1.6v1.5h-1.6zM555.7 240.7h1.6v1.5h-1.6zM556.9 240.9h1.6v1.5h-1.6zM558.6 240.7h1.6v1.5h-1.6zM559.7 240.8h1.6v1.5h-1.6zM561.2 241.0h1.6v1.5h-1.6zM562.0 241.2h1.6v1.5h-1.6zM564.7 241.3h1.6v1.5h-1.6zM565.8 240.8h1.6v1.5h-1.6zM567.1 241.1h1.6v1.5h-1.6zM568.3 240.8h1.6v1.5h-1.6zM569.5 240.7h1.6v1.5h-1.6zM572.1 241.0h1.6v1.5h-1.6zM573.3 241.0h1.6v1.5h-1.6zM575.7 241.1h1.6v1.5h-1.6zM577.3 241.0h1.6v1.5h-1.6zM578.7 241.2h1.6v1.5h-1.6zM579.8 240.9h1.6v1.5h-1.6zM580.8 241.0h1.6v1.5h-1.6zM582.0 240.9h1.6v1.5h-1.6zM583.7 240.8h1.6v1.5h-1.6zM584.6 240.9h1.6v1.5h-1.6zM585.9 240.9h1.6v1.5h-1.6zM586.9 241.1h1.6v1.5h-1.6zM590.0 240.7h1.6v1.5h-1.6zM591.2 241.2h1.6v1.5h-1.6zM592.1 240.8h1.6v1.5h-1.6zM593.4 241.3h1.6v1.5h-1.6zM594.5 241.1h1.6v1.5h-1.6zM595.8 240.7h1.6v1.5h-1.6zM597.3 240.7h1.6v1.5h-1.6zM598.5 241.0h1.6v1.5h-1.6zM599.8 240.8h1.6v1.5h-1.6zM601.1 240.8h1.6v1.5h-1.6zM602.4 241.2h1.6v1.5h-1.6zM603.2 241.3h1.6v1.5h-1.6zM604.8 240.7h1.6v1.5h-1.6zM605.9 241.2h1.6v1.5h-1.6zM607.2 241.0h1.6v1.5h-1.6zM608.2 240.8h1.6v1.5h-1.6zM609.5 241.1h1.6v1.5h-1.6zM611.1 241.1h1.6v1.5h-1.6zM612.1 241.0h1.6v1.5h-1.6zM613.9 240.4h1.6v1.5h-1.6zM616.6 240.9h1.6v1.5h-1.6zM547.0 242.4h1.6v1.5h-1.6zM548.2 242.4h1.6v1.5h-1.6zM549.9 242.1h1.6v1.5h-1.6zM551.2 242.1h1.6v1.5h-1.6zM552.4 242.1h1.6v1.5h-1.6zM553.4 242.3h1.6v1.5h-1.6zM554.6 242.5h1.6v1.5h-1.6zM556.0 242.3h1.6v1.5h-1.6zM557.4 242.1h1.6v1.5h-1.6zM558.4 242.5h1.6v1.5h-1.6zM559.5 242.1h1.6v1.5h-1.6zM561.0 242.0h1.6v1.5h-1.6zM563.5 242.0h1.6v1.5h-1.6zM564.6 242.3h1.6v1.5h-1.6zM566.2 242.2h1.6v1.5h-1.6zM567.4 242.3h1.6v1.5h-1.6zM569.5 242.4h1.6v1.5h-1.6zM571.0 242.5h1.6v1.5h-1.6zM571.9 242.5h1.6v1.5h-1.6zM575.0 242.0h1.6v1.5h-1.6zM576.0 242.3h1.6v1.5h-1.6zM577.2 242.2h1.6v1.5h-1.6zM578.7 242.3h1.6v1.5h-1.6zM580.0 242.4h1.6v1.5h-1.6zM581.1 242.3h1.6v1.5h-1.6zM581.9 242.4h1.6v1.5h-1.6zM583.4 242.2h1.6v1.5h-1.6zM585.0 242.4h1.6v1.5h-1.6zM586.0 242.2h1.6v1.5h-1.6zM586.9 242.2h1.6v1.5h-1.6zM588.7 242.2h1.6v1.5h-1.6zM589.4 242.5h1.6v1.5h-1.6zM591.1 242.5h1.6v1.5h-1.6zM592.3 242.3h1.6v1.5h-1.6zM593.6 242.5h1.6v1.5h-1.6zM594.9 242.0h1.6v1.5h-1.6zM596.1 242.5h1.6v1.5h-1.6zM597.3 242.1h1.6v1.5h-1.6zM598.7 242.4h1.6v1.5h-1.6zM599.8 242.1h1.6v1.5h-1.6zM602.1 242.1h1.6v1.5h-1.6zM605.0 242.2h1.6v1.5h-1.6zM607.0 242.5h1.6v1.5h-1.6zM608.5 242.0h1.6v1.5h-1.6zM609.6 242.0h1.6v1.5h-1.6zM611.1 242.5h1.6v1.5h-1.6zM612.4 241.9h1.6v1.5h-1.6zM614.4 242.7h1.6v1.5h-1.6zM615.9 242.5h1.6v1.5h-1.6zM617.1 242.4h1.6v1.5h-1.6zM619.0 241.8h1.6v1.5h-1.6zM620.2 242.7h1.6v1.5h-1.6zM546.9 243.3h1.6v1.5h-1.6zM548.3 243.5h1.6v1.5h-1.6zM550.0 243.6h1.6v1.5h-1.6zM550.7 243.8h1.6v1.5h-1.6zM552.2 243.6h1.6v1.5h-1.6zM553.3 243.3h1.6v1.5h-1.6zM554.5 243.2h1.6v1.5h-1.6zM556.1 243.7h1.6v1.5h-1.6zM557.0 243.4h1.6v1.5h-1.6zM558.4 243.2h1.6v1.5h-1.6zM559.9 243.7h1.6v1.5h-1.6zM560.9 243.5h1.6v1.5h-1.6zM562.3 243.3h1.6v1.5h-1.6zM563.5 243.3h1.6v1.5h-1.6zM564.7 243.5h1.6v1.5h-1.6zM566.1 243.7h1.6v1.5h-1.6zM567.5 243.4h1.6v1.5h-1.6zM568.2 243.5h1.6v1.5h-1.6zM569.7 243.7h1.6v1.5h-1.6zM570.9 243.8h1.6v1.5h-1.6zM572.1 243.4h1.6v1.5h-1.6zM573.5 243.6h1.6v1.5h-1.6zM574.8 243.2h1.6v1.5h-1.6zM575.8 243.3h1.6v1.5h-1.6zM576.9 243.3h1.6v1.5h-1.6zM578.3 243.6h1.6v1.5h-1.6zM579.5 243.6h1.6v1.5h-1.6zM582.0 243.8h1.6v1.5h-1.6zM583.6 243.5h1.6v1.5h-1.6zM584.9 243.4h1.6v1.5h-1.6zM585.8 243.3h1.6v1.5h-1.6zM587.1 243.3h1.6v1.5h-1.6zM588.7 243.3h1.6v1.5h-1.6zM589.6 243.2h1.6v1.5h-1.6zM590.7 243.4h1.6v1.5h-1.6zM593.3 243.3h1.6v1.5h-1.6zM594.8 243.5h1.6v1.5h-1.6zM596.2 243.4h1.6v1.5h-1.6zM597.3 243.4h1.6v1.5h-1.6zM598.2 243.7h1.6v1.5h-1.6zM599.5 243.2h1.6v1.5h-1.6zM600.9 243.5h1.6v1.5h-1.6zM602.0 243.4h1.6v1.5h-1.6zM603.4 243.6h1.6v1.5h-1.6zM604.5 243.5h1.6v1.5h-1.6zM605.7 243.7h1.6v1.5h-1.6zM607.3 243.3h1.6v1.5h-1.6zM608.2 243.6h1.6v1.5h-1.6zM609.8 243.2h1.6v1.5h-1.6zM611.0 243.6h1.6v1.5h-1.6zM612.3 243.4h1.6v1.5h-1.6zM613.4 243.8h1.6v1.5h-1.6zM616.0 243.5h1.6v1.5h-1.6zM547.2 244.6h1.6v1.5h-1.6zM548.2 244.8h1.6v1.5h-1.6zM549.6 245.0h1.6v1.5h-1.6zM552.2 244.8h1.6v1.5h-1.6zM553.3 244.7h1.6v1.5h-1.6zM554.8 244.7h1.6v1.5h-1.6zM556.2 244.5h1.6v1.5h-1.6zM557.2 244.8h1.6v1.5h-1.6zM558.4 245.0h1.6v1.5h-1.6zM559.9 244.6h1.6v1.5h-1.6zM561.0 245.0h1.6v1.5h-1.6zM562.3 244.5h1.6v1.5h-1.6zM563.6 244.8h1.6v1.5h-1.6zM564.9 244.5h1.6v1.5h-1.6zM566.0 244.7h1.6v1.5h-1.6zM567.2 244.5h1.6v1.5h-1.6zM568.5 244.8h1.6v1.5h-1.6zM569.7 245.0h1.6v1.5h-1.6zM570.9 244.6h1.6v1.5h-1.6zM572.5 244.7h1.6v1.5h-1.6zM573.2 244.5h1.6v1.5h-1.6zM574.7 244.8h1.6v1.5h-1.6zM576.1 245.0h1.6v1.5h-1.6zM577.1 245.0h1.6v1.5h-1.6zM578.3 244.6h1.6v1.5h-1.6zM579.5 244.9h1.6v1.5h-1.6zM580.7 245.0h1.6v1.5h-1.6zM581.9 244.6h1.6v1.5h-1.6zM583.3 244.7h1.6v1.5h-1.6zM584.5 244.6h1.6v1.5h-1.6zM585.8 244.7h1.6v1.5h-1.6zM587.4 244.5h1.6v1.5h-1.6zM588.5 244.9h1.6v1.5h-1.6zM589.4 244.9h1.6v1.5h-1.6zM590.8 244.8h1.6v1.5h-1.6zM591.9 244.9h1.6v1.5h-1.6zM593.2 244.8h1.6v1.5h-1.6zM594.9 244.6h1.6v1.5h-1.6zM595.8 244.8h1.6v1.5h-1.6zM597.4 244.6h1.6v1.5h-1.6zM598.3 244.7h1.6v1.5h-1.6zM599.6 245.0h1.6v1.5h-1.6zM601.2 244.9h1.6v1.5h-1.6zM601.9 244.6h1.6v1.5h-1.6zM603.7 244.5h1.6v1.5h-1.6zM604.8 244.7h1.6v1.5h-1.6zM605.9 244.8h1.6v1.5h-1.6zM607.4 245.0h1.6v1.5h-1.6zM608.4 244.5h1.6v1.5h-1.6zM610.9 244.6h1.6v1.5h-1.6zM612.6 244.6h1.6v1.5h-1.6zM613.1 244.8h1.6v1.5h-1.6zM614.6 245.0h1.6v1.5h-1.6zM615.4 244.1h1.6v1.5h-1.6zM618.6 244.5h1.6v1.5h-1.6zM622.0 244.6h1.6v1.5h-1.6zM547.0 246.2h1.6v1.5h-1.6zM548.6 246.1h1.6v1.5h-1.6zM550.0 245.9h1.6v1.5h-1.6zM551.1 246.3h1.6v1.5h-1.6zM552.0 245.9h1.6v1.5h-1.6zM553.3 246.0h1.6v1.5h-1.6zM554.5 245.8h1.6v1.5h-1.6zM555.9 245.9h1.6v1.5h-1.6zM557.2 246.1h1.6v1.5h-1.6zM558.7 246.1h1.6v1.5h-1.6zM559.4 246.3h1.6v1.5h-1.6zM560.8 245.8h1.6v1.5h-1.6zM562.5 245.8h1.6v1.5h-1.6zM563.7 246.1h1.6v1.5h-1.6zM565.0 246.0h1.6v1.5h-1.6zM568.5 246.1h1.6v1.5h-1.6zM569.5 246.1h1.6v1.5h-1.6zM572.2 246.1h1.6v1.5h-1.6zM573.6 246.2h1.6v1.5h-1.6zM574.9 246.2h1.6v1.5h-1.6zM575.9 245.9h1.6v1.5h-1.6zM576.9 246.3h1.6v1.5h-1.6zM578.4 246.0h1.6v1.5h-1.6zM579.8 245.9h1.6v1.5h-1.6zM581.2 245.8h1.6v1.5h-1.6zM582.2 246.0h1.6v1.5h-1.6zM583.7 246.1h1.6v1.5h-1.6zM584.9 245.8h1.6v1.5h-1.6zM585.8 246.1h1.6v1.5h-1.6zM588.5 245.9h1.6v1.5h-1.6zM589.7 245.9h1.6v1.5h-1.6zM590.9 245.9h1.6v1.5h-1.6zM592.4 245.9h1.6v1.5h-1.6zM593.7 246.0h1.6v1.5h-1.6zM594.9 245.9h1.6v1.5h-1.6zM595.7 245.9h1.6v1.5h-1.6zM597.4 246.1h1.6v1.5h-1.6zM598.3 246.0h1.6v1.5h-1.6zM599.9 245.9h1.6v1.5h-1.6zM600.8 246.3h1.6v1.5h-1.6zM602.0 246.0h1.6v1.5h-1.6zM603.5 245.9h1.6v1.5h-1.6zM604.6 246.0h1.6v1.5h-1.6zM605.7 245.8h1.6v1.5h-1.6zM607.1 245.9h1.6v1.5h-1.6zM608.3 246.2h1.6v1.5h-1.6zM609.7 245.9h1.6v1.5h-1.6zM610.9 246.1h1.6v1.5h-1.6zM612.3 246.3h1.6v1.5h-1.6zM620.3 246.5h1.6v1.5h-1.6z"/>
<path fill="#440154" d="M543.6 224.1h1.6v1.5h-1.6zM551.0 224.6h1.6v1.5h-1.6zM543.5 226.7h1.6v1.5h-1.6zM545.6 226.0h1.6v1.5h-1.6zM561.1 226.1h1.6v1.5h-1.6zM542.1 228.0h1.6v1.5h-1.6zM555.2 227.7h1.6v1.5h-1.6zM543.4 228.6h1.6v1.5h-1.6zM546.2 229.1h1.6v1.5h-1.6zM546.8 228.6h1.6v1.5h-1.6zM548.3 228.7h1.6v1.5h-1.6zM555.0 228.9h1.6v1.5h-1.6zM558.0 228.4h1.6v1.5h-1.6zM560.7 228.3h1.6v1.5h-1.6zM566.9 228.7h1.6v1.5h-1.6zM542.7 229.9h1.6v1.5h-1.6zM544.8 230.2h1.6v1.5h-1.6zM546.7 230.2h1.6v1.5h-1.6zM549.8 229.7h1.6v1.5h-1.6zM551.3 230.3h1.6v1.5h-1.6zM561.7 230.5h1.6v1.5h-1.6zM542.4 231.4h1.6v1.5h-1.6zM544.2 230.9h1.6v1.5h-1.6zM545.1 231.6h1.6v1.5h-1.6zM546.5 231.2h1.6v1.5h-1.6zM548.0 231.0h1.6v1.5h-1.6zM549.0 230.8h1.6v1.5h-1.6zM550.3 231.0h1.6v1.5h-1.6zM551.9 231.1h1.6v1.5h-1.6zM542.3 232.5h1.6v1.5h-1.6zM545.9 232.2h1.6v1.5h-1.6zM548.0 232.1h1.6v1.5h-1.6zM548.5 231.9h1.6v1.5h-1.6zM551.4 232.9h1.6v1.5h-1.6zM553.0 232.4h1.6v1.5h-1.6zM553.4 232.6h1.6v1.5h-1.6zM556.6 233.0h1.6v1.5h-1.6zM557.2 232.0h1.6v1.5h-1.6zM562.8 232.8h1.6v1.5h-1.6zM542.4 233.6h1.6v1.5h-1.6zM543.8 233.7h1.6v1.5h-1.6zM546.0 233.7h1.6v1.5h-1.6zM547.5 233.8h1.6v1.5h-1.6zM550.6 233.6h1.6v1.5h-1.6zM554.3 234.0h1.6v1.5h-1.6zM557.5 234.3h1.6v1.5h-1.6zM560.1 233.9h1.6v1.5h-1.6zM561.2 234.0h1.6v1.5h-1.6zM563.9 233.9h1.6v1.5h-1.6zM567.4 234.1h1.6v1.5h-1.6zM542.4 234.8h1.6v1.5h-1.6zM543.8 235.0h1.6v1.5h-1.6zM544.7 235.0h1.6v1.5h-1.6zM546.1 235.0h1.6v1.5h-1.6zM547.4 235.0h1.6v1.5h-1.6zM548.8 235.1h1.6v1.5h-1.6zM551.5 234.5h1.6v1.5h-1.6zM552.7 235.0h1.6v1.5h-1.6zM553.7 234.5h1.6v1.5h-1.6zM554.6 234.7h1.6v1.5h-1.6zM556.3 234.8h1.6v1.5h-1.6zM557.1 235.0h1.6v1.5h-1.6zM558.6 234.5h1.6v1.5h-1.6zM559.5 235.3h1.6v1.5h-1.6zM565.4 234.7h1.6v1.5h-1.6zM542.3 236.3h1.6v1.5h-1.6zM543.6 236.1h1.6v1.5h-1.6zM545.0 236.3h1.6v1.5h-1.6zM546.2 236.4h1.6v1.5h-1.6zM547.6 236.1h1.6v1.5h-1.6zM548.7 236.0h1.6v1.5h-1.6zM550.0 236.5h1.6v1.5h-1.6zM551.2 236.0h1.6v1.5h-1.6zM552.9 236.0h1.6v1.5h-1.6zM554.2 236.1h1.6v1.5h-1.6zM554.4 236.2h1.6v1.5h-1.6zM557.3 236.8h1.6v1.5h-1.6zM558.1 236.7h1.6v1.5h-1.6zM561.4 236.2h1.6v1.5h-1.6zM566.1 236.6h1.6v1.5h-1.6zM542.4 237.3h1.6v1.5h-1.6zM543.7 237.5h1.6v1.5h-1.6zM545.0 237.4h1.6v1.5h-1.6zM546.0 237.5h1.6v1.5h-1.6zM547.4 237.6h1.6v1.5h-1.6zM548.6 237.7h1.6v1.5h-1.6zM550.0 237.4h1.6v1.5h-1.6zM551.3 237.3h1.6v1.5h-1.6zM552.4 237.7h1.6v1.5h-1.6zM553.6 237.6h1.6v1.5h-1.6zM558.5 237.5h1.6v1.5h-1.6zM561.0 238.0h1.6v1.5h-1.6zM565.4 237.5h1.6v1.5h-1.6zM542.4 238.6h1.6v1.5h-1.6zM543.6 238.8h1.6v1.5h-1.6zM545.1 238.8h1.6v1.5h-1.6zM546.3 238.8h1.6v1.5h-1.6zM547.3 238.9h1.6v1.5h-1.6zM548.7 238.5h1.6v1.5h-1.6zM551.2 238.5h1.6v1.5h-1.6zM552.5 238.8h1.6v1.5h-1.6zM553.7 238.9h1.6v1.5h-1.6zM555.0 238.8h1.6v1.5h-1.6zM556.0 238.6h1.6v1.5h-1.6zM557.5 238.7h1.6v1.5h-1.6zM558.6 238.6h1.6v1.5h-1.6zM559.7 238.9h1.6v1.5h-1.6zM562.3 239.2h1.6v1.5h-1.6zM566.4 239.0h1.6v1.5h-1.6zM542.3 240.0h1.6v1.5h-1.6zM543.7 239.9h1.6v1.5h-1.6zM544.7 240.1h1.6v1.5h-1.6zM546.0 239.9h1.6v1.5h-1.6zM547.6 240.1h1.6v1.5h-1.6zM548.8 240.1h1.6v1.5h-1.6zM549.9 239.9h1.6v1.5h-1.6zM551.1 239.9h1.6v1.5h-1.6zM552.3 240.1h1.6v1.5h-1.6zM553.6 240.2h1.6v1.5h-1.6zM554.7 239.9h1.6v1.5h-1.6zM556.1 240.2h1.6v1.5h-1.6zM558.5 239.8h1.6v1.5h-1.6zM559.9 240.0h1.6v1.5h-1.6zM561.0 239.9h1.6v1.5h-1.6zM562.7 239.7h1.6v1.5h-1.6zM563.3 239.6h1.6v1.5h-1.6zM564.3 240.4h1.6v1.5h-1.6zM542.4 241.1h1.6v1.5h-1.6zM543.8 241.5h1.6v1.5h-1.6zM545.1 241.4h1.6v1.5h-1.6zM546.2 241.1h1.6v1.5h-1.6zM547.2 241.3h1.6v1.5h-1.6zM548.9 241.1h1.6v1.5h-1.6zM550.1 241.2h1.6v1.5h-1.6zM551.0 241.4h1.6v1.5h-1.6zM552.2 241.1h1.6v1.5h-1.6zM553.7 241.3h1.6v1.5h-1.6zM554.9 241.3h1.6v1.5h-1.6zM556.0 241.1h1.6v1.5h-1.6zM557.4 241.3h1.6v1.5h-1.6zM558.5 241.4h1.6v1.5h-1.6zM559.8 241.2h1.6v1.5h-1.6zM561.0 241.2h1.6v1.5h-1.6zM562.2 241.6h1.6v1.5h-1.6zM542.3 242.4h1.6v1.5h-1.6zM543.8 242.5h1.6v1.5h-1.6zM545.0 242.4h1.6v1.5h-1.6zM545.9 242.3h1.6v1.5h-1.6zM547.4 242.3h1.6v1.5h-1.6zM548.7 242.4h1.6v1.5h-1.6zM550.1 242.5h1.6v1.5h-1.6zM550.9 242.3h1.6v1.5h-1.6zM552.2 242.6h1.6v1.5h-1.6zM553.7 242.7h1.6v1.5h-1.6zM554.7 242.7h1.6v1.5h-1.6zM556.0 242.4h1.6v1.5h-1.6zM557.2 242.4h1.6v1.5h-1.6zM558.8 242.3h1.6v1.5h-1.6zM559.8 242.4h1.6v1.5h-1.6zM561.1 242.5h1.6v1.5h-1.6zM562.0 242.9h1.6v1.5h-1.6zM567.8 242.0h1.6v1.5h-1.6zM570.2 243.1h1.6v1.5h-1.6zM542.4 243.7h1.6v1.5h-1.6zM543.9 243.7h1.6v1.5h-1.6zM544.7 243.7h1.6v1.5h-1.6zM546.0 244.0h1.6v1.5h-1.6zM547.6 243.9h1.6v1.5h-1.6zM548.8 243.9h1.6v1.5h-1.6zM550.0 243.8h1.6v1.5h-1.6zM551.1 243.9h1.6v1.5h-1.6zM552.6 244.0h1.6v1.5h-1.6zM553.5 244.0h1.6v1.5h-1.6zM554.9 243.5h1.6v1.5h-1.6zM556.1 243.9h1.6v1.5h-1.6zM557.5 243.9h1.6v1.5h-1.6zM558.7 243.9h1.6v1.5h-1.6zM559.8 243.6h1.6v1.5h-1.6zM561.3 243.8h1.6v1.5h-1.6zM562.1 243.9h1.6v1.5h-1.6zM563.2 243.4h1.6v1.5h-1.6zM542.4 244.8h1.6v1.5h-1.6zM543.5 244.8h1.6v1.5h-1.6zM545.0 245.0h1.6v1.5h-1.6zM546.3 245.0h1.6v1.5h-1.6zM547.2 244.8h1.6v1.5h-1.6zM548.7 245.0h1.6v1.5h-1.6zM550.1 244.8h1.6v1.5h-1.6zM551.2 245.2h1.6v1.5h-1.6zM553.5 244.9h1.6v1.5h-1.6zM554.9 244.9h1.6v1.5h-1.6zM555.9 244.9h1.6v1.5h-1.6zM557.3 244.9h1.6v1.5h-1.6zM558.6 244.9h1.6v1.5h-1.6zM559.8 245.1h1.6v1.5h-1.6zM560.9 244.9h1.6v1.5h-1.6zM562.2 244.8h1.6v1.5h-1.6zM564.1 244.7h1.6v1.5h-1.6zM565.9 244.6h1.6v1.5h-1.6zM542.3 246.4h1.6v1.5h-1.6zM543.8 246.3h1.6v1.5h-1.6zM544.9 246.3h1.6v1.5h-1.6zM546.0 246.5h1.6v1.5h-1.6zM547.6 246.2h1.6v1.5h-1.6zM548.6 246.2h1.6v1.5h-1.6zM551.2 246.4h1.6v1.5h-1.6zM552.2 246.1h1.6v1.5h-1.6zM553.7 246.3h1.6v1.5h-1.6zM554.7 246.1h1.6v1.5h-1.6zM555.9 246.4h1.6v1.5h-1.6zM558.7 246.4h1.6v1.5h-1.6zM559.9 246.3h1.6v1.5h-1.6zM561.2 246.1h1.6v1.5h-1.6zM562.2 246.6h1.6v1.5h-1.6zM563.1 246.1h1.6v1.5h-1.6zM566.2 245.8h1.6v1.5h-1.6z"/>
<path fill="#fde725" d="M557.7 228.8h1.6v1.5h-1.6zM562.2 228.5h1.6v1.5h-1.6zM553.9 229.9h1.6v1.5h-1.6zM555.9 229.9h1.6v1.5h-1.6zM559.7 229.4h1.6v1.5h-1.6zM553.7 231.1h1.6v1.5h-1.6zM547.2 232.4h1.6v1.5h-1.6zM553.3 232.5h1.6v1.5h-1.6zM559.1 231.9h1.6v1.5h-1.6zM547.2 234.2h1.6v1.5h-1.6zM550.6 234.3h1.6v1.5h-1.6zM553.4 234.4h1.6v1.5h-1.6zM555.8 234.6h1.6v1.5h-1.6zM556.9 235.0h1.6v1.5h-1.6zM560.4 235.3h1.6v1.5h-1.6zM562.3 235.2h1.6v1.5h-1.6zM559.2 236.1h1.6v1.5h-1.6zM562.3 235.7h1.6v1.5h-1.6zM565.1 236.0h1.6v1.5h-1.6zM547.6 236.9h1.6v1.5h-1.6zM551.5 237.5h1.6v1.5h-1.6zM551.3 238.5h1.6v1.5h-1.6zM546.4 240.2h1.6v1.5h-1.6zM550.8 239.9h1.6v1.5h-1.6zM548.1 241.3h1.6v1.5h-1.6zM553.4 243.2h1.6v1.5h-1.6zM552.6 245.3h1.6v1.5h-1.6zM550.1 245.4h1.6v1.5h-1.6zM554.6 246.1h1.6v1.5h-1.6zM558.3 245.5h1.6v1.5h-1.6z"/>
<path fill="#31688e" d="M603.6 233.2h1.6v1.5h-1.6zM574.6 234.1h1.6v1.5h-1.6zM575.6 235.7h1.6v1.5h-1.6zM591.5 235.6h1.6v1.5h-1.6zM589.5 237.6h1.6v1.5h-1.6zM595.6 239.0h1.6v1.5h-1.6zM570.1 239.8h1.6v1.5h-1.6zM603.5 239.5h1.6v1.5h-1.6zM566.3 241.3h1.6v1.5h-1.6zM581.8 240.6h1.6v1.5h-1.6zM588.1 240.8h1.6v1.5h-1.6zM589.2 242.9h1.6v1.5h-1.6zM567.7 246.1h1.6v1.5h-1.6z"/>
<path fill="#35b779" d="M629.1 224.2h1.6v1.5h-1.6zM651.4 223.7h1.6v1.5h-1.6zM626.8 226.5h1.6v1.5h-1.6zM634.7 227.7h1.6v1.5h-1.6zM641.6 228.2h1.6v1.5h-1.6zM650.8 228.5h1.6v1.5h-1.6zM660.9 227.7h1.6v1.5h-1.6zM620.9 228.8h1.6v1.5h-1.6zM631.1 228.7h1.6v1.5h-1.6zM643.5 229.3h1.6v1.5h-1.6zM624.9 230.5h1.6v1.5h-1.6zM635.1 230.0h1.6v1.5h-1.6zM647.3 230.8h1.6v1.5h-1.6zM649.4 230.2h1.6v1.5h-1.6zM630.3 232.2h1.6v1.5h-1.6zM643.7 231.1h1.6v1.5h-1.6zM649.0 231.5h1.6v1.5h-1.6zM653.7 231.6h1.6v1.5h-1.6zM673.9 232.0h1.6v1.5h-1.6zM614.3 233.2h1.6v1.5h-1.6zM619.5 232.5h1.6v1.5h-1.6zM622.5 233.3h1.6v1.5h-1.6zM623.5 233.2h1.6v1.5h-1.6zM624.3 233.3h1.6v1.5h-1.6zM635.2 232.8h1.6v1.5h-1.6zM641.2 233.2h1.6v1.5h-1.6zM642.0 233.4h1.6v1.5h-1.6zM646.2 232.9h1.6v1.5h-1.6zM652.5 233.0h1.6v1.5h-1.6zM654.7 233.6h1.6v1.5h-1.6zM660.0 233.0h1.6v1.5h-1.6zM663.7 232.5h1.6v1.5h-1.6zM664.3 233.2h1.6v1.5h-1.6zM670.8 233.2h1.6v1.5h-1.6zM610.2 234.2h1.6v1.5h-1.6zM613.3 234.6h1.6v1.5h-1.6zM615.3 234.6h1.6v1.5h-1.6zM616.8 234.7h1.6v1.5h-1.6zM619.3 233.7h1.6v1.5h-1.6zM621.0 233.8h1.6v1.5h-1.6zM632.3 234.2h1.6v1.5h-1.6zM634.1 234.6h1.6v1.5h-1.6zM638.6 234.0h1.6v1.5h-1.6zM643.1 233.9h1.6v1.5h-1.6zM644.6 233.8h1.6v1.5h-1.6zM652.3 233.7h1.6v1.5h-1.6zM666.8 233.7h1.6v1.5h-1.6zM614.2 235.7h1.6v1.5h-1.6zM615.7 235.6h1.6v1.5h-1.6zM617.2 235.7h1.6v1.5h-1.6zM618.0 235.5h1.6v1.5h-1.6zM619.2 236.0h1.6v1.5h-1.6zM620.7 235.5h1.6v1.5h-1.6zM624.1 235.4h1.6v1.5h-1.6zM625.0 235.6h1.6v1.5h-1.6zM625.9 235.7h1.6v1.5h-1.6zM626.8 234.9h1.6v1.5h-1.6zM628.2 235.8h1.6v1.5h-1.6zM629.2 235.9h1.6v1.5h-1.6zM630.5 235.1h1.6v1.5h-1.6zM633.8 235.8h1.6v1.5h-1.6zM634.3 235.8h1.6v1.5h-1.6zM635.4 234.9h1.6v1.5h-1.6zM637.1 235.9h1.6v1.5h-1.6zM639.8 236.0h1.6v1.5h-1.6zM641.2 235.3h1.6v1.5h-1.6zM642.3 234.9h1.6v1.5h-1.6zM643.8 235.9h1.6v1.5h-1.6zM644.6 235.6h1.6v1.5h-1.6zM645.8 234.9h1.6v1.5h-1.6zM653.2 235.0h1.6v1.5h-1.6zM654.6 235.4h1.6v1.5h-1.6zM655.7 236.1h1.6v1.5h-1.6zM656.7 235.6h1.6v1.5h-1.6zM659.8 236.0h1.6v1.5h-1.6zM660.6 235.9h1.6v1.5h-1.6zM667.5 235.5h1.6v1.5h-1.6zM671.6 235.2h1.6v1.5h-1.6zM675.1 235.9h1.6v1.5h-1.6zM609.9 236.6h1.6v1.5h-1.6zM612.4 236.3h1.6v1.5h-1.6zM614.8 236.3h1.6v1.5h-1.6zM615.5 236.7h1.6v1.5h-1.6zM620.6 236.7h1.6v1.5h-1.6zM622.2 237.3h1.6v1.5h-1.6zM623.2 236.8h1.6v1.5h-1.6zM624.4 236.2h1.6v1.5h-1.6zM626.4 236.3h1.6v1.5h-1.6zM627.8 237.0h1.6v1.5h-1.6zM628.6 236.8h1.6v1.5h-1.6zM629.3 237.0h1.6v1.5h-1.6zM630.7 236.7h1.6v1.5h-1.6zM631.9 237.1h1.6v1.5h-1.6zM633.1 237.1h1.6v1.5h-1.6zM634.8 237.0h1.6v1.5h-1.6zM636.2 236.2h1.6v1.5h-1.6zM640.2 236.4h1.6v1.5h-1.6zM641.9 236.3h1.6v1.5h-1.6zM643.7 237.1h1.6v1.5h-1.6zM644.7 236.8h1.6v1.5h-1.6zM645.8 237.1h1.6v1.5h-1.6zM647.3 237.4h1.6v1.5h-1.6zM649.8 236.6h1.6v1.5h-1.6zM651.2 237.2h1.6v1.5h-1.6zM652.0 237.4h1.6v1.5h-1.6zM655.4 236.7h1.6v1.5h-1.6zM656.9 236.5h1.6v1.5h-1.6zM659.4 236.9h1.6v1.5h-1.6zM660.8 237.2h1.6v1.5h-1.6zM662.5 236.6h1.6v1.5h-1.6zM663.2 236.4h1.6v1.5h-1.6zM666.1 237.2h1.6v1.5h-1.6zM667.8 236.3h1.6v1.5h-1.6zM613.6 238.0h1.6v1.5h-1.6zM615.0 238.0h1.6v1.5h-1.6zM615.6 237.4h1.6v1.5h-1.6zM619.0 237.8h1.6v1.5h-1.6zM621.3 237.6h1.6v1.5h-1.6zM622.1 238.4h1.6v1.5h-1.6zM623.7 238.2h1.6v1.5h-1.6zM624.4 238.2h1.6v1.5h-1.6zM625.8 237.9h1.6v1.5h-1.6zM627.4 237.5h1.6v1.5h-1.6zM629.2 237.6h1.6v1.5h-1.6zM630.7 238.3h1.6v1.5h-1.6zM632.3 237.5h1.6v1.5h-1.6zM633.0 238.5h1.6v1.5h-1.6zM635.3 237.5h1.6v1.5h-1.6zM635.4 238.1h1.6v1.5h-1.6zM637.5 237.9h1.6v1.5h-1.6zM639.0 237.8h1.6v1.5h-1.6zM639.5 238.1h1.6v1.5h-1.6zM642.7 238.1h1.6v1.5h-1.6zM645.3 238.5h1.6v1.5h-1.6zM646.5 237.9h1.6v1.5h-1.6zM646.9 237.4h1.6v1.5h-1.6zM648.5 238.2h1.6v1.5h-1.6zM649.2 238.3h1.6v1.5h-1.6zM650.8 237.4h1.6v1.5h-1.6zM652.7 237.8h1.6v1.5h-1.6zM654.0 238.1h1.6v1.5h-1.6zM656.5 238.4h1.6v1.5h-1.6zM656.8 237.5h1.6v1.5h-1.6zM657.9 238.0h1.6v1.5h-1.6zM660.8 238.2h1.6v1.5h-1.6zM662.6 238.3h1.6v1.5h-1.6zM663.9 238.2h1.6v1.5h-1.6zM665.1 238.3h1.6v1.5h-1.6zM666.5 237.4h1.6v1.5h-1.6zM668.6 237.8h1.6v1.5h-1.6zM670.2 238.0h1.6v1.5h-1.6zM671.6 238.5h1.6v1.5h-1.6zM675.0 237.6h1.6v1.5h-1.6zM614.0 238.6h1.6v1.5h-1.6zM616.1 239.3h1.6v1.5h-1.6zM616.8 239.1h1.6v1.5h-1.6zM618.5 239.2h1.6v1.5h-1.6zM619.3 239.0h1.6v1.5h-1.6zM621.6 238.8h1.6v1.5h-1.6zM623.6 239.5h1.6v1.5h-1.6zM624.7 238.8h1.6v1.5h-1.6zM626.4 238.9h1.6v1.5h-1.6zM627.5 239.7h1.6v1.5h-1.6zM629.7 239.6h1.6v1.5h-1.6zM632.8 239.4h1.6v1.5h-1.6zM635.2 239.9h1.6v1.5h-1.6zM635.7 239.4h1.6v1.5h-1.6zM636.9 239.9h1.6v1.5h-1.6zM637.9 239.6h1.6v1.5h-1.6zM639.4 239.5h1.6v1.5h-1.6zM640.7 238.9h1.6v1.5h-1.6zM642.1 238.9h1.6v1.5h-1.6zM642.9 238.9h1.6v1.5h-1.6zM645.2 239.0h1.6v1.5h-1.6zM645.6 239.6h1.6v1.5h-1.6zM647.1 238.7h1.6v1.5h-1.6zM648.2 239.4h1.6v1.5h-1.6zM650.2 238.9h1.6v1.5h-1.6zM651.4 239.8h1.6v1.5h-1.6zM651.8 238.8h1.6v1.5h-1.6zM653.7 238.7h1.6v1.5h-1.6zM654.3 238.6h1.6v1.5h-1.6zM656.0 239.3h1.6v1.5h-1.6zM657.4 238.9h1.6v1.5h-1.6zM659.3 239.7h1.6v1.5h-1.6zM662.4 239.1h1.6v1.5h-1.6zM662.9 239.6h1.6v1.5h-1.6zM664.2 239.4h1.6v1.5h-1.6zM666.4 238.7h1.6v1.5h-1.6zM668.8 238.7h1.6v1.5h-1.6zM670.2 239.3h1.6v1.5h-1.6zM671.9 239.5h1.6v1.5h-1.6zM673.4 239.5h1.6v1.5h-1.6zM609.5 240.0h1.6v1.5h-1.6zM614.2 241.0h1.6v1.5h-1.6zM615.8 240.6h1.6v1.5h-1.6zM619.1 240.3h1.6v1.5h-1.6zM620.5 240.1h1.6v1.5h-1.6zM622.1 240.6h1.6v1.5h-1.6zM623.0 240.3h1.6v1.5h-1.6zM625.2 240.8h1.6v1.5h-1.6zM626.5 240.6h1.6v1.5h-1.6zM627.4 240.7h1.6v1.5h-1.6zM627.9 240.3h1.6v1.5h-1.6zM631.7 240.0h1.6v1.5h-1.6zM632.9 240.3h1.6v1.5h-1.6zM635.1 240.8h1.6v1.5h-1.6zM636.5 240.0h1.6v1.5h-1.6zM637.0 239.9h1.6v1.5h-1.6zM640.0 241.1h1.6v1.5h-1.6zM642.2 240.7h1.6v1.5h-1.6zM644.5 240.1h1.6v1.5h-1.6zM646.1 240.1h1.6v1.5h-1.6zM646.6 240.2h1.6v1.5h-1.6zM648.0 240.3h1.6v1.5h-1.6zM649.2 240.6h1.6v1.5h-1.6zM651.1 241.1h1.6v1.5h-1.6zM653.9 240.7h1.6v1.5h-1.6zM654.7 239.9h1.6v1.5h-1.6zM657.4 240.7h1.6v1.5h-1.6zM658.1 240.7h1.6v1.5h-1.6zM661.0 240.6h1.6v1.5h-1.6zM661.8 240.3h1.6v1.5h-1.6zM664.0 240.3h1.6v1.5h-1.6zM664.9 241.1h1.6v1.5h-1.6zM665.4 240.6h1.6v1.5h-1.6zM666.8 241.1h1.6v1.5h-1.6zM668.1 240.6h1.6v1.5h-1.6zM669.4 240.0h1.6v1.5h-1.6zM671.1 240.1h1.6v1.5h-1.6zM672.2 241.1h1.6v1.5h-1.6zM612.8 241.1h1.6v1.5h-1.6zM617.2 241.6h1.6v1.5h-1.6zM618.5 241.9h1.6v1.5h-1.6zM619.7 241.9h1.6v1.5h-1.6zM621.2 241.7h1.6v1.5h-1.6zM625.0 241.7h1.6v1.5h-1.6zM625.5 241.4h1.6v1.5h-1.6zM626.9 241.5h1.6v1.5h-1.6zM628.4 241.7h1.6v1.5h-1.6zM630.1 241.7h1.6v1.5h-1.6zM631.1 242.3h1.6v1.5h-1.6zM633.2 241.1h1.6v1.5h-1.6zM635.0 242.1h1.6v1.5h-1.6zM636.1 242.1h1.6v1.5h-1.6zM636.7 241.2h1.6v1.5h-1.6zM638.6 241.6h1.6v1.5h-1.6zM639.7 241.9h1.6v1.5h-1.6zM643.1 241.6h1.6v1.5h-1.6zM645.2 241.8h1.6v1.5h-1.6zM645.6 242.1h1.6v1.5h-1.6zM648.8 241.8h1.6v1.5h-1.6zM649.3 242.2h1.6v1.5h-1.6zM651.6 242.0h1.6v1.5h-1.6zM652.9 241.4h1.6v1.5h-1.6zM656.0 242.0h1.6v1.5h-1.6zM656.9 241.9h1.6v1.5h-1.6zM658.3 242.1h1.6v1.5h-1.6zM660.1 241.5h1.6v1.5h-1.6zM661.4 241.6h1.6v1.5h-1.6zM661.6 242.0h1.6v1.5h-1.6zM664.6 241.3h1.6v1.5h-1.6zM666.4 242.2h1.6v1.5h-1.6zM670.2 241.8h1.6v1.5h-1.6zM670.4 241.8h1.6v1.5h-1.6zM674.0 241.4h1.6v1.5h-1.6zM609.4 243.6h1.6v1.5h-1.6zM611.3 242.5h1.6v1.5h-1.6zM612.1 242.9h1.6v1.5h-1.6zM614.7 243.0h1.6v1.5h-1.6zM616.5 243.1h1.6v1.5h-1.6zM617.3 243.1h1.6v1.5h-1.6zM618.0 242.5h1.6v1.5h-1.6zM619.9 242.8h1.6v1.5h-1.6zM622.1 242.4h1.6v1.5h-1.6zM624.1 242.9h1.6v1.5h-1.6zM625.8 242.7h1.6v1.5h-1.6zM627.2 242.9h1.6v1.5h-1.6zM629.5 243.1h1.6v1.5h-1.6zM631.3 243.3h1.6v1.5h-1.6zM631.7 243.3h1.6v1.5h-1.6zM634.3 243.3h1.6v1.5h-1.6zM635.3 243.4h1.6v1.5h-1.6zM636.6 243.5h1.6v1.5h-1.6zM639.6 242.8h1.6v1.5h-1.6zM641.3 242.5h1.6v1.5h-1.6zM643.1 243.3h1.6v1.5h-1.6zM645.4 243.1h1.6v1.5h-1.6zM646.6 242.5h1.6v1.5h-1.6zM648.1 242.8h1.6v1.5h-1.6zM649.9 242.5h1.6v1.5h-1.6zM652.0 243.0h1.6v1.5h-1.6zM653.5 243.2h1.6v1.5h-1.6zM654.2 243.5h1.6v1.5h-1.6zM656.0 242.5h1.6v1.5h-1.6zM656.9 243.1h1.6v1.5h-1.6zM658.9 243.3h1.6v1.5h-1.6zM662.9 243.1h1.6v1.5h-1.6zM665.0 242.7h1.6v1.5h-1.6zM667.0 242.8h1.6v1.5h-1.6zM671.2 242.4h1.6v1.5h-1.6zM671.8 243.4h1.6v1.5h-1.6zM608.5 243.9h1.6v1.5h-1.6zM609.4 244.5h1.6v1.5h-1.6zM610.9 243.9h1.6v1.5h-1.6zM613.6 244.4h1.6v1.5h-1.6zM614.9 244.2h1.6v1.5h-1.6zM617.3 244.0h1.6v1.5h-1.6zM618.1 244.2h1.6v1.5h-1.6zM620.1 243.7h1.6v1.5h-1.6zM621.0 244.6h1.6v1.5h-1.6zM622.4 244.1h1.6v1.5h-1.6zM623.7 244.0h1.6v1.5h-1.6zM624.3 244.9h1.6v1.5h-1.6zM626.0 243.7h1.6v1.5h-1.6zM627.2 243.8h1.6v1.5h-1.6zM628.0 244.6h1.6v1.5h-1.6zM629.2 243.9h1.6v1.5h-1.6zM631.2 244.6h1.6v1.5h-1.6zM632.3 244.4h1.6v1.5h-1.6zM632.9 244.3h1.6v1.5h-1.6zM634.9 244.1h1.6v1.5h-1.6zM636.2 244.3h1.6v1.5h-1.6zM638.8 243.7h1.6v1.5h-1.6zM640.6 244.9h1.6v1.5h-1.6zM641.9 243.7h1.6v1.5h-1.6zM644.9 244.5h1.6v1.5h-1.6zM645.7 244.1h1.6v1.5h-1.6zM647.0 244.1h1.6v1.5h-1.6zM648.7 244.7h1.6v1.5h-1.6zM650.7 244.2h1.6v1.5h-1.6zM651.9 244.6h1.6v1.5h-1.6zM654.0 244.7h1.6v1.5h-1.6zM655.9 244.5h1.6v1.5h-1.6zM657.6 244.3h1.6v1.5h-1.6zM658.7 243.8h1.6v1.5h-1.6zM660.9 243.8h1.6v1.5h-1.6zM664.4 243.8h1.6v1.5h-1.6zM667.7 244.0h1.6v1.5h-1.6zM668.2 244.1h1.6v1.5h-1.6zM670.3 244.0h1.6v1.5h-1.6zM670.7 244.5h1.6v1.5h-1.6zM611.7 245.3h1.6v1.5h-1.6zM615.5 245.3h1.6v1.5h-1.6zM617.5 245.9h1.6v1.5h-1.6zM619.0 245.5h1.6v1.5h-1.6zM620.0 245.2h1.6v1.5h-1.6zM621.1 246.0h1.6v1.5h-1.6zM622.4 245.9h1.6v1.5h-1.6zM623.0 246.1h1.6v1.5h-1.6zM624.7 245.1h1.6v1.5h-1.6zM625.9 245.4h1.6v1.5h-1.6zM627.5 245.7h1.6v1.5h-1.6zM628.6 245.2h1.6v1.5h-1.6zM630.0 244.9h1.6v1.5h-1.6zM630.4 245.8h1.6v1.5h-1.6zM631.9 245.4h1.6v1.5h-1.6zM633.2 245.7h1.6v1.5h-1.6zM635.2 245.9h1.6v1.5h-1.6zM635.8 245.3h1.6v1.5h-1.6zM637.7 244.9h1.6v1.5h-1.6zM637.9 245.4h1.6v1.5h-1.6zM640.1 246.1h1.6v1.5h-1.6zM641.4 245.9h1.6v1.5h-1.6zM642.0 245.5h1.6v1.5h-1.6zM644.8 245.9h1.6v1.5h-1.6zM645.7 244.9h1.6v1.5h-1.6zM647.1 245.9h1.6v1.5h-1.6zM649.1 245.4h1.6v1.5h-1.6zM650.2 245.7h1.6v1.5h-1.6zM650.9 245.2h1.6v1.5h-1.6zM653.5 245.4h1.6v1.5h-1.6zM654.1 246.1h1.6v1.5h-1.6zM656.5 246.0h1.6v1.5h-1.6zM656.9 245.6h1.6v1.5h-1.6zM657.9 245.5h1.6v1.5h-1.6zM659.8 246.1h1.6v1.5h-1.6zM660.9 246.1h1.6v1.5h-1.6zM662.5 246.1h1.6v1.5h-1.6zM663.7 245.7h1.6v1.5h-1.6zM664.4 245.3h1.6v1.5h-1.6zM666.0 245.4h1.6v1.5h-1.6zM666.9 245.4h1.6v1.5h-1.6zM668.6 245.1h1.6v1.5h-1.6zM669.3 245.4h1.6v1.5h-1.6zM670.7 245.1h1.6v1.5h-1.6zM672.8 245.8h1.6v1.5h-1.6zM610.7 247.2h1.6v1.5h-1.6zM612.0 246.8h1.6v1.5h-1.6zM615.1 247.4h1.6v1.5h-1.6zM616.1 247.2h1.6v1.5h-1.6zM617.7 247.3h1.6v1.5h-1.6zM618.2 246.6h1.6v1.5h-1.6zM619.1 247.3h1.6v1.5h-1.6zM621.5 246.9h1.6v1.5h-1.6zM622.2 247.1h1.6v1.5h-1.6zM623.5 247.2h1.6v1.5h-1.6zM625.2 246.4h1.6v1.5h-1.6zM626.5 246.6h1.6v1.5h-1.6zM628.2 247.2h1.6v1.5h-1.6zM632.0 247.2h1.6v1.5h-1.6zM635.5 246.4h1.6v1.5h-1.6zM638.2 247.3h1.6v1.5h-1.6zM639.4 247.2h1.6v1.5h-1.6zM640.5 246.6h1.6v1.5h-1.6zM642.3 246.7h1.6v1.5h-1.6zM645.3 246.2h1.6v1.5h-1.6zM645.6 246.6h1.6v1.5h-1.6zM647.0 247.2h1.6v1.5h-1.6zM648.9 247.1h1.6v1.5h-1.6zM649.9 246.6h1.6v1.5h-1.6zM651.1 246.5h1.6v1.5h-1.6zM652.8 246.7h1.6v1.5h-1.6zM652.9 247.1h1.6v1.5h-1.6zM654.7 247.0h1.6v1.5h-1.6zM659.9 246.1h1.6v1.5h-1.6zM660.6 247.1h1.6v1.5h-1.6zM662.0 246.6h1.6v1.5h-1.6zM664.0 246.2h1.6v1.5h-1.6zM665.1 246.8h1.6v1.5h-1.6zM667.1 246.2h1.6v1.5h-1.6zM668.7 246.3h1.6v1.5h-1.6zM670.2 246.9h1.6v1.5h-1.6zM671.0 247.1h1.6v1.5h-1.6zM671.9 246.3h1.6v1.5h-1.6z"/>
<path fill="#31688e" d="M669.3 204.4h1.6v1.5h-1.6zM666.3 205.1h1.6v1.5h-1.6zM668.5 206.5h1.6v1.5h-1.6zM668.2 208.1h1.6v1.5h-1.6zM669.6 207.8h1.6v1.5h-1.6zM666.9 209.8h1.6v1.5h-1.6zM662.9 209.9h1.6v1.5h-1.6zM665.5 209.9h1.6v1.5h-1.6zM667.1 212.2h1.6v1.5h-1.6zM667.8 212.2h1.6v1.5h-1.6zM669.1 211.3h1.6v1.5h-1.6zM664.1 212.8h1.6v1.5h-1.6zM666.1 213.2h1.6v1.5h-1.6zM666.0 214.9h1.6v1.5h-1.6zM668.0 213.9h1.6v1.5h-1.6zM662.3 216.0h1.6v1.5h-1.6zM665.5 215.9h1.6v1.5h-1.6zM663.7 217.3h1.6v1.5h-1.6zM666.0 217.0h1.6v1.5h-1.6zM667.5 216.4h1.6v1.5h-1.6zM664.5 217.4h1.6v1.5h-1.6zM667.6 218.0h1.6v1.5h-1.6zM663.2 218.9h1.6v1.5h-1.6zM667.1 219.4h1.6v1.5h-1.6zM667.9 219.6h1.6v1.5h-1.6zM670.7 219.4h1.6v1.5h-1.6zM666.0 221.1h1.6v1.5h-1.6zM661.5 221.8h1.6v1.5h-1.6zM668.3 222.0h1.6v1.5h-1.6zM670.5 221.5h1.6v1.5h-1.6zM662.4 223.4h1.6v1.5h-1.6zM664.0 222.4h1.6v1.5h-1.6zM665.9 222.4h1.6v1.5h-1.6zM666.6 222.7h1.6v1.5h-1.6zM668.3 222.6h1.6v1.5h-1.6zM669.1 222.8h1.6v1.5h-1.6zM670.8 222.4h1.6v1.5h-1.6zM666.8 224.2h1.6v1.5h-1.6zM668.5 224.6h1.6v1.5h-1.6zM669.5 224.1h1.6v1.5h-1.6zM634.6 226.1h1.6v1.5h-1.6zM640.9 225.1h1.6v1.5h-1.6zM661.1 226.1h1.6v1.5h-1.6zM664.3 225.9h1.6v1.5h-1.6zM666.7 226.0h1.6v1.5h-1.6zM668.6 225.2h1.6v1.5h-1.6zM607.4 227.2h1.6v1.5h-1.6zM646.6 226.5h1.6v1.5h-1.6zM664.0 227.1h1.6v1.5h-1.6zM667.2 226.3h1.6v1.5h-1.6zM667.6 227.1h1.6v1.5h-1.6zM670.2 226.5h1.6v1.5h-1.6zM602.4 227.4h1.6v1.5h-1.6zM614.1 227.8h1.6v1.5h-1.6zM635.7 228.4h1.6v1.5h-1.6zM638.6 227.6h1.6v1.5h-1.6zM639.1 227.8h1.6v1.5h-1.6zM642.9 227.5h1.6v1.5h-1.6zM646.8 227.8h1.6v1.5h-1.6zM652.7 227.9h1.6v1.5h-1.6zM662.3 227.4h1.6v1.5h-1.6zM665.3 227.6h1.6v1.5h-1.6zM669.0 228.2h1.6v1.5h-1.6zM671.5 228.0h1.6v1.5h-1.6zM646.8 228.8h1.6v1.5h-1.6zM647.9 228.9h1.6v1.5h-1.6zM649.5 228.9h1.6v1.5h-1.6zM652.4 228.7h1.6v1.5h-1.6zM660.8 229.2h1.6v1.5h-1.6zM664.0 229.7h1.6v1.5h-1.6zM665.1 228.8h1.6v1.5h-1.6zM666.6 228.8h1.6v1.5h-1.6zM667.6 228.8h1.6v1.5h-1.6zM668.7 229.3h1.6v1.5h-1.6zM653.2 230.9h1.6v1.5h-1.6zM657.9 230.0h1.6v1.5h-1.6zM660.0 230.5h1.6v1.5h-1.6zM662.2 230.0h1.6v1.5h-1.6zM662.6 231.1h1.6v1.5h-1.6zM666.0 230.9h1.6v1.5h-1.6zM666.5 230.2h1.6v1.5h-1.6zM668.4 229.9h1.6v1.5h-1.6zM602.3 232.2h1.6v1.5h-1.6zM607.2 232.2h1.6v1.5h-1.6zM611.5 232.2h1.6v1.5h-1.6zM616.9 231.8h1.6v1.5h-1.6zM638.2 231.9h1.6v1.5h-1.6zM662.1 232.1h1.6v1.5h-1.6zM662.6 232.0h1.6v1.5h-1.6zM664.8 231.6h1.6v1.5h-1.6zM664.9 231.3h1.6v1.5h-1.6zM668.0 231.8h1.6v1.5h-1.6zM669.5 231.2h1.6v1.5h-1.6zM670.1 231.2h1.6v1.5h-1.6zM672.2 231.3h1.6v1.5h-1.6zM604.3 233.0h1.6v1.5h-1.6zM635.9 232.9h1.6v1.5h-1.6zM637.8 232.8h1.6v1.5h-1.6zM660.8 233.2h1.6v1.5h-1.6zM662.5 233.1h1.6v1.5h-1.6zM663.7 233.2h1.6v1.5h-1.6zM665.9 232.8h1.6v1.5h-1.6zM666.3 232.6h1.6v1.5h-1.6zM668.1 232.8h1.6v1.5h-1.6zM670.9 233.3h1.6v1.5h-1.6zM623.0 234.5h1.6v1.5h-1.6zM636.0 234.3h1.6v1.5h-1.6zM648.5 234.3h1.6v1.5h-1.6zM649.0 234.0h1.6v1.5h-1.6zM657.1 234.7h1.6v1.5h-1.6zM663.4 233.9h1.6v1.5h-1.6zM664.4 234.6h1.6v1.5h-1.6zM665.1 234.3h1.6v1.5h-1.6zM666.3 233.9h1.6v1.5h-1.6zM668.1 234.4h1.6v1.5h-1.6zM669.6 234.6h1.6v1.5h-1.6zM612.7 235.5h1.6v1.5h-1.6zM616.9 235.8h1.6v1.5h-1.6zM625.5 235.2h1.6v1.5h-1.6zM627.1 235.7h1.6v1.5h-1.6zM630.1 235.1h1.6v1.5h-1.6zM632.6 235.1h1.6v1.5h-1.6zM634.3 235.3h1.6v1.5h-1.6zM645.0 235.9h1.6v1.5h-1.6zM646.9 235.7h1.6v1.5h-1.6zM650.0 235.4h1.6v1.5h-1.6zM651.3 235.8h1.6v1.5h-1.6zM661.7 236.0h1.6v1.5h-1.6zM663.0 236.0h1.6v1.5h-1.6zM665.1 235.5h1.6v1.5h-1.6zM667.0 235.5h1.6v1.5h-1.6zM667.7 235.9h1.6v1.5h-1.6zM669.4 235.1h1.6v1.5h-1.6zM670.8 235.1h1.6v1.5h-1.6zM614.1 237.0h1.6v1.5h-1.6zM616.9 236.1h1.6v1.5h-1.6zM624.6 236.4h1.6v1.5h-1.6zM629.6 237.2h1.6v1.5h-1.6zM654.5 236.4h1.6v1.5h-1.6zM662.0 236.6h1.6v1.5h-1.6zM663.3 236.4h1.6v1.5h-1.6zM664.1 236.5h1.6v1.5h-1.6zM665.2 236.6h1.6v1.5h-1.6zM666.6 237.0h1.6v1.5h-1.6zM667.8 236.5h1.6v1.5h-1.6zM669.3 236.5h1.6v1.5h-1.6zM670.5 236.8h1.6v1.5h-1.6zM632.2 238.6h1.6v1.5h-1.6zM649.2 237.8h1.6v1.5h-1.6zM650.8 238.1h1.6v1.5h-1.6zM655.0 237.9h1.6v1.5h-1.6zM661.8 238.2h1.6v1.5h-1.6zM662.9 237.6h1.6v1.5h-1.6zM666.8 237.5h1.6v1.5h-1.6zM669.4 237.6h1.6v1.5h-1.6zM670.0 237.8h1.6v1.5h-1.6zM629.1 238.9h1.6v1.5h-1.6zM636.8 239.0h1.6v1.5h-1.6zM640.7 239.5h1.6v1.5h-1.6zM644.5 239.5h1.6v1.5h-1.6zM660.3 239.4h1.6v1.5h-1.6zM661.3 239.5h1.6v1.5h-1.6zM663.1 239.4h1.6v1.5h-1.6zM664.6 238.8h1.6v1.5h-1.6zM665.4 239.4h1.6v1.5h-1.6zM667.1 239.5h1.6v1.5h-1.6zM667.8 239.6h1.6v1.5h-1.6zM669.0 239.2h1.6v1.5h-1.6zM670.2 239.1h1.6v1.5h-1.6zM612.9 240.3h1.6v1.5h-1.6zM613.8 240.7h1.6v1.5h-1.6zM618.4 240.8h1.6v1.5h-1.6zM621.2 240.7h1.6v1.5h-1.6zM634.7 240.6h1.6v1.5h-1.6zM658.4 240.2h1.6v1.5h-1.6zM662.8 240.7h1.6v1.5h-1.6zM663.9 240.1h1.6v1.5h-1.6zM665.3 240.2h1.6v1.5h-1.6zM666.5 240.8h1.6v1.5h-1.6zM668.2 240.5h1.6v1.5h-1.6zM669.1 240.2h1.6v1.5h-1.6zM673.5 240.5h1.6v1.5h-1.6zM627.9 242.0h1.6v1.5h-1.6zM638.9 241.4h1.6v1.5h-1.6zM642.7 242.4h1.6v1.5h-1.6zM644.9 241.4h1.6v1.5h-1.6zM646.4 242.2h1.6v1.5h-1.6zM660.2 242.2h1.6v1.5h-1.6zM661.8 241.6h1.6v1.5h-1.6zM662.9 241.8h1.6v1.5h-1.6zM665.1 242.0h1.6v1.5h-1.6zM666.4 242.1h1.6v1.5h-1.6zM667.9 242.1h1.6v1.5h-1.6zM669.5 241.9h1.6v1.5h-1.6zM670.5 241.4h1.6v1.5h-1.6zM612.0 243.5h1.6v1.5h-1.6zM622.5 243.4h1.6v1.5h-1.6zM639.0 243.3h1.6v1.5h-1.6zM644.5 243.4h1.6v1.5h-1.6zM662.1 243.3h1.6v1.5h-1.6zM662.9 243.0h1.6v1.5h-1.6zM664.5 243.0h1.6v1.5h-1.6zM665.6 243.0h1.6v1.5h-1.6zM666.8 242.8h1.6v1.5h-1.6zM669.4 243.3h1.6v1.5h-1.6zM670.7 243.0h1.6v1.5h-1.6zM615.4 244.3h1.6v1.5h-1.6zM617.5 243.7h1.6v1.5h-1.6zM621.1 244.1h1.6v1.5h-1.6zM626.1 244.2h1.6v1.5h-1.6zM638.3 244.7h1.6v1.5h-1.6zM639.8 244.7h1.6v1.5h-1.6zM645.4 244.6h1.6v1.5h-1.6zM647.9 243.7h1.6v1.5h-1.6zM648.6 244.4h1.6v1.5h-1.6zM654.5 244.0h1.6v1.5h-1.6zM661.0 243.8h1.6v1.5h-1.6zM661.4 244.3h1.6v1.5h-1.6zM664.0 244.6h1.6v1.5h-1.6zM665.3 244.2h1.6v1.5h-1.6zM667.9 244.1h1.6v1.5h-1.6zM670.6 244.2h1.6v1.5h-1.6zM671.9 244.2h1.6v1.5h-1.6zM617.8 246.0h1.6v1.5h-1.6zM629.9 245.3h1.6v1.5h-1.6zM631.4 246.1h1.6v1.5h-1.6zM634.1 245.0h1.6v1.5h-1.6zM635.4 245.9h1.6v1.5h-1.6zM639.4 245.4h1.6v1.5h-1.6zM643.2 245.0h1.6v1.5h-1.6zM644.1 244.9h1.6v1.5h-1.6zM652.0 245.6h1.6v1.5h-1.6zM657.7 245.4h1.6v1.5h-1.6zM660.3 245.6h1.6v1.5h-1.6zM661.6 245.8h1.6v1.5h-1.6zM663.2 245.2h1.6v1.5h-1.6zM664.2 245.2h1.6v1.5h-1.6zM665.4 245.3h1.6v1.5h-1.6zM667.0 245.2h1.6v1.5h-1.6zM668.3 245.8h1.6v1.5h-1.6zM669.3 245.7h1.6v1.5h-1.6zM670.4 245.5h1.6v1.5h-1.6zM617.9 246.8h1.6v1.5h-1.6zM627.3 246.3h1.6v1.5h-1.6zM629.8 246.9h1.6v1.5h-1.6zM630.3 247.1h1.6v1.5h-1.6zM650.4 246.2h1.6v1.5h-1.6zM651.6 246.5h1.6v1.5h-1.6zM656.1 246.6h1.6v1.5h-1.6zM660.4 246.9h1.6v1.5h-1.6zM661.4 246.5h1.6v1.5h-1.6zM663.1 247.0h1.6v1.5h-1.6zM664.5 246.6h1.6v1.5h-1.6zM665.2 247.0h1.6v1.5h-1.6zM667.0 246.4h1.6v1.5h-1.6zM668.0 246.8h1.6v1.5h-1.6zM669.3 246.5h1.6v1.5h-1.6zM670.4 246.4h1.6v1.5h-1.6zM671.5 246.5h1.6v1.5h-1.6z"/>
<path fill="#440154" d="M542.8 201.8h1.8v1.7h-1.8zM542.8 206.2h1.8v1.7h-1.8zM542.8 210.8h1.8v1.7h-1.8zM547.9 207.5h1.8v1.7h-1.8zM548.7 215.2h1.8v1.7h-1.8zM550.5 219.6h1.8v1.7h-1.8zM555.1 220.2h1.8v1.7h-1.8z"/>
<path fill="#fde725" d="M551.3 197.7h1.8v1.7h-1.8zM599.0 197.7h1.8v1.7h-1.8zM598.2 205.3h1.8v1.7h-1.8zM598.2 215.2h1.8v1.7h-1.8zM553.1 219.1h1.8v1.7h-1.8zM557.7 219.1h1.8v1.7h-1.8zM564.9 221.6h1.8v1.7h-1.8zM567.5 221.6h1.8v1.7h-1.8zM573.2 220.2h1.8v1.7h-1.8zM584.0 219.1h1.8v1.7h-1.8zM583.8 219.2h1.8v1.7h-1.8zM589.0 224.8h1.8v1.7h-1.8zM599.4 228.1h1.8v1.7h-1.8z"/>
<path fill="#31688e" d="M570.6 217.0h1.8v1.7h-1.8zM579.1 218.2h1.8v1.7h-1.8zM609.3 223.7h1.8v1.7h-1.8zM578.8 218.2h1.8v1.7h-1.8zM609.1 223.8h1.8v1.7h-1.8zM633.2 229.5h1.8v1.7h-1.8zM596.8 230.1h1.8v1.7h-1.8zM604.4 231.3h1.8v1.7h-1.8zM615.3 231.3h1.8v1.7h-1.8zM623.5 231.3h1.8v1.7h-1.8zM625.9 231.3h1.8v1.7h-1.8zM667.9 191.1h1.8v1.7h-1.8zM666.9 193.2h1.8v1.7h-1.8zM666.9 202.0h1.8v1.7h-1.8zM666.9 207.6h1.8v1.7h-1.8zM658.3 214.8h1.8v1.7h-1.8zM662.0 216.2h1.8v1.7h-1.8zM666.1 216.2h1.8v1.7h-1.8z"/>
<path fill="#35b779" d="M610.1 226.8h1.8v1.7h-1.8zM619.1 223.7h1.8v1.7h-1.8zM618.8 223.8h1.8v1.7h-1.8zM610.4 227.1h1.8v1.7h-1.8zM634.6 221.5h1.8v1.7h-1.8zM636.5 226.2h1.8v1.7h-1.8zM629.6 228.1h1.8v1.7h-1.8zM621.3 230.3h1.8v1.7h-1.8zM656.0 206.3h1.8v1.7h-1.8zM653.5 214.8h1.8v1.7h-1.8zM670.4 161.8h1.8v1.7h-1.8zM675.0 245.2h1.8v1.7h-1.8zM672.6 243.2h1.8v1.7h-1.8z"/></g><rect x="537.2" y="157.6" width="146.40" height="94.80" fill="none" stroke="#a8a8a8" stroke-width="1.1"/>
<line x1="544.10" y1="252.4" x2="544.10" y2="254.00" stroke="#a8a8a8" stroke-width="0.7"/>
<line x1="537.2" y1="247.30" x2="535.60" y2="247.30" stroke="#a8a8a8" stroke-width="0.7"/>
<text x="544.10" y="259.40" class="tk" text-anchor="middle">0.0</text>
<text x="534.40" y="249.20" class="tk" text-anchor="end">0.0</text>
<line x1="570.56" y1="252.4" x2="570.56" y2="254.00" stroke="#a8a8a8" stroke-width="0.7"/>
<line x1="537.2" y1="230.42" x2="535.60" y2="230.42" stroke="#a8a8a8" stroke-width="0.7"/>
<text x="570.56" y="259.40" class="tk" text-anchor="middle">0.2</text>
<text x="534.40" y="232.32" class="tk" text-anchor="end">0.2</text>
<line x1="597.02" y1="252.4" x2="597.02" y2="254.00" stroke="#a8a8a8" stroke-width="0.7"/>
<line x1="537.2" y1="213.54" x2="535.60" y2="213.54" stroke="#a8a8a8" stroke-width="0.7"/>
<text x="597.02" y="259.40" class="tk" text-anchor="middle">0.4</text>
<text x="534.40" y="215.44" class="tk" text-anchor="end">0.4</text>
<line x1="623.48" y1="252.4" x2="623.48" y2="254.00" stroke="#a8a8a8" stroke-width="0.7"/>
<line x1="537.2" y1="196.66" x2="535.60" y2="196.66" stroke="#a8a8a8" stroke-width="0.7"/>
<text x="623.48" y="259.40" class="tk" text-anchor="middle">0.6</text>
<text x="534.40" y="198.56" class="tk" text-anchor="end">0.6</text>
<line x1="649.94" y1="252.4" x2="649.94" y2="254.00" stroke="#a8a8a8" stroke-width="0.7"/>
<line x1="537.2" y1="179.78" x2="535.60" y2="179.78" stroke="#a8a8a8" stroke-width="0.7"/>
<text x="649.94" y="259.40" class="tk" text-anchor="middle">0.8</text>
<text x="534.40" y="181.68" class="tk" text-anchor="end">0.8</text>
<line x1="676.40" y1="252.4" x2="676.40" y2="254.00" stroke="#a8a8a8" stroke-width="0.7"/>
<line x1="537.2" y1="162.90" x2="535.60" y2="162.90" stroke="#a8a8a8" stroke-width="0.7"/>
<text x="676.40" y="259.40" class="tk" text-anchor="middle">1.0</text>
<text x="534.40" y="164.80" class="tk" text-anchor="end">1.0</text>
<text x="610.40" y="265.30" class="al" text-anchor="middle">Component  1</text>
<text transform="translate(524.00,205.00) rotate(-90)" class="al" text-anchor="middle">Component  2</text>
<text x="611.00" y="155.00" class="tt" text-anchor="middle">cluster __ Scatterplot of Canonical Variables</text>
<text x="540.2" y="275.2" class="lbb">(<tspan class="lt">h</tspan>)</text>
</svg></div></body></html>
